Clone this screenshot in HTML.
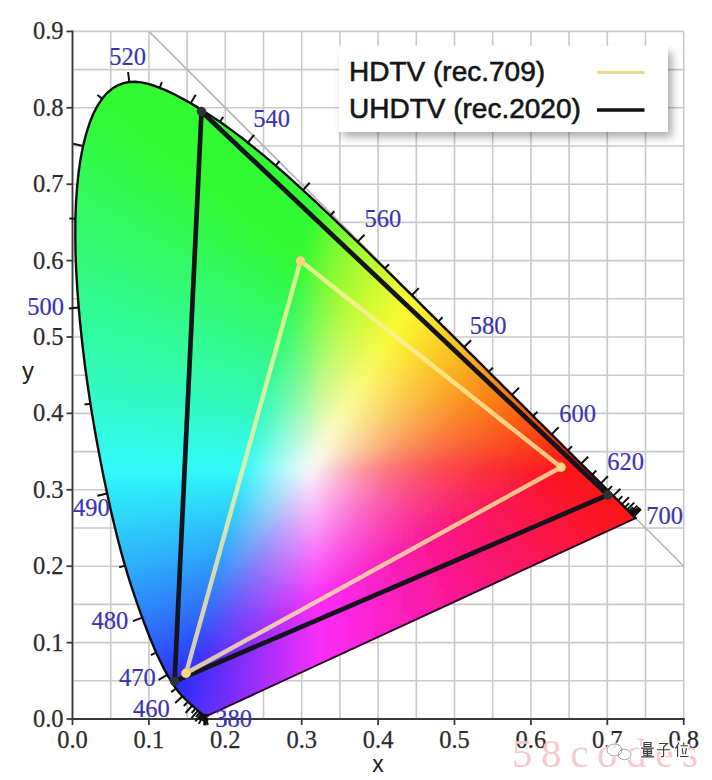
<!DOCTYPE html>
<html><head><meta charset="utf-8">
<style>
html,body{margin:0;padding:0;background:#fff;}
body{width:712px;height:780px;overflow:hidden;font-family:"Liberation Sans",sans-serif;}
svg{display:block;}
.serif{font-family:"Liberation Serif",serif;}
.sans{font-family:"Liberation Sans",sans-serif;}
</style></head><body>
<svg width="712" height="780" viewBox="0 0 712 780">
<defs>
<clipPath id="locus"><path d="M208.0 715.5 L205.5 715.2 L205.5 715.2 L205.5 715.2 L205.5 715.2 L205.4 715.2 L205.4 715.2 L205.4 715.2 L205.4 715.2 L205.3 715.2 L205.3 715.2 L205.2 715.2 L205.2 715.2 L205.2 715.2 L205.1 715.2 L205.1 715.2 L205.1 715.3 L205.0 715.3 L205.0 715.3 L205.0 715.3 L204.9 715.3 L204.9 715.3 L204.9 715.3 L204.8 715.4 L204.7 715.4 L204.7 715.4 L204.6 715.3 L204.6 715.3 L204.5 715.3 L204.4 715.3 L204.3 715.3 L204.3 715.3 L204.2 715.3 L204.1 715.3 L204.1 715.3 L204.0 715.3 L203.9 715.3 L203.8 715.3 L203.7 715.2 L203.6 715.2 L203.5 715.1 L203.3 715.0 L203.1 714.9 L203.0 714.8 L202.8 714.7 L202.6 714.6 L202.4 714.4 L202.2 714.3 L202.0 714.1 L201.8 713.9 L201.5 713.7 L201.3 713.5 L201.0 713.3 L200.7 713.0 L200.3 712.8 L200.0 712.5 L199.7 712.2 L199.3 711.8 L198.9 711.5 L198.5 711.1 L198.1 710.7 L197.7 710.3 L197.2 709.9 L196.7 709.4 L196.2 709.0 L195.6 708.5 L195.0 707.9 L194.3 707.4 L193.6 706.8 L192.9 706.1 L192.2 705.5 L191.4 704.8 L190.6 704.1 L189.7 703.3 L188.8 702.5 L187.9 701.6 L186.9 700.7 L185.8 699.7 L184.8 698.7 L183.6 697.5 L182.5 696.3 L181.3 695.0 L180.1 693.6 L178.8 692.1 L177.4 690.4 L176.0 688.5 L174.5 686.4 L172.9 684.0 L171.1 681.2 L169.3 678.2 L167.3 674.8 L165.3 671.2 L163.2 667.2 L161.0 662.8 L158.7 658.0 L156.2 652.7 L153.7 646.8 L151.0 640.4 L148.2 633.4 L145.3 625.8 L142.2 617.6 L139.0 608.7 L135.7 599.2 L132.2 588.8 L128.6 577.6 L125.0 565.6 L121.4 552.9 L117.8 539.3 L114.3 524.9 L110.7 509.7 L107.2 493.6 L103.6 476.8 L100.2 459.3 L96.8 441.2 L93.5 422.6 L90.4 403.7 L87.6 384.6 L84.9 365.3 L82.6 346.0 L80.5 326.8 L78.7 307.6 L77.3 288.8 L76.2 270.4 L75.5 252.6 L75.3 235.4 L75.4 218.7 L76.0 202.6 L77.1 187.2 L78.6 172.5 L80.6 158.7 L83.1 145.9 L86.1 134.1 L89.5 123.4 L93.3 113.8 L97.6 105.6 L102.2 98.6 L107.1 93.0 L112.4 88.6 L117.8 85.3 L123.5 83.1 L129.3 82.0 L135.2 81.8 L141.2 82.4 L147.3 83.7 L153.5 85.5 L159.7 87.8 L166.0 90.4 L172.2 93.3 L178.5 96.5 L184.6 99.9 L190.7 103.3 L196.7 106.9 L202.6 110.5 L208.4 114.2 L214.1 117.9 L219.9 121.8 L225.5 125.8 L231.2 129.9 L236.8 134.1 L242.4 138.3 L247.9 142.7 L253.5 147.1 L259.0 151.6 L264.5 156.2 L270.1 160.9 L275.6 165.6 L281.0 170.4 L286.5 175.2 L292.0 180.1 L297.5 185.1 L302.9 190.1 L308.4 195.1 L313.9 200.2 L319.3 205.3 L324.8 210.5 L330.2 215.6 L335.7 220.9 L341.2 226.1 L346.6 231.3 L352.1 236.6 L357.5 241.9 L363.0 247.2 L368.5 252.5 L373.9 257.9 L379.3 263.2 L384.8 268.5 L390.2 273.9 L395.6 279.2 L401.0 284.6 L406.4 289.9 L411.8 295.2 L417.1 300.5 L422.4 305.8 L427.7 311.1 L433.0 316.3 L438.3 321.6 L443.5 326.8 L448.7 331.9 L453.9 337.1 L459.0 342.2 L464.0 347.2 L469.1 352.3 L474.1 357.2 L479.0 362.1 L483.9 367.0 L488.7 371.8 L493.5 376.6 L498.2 381.2 L502.8 385.9 L507.4 390.4 L511.9 394.9 L516.3 399.3 L520.7 403.7 L525.0 407.9 L529.1 412.1 L533.1 416.1 L537.0 420.0 L540.8 423.7 L544.5 427.4 L548.1 430.9 L551.6 434.4 L555.0 437.8 L558.3 441.2 L561.6 444.4 L564.7 447.5 L567.8 450.5 L570.6 453.4 L573.4 456.2 L576.1 458.8 L578.7 461.4 L581.1 463.8 L583.5 466.2 L585.8 468.4 L588.0 470.6 L590.1 472.7 L592.1 474.7 L594.0 476.6 L595.8 478.4 L597.6 480.2 L599.2 481.8 L600.8 483.4 L602.3 484.9 L603.8 486.4 L605.2 487.8 L606.5 489.1 L607.8 490.3 L609.0 491.5 L610.1 492.7 L611.2 493.8 L612.3 494.9 L613.3 495.9 L614.4 496.9 L615.3 497.9 L616.3 498.8 L617.2 499.7 L618.0 500.6 L618.8 501.4 L619.6 502.2 L620.4 502.9 L621.1 503.7 L621.8 504.4 L622.5 505.0 L623.2 505.7 L623.8 506.3 L624.3 506.9 L624.9 507.4 L625.4 507.9 L625.9 508.4 L626.3 508.8 L626.8 509.3 L627.2 509.7 L627.5 510.0 L627.9 510.4 L628.3 510.8 L628.6 511.1 L628.9 511.4 L629.2 511.7 L629.5 512.0 L629.7 512.2 L630.0 512.5 L630.2 512.7 L630.4 512.9 L630.6 513.1 L630.7 513.2 L630.9 513.4 L631.1 513.6 L631.2 513.7 L631.3 513.8 L631.5 514.0 L631.6 514.1 L631.7 514.2 L631.9 514.4 L632.0 514.5 L632.1 514.6 L632.2 514.7 L632.3 514.8 L632.4 514.9 L632.5 515.0 L632.6 515.1 L632.7 515.2 L632.8 515.3 L632.9 515.4 L633.0 515.5 L633.1 515.6 L633.2 515.7 L633.3 515.8 L633.4 515.9 L633.4 515.9 L633.5 516.0 L633.5 516.0 L633.6 516.1 L633.6 516.1 L633.6 516.1 L633.7 516.2 L633.7 516.2 L633.7 516.2 L633.8 516.3 L633.8 516.3 L633.8 516.3 L633.8 516.3 L633.8 516.3 L635.6 518.1 Z"/></clipPath>
<filter id="blur" x="-5%" y="-5%" width="110%" height="110%"><feGaussianBlur stdDeviation="4"/></filter>
<filter id="shadow" x="-10%" y="-20%" width="125%" height="150%"><feGaussianBlur stdDeviation="4"/></filter>
<g id="wmg">
<g transform="translate(641,742.5)">
<path d="M3 0 H10 V4 H3 Z M3 2 H10 M0 5.6 H13 M2.5 7.2 H10.5 V11 H2.5 Z M2.5 9.1 H10.5 M6.5 7.2 V14.4 M2 12.7 H11 M0 14.4 H13"/>
</g>
<g transform="translate(657,742.5)">
<path d="M2 1 H10.5 L6.6 4.6 V13 Q6.6 14.6 4.2 14 M0 7.2 H13"/>
</g>
<g transform="translate(675,742.5)">
<path d="M4 0 L0.4 6.2 M2.6 3.6 V14.5 M8.7 0 V2.4 M5.5 3.2 H13 M7.2 5.6 L8 11.6 M11.4 5.6 L10.3 11.6 M5 14 H13.6"/>
</g>
</g>
<g id="wxi">
<ellipse cx="614.5" cy="750" rx="7.5" ry="6"/>
<ellipse cx="624.5" cy="754.5" rx="6.5" ry="5.2"/>
</g>
</defs>
<rect width="712" height="780" fill="#ffffff"/>
<g stroke="#c9c9c9" stroke-width="1.6" fill="none">
<line x1="72.5" y1="31.4" x2="72.5" y2="719.0"/>
<line x1="110.7" y1="31.4" x2="110.7" y2="719.0"/>
<line x1="148.9" y1="31.4" x2="148.9" y2="719.0"/>
<line x1="187.1" y1="31.4" x2="187.1" y2="719.0"/>
<line x1="225.3" y1="31.4" x2="225.3" y2="719.0"/>
<line x1="263.5" y1="31.4" x2="263.5" y2="719.0"/>
<line x1="301.7" y1="31.4" x2="301.7" y2="719.0"/>
<line x1="339.9" y1="31.4" x2="339.9" y2="719.0"/>
<line x1="378.1" y1="31.4" x2="378.1" y2="719.0"/>
<line x1="416.3" y1="31.4" x2="416.3" y2="719.0"/>
<line x1="454.5" y1="31.4" x2="454.5" y2="719.0"/>
<line x1="492.7" y1="31.4" x2="492.7" y2="719.0"/>
<line x1="530.9" y1="31.4" x2="530.9" y2="719.0"/>
<line x1="569.1" y1="31.4" x2="569.1" y2="719.0"/>
<line x1="607.3" y1="31.4" x2="607.3" y2="719.0"/>
<line x1="645.5" y1="31.4" x2="645.5" y2="719.0"/>
<line x1="683.7" y1="31.4" x2="683.7" y2="719.0"/>
<line x1="72.5" y1="719.0" x2="683.7" y2="719.0"/>
<line x1="72.5" y1="680.8" x2="683.7" y2="680.8"/>
<line x1="72.5" y1="642.6" x2="683.7" y2="642.6"/>
<line x1="72.5" y1="604.4" x2="683.7" y2="604.4"/>
<line x1="72.5" y1="566.2" x2="683.7" y2="566.2"/>
<line x1="72.5" y1="528.0" x2="683.7" y2="528.0"/>
<line x1="72.5" y1="489.8" x2="683.7" y2="489.8"/>
<line x1="72.5" y1="451.6" x2="683.7" y2="451.6"/>
<line x1="72.5" y1="413.4" x2="683.7" y2="413.4"/>
<line x1="72.5" y1="375.2" x2="683.7" y2="375.2"/>
<line x1="72.5" y1="337.0" x2="683.7" y2="337.0"/>
<line x1="72.5" y1="298.8" x2="683.7" y2="298.8"/>
<line x1="72.5" y1="260.6" x2="683.7" y2="260.6"/>
<line x1="72.5" y1="222.4" x2="683.7" y2="222.4"/>
<line x1="72.5" y1="184.2" x2="683.7" y2="184.2"/>
<line x1="72.5" y1="146.0" x2="683.7" y2="146.0"/>
<line x1="72.5" y1="107.8" x2="683.7" y2="107.8"/>
<line x1="72.5" y1="69.6" x2="683.7" y2="69.6"/>
<line x1="72.5" y1="31.4" x2="683.7" y2="31.4"/>
</g>
<line x1="148.9" y1="31.4" x2="683.7" y2="566.2" stroke="#b4b4b4" stroke-width="1.6"/>
<g stroke="#3a3a3a" stroke-width="1.8" fill="none">
<line x1="72.5" y1="30.4" x2="72.5" y2="720.0"/>
<line x1="71.5" y1="719.0" x2="684.7" y2="719.0"/>
<line x1="72.5" y1="719.0" x2="72.5" y2="725.0"/>
<line x1="148.9" y1="719.0" x2="148.9" y2="725.0"/>
<line x1="225.3" y1="719.0" x2="225.3" y2="725.0"/>
<line x1="301.7" y1="719.0" x2="301.7" y2="725.0"/>
<line x1="378.1" y1="719.0" x2="378.1" y2="725.0"/>
<line x1="454.5" y1="719.0" x2="454.5" y2="725.0"/>
<line x1="530.9" y1="719.0" x2="530.9" y2="725.0"/>
<line x1="607.3" y1="719.0" x2="607.3" y2="725.0"/>
<line x1="683.7" y1="719.0" x2="683.7" y2="725.0"/>
<line x1="66.5" y1="719.0" x2="72.5" y2="719.0"/>
<line x1="66.5" y1="642.6" x2="72.5" y2="642.6"/>
<line x1="66.5" y1="566.2" x2="72.5" y2="566.2"/>
<line x1="66.5" y1="489.8" x2="72.5" y2="489.8"/>
<line x1="66.5" y1="413.4" x2="72.5" y2="413.4"/>
<line x1="66.5" y1="337.0" x2="72.5" y2="337.0"/>
<line x1="66.5" y1="260.6" x2="72.5" y2="260.6"/>
<line x1="66.5" y1="184.2" x2="72.5" y2="184.2"/>
<line x1="66.5" y1="107.8" x2="72.5" y2="107.8"/>
<line x1="66.5" y1="31.4" x2="72.5" y2="31.4"/>
</g>
<g class="serif" font-size="24.5" fill="#2b2b2b" stroke="#2b2b2b" stroke-width="0.25">
<text x="72.5" y="747.5" text-anchor="middle">0.0</text>
<text x="148.9" y="747.5" text-anchor="middle">0.1</text>
<text x="225.3" y="747.5" text-anchor="middle">0.2</text>
<text x="301.7" y="747.5" text-anchor="middle">0.3</text>
<text x="378.1" y="747.5" text-anchor="middle">0.4</text>
<text x="454.5" y="747.5" text-anchor="middle">0.5</text>
<text x="530.9" y="747.5" text-anchor="middle">0.6</text>
<text x="607.3" y="747.5" text-anchor="middle">0.7</text>
<text x="683.7" y="747.5" text-anchor="middle">0.8</text>
<text x="63.5" y="727.0" text-anchor="end">0.0</text>
<text x="63.5" y="650.6" text-anchor="end">0.1</text>
<text x="63.5" y="574.2" text-anchor="end">0.2</text>
<text x="63.5" y="497.8" text-anchor="end">0.3</text>
<text x="63.5" y="421.4" text-anchor="end">0.4</text>
<text x="63.5" y="345.0" text-anchor="end">0.5</text>
<text x="63.5" y="268.6" text-anchor="end">0.6</text>
<text x="63.5" y="192.2" text-anchor="end">0.7</text>
<text x="63.5" y="115.8" text-anchor="end">0.8</text>
<text x="63.5" y="39.4" text-anchor="end">0.9</text>
</g>
<g clip-path="url(#locus)">
<g filter="url(#blur)">
<rect x="114" y="60" width="43" height="7" fill="#32fa32"/>
<rect x="102" y="66" width="73" height="7" fill="#32fa32"/>
<rect x="96" y="72" width="91" height="7" fill="#32fa32"/>
<rect x="90" y="78" width="109" height="7" fill="#32fa32"/>
<rect x="84" y="84" width="127" height="7" fill="#32fa32"/>
<rect x="78" y="90" width="7" height="7" fill="#32fa35"/>
<rect x="84" y="90" width="7" height="7" fill="#32fa33"/>
<rect x="90" y="90" width="127" height="7" fill="#32fa32"/>
<rect x="78" y="96" width="7" height="7" fill="#32fa37"/>
<rect x="84" y="96" width="7" height="7" fill="#32fa35"/>
<rect x="90" y="96" width="7" height="7" fill="#32fa34"/>
<rect x="96" y="96" width="133" height="7" fill="#32fa32"/>
<rect x="72" y="102" width="7" height="7" fill="#32fa3b"/>
<rect x="78" y="102" width="7" height="7" fill="#32fa39"/>
<rect x="84" y="102" width="7" height="7" fill="#32fa38"/>
<rect x="90" y="102" width="7" height="7" fill="#32fa36"/>
<rect x="96" y="102" width="7" height="7" fill="#32fa34"/>
<rect x="102" y="102" width="133" height="7" fill="#32fa32"/>
<rect x="72" y="108" width="7" height="7" fill="#32fa3d"/>
<rect x="78" y="108" width="7" height="7" fill="#32fa3c"/>
<rect x="84" y="108" width="7" height="7" fill="#32fa3a"/>
<rect x="90" y="108" width="7" height="7" fill="#32fa38"/>
<rect x="96" y="108" width="7" height="7" fill="#32fa36"/>
<rect x="102" y="108" width="7" height="7" fill="#32fa35"/>
<rect x="108" y="108" width="7" height="7" fill="#32fa33"/>
<rect x="114" y="108" width="133" height="7" fill="#32fa32"/>
<rect x="66" y="114" width="7" height="7" fill="#32fa41"/>
<rect x="72" y="114" width="7" height="7" fill="#32fa40"/>
<rect x="78" y="114" width="7" height="7" fill="#32fa3e"/>
<rect x="84" y="114" width="7" height="7" fill="#32fa3c"/>
<rect x="90" y="114" width="7" height="7" fill="#32fa3b"/>
<rect x="96" y="114" width="7" height="7" fill="#32fa39"/>
<rect x="102" y="114" width="7" height="7" fill="#32fa37"/>
<rect x="108" y="114" width="7" height="7" fill="#32fa35"/>
<rect x="114" y="114" width="7" height="7" fill="#32fa33"/>
<rect x="120" y="114" width="133" height="7" fill="#32fa32"/>
<rect x="66" y="120" width="7" height="7" fill="#32fa44"/>
<rect x="72" y="120" width="7" height="7" fill="#32fa42"/>
<rect x="78" y="120" width="7" height="7" fill="#32fa40"/>
<rect x="84" y="120" width="7" height="7" fill="#32fa3f"/>
<rect x="90" y="120" width="7" height="7" fill="#32fa3d"/>
<rect x="96" y="120" width="7" height="7" fill="#32fa3b"/>
<rect x="102" y="120" width="7" height="7" fill="#32fa39"/>
<rect x="108" y="120" width="7" height="7" fill="#32fa38"/>
<rect x="114" y="120" width="7" height="7" fill="#32fa36"/>
<rect x="120" y="120" width="7" height="7" fill="#32fa34"/>
<rect x="126" y="120" width="133" height="7" fill="#32fa32"/>
<rect x="66" y="126" width="7" height="7" fill="#32fa46"/>
<rect x="72" y="126" width="7" height="7" fill="#32fa44"/>
<rect x="78" y="126" width="7" height="7" fill="#32fa43"/>
<rect x="84" y="126" width="7" height="7" fill="#32fa41"/>
<rect x="90" y="126" width="7" height="7" fill="#32fa3f"/>
<rect x="96" y="126" width="7" height="7" fill="#32fa3e"/>
<rect x="102" y="126" width="7" height="7" fill="#32fa3c"/>
<rect x="108" y="126" width="7" height="7" fill="#32fa3a"/>
<rect x="114" y="126" width="7" height="7" fill="#32fa38"/>
<rect x="120" y="126" width="7" height="7" fill="#32fa36"/>
<rect x="126" y="126" width="7" height="7" fill="#32fa34"/>
<rect x="132" y="126" width="133" height="7" fill="#32fa32"/>
<rect x="60" y="132" width="7" height="7" fill="#32fa4a"/>
<rect x="66" y="132" width="7" height="7" fill="#32fa48"/>
<rect x="72" y="132" width="7" height="7" fill="#32fa47"/>
<rect x="78" y="132" width="7" height="7" fill="#32fa45"/>
<rect x="84" y="132" width="7" height="7" fill="#32fa43"/>
<rect x="90" y="132" width="7" height="7" fill="#32fa42"/>
<rect x="96" y="132" width="7" height="7" fill="#32fa40"/>
<rect x="102" y="132" width="7" height="7" fill="#32fa3e"/>
<rect x="108" y="132" width="7" height="7" fill="#32fa3c"/>
<rect x="114" y="132" width="7" height="7" fill="#32fa3b"/>
<rect x="120" y="132" width="7" height="7" fill="#32fa39"/>
<rect x="126" y="132" width="7" height="7" fill="#32fa37"/>
<rect x="132" y="132" width="7" height="7" fill="#32fa35"/>
<rect x="138" y="132" width="7" height="7" fill="#32fa33"/>
<rect x="144" y="132" width="133" height="7" fill="#32fa32"/>
<rect x="60" y="138" width="7" height="7" fill="#32fa4c"/>
<rect x="66" y="138" width="7" height="7" fill="#32fa4b"/>
<rect x="72" y="138" width="7" height="7" fill="#32fa49"/>
<rect x="78" y="138" width="7" height="7" fill="#32fa48"/>
<rect x="84" y="138" width="7" height="7" fill="#32fa46"/>
<rect x="90" y="138" width="7" height="7" fill="#32fa44"/>
<rect x="96" y="138" width="7" height="7" fill="#32fa43"/>
<rect x="102" y="138" width="7" height="7" fill="#32fa41"/>
<rect x="108" y="138" width="7" height="7" fill="#32fa3f"/>
<rect x="114" y="138" width="7" height="7" fill="#32fa3d"/>
<rect x="120" y="138" width="7" height="7" fill="#32fa3b"/>
<rect x="126" y="138" width="7" height="7" fill="#32fa39"/>
<rect x="132" y="138" width="7" height="7" fill="#32fa37"/>
<rect x="138" y="138" width="7" height="7" fill="#32fa35"/>
<rect x="144" y="138" width="7" height="7" fill="#32fa33"/>
<rect x="150" y="138" width="133" height="7" fill="#32fa32"/>
<rect x="60" y="144" width="7" height="7" fill="#32fa4f"/>
<rect x="66" y="144" width="7" height="7" fill="#32fa4d"/>
<rect x="72" y="144" width="7" height="7" fill="#32fa4c"/>
<rect x="78" y="144" width="7" height="7" fill="#32fa4a"/>
<rect x="84" y="144" width="7" height="7" fill="#32fa48"/>
<rect x="90" y="144" width="7" height="7" fill="#32fa47"/>
<rect x="96" y="144" width="7" height="7" fill="#32fa45"/>
<rect x="102" y="144" width="7" height="7" fill="#32fa43"/>
<rect x="108" y="144" width="7" height="7" fill="#32fa41"/>
<rect x="114" y="144" width="7" height="7" fill="#32fa40"/>
<rect x="120" y="144" width="7" height="7" fill="#32fa3e"/>
<rect x="126" y="144" width="7" height="7" fill="#32fa3c"/>
<rect x="132" y="144" width="7" height="7" fill="#32fa3a"/>
<rect x="138" y="144" width="7" height="7" fill="#32fa38"/>
<rect x="144" y="144" width="7" height="7" fill="#32fa36"/>
<rect x="150" y="144" width="7" height="7" fill="#32fa34"/>
<rect x="156" y="144" width="133" height="7" fill="#32fa32"/>
<rect x="60" y="150" width="7" height="7" fill="#32fa51"/>
<rect x="66" y="150" width="7" height="7" fill="#32fa50"/>
<rect x="72" y="150" width="7" height="7" fill="#32fa4e"/>
<rect x="78" y="150" width="7" height="7" fill="#32fa4d"/>
<rect x="84" y="150" width="7" height="7" fill="#32fa4b"/>
<rect x="90" y="150" width="7" height="7" fill="#32fa49"/>
<rect x="96" y="150" width="7" height="7" fill="#32fa48"/>
<rect x="102" y="150" width="7" height="7" fill="#32fa46"/>
<rect x="108" y="150" width="7" height="7" fill="#32fa44"/>
<rect x="114" y="150" width="7" height="7" fill="#32fa42"/>
<rect x="120" y="150" width="7" height="7" fill="#32fa40"/>
<rect x="126" y="150" width="7" height="7" fill="#32fa3f"/>
<rect x="132" y="150" width="7" height="7" fill="#32fa3d"/>
<rect x="138" y="150" width="7" height="7" fill="#32fa3b"/>
<rect x="144" y="150" width="7" height="7" fill="#32fa39"/>
<rect x="150" y="150" width="7" height="7" fill="#32fa37"/>
<rect x="156" y="150" width="7" height="7" fill="#32fa35"/>
<rect x="162" y="150" width="133" height="7" fill="#32fa32"/>
<rect x="60" y="156" width="7" height="7" fill="#32fa54"/>
<rect x="66" y="156" width="7" height="7" fill="#32fa52"/>
<rect x="72" y="156" width="7" height="7" fill="#32fa51"/>
<rect x="78" y="156" width="7" height="7" fill="#32fa4f"/>
<rect x="84" y="156" width="7" height="7" fill="#32fa4d"/>
<rect x="90" y="156" width="7" height="7" fill="#32fa4c"/>
<rect x="96" y="156" width="7" height="7" fill="#32fa4a"/>
<rect x="102" y="156" width="7" height="7" fill="#32fa48"/>
<rect x="108" y="156" width="7" height="7" fill="#32fa47"/>
<rect x="114" y="156" width="7" height="7" fill="#32fa45"/>
<rect x="120" y="156" width="7" height="7" fill="#32fa43"/>
<rect x="126" y="156" width="7" height="7" fill="#32fa41"/>
<rect x="132" y="156" width="7" height="7" fill="#32fa3f"/>
<rect x="138" y="156" width="7" height="7" fill="#32fa3d"/>
<rect x="144" y="156" width="7" height="7" fill="#32fa3b"/>
<rect x="150" y="156" width="7" height="7" fill="#32fa39"/>
<rect x="156" y="156" width="7" height="7" fill="#32fa37"/>
<rect x="162" y="156" width="7" height="7" fill="#32fa35"/>
<rect x="168" y="156" width="7" height="7" fill="#32fa33"/>
<rect x="174" y="156" width="127" height="7" fill="#32fa32"/>
<rect x="54" y="162" width="7" height="7" fill="#32fa58"/>
<rect x="60" y="162" width="7" height="7" fill="#32fa56"/>
<rect x="66" y="162" width="7" height="7" fill="#32fa55"/>
<rect x="72" y="162" width="7" height="7" fill="#32fa53"/>
<rect x="78" y="162" width="7" height="7" fill="#32fa52"/>
<rect x="84" y="162" width="7" height="7" fill="#32fa50"/>
<rect x="90" y="162" width="7" height="7" fill="#32fa4e"/>
<rect x="96" y="162" width="7" height="7" fill="#32fa4d"/>
<rect x="102" y="162" width="7" height="7" fill="#32fa4b"/>
<rect x="108" y="162" width="7" height="7" fill="#32fa49"/>
<rect x="114" y="162" width="7" height="7" fill="#32fa47"/>
<rect x="120" y="162" width="7" height="7" fill="#32fa46"/>
<rect x="126" y="162" width="7" height="7" fill="#32fa44"/>
<rect x="132" y="162" width="7" height="7" fill="#32fa42"/>
<rect x="138" y="162" width="7" height="7" fill="#32fa40"/>
<rect x="144" y="162" width="7" height="7" fill="#32fa3e"/>
<rect x="150" y="162" width="7" height="7" fill="#32fa3c"/>
<rect x="156" y="162" width="7" height="7" fill="#32fa3a"/>
<rect x="162" y="162" width="7" height="7" fill="#32fa38"/>
<rect x="168" y="162" width="7" height="7" fill="#32fa36"/>
<rect x="174" y="162" width="7" height="7" fill="#32fa34"/>
<rect x="180" y="162" width="127" height="7" fill="#32fa32"/>
<rect x="54" y="168" width="7" height="7" fill="#32fa5a"/>
<rect x="60" y="168" width="7" height="7" fill="#32fa59"/>
<rect x="66" y="168" width="7" height="7" fill="#32fa57"/>
<rect x="72" y="168" width="7" height="7" fill="#32fa56"/>
<rect x="78" y="168" width="7" height="7" fill="#32fa54"/>
<rect x="84" y="168" width="7" height="7" fill="#32fa52"/>
<rect x="90" y="168" width="7" height="7" fill="#32fa51"/>
<rect x="96" y="168" width="7" height="7" fill="#32fa4f"/>
<rect x="102" y="168" width="7" height="7" fill="#32fa4e"/>
<rect x="108" y="168" width="7" height="7" fill="#32fa4c"/>
<rect x="114" y="168" width="7" height="7" fill="#32fa4a"/>
<rect x="120" y="168" width="7" height="7" fill="#32fa48"/>
<rect x="126" y="168" width="7" height="7" fill="#32fa46"/>
<rect x="132" y="168" width="7" height="7" fill="#32fa45"/>
<rect x="138" y="168" width="7" height="7" fill="#32fa43"/>
<rect x="144" y="168" width="7" height="7" fill="#32fa41"/>
<rect x="150" y="168" width="7" height="7" fill="#32fa3f"/>
<rect x="156" y="168" width="7" height="7" fill="#32fa3d"/>
<rect x="162" y="168" width="7" height="7" fill="#32fa3b"/>
<rect x="168" y="168" width="7" height="7" fill="#32fa39"/>
<rect x="174" y="168" width="7" height="7" fill="#32fa36"/>
<rect x="180" y="168" width="7" height="7" fill="#32fa34"/>
<rect x="186" y="168" width="133" height="7" fill="#32fa32"/>
<rect x="54" y="174" width="7" height="7" fill="#32fa5d"/>
<rect x="60" y="174" width="7" height="7" fill="#32fa5b"/>
<rect x="66" y="174" width="7" height="7" fill="#32fa5a"/>
<rect x="72" y="174" width="7" height="7" fill="#32fa58"/>
<rect x="78" y="174" width="7" height="7" fill="#32fa57"/>
<rect x="84" y="174" width="7" height="7" fill="#32fa55"/>
<rect x="90" y="174" width="7" height="7" fill="#32fa53"/>
<rect x="96" y="174" width="7" height="7" fill="#32fa52"/>
<rect x="102" y="174" width="7" height="7" fill="#32fa50"/>
<rect x="108" y="174" width="7" height="7" fill="#32fa4e"/>
<rect x="114" y="174" width="7" height="7" fill="#32fa4d"/>
<rect x="120" y="174" width="7" height="7" fill="#32fa4b"/>
<rect x="126" y="174" width="7" height="7" fill="#32fa49"/>
<rect x="132" y="174" width="7" height="7" fill="#32fa47"/>
<rect x="138" y="174" width="7" height="7" fill="#32fa45"/>
<rect x="144" y="174" width="7" height="7" fill="#32fa44"/>
<rect x="150" y="174" width="7" height="7" fill="#32fa42"/>
<rect x="156" y="174" width="7" height="7" fill="#32fa40"/>
<rect x="162" y="174" width="7" height="7" fill="#32fa3d"/>
<rect x="168" y="174" width="7" height="7" fill="#32fa3b"/>
<rect x="174" y="174" width="7" height="7" fill="#32fa39"/>
<rect x="180" y="174" width="7" height="7" fill="#32fa37"/>
<rect x="186" y="174" width="7" height="7" fill="#32fa35"/>
<rect x="192" y="174" width="7" height="7" fill="#32fa33"/>
<rect x="198" y="174" width="127" height="7" fill="#32fa32"/>
<rect x="54" y="180" width="7" height="7" fill="#32fa5f"/>
<rect x="60" y="180" width="7" height="7" fill="#32fa5e"/>
<rect x="66" y="180" width="7" height="7" fill="#32fa5c"/>
<rect x="72" y="180" width="7" height="7" fill="#32fa5b"/>
<rect x="78" y="180" width="7" height="7" fill="#32fa59"/>
<rect x="84" y="180" width="7" height="7" fill="#32fa58"/>
<rect x="90" y="180" width="7" height="7" fill="#32fa56"/>
<rect x="96" y="180" width="7" height="7" fill="#32fa54"/>
<rect x="102" y="180" width="7" height="7" fill="#32fa53"/>
<rect x="108" y="180" width="7" height="7" fill="#32fa51"/>
<rect x="114" y="180" width="7" height="7" fill="#32fa4f"/>
<rect x="120" y="180" width="7" height="7" fill="#32fa4e"/>
<rect x="126" y="180" width="7" height="7" fill="#32fa4c"/>
<rect x="132" y="180" width="7" height="7" fill="#32fa4a"/>
<rect x="138" y="180" width="7" height="7" fill="#32fa48"/>
<rect x="144" y="180" width="7" height="7" fill="#32fa46"/>
<rect x="150" y="180" width="7" height="7" fill="#32fa44"/>
<rect x="156" y="180" width="7" height="7" fill="#32fa42"/>
<rect x="162" y="180" width="7" height="7" fill="#32fa40"/>
<rect x="168" y="180" width="7" height="7" fill="#32fa3e"/>
<rect x="174" y="180" width="7" height="7" fill="#32fa3c"/>
<rect x="180" y="180" width="7" height="7" fill="#32fa3a"/>
<rect x="186" y="180" width="7" height="7" fill="#32fa38"/>
<rect x="192" y="180" width="7" height="7" fill="#32fa35"/>
<rect x="198" y="180" width="7" height="7" fill="#32fa33"/>
<rect x="204" y="180" width="121" height="7" fill="#32fa32"/>
<rect x="324" y="180" width="7" height="7" fill="#3bfa32"/>
<rect x="54" y="186" width="7" height="7" fill="#32fa62"/>
<rect x="60" y="186" width="7" height="7" fill="#32fa60"/>
<rect x="66" y="186" width="7" height="7" fill="#32fa5f"/>
<rect x="72" y="186" width="7" height="7" fill="#32fa5d"/>
<rect x="78" y="186" width="7" height="7" fill="#32fa5c"/>
<rect x="84" y="186" width="7" height="7" fill="#32fa5a"/>
<rect x="90" y="186" width="7" height="7" fill="#32fa59"/>
<rect x="96" y="186" width="7" height="7" fill="#32fa57"/>
<rect x="102" y="186" width="7" height="7" fill="#32fa55"/>
<rect x="108" y="186" width="7" height="7" fill="#32fa54"/>
<rect x="114" y="186" width="7" height="7" fill="#32fa52"/>
<rect x="120" y="186" width="7" height="7" fill="#32fa50"/>
<rect x="126" y="186" width="7" height="7" fill="#32fa4f"/>
<rect x="132" y="186" width="7" height="7" fill="#32fa4d"/>
<rect x="138" y="186" width="7" height="7" fill="#32fa4b"/>
<rect x="144" y="186" width="7" height="7" fill="#32fa49"/>
<rect x="150" y="186" width="7" height="7" fill="#32fa47"/>
<rect x="156" y="186" width="7" height="7" fill="#32fa45"/>
<rect x="162" y="186" width="7" height="7" fill="#32fa43"/>
<rect x="168" y="186" width="7" height="7" fill="#32fa41"/>
<rect x="174" y="186" width="7" height="7" fill="#32fa3f"/>
<rect x="180" y="186" width="7" height="7" fill="#32fa3d"/>
<rect x="186" y="186" width="7" height="7" fill="#32fa3b"/>
<rect x="192" y="186" width="7" height="7" fill="#32fa38"/>
<rect x="198" y="186" width="7" height="7" fill="#32fa36"/>
<rect x="204" y="186" width="7" height="7" fill="#32fa34"/>
<rect x="210" y="186" width="115" height="7" fill="#32fa32"/>
<rect x="324" y="186" width="7" height="7" fill="#3ffa32"/>
<rect x="330" y="186" width="7" height="7" fill="#4cfa32"/>
<rect x="54" y="192" width="7" height="7" fill="#32fa64"/>
<rect x="60" y="192" width="7" height="7" fill="#32fa63"/>
<rect x="66" y="192" width="7" height="7" fill="#32fa61"/>
<rect x="72" y="192" width="7" height="7" fill="#32fa60"/>
<rect x="78" y="192" width="7" height="7" fill="#32fa5e"/>
<rect x="84" y="192" width="7" height="7" fill="#32fa5d"/>
<rect x="90" y="192" width="7" height="7" fill="#32fa5b"/>
<rect x="96" y="192" width="7" height="7" fill="#32fa5a"/>
<rect x="102" y="192" width="7" height="7" fill="#32fa58"/>
<rect x="108" y="192" width="7" height="7" fill="#32fa57"/>
<rect x="114" y="192" width="7" height="7" fill="#32fa55"/>
<rect x="120" y="192" width="7" height="7" fill="#32fa53"/>
<rect x="126" y="192" width="7" height="7" fill="#32fa51"/>
<rect x="132" y="192" width="7" height="7" fill="#32fa50"/>
<rect x="138" y="192" width="7" height="7" fill="#32fa4e"/>
<rect x="144" y="192" width="7" height="7" fill="#32fa4c"/>
<rect x="150" y="192" width="7" height="7" fill="#32fa4a"/>
<rect x="156" y="192" width="7" height="7" fill="#32fa48"/>
<rect x="162" y="192" width="7" height="7" fill="#32fa46"/>
<rect x="168" y="192" width="7" height="7" fill="#32fa44"/>
<rect x="174" y="192" width="7" height="7" fill="#32fa42"/>
<rect x="180" y="192" width="7" height="7" fill="#32fa40"/>
<rect x="186" y="192" width="7" height="7" fill="#32fa3e"/>
<rect x="192" y="192" width="7" height="7" fill="#32fa3b"/>
<rect x="198" y="192" width="7" height="7" fill="#32fa39"/>
<rect x="204" y="192" width="7" height="7" fill="#32fa37"/>
<rect x="210" y="192" width="7" height="7" fill="#32fa34"/>
<rect x="216" y="192" width="103" height="7" fill="#32fa32"/>
<rect x="318" y="192" width="7" height="7" fill="#35fa32"/>
<rect x="324" y="192" width="7" height="7" fill="#43fa32"/>
<rect x="330" y="192" width="7" height="7" fill="#50fa32"/>
<rect x="336" y="192" width="7" height="7" fill="#5cfa32"/>
<rect x="54" y="198" width="7" height="7" fill="#32fa67"/>
<rect x="60" y="198" width="7" height="7" fill="#32fa65"/>
<rect x="66" y="198" width="7" height="7" fill="#32fa64"/>
<rect x="72" y="198" width="7" height="7" fill="#32fa63"/>
<rect x="78" y="198" width="7" height="7" fill="#32fa61"/>
<rect x="84" y="198" width="7" height="7" fill="#32fa60"/>
<rect x="90" y="198" width="7" height="7" fill="#32fa5e"/>
<rect x="96" y="198" width="7" height="7" fill="#32fa5d"/>
<rect x="102" y="198" width="7" height="7" fill="#32fa5b"/>
<rect x="108" y="198" width="7" height="7" fill="#32fa59"/>
<rect x="114" y="198" width="7" height="7" fill="#32fa58"/>
<rect x="120" y="198" width="7" height="7" fill="#32fa56"/>
<rect x="126" y="198" width="7" height="7" fill="#32fa54"/>
<rect x="132" y="198" width="7" height="7" fill="#32fa52"/>
<rect x="138" y="198" width="7" height="7" fill="#32fa51"/>
<rect x="144" y="198" width="7" height="7" fill="#32fa4f"/>
<rect x="150" y="198" width="7" height="7" fill="#32fa4d"/>
<rect x="156" y="198" width="7" height="7" fill="#32fa4b"/>
<rect x="162" y="198" width="7" height="7" fill="#32fa49"/>
<rect x="168" y="198" width="7" height="7" fill="#32fa47"/>
<rect x="174" y="198" width="7" height="7" fill="#32fa45"/>
<rect x="180" y="198" width="7" height="7" fill="#32fa43"/>
<rect x="186" y="198" width="7" height="7" fill="#32fa41"/>
<rect x="192" y="198" width="7" height="7" fill="#32fa3f"/>
<rect x="198" y="198" width="7" height="7" fill="#32fa3c"/>
<rect x="204" y="198" width="7" height="7" fill="#32fa3a"/>
<rect x="210" y="198" width="7" height="7" fill="#32fa38"/>
<rect x="216" y="198" width="7" height="7" fill="#32fa35"/>
<rect x="222" y="198" width="7" height="7" fill="#32fa33"/>
<rect x="228" y="198" width="91" height="7" fill="#32fa32"/>
<rect x="318" y="198" width="7" height="7" fill="#39fa32"/>
<rect x="324" y="198" width="7" height="7" fill="#47fa32"/>
<rect x="330" y="198" width="7" height="7" fill="#54fa32"/>
<rect x="336" y="198" width="7" height="7" fill="#60fa32"/>
<rect x="342" y="198" width="7" height="7" fill="#6cfa32"/>
<rect x="54" y="204" width="7" height="7" fill="#32fa69"/>
<rect x="60" y="204" width="7" height="7" fill="#32fa68"/>
<rect x="66" y="204" width="7" height="7" fill="#32fa67"/>
<rect x="72" y="204" width="7" height="7" fill="#32fa65"/>
<rect x="78" y="204" width="7" height="7" fill="#32fa64"/>
<rect x="84" y="204" width="7" height="7" fill="#32fa62"/>
<rect x="90" y="204" width="7" height="7" fill="#32fa61"/>
<rect x="96" y="204" width="7" height="7" fill="#32fa5f"/>
<rect x="102" y="204" width="7" height="7" fill="#32fa5e"/>
<rect x="108" y="204" width="7" height="7" fill="#32fa5c"/>
<rect x="114" y="204" width="7" height="7" fill="#32fa5a"/>
<rect x="120" y="204" width="7" height="7" fill="#32fa59"/>
<rect x="126" y="204" width="7" height="7" fill="#32fa57"/>
<rect x="132" y="204" width="7" height="7" fill="#32fa55"/>
<rect x="138" y="204" width="7" height="7" fill="#32fa54"/>
<rect x="144" y="204" width="7" height="7" fill="#32fa52"/>
<rect x="150" y="204" width="7" height="7" fill="#32fa50"/>
<rect x="156" y="204" width="7" height="7" fill="#32fa4e"/>
<rect x="162" y="204" width="7" height="7" fill="#32fa4c"/>
<rect x="168" y="204" width="7" height="7" fill="#32fa4a"/>
<rect x="174" y="204" width="7" height="7" fill="#32fa48"/>
<rect x="180" y="204" width="7" height="7" fill="#32fa46"/>
<rect x="186" y="204" width="7" height="7" fill="#32fa44"/>
<rect x="192" y="204" width="7" height="7" fill="#32fa42"/>
<rect x="198" y="204" width="7" height="7" fill="#32fa3f"/>
<rect x="204" y="204" width="7" height="7" fill="#32fa3d"/>
<rect x="210" y="204" width="7" height="7" fill="#32fa3b"/>
<rect x="216" y="204" width="7" height="7" fill="#32fa38"/>
<rect x="222" y="204" width="7" height="7" fill="#32fa36"/>
<rect x="228" y="204" width="7" height="7" fill="#32fa33"/>
<rect x="234" y="204" width="85" height="7" fill="#32fa32"/>
<rect x="318" y="204" width="7" height="7" fill="#3dfa32"/>
<rect x="324" y="204" width="7" height="7" fill="#4bfa32"/>
<rect x="330" y="204" width="7" height="7" fill="#58fa32"/>
<rect x="336" y="204" width="7" height="7" fill="#64fa32"/>
<rect x="342" y="204" width="7" height="7" fill="#6ffa32"/>
<rect x="348" y="204" width="7" height="7" fill="#7afa32"/>
<rect x="54" y="210" width="7" height="7" fill="#32fa6c"/>
<rect x="60" y="210" width="7" height="7" fill="#32fa6b"/>
<rect x="66" y="210" width="7" height="7" fill="#32fa69"/>
<rect x="72" y="210" width="7" height="7" fill="#32fa68"/>
<rect x="78" y="210" width="7" height="7" fill="#32fa67"/>
<rect x="84" y="210" width="7" height="7" fill="#32fa65"/>
<rect x="90" y="210" width="7" height="7" fill="#32fa64"/>
<rect x="96" y="210" width="7" height="7" fill="#32fa62"/>
<rect x="102" y="210" width="7" height="7" fill="#32fa61"/>
<rect x="108" y="210" width="7" height="7" fill="#32fa5f"/>
<rect x="114" y="210" width="7" height="7" fill="#32fa5d"/>
<rect x="120" y="210" width="7" height="7" fill="#32fa5c"/>
<rect x="126" y="210" width="7" height="7" fill="#32fa5a"/>
<rect x="132" y="210" width="7" height="7" fill="#32fa58"/>
<rect x="138" y="210" width="7" height="7" fill="#32fa57"/>
<rect x="144" y="210" width="7" height="7" fill="#32fa55"/>
<rect x="150" y="210" width="7" height="7" fill="#32fa53"/>
<rect x="156" y="210" width="7" height="7" fill="#32fa51"/>
<rect x="162" y="210" width="7" height="7" fill="#32fa4f"/>
<rect x="168" y="210" width="7" height="7" fill="#32fa4d"/>
<rect x="174" y="210" width="7" height="7" fill="#32fa4b"/>
<rect x="180" y="210" width="7" height="7" fill="#32fa49"/>
<rect x="186" y="210" width="7" height="7" fill="#32fa47"/>
<rect x="192" y="210" width="7" height="7" fill="#32fa45"/>
<rect x="198" y="210" width="7" height="7" fill="#32fa43"/>
<rect x="204" y="210" width="7" height="7" fill="#32fa40"/>
<rect x="210" y="210" width="7" height="7" fill="#32fa3e"/>
<rect x="216" y="210" width="7" height="7" fill="#32fa3c"/>
<rect x="222" y="210" width="7" height="7" fill="#32fa39"/>
<rect x="228" y="210" width="7" height="7" fill="#32fa37"/>
<rect x="234" y="210" width="7" height="7" fill="#32fa34"/>
<rect x="240" y="210" width="79" height="7" fill="#32fa32"/>
<rect x="318" y="210" width="7" height="7" fill="#41fa32"/>
<rect x="324" y="210" width="7" height="7" fill="#4ffa32"/>
<rect x="330" y="210" width="7" height="7" fill="#5cfa32"/>
<rect x="336" y="210" width="7" height="7" fill="#68fa32"/>
<rect x="342" y="210" width="7" height="7" fill="#73fa32"/>
<rect x="348" y="210" width="7" height="7" fill="#7efa32"/>
<rect x="354" y="210" width="7" height="7" fill="#88fa32"/>
<rect x="54" y="216" width="7" height="7" fill="#32fa6f"/>
<rect x="60" y="216" width="7" height="7" fill="#32fa6d"/>
<rect x="66" y="216" width="7" height="7" fill="#32fa6c"/>
<rect x="72" y="216" width="7" height="7" fill="#32fa6b"/>
<rect x="78" y="216" width="7" height="7" fill="#32fa69"/>
<rect x="84" y="216" width="7" height="7" fill="#32fa68"/>
<rect x="90" y="216" width="7" height="7" fill="#32fa66"/>
<rect x="96" y="216" width="7" height="7" fill="#32fa65"/>
<rect x="102" y="216" width="7" height="7" fill="#32fa63"/>
<rect x="108" y="216" width="7" height="7" fill="#32fa62"/>
<rect x="114" y="216" width="7" height="7" fill="#32fa60"/>
<rect x="120" y="216" width="7" height="7" fill="#32fa5f"/>
<rect x="126" y="216" width="7" height="7" fill="#32fa5d"/>
<rect x="132" y="216" width="7" height="7" fill="#32fa5b"/>
<rect x="138" y="216" width="7" height="7" fill="#32fa59"/>
<rect x="144" y="216" width="7" height="7" fill="#32fa58"/>
<rect x="150" y="216" width="7" height="7" fill="#32fa56"/>
<rect x="156" y="216" width="7" height="7" fill="#32fa54"/>
<rect x="162" y="216" width="7" height="7" fill="#32fa52"/>
<rect x="168" y="216" width="7" height="7" fill="#32fa50"/>
<rect x="174" y="216" width="7" height="7" fill="#32fa4e"/>
<rect x="180" y="216" width="7" height="7" fill="#32fa4c"/>
<rect x="186" y="216" width="7" height="7" fill="#32fa4a"/>
<rect x="192" y="216" width="7" height="7" fill="#32fa48"/>
<rect x="198" y="216" width="7" height="7" fill="#32fa46"/>
<rect x="204" y="216" width="7" height="7" fill="#32fa44"/>
<rect x="210" y="216" width="7" height="7" fill="#32fa41"/>
<rect x="216" y="216" width="7" height="7" fill="#32fa3f"/>
<rect x="222" y="216" width="7" height="7" fill="#32fa3c"/>
<rect x="228" y="216" width="7" height="7" fill="#32fa3a"/>
<rect x="234" y="216" width="7" height="7" fill="#32fa37"/>
<rect x="240" y="216" width="7" height="7" fill="#32fa35"/>
<rect x="246" y="216" width="67" height="7" fill="#32fa32"/>
<rect x="312" y="216" width="7" height="7" fill="#36fa32"/>
<rect x="318" y="216" width="7" height="7" fill="#45fa32"/>
<rect x="324" y="216" width="7" height="7" fill="#53fa32"/>
<rect x="330" y="216" width="7" height="7" fill="#60fa32"/>
<rect x="336" y="216" width="7" height="7" fill="#6cfa32"/>
<rect x="342" y="216" width="7" height="7" fill="#77fa32"/>
<rect x="348" y="216" width="7" height="7" fill="#81fa32"/>
<rect x="354" y="216" width="7" height="7" fill="#8bfa32"/>
<rect x="360" y="216" width="7" height="7" fill="#95fa32"/>
<rect x="54" y="222" width="7" height="7" fill="#32fa71"/>
<rect x="60" y="222" width="7" height="7" fill="#32fa70"/>
<rect x="66" y="222" width="7" height="7" fill="#32fa6f"/>
<rect x="72" y="222" width="7" height="7" fill="#32fa6d"/>
<rect x="78" y="222" width="7" height="7" fill="#32fa6c"/>
<rect x="84" y="222" width="7" height="7" fill="#32fa6b"/>
<rect x="90" y="222" width="7" height="7" fill="#32fa69"/>
<rect x="96" y="222" width="7" height="7" fill="#32fa68"/>
<rect x="102" y="222" width="7" height="7" fill="#32fa66"/>
<rect x="108" y="222" width="7" height="7" fill="#32fa65"/>
<rect x="114" y="222" width="7" height="7" fill="#32fa63"/>
<rect x="120" y="222" width="7" height="7" fill="#32fa61"/>
<rect x="126" y="222" width="7" height="7" fill="#32fa60"/>
<rect x="132" y="222" width="7" height="7" fill="#32fa5e"/>
<rect x="138" y="222" width="7" height="7" fill="#32fa5c"/>
<rect x="144" y="222" width="7" height="7" fill="#32fa5b"/>
<rect x="150" y="222" width="7" height="7" fill="#32fa59"/>
<rect x="156" y="222" width="7" height="7" fill="#32fa57"/>
<rect x="162" y="222" width="7" height="7" fill="#32fa55"/>
<rect x="168" y="222" width="7" height="7" fill="#32fa53"/>
<rect x="174" y="222" width="7" height="7" fill="#32fa51"/>
<rect x="180" y="222" width="7" height="7" fill="#32fa4f"/>
<rect x="186" y="222" width="7" height="7" fill="#32fa4d"/>
<rect x="192" y="222" width="7" height="7" fill="#32fa4b"/>
<rect x="198" y="222" width="7" height="7" fill="#32fa49"/>
<rect x="204" y="222" width="7" height="7" fill="#32fa47"/>
<rect x="210" y="222" width="7" height="7" fill="#32fa45"/>
<rect x="216" y="222" width="7" height="7" fill="#32fa42"/>
<rect x="222" y="222" width="7" height="7" fill="#32fa40"/>
<rect x="228" y="222" width="7" height="7" fill="#32fa3d"/>
<rect x="234" y="222" width="7" height="7" fill="#32fa3b"/>
<rect x="240" y="222" width="7" height="7" fill="#32fa38"/>
<rect x="246" y="222" width="7" height="7" fill="#32fa36"/>
<rect x="252" y="222" width="7" height="7" fill="#32fa33"/>
<rect x="258" y="222" width="55" height="7" fill="#32fa32"/>
<rect x="312" y="222" width="7" height="7" fill="#3bfa32"/>
<rect x="318" y="222" width="7" height="7" fill="#49fa32"/>
<rect x="324" y="222" width="7" height="7" fill="#57fa32"/>
<rect x="330" y="222" width="7" height="7" fill="#64fa32"/>
<rect x="336" y="222" width="7" height="7" fill="#70fa32"/>
<rect x="342" y="222" width="7" height="7" fill="#7bfa32"/>
<rect x="348" y="222" width="7" height="7" fill="#85fa32"/>
<rect x="354" y="222" width="7" height="7" fill="#8ffa32"/>
<rect x="360" y="222" width="7" height="7" fill="#98fa32"/>
<rect x="366" y="222" width="7" height="7" fill="#a1fa32"/>
<rect x="54" y="228" width="7" height="7" fill="#32fa74"/>
<rect x="60" y="228" width="7" height="7" fill="#32fa73"/>
<rect x="66" y="228" width="7" height="7" fill="#32fa72"/>
<rect x="72" y="228" width="7" height="7" fill="#32fa70"/>
<rect x="78" y="228" width="7" height="7" fill="#32fa6f"/>
<rect x="84" y="228" width="7" height="7" fill="#32fa6d"/>
<rect x="90" y="228" width="7" height="7" fill="#32fa6c"/>
<rect x="96" y="228" width="7" height="7" fill="#32fa6b"/>
<rect x="102" y="228" width="7" height="7" fill="#32fa69"/>
<rect x="108" y="228" width="7" height="7" fill="#32fa68"/>
<rect x="114" y="228" width="7" height="7" fill="#32fa66"/>
<rect x="120" y="228" width="7" height="7" fill="#32fa64"/>
<rect x="126" y="228" width="7" height="7" fill="#32fa63"/>
<rect x="132" y="228" width="7" height="7" fill="#32fa61"/>
<rect x="138" y="228" width="7" height="7" fill="#32fa5f"/>
<rect x="144" y="228" width="7" height="7" fill="#32fa5e"/>
<rect x="150" y="228" width="7" height="7" fill="#32fa5c"/>
<rect x="156" y="228" width="7" height="7" fill="#32fa5a"/>
<rect x="162" y="228" width="7" height="7" fill="#32fa58"/>
<rect x="168" y="228" width="7" height="7" fill="#32fa56"/>
<rect x="174" y="228" width="7" height="7" fill="#32fa55"/>
<rect x="180" y="228" width="7" height="7" fill="#32fa53"/>
<rect x="186" y="228" width="7" height="7" fill="#32fa51"/>
<rect x="192" y="228" width="7" height="7" fill="#32fa4e"/>
<rect x="198" y="228" width="7" height="7" fill="#32fa4c"/>
<rect x="204" y="228" width="7" height="7" fill="#32fa4a"/>
<rect x="210" y="228" width="7" height="7" fill="#32fa48"/>
<rect x="216" y="228" width="7" height="7" fill="#32fa46"/>
<rect x="222" y="228" width="7" height="7" fill="#32fa43"/>
<rect x="228" y="228" width="7" height="7" fill="#32fa41"/>
<rect x="234" y="228" width="7" height="7" fill="#32fa3e"/>
<rect x="240" y="228" width="7" height="7" fill="#32fa3c"/>
<rect x="246" y="228" width="7" height="7" fill="#32fa39"/>
<rect x="252" y="228" width="7" height="7" fill="#32fa36"/>
<rect x="258" y="228" width="7" height="7" fill="#32fa34"/>
<rect x="264" y="228" width="49" height="7" fill="#32fa32"/>
<rect x="312" y="228" width="7" height="7" fill="#3ffa32"/>
<rect x="318" y="228" width="7" height="7" fill="#4efa32"/>
<rect x="324" y="228" width="7" height="7" fill="#5bfa32"/>
<rect x="330" y="228" width="7" height="7" fill="#68fa32"/>
<rect x="336" y="228" width="7" height="7" fill="#73fa32"/>
<rect x="342" y="228" width="7" height="7" fill="#7efa32"/>
<rect x="348" y="228" width="7" height="7" fill="#89fa32"/>
<rect x="354" y="228" width="7" height="7" fill="#93fa32"/>
<rect x="360" y="228" width="7" height="7" fill="#9cfa32"/>
<rect x="366" y="228" width="7" height="7" fill="#a4fa32"/>
<rect x="372" y="228" width="7" height="7" fill="#adfa32"/>
<rect x="54" y="234" width="7" height="7" fill="#32fa77"/>
<rect x="60" y="234" width="7" height="7" fill="#32fa76"/>
<rect x="66" y="234" width="7" height="7" fill="#32fa74"/>
<rect x="72" y="234" width="7" height="7" fill="#32fa73"/>
<rect x="78" y="234" width="7" height="7" fill="#32fa72"/>
<rect x="84" y="234" width="7" height="7" fill="#32fa70"/>
<rect x="90" y="234" width="7" height="7" fill="#32fa6f"/>
<rect x="96" y="234" width="7" height="7" fill="#32fa6d"/>
<rect x="102" y="234" width="7" height="7" fill="#32fa6c"/>
<rect x="108" y="234" width="7" height="7" fill="#32fa6b"/>
<rect x="114" y="234" width="7" height="7" fill="#32fa69"/>
<rect x="120" y="234" width="7" height="7" fill="#32fa67"/>
<rect x="126" y="234" width="7" height="7" fill="#32fa66"/>
<rect x="132" y="234" width="7" height="7" fill="#32fa64"/>
<rect x="138" y="234" width="7" height="7" fill="#32fa63"/>
<rect x="144" y="234" width="7" height="7" fill="#32fa61"/>
<rect x="150" y="234" width="7" height="7" fill="#32fa5f"/>
<rect x="156" y="234" width="7" height="7" fill="#32fa5d"/>
<rect x="162" y="234" width="7" height="7" fill="#32fa5c"/>
<rect x="168" y="234" width="7" height="7" fill="#32fa5a"/>
<rect x="174" y="234" width="7" height="7" fill="#32fa58"/>
<rect x="180" y="234" width="7" height="7" fill="#32fa56"/>
<rect x="186" y="234" width="7" height="7" fill="#32fa54"/>
<rect x="192" y="234" width="7" height="7" fill="#32fa52"/>
<rect x="198" y="234" width="7" height="7" fill="#32fa50"/>
<rect x="204" y="234" width="7" height="7" fill="#32fa4d"/>
<rect x="210" y="234" width="7" height="7" fill="#32fa4b"/>
<rect x="216" y="234" width="7" height="7" fill="#32fa49"/>
<rect x="222" y="234" width="7" height="7" fill="#32fa47"/>
<rect x="228" y="234" width="7" height="7" fill="#32fa44"/>
<rect x="234" y="234" width="7" height="7" fill="#32fa42"/>
<rect x="240" y="234" width="7" height="7" fill="#32fa3f"/>
<rect x="246" y="234" width="7" height="7" fill="#32fa3d"/>
<rect x="252" y="234" width="7" height="7" fill="#32fa3a"/>
<rect x="258" y="234" width="7" height="7" fill="#32fa37"/>
<rect x="264" y="234" width="7" height="7" fill="#32fa34"/>
<rect x="270" y="234" width="37" height="7" fill="#32fa32"/>
<rect x="306" y="234" width="7" height="7" fill="#34fa32"/>
<rect x="312" y="234" width="7" height="7" fill="#44fa32"/>
<rect x="318" y="234" width="7" height="7" fill="#52fa32"/>
<rect x="324" y="234" width="7" height="7" fill="#5ffa32"/>
<rect x="330" y="234" width="7" height="7" fill="#6cfa32"/>
<rect x="336" y="234" width="7" height="7" fill="#77fa32"/>
<rect x="342" y="234" width="7" height="7" fill="#82fa32"/>
<rect x="348" y="234" width="7" height="7" fill="#8dfa32"/>
<rect x="354" y="234" width="7" height="7" fill="#96fa32"/>
<rect x="360" y="234" width="7" height="7" fill="#9ffa32"/>
<rect x="366" y="234" width="7" height="7" fill="#a8fa32"/>
<rect x="372" y="234" width="7" height="7" fill="#b0fa32"/>
<rect x="378" y="234" width="7" height="7" fill="#b8fa32"/>
<rect x="54" y="240" width="7" height="7" fill="#32fa7a"/>
<rect x="60" y="240" width="7" height="7" fill="#32fa78"/>
<rect x="66" y="240" width="7" height="7" fill="#32fa77"/>
<rect x="72" y="240" width="7" height="7" fill="#32fa76"/>
<rect x="78" y="240" width="7" height="7" fill="#32fa75"/>
<rect x="84" y="240" width="7" height="7" fill="#32fa73"/>
<rect x="90" y="240" width="7" height="7" fill="#32fa72"/>
<rect x="96" y="240" width="7" height="7" fill="#32fa70"/>
<rect x="102" y="240" width="7" height="7" fill="#32fa6f"/>
<rect x="108" y="240" width="7" height="7" fill="#32fa6d"/>
<rect x="114" y="240" width="7" height="7" fill="#32fa6c"/>
<rect x="120" y="240" width="7" height="7" fill="#32fa6a"/>
<rect x="126" y="240" width="7" height="7" fill="#32fa69"/>
<rect x="132" y="240" width="7" height="7" fill="#32fa67"/>
<rect x="138" y="240" width="7" height="7" fill="#32fa66"/>
<rect x="144" y="240" width="7" height="7" fill="#32fa64"/>
<rect x="150" y="240" width="7" height="7" fill="#32fa62"/>
<rect x="156" y="240" width="7" height="7" fill="#32fa60"/>
<rect x="162" y="240" width="7" height="7" fill="#32fa5f"/>
<rect x="168" y="240" width="7" height="7" fill="#32fa5d"/>
<rect x="174" y="240" width="7" height="7" fill="#32fa5b"/>
<rect x="180" y="240" width="7" height="7" fill="#32fa59"/>
<rect x="186" y="240" width="7" height="7" fill="#32fa57"/>
<rect x="192" y="240" width="7" height="7" fill="#32fa55"/>
<rect x="198" y="240" width="7" height="7" fill="#32fa53"/>
<rect x="204" y="240" width="7" height="7" fill="#32fa51"/>
<rect x="210" y="240" width="7" height="7" fill="#32fa4f"/>
<rect x="216" y="240" width="7" height="7" fill="#32fa4c"/>
<rect x="222" y="240" width="7" height="7" fill="#32fa4a"/>
<rect x="228" y="240" width="7" height="7" fill="#32fa48"/>
<rect x="234" y="240" width="7" height="7" fill="#32fa45"/>
<rect x="240" y="240" width="7" height="7" fill="#32fa43"/>
<rect x="246" y="240" width="7" height="7" fill="#32fa40"/>
<rect x="252" y="240" width="7" height="7" fill="#32fa3e"/>
<rect x="258" y="240" width="7" height="7" fill="#32fa3b"/>
<rect x="264" y="240" width="7" height="7" fill="#32fa38"/>
<rect x="270" y="240" width="7" height="7" fill="#32fa35"/>
<rect x="276" y="240" width="31" height="7" fill="#32fa32"/>
<rect x="306" y="240" width="7" height="7" fill="#39fa32"/>
<rect x="312" y="240" width="7" height="7" fill="#48fa32"/>
<rect x="318" y="240" width="7" height="7" fill="#56fa32"/>
<rect x="324" y="240" width="7" height="7" fill="#63fa32"/>
<rect x="330" y="240" width="7" height="7" fill="#70fa32"/>
<rect x="336" y="240" width="7" height="7" fill="#7bfa32"/>
<rect x="342" y="240" width="7" height="7" fill="#86fa32"/>
<rect x="348" y="240" width="7" height="7" fill="#90fa32"/>
<rect x="354" y="240" width="7" height="7" fill="#9afa32"/>
<rect x="360" y="240" width="7" height="7" fill="#a3fa32"/>
<rect x="366" y="240" width="7" height="7" fill="#abfa32"/>
<rect x="372" y="240" width="7" height="7" fill="#b3fa32"/>
<rect x="378" y="240" width="7" height="7" fill="#bbfa32"/>
<rect x="384" y="240" width="7" height="7" fill="#c2fa32"/>
<rect x="54" y="246" width="7" height="7" fill="#32fa7c"/>
<rect x="60" y="246" width="7" height="7" fill="#32fa7b"/>
<rect x="66" y="246" width="7" height="7" fill="#32fa7a"/>
<rect x="72" y="246" width="7" height="7" fill="#32fa79"/>
<rect x="78" y="246" width="7" height="7" fill="#32fa77"/>
<rect x="84" y="246" width="7" height="7" fill="#32fa76"/>
<rect x="90" y="246" width="7" height="7" fill="#32fa75"/>
<rect x="96" y="246" width="7" height="7" fill="#32fa73"/>
<rect x="102" y="246" width="7" height="7" fill="#32fa72"/>
<rect x="108" y="246" width="7" height="7" fill="#32fa70"/>
<rect x="114" y="246" width="7" height="7" fill="#32fa6f"/>
<rect x="120" y="246" width="7" height="7" fill="#32fa6d"/>
<rect x="126" y="246" width="7" height="7" fill="#32fa6c"/>
<rect x="132" y="246" width="7" height="7" fill="#32fa6a"/>
<rect x="138" y="246" width="7" height="7" fill="#32fa69"/>
<rect x="144" y="246" width="7" height="7" fill="#32fa67"/>
<rect x="150" y="246" width="7" height="7" fill="#32fa65"/>
<rect x="156" y="246" width="7" height="7" fill="#32fa64"/>
<rect x="162" y="246" width="7" height="7" fill="#32fa62"/>
<rect x="168" y="246" width="7" height="7" fill="#32fa60"/>
<rect x="174" y="246" width="7" height="7" fill="#32fa5e"/>
<rect x="180" y="246" width="7" height="7" fill="#32fa5c"/>
<rect x="186" y="246" width="7" height="7" fill="#32fa5a"/>
<rect x="192" y="246" width="7" height="7" fill="#32fa58"/>
<rect x="198" y="246" width="7" height="7" fill="#32fa56"/>
<rect x="204" y="246" width="7" height="7" fill="#32fa54"/>
<rect x="210" y="246" width="7" height="7" fill="#32fa52"/>
<rect x="216" y="246" width="7" height="7" fill="#32fa50"/>
<rect x="222" y="246" width="7" height="7" fill="#32fa4e"/>
<rect x="228" y="246" width="7" height="7" fill="#32fa4b"/>
<rect x="234" y="246" width="7" height="7" fill="#32fa49"/>
<rect x="240" y="246" width="7" height="7" fill="#32fa46"/>
<rect x="246" y="246" width="7" height="7" fill="#32fa44"/>
<rect x="252" y="246" width="7" height="7" fill="#32fa41"/>
<rect x="258" y="246" width="7" height="7" fill="#32fa3f"/>
<rect x="264" y="246" width="7" height="7" fill="#32fa3c"/>
<rect x="270" y="246" width="7" height="7" fill="#32fa39"/>
<rect x="276" y="246" width="7" height="7" fill="#32fa36"/>
<rect x="282" y="246" width="7" height="7" fill="#32fa33"/>
<rect x="288" y="246" width="19" height="7" fill="#32fa32"/>
<rect x="306" y="246" width="7" height="7" fill="#3dfa32"/>
<rect x="312" y="246" width="7" height="7" fill="#4cfa32"/>
<rect x="318" y="246" width="7" height="7" fill="#5afa32"/>
<rect x="324" y="246" width="7" height="7" fill="#68fa32"/>
<rect x="330" y="246" width="7" height="7" fill="#74fa32"/>
<rect x="336" y="246" width="7" height="7" fill="#7ffa32"/>
<rect x="342" y="246" width="7" height="7" fill="#8afa32"/>
<rect x="348" y="246" width="7" height="7" fill="#94fa32"/>
<rect x="354" y="246" width="7" height="7" fill="#9efa32"/>
<rect x="360" y="246" width="7" height="7" fill="#a6fa32"/>
<rect x="366" y="246" width="7" height="7" fill="#affa32"/>
<rect x="372" y="246" width="7" height="7" fill="#b7fa32"/>
<rect x="378" y="246" width="7" height="7" fill="#befa32"/>
<rect x="384" y="246" width="7" height="7" fill="#c5fa32"/>
<rect x="390" y="246" width="7" height="7" fill="#ccfa32"/>
<rect x="54" y="252" width="7" height="7" fill="#32fa7f"/>
<rect x="60" y="252" width="7" height="7" fill="#32fa7e"/>
<rect x="66" y="252" width="7" height="7" fill="#32fa7d"/>
<rect x="72" y="252" width="7" height="7" fill="#32fa7c"/>
<rect x="78" y="252" width="7" height="7" fill="#32fa7a"/>
<rect x="84" y="252" width="7" height="7" fill="#32fa79"/>
<rect x="90" y="252" width="7" height="7" fill="#32fa78"/>
<rect x="96" y="252" width="7" height="7" fill="#32fa76"/>
<rect x="102" y="252" width="7" height="7" fill="#32fa75"/>
<rect x="108" y="252" width="7" height="7" fill="#32fa74"/>
<rect x="114" y="252" width="7" height="7" fill="#32fa72"/>
<rect x="120" y="252" width="7" height="7" fill="#32fa71"/>
<rect x="126" y="252" width="7" height="7" fill="#32fa6f"/>
<rect x="132" y="252" width="7" height="7" fill="#32fa6e"/>
<rect x="138" y="252" width="7" height="7" fill="#32fa6c"/>
<rect x="144" y="252" width="7" height="7" fill="#32fa6a"/>
<rect x="150" y="252" width="7" height="7" fill="#32fa69"/>
<rect x="156" y="252" width="7" height="7" fill="#32fa67"/>
<rect x="162" y="252" width="7" height="7" fill="#32fa65"/>
<rect x="168" y="252" width="7" height="7" fill="#32fa63"/>
<rect x="174" y="252" width="7" height="7" fill="#32fa62"/>
<rect x="180" y="252" width="7" height="7" fill="#32fa60"/>
<rect x="186" y="252" width="7" height="7" fill="#32fa5e"/>
<rect x="192" y="252" width="7" height="7" fill="#32fa5c"/>
<rect x="198" y="252" width="7" height="7" fill="#32fa5a"/>
<rect x="204" y="252" width="7" height="7" fill="#32fa58"/>
<rect x="210" y="252" width="7" height="7" fill="#32fa56"/>
<rect x="216" y="252" width="7" height="7" fill="#32fa53"/>
<rect x="222" y="252" width="7" height="7" fill="#32fa51"/>
<rect x="228" y="252" width="7" height="7" fill="#32fa4f"/>
<rect x="234" y="252" width="7" height="7" fill="#32fa4d"/>
<rect x="240" y="252" width="7" height="7" fill="#32fa4a"/>
<rect x="246" y="252" width="7" height="7" fill="#32fa48"/>
<rect x="252" y="252" width="7" height="7" fill="#32fa45"/>
<rect x="258" y="252" width="7" height="7" fill="#32fa42"/>
<rect x="264" y="252" width="7" height="7" fill="#32fa40"/>
<rect x="270" y="252" width="7" height="7" fill="#32fa3d"/>
<rect x="276" y="252" width="7" height="7" fill="#32fa3a"/>
<rect x="282" y="252" width="7" height="7" fill="#32fa37"/>
<rect x="288" y="252" width="7" height="7" fill="#32fa34"/>
<rect x="294" y="252" width="13" height="7" fill="#32fa32"/>
<rect x="306" y="252" width="7" height="7" fill="#42fa32"/>
<rect x="312" y="252" width="7" height="7" fill="#51fa32"/>
<rect x="318" y="252" width="7" height="7" fill="#5ffa32"/>
<rect x="324" y="252" width="7" height="7" fill="#6cfa32"/>
<rect x="330" y="252" width="7" height="7" fill="#78fa32"/>
<rect x="336" y="252" width="7" height="7" fill="#83fa32"/>
<rect x="342" y="252" width="7" height="7" fill="#8efa32"/>
<rect x="348" y="252" width="7" height="7" fill="#98fa32"/>
<rect x="354" y="252" width="7" height="7" fill="#a1fa32"/>
<rect x="360" y="252" width="7" height="7" fill="#aafa32"/>
<rect x="366" y="252" width="7" height="7" fill="#b2fa32"/>
<rect x="372" y="252" width="7" height="7" fill="#bafa32"/>
<rect x="378" y="252" width="7" height="7" fill="#c2fa32"/>
<rect x="384" y="252" width="7" height="7" fill="#c9fa32"/>
<rect x="390" y="252" width="7" height="7" fill="#cffa32"/>
<rect x="396" y="252" width="7" height="7" fill="#d6fa32"/>
<rect x="54" y="258" width="7" height="7" fill="#32fa82"/>
<rect x="60" y="258" width="7" height="7" fill="#32fa81"/>
<rect x="66" y="258" width="7" height="7" fill="#32fa80"/>
<rect x="72" y="258" width="7" height="7" fill="#32fa7f"/>
<rect x="78" y="258" width="7" height="7" fill="#32fa7d"/>
<rect x="84" y="258" width="7" height="7" fill="#32fa7c"/>
<rect x="90" y="258" width="7" height="7" fill="#32fa7b"/>
<rect x="96" y="258" width="7" height="7" fill="#32fa79"/>
<rect x="102" y="258" width="7" height="7" fill="#32fa78"/>
<rect x="108" y="258" width="7" height="7" fill="#32fa77"/>
<rect x="114" y="258" width="7" height="7" fill="#32fa75"/>
<rect x="120" y="258" width="7" height="7" fill="#32fa74"/>
<rect x="126" y="258" width="7" height="7" fill="#32fa72"/>
<rect x="132" y="258" width="7" height="7" fill="#32fa71"/>
<rect x="138" y="258" width="7" height="7" fill="#32fa6f"/>
<rect x="144" y="258" width="7" height="7" fill="#32fa6e"/>
<rect x="150" y="258" width="7" height="7" fill="#32fa6c"/>
<rect x="156" y="258" width="7" height="7" fill="#32fa6a"/>
<rect x="162" y="258" width="7" height="7" fill="#32fa69"/>
<rect x="168" y="258" width="7" height="7" fill="#32fa67"/>
<rect x="174" y="258" width="7" height="7" fill="#32fa65"/>
<rect x="180" y="258" width="7" height="7" fill="#32fa63"/>
<rect x="186" y="258" width="7" height="7" fill="#32fa61"/>
<rect x="192" y="258" width="7" height="7" fill="#32fa5f"/>
<rect x="198" y="258" width="7" height="7" fill="#32fa5d"/>
<rect x="204" y="258" width="7" height="7" fill="#32fa5b"/>
<rect x="210" y="258" width="7" height="7" fill="#32fa59"/>
<rect x="216" y="258" width="7" height="7" fill="#32fa57"/>
<rect x="222" y="258" width="7" height="7" fill="#32fa55"/>
<rect x="228" y="258" width="7" height="7" fill="#32fa53"/>
<rect x="234" y="258" width="7" height="7" fill="#32fa50"/>
<rect x="240" y="258" width="7" height="7" fill="#32fa4e"/>
<rect x="246" y="258" width="7" height="7" fill="#32fa4b"/>
<rect x="252" y="258" width="7" height="7" fill="#32fa49"/>
<rect x="258" y="258" width="7" height="7" fill="#32fa46"/>
<rect x="264" y="258" width="7" height="7" fill="#32fa44"/>
<rect x="270" y="258" width="7" height="7" fill="#32fa41"/>
<rect x="276" y="258" width="7" height="7" fill="#32fa3e"/>
<rect x="282" y="258" width="7" height="7" fill="#32fa3b"/>
<rect x="288" y="258" width="7" height="7" fill="#32fa38"/>
<rect x="294" y="258" width="7" height="7" fill="#32fa35"/>
<rect x="300" y="258" width="7" height="7" fill="#36fa32"/>
<rect x="306" y="258" width="7" height="7" fill="#46fa32"/>
<rect x="312" y="258" width="7" height="7" fill="#55fa32"/>
<rect x="318" y="258" width="7" height="7" fill="#63fa32"/>
<rect x="324" y="258" width="7" height="7" fill="#70fa32"/>
<rect x="330" y="258" width="7" height="7" fill="#7cfa32"/>
<rect x="336" y="258" width="7" height="7" fill="#87fa32"/>
<rect x="342" y="258" width="7" height="7" fill="#92fa32"/>
<rect x="348" y="258" width="7" height="7" fill="#9cfa32"/>
<rect x="354" y="258" width="7" height="7" fill="#a5fa32"/>
<rect x="360" y="258" width="7" height="7" fill="#aefa32"/>
<rect x="366" y="258" width="7" height="7" fill="#b6fa32"/>
<rect x="372" y="258" width="7" height="7" fill="#befa32"/>
<rect x="378" y="258" width="7" height="7" fill="#c5fa32"/>
<rect x="384" y="258" width="7" height="7" fill="#ccfa32"/>
<rect x="390" y="258" width="7" height="7" fill="#d3fa32"/>
<rect x="396" y="258" width="7" height="7" fill="#d9fa32"/>
<rect x="402" y="258" width="7" height="7" fill="#dffa32"/>
<rect x="54" y="264" width="7" height="7" fill="#32fa85"/>
<rect x="60" y="264" width="7" height="7" fill="#32fa84"/>
<rect x="66" y="264" width="7" height="7" fill="#32fa83"/>
<rect x="72" y="264" width="7" height="7" fill="#32fa81"/>
<rect x="78" y="264" width="7" height="7" fill="#32fa80"/>
<rect x="84" y="264" width="7" height="7" fill="#32fa7f"/>
<rect x="90" y="264" width="7" height="7" fill="#32fa7e"/>
<rect x="96" y="264" width="7" height="7" fill="#32fa7c"/>
<rect x="102" y="264" width="7" height="7" fill="#32fa7b"/>
<rect x="108" y="264" width="7" height="7" fill="#32fa7a"/>
<rect x="114" y="264" width="7" height="7" fill="#32fa78"/>
<rect x="120" y="264" width="7" height="7" fill="#32fa77"/>
<rect x="126" y="264" width="7" height="7" fill="#32fa75"/>
<rect x="132" y="264" width="7" height="7" fill="#32fa74"/>
<rect x="138" y="264" width="7" height="7" fill="#32fa72"/>
<rect x="144" y="264" width="7" height="7" fill="#32fa71"/>
<rect x="150" y="264" width="7" height="7" fill="#32fa6f"/>
<rect x="156" y="264" width="7" height="7" fill="#32fa6e"/>
<rect x="162" y="264" width="7" height="7" fill="#32fa6c"/>
<rect x="168" y="264" width="7" height="7" fill="#32fa6a"/>
<rect x="174" y="264" width="7" height="7" fill="#32fa68"/>
<rect x="180" y="264" width="7" height="7" fill="#32fa67"/>
<rect x="186" y="264" width="7" height="7" fill="#32fa65"/>
<rect x="192" y="264" width="7" height="7" fill="#32fa63"/>
<rect x="198" y="264" width="7" height="7" fill="#32fa61"/>
<rect x="204" y="264" width="7" height="7" fill="#32fa5f"/>
<rect x="210" y="264" width="7" height="7" fill="#32fa5d"/>
<rect x="216" y="264" width="7" height="7" fill="#32fa5b"/>
<rect x="222" y="264" width="7" height="7" fill="#32fa59"/>
<rect x="228" y="264" width="7" height="7" fill="#32fa56"/>
<rect x="234" y="264" width="7" height="7" fill="#32fa54"/>
<rect x="240" y="264" width="7" height="7" fill="#32fa52"/>
<rect x="246" y="264" width="7" height="7" fill="#32fa4f"/>
<rect x="252" y="264" width="7" height="7" fill="#32fa4d"/>
<rect x="258" y="264" width="7" height="7" fill="#32fa4a"/>
<rect x="264" y="264" width="7" height="7" fill="#32fa47"/>
<rect x="270" y="264" width="7" height="7" fill="#32fa45"/>
<rect x="276" y="264" width="7" height="7" fill="#32fa42"/>
<rect x="282" y="264" width="7" height="7" fill="#32fa3f"/>
<rect x="288" y="264" width="7" height="7" fill="#32fa3c"/>
<rect x="294" y="264" width="7" height="7" fill="#32fa39"/>
<rect x="300" y="264" width="7" height="7" fill="#39fa35"/>
<rect x="306" y="264" width="7" height="7" fill="#4bfa32"/>
<rect x="312" y="264" width="7" height="7" fill="#5afa32"/>
<rect x="318" y="264" width="7" height="7" fill="#67fa32"/>
<rect x="324" y="264" width="7" height="7" fill="#74fa32"/>
<rect x="330" y="264" width="7" height="7" fill="#80fa32"/>
<rect x="336" y="264" width="7" height="7" fill="#8bfa32"/>
<rect x="342" y="264" width="7" height="7" fill="#96fa32"/>
<rect x="348" y="264" width="7" height="7" fill="#9ffa32"/>
<rect x="354" y="264" width="7" height="7" fill="#a9fa32"/>
<rect x="360" y="264" width="7" height="7" fill="#b1fa32"/>
<rect x="366" y="264" width="7" height="7" fill="#b9fa32"/>
<rect x="372" y="264" width="7" height="7" fill="#c1fa32"/>
<rect x="378" y="264" width="7" height="7" fill="#c8fa32"/>
<rect x="384" y="264" width="7" height="7" fill="#cffa32"/>
<rect x="390" y="264" width="7" height="7" fill="#d6fa32"/>
<rect x="396" y="264" width="7" height="7" fill="#dcfa32"/>
<rect x="402" y="264" width="7" height="7" fill="#e2fa32"/>
<rect x="408" y="264" width="7" height="7" fill="#e8fa32"/>
<rect x="54" y="270" width="7" height="7" fill="#32fa88"/>
<rect x="60" y="270" width="7" height="7" fill="#32fa87"/>
<rect x="66" y="270" width="7" height="7" fill="#32fa86"/>
<rect x="72" y="270" width="7" height="7" fill="#32fa84"/>
<rect x="78" y="270" width="7" height="7" fill="#32fa83"/>
<rect x="84" y="270" width="7" height="7" fill="#32fa82"/>
<rect x="90" y="270" width="7" height="7" fill="#32fa81"/>
<rect x="96" y="270" width="7" height="7" fill="#32fa7f"/>
<rect x="102" y="270" width="7" height="7" fill="#32fa7e"/>
<rect x="108" y="270" width="7" height="7" fill="#32fa7d"/>
<rect x="114" y="270" width="7" height="7" fill="#32fa7b"/>
<rect x="120" y="270" width="7" height="7" fill="#32fa7a"/>
<rect x="126" y="270" width="7" height="7" fill="#32fa79"/>
<rect x="132" y="270" width="7" height="7" fill="#32fa77"/>
<rect x="138" y="270" width="7" height="7" fill="#32fa76"/>
<rect x="144" y="270" width="7" height="7" fill="#32fa74"/>
<rect x="150" y="270" width="7" height="7" fill="#32fa73"/>
<rect x="156" y="270" width="7" height="7" fill="#32fa71"/>
<rect x="162" y="270" width="7" height="7" fill="#32fa6f"/>
<rect x="168" y="270" width="7" height="7" fill="#32fa6e"/>
<rect x="174" y="270" width="7" height="7" fill="#32fa6c"/>
<rect x="180" y="270" width="7" height="7" fill="#32fa6a"/>
<rect x="186" y="270" width="7" height="7" fill="#32fa68"/>
<rect x="192" y="270" width="7" height="7" fill="#32fa66"/>
<rect x="198" y="270" width="7" height="7" fill="#32fa64"/>
<rect x="204" y="270" width="7" height="7" fill="#32fa62"/>
<rect x="210" y="270" width="7" height="7" fill="#32fa60"/>
<rect x="216" y="270" width="7" height="7" fill="#32fa5e"/>
<rect x="222" y="270" width="7" height="7" fill="#32fa5c"/>
<rect x="228" y="270" width="7" height="7" fill="#32fa5a"/>
<rect x="234" y="270" width="7" height="7" fill="#32fa58"/>
<rect x="240" y="270" width="7" height="7" fill="#32fa55"/>
<rect x="246" y="270" width="7" height="7" fill="#32fa53"/>
<rect x="252" y="270" width="7" height="7" fill="#32fa51"/>
<rect x="258" y="270" width="7" height="7" fill="#32fa4e"/>
<rect x="264" y="270" width="7" height="7" fill="#32fa4b"/>
<rect x="270" y="270" width="7" height="7" fill="#32fa49"/>
<rect x="276" y="270" width="7" height="7" fill="#32fa46"/>
<rect x="282" y="270" width="7" height="7" fill="#32fa43"/>
<rect x="288" y="270" width="7" height="7" fill="#32fa40"/>
<rect x="294" y="270" width="7" height="7" fill="#32fa3d"/>
<rect x="300" y="270" width="7" height="7" fill="#3bfa39"/>
<rect x="306" y="270" width="7" height="7" fill="#4efa36"/>
<rect x="312" y="270" width="7" height="7" fill="#5efa33"/>
<rect x="318" y="270" width="7" height="7" fill="#6cfa32"/>
<rect x="324" y="270" width="7" height="7" fill="#78fa32"/>
<rect x="330" y="270" width="7" height="7" fill="#84fa32"/>
<rect x="336" y="270" width="7" height="7" fill="#8ffa32"/>
<rect x="342" y="270" width="7" height="7" fill="#9afa32"/>
<rect x="348" y="270" width="7" height="7" fill="#a3fa32"/>
<rect x="354" y="270" width="7" height="7" fill="#acfa32"/>
<rect x="360" y="270" width="7" height="7" fill="#b5fa32"/>
<rect x="366" y="270" width="7" height="7" fill="#bdfa32"/>
<rect x="372" y="270" width="7" height="7" fill="#c5fa32"/>
<rect x="378" y="270" width="7" height="7" fill="#ccfa32"/>
<rect x="384" y="270" width="7" height="7" fill="#d3fa32"/>
<rect x="390" y="270" width="7" height="7" fill="#d9fa32"/>
<rect x="396" y="270" width="7" height="7" fill="#dffa32"/>
<rect x="402" y="270" width="7" height="7" fill="#e5fa32"/>
<rect x="408" y="270" width="7" height="7" fill="#ebfa32"/>
<rect x="414" y="270" width="7" height="7" fill="#f0fa32"/>
<rect x="54" y="276" width="7" height="7" fill="#32fa8b"/>
<rect x="60" y="276" width="7" height="7" fill="#32fa8a"/>
<rect x="66" y="276" width="7" height="7" fill="#32fa89"/>
<rect x="72" y="276" width="7" height="7" fill="#32fa87"/>
<rect x="78" y="276" width="7" height="7" fill="#32fa86"/>
<rect x="84" y="276" width="7" height="7" fill="#32fa85"/>
<rect x="90" y="276" width="7" height="7" fill="#32fa84"/>
<rect x="96" y="276" width="7" height="7" fill="#32fa83"/>
<rect x="102" y="276" width="7" height="7" fill="#32fa81"/>
<rect x="108" y="276" width="7" height="7" fill="#32fa80"/>
<rect x="114" y="276" width="7" height="7" fill="#32fa7f"/>
<rect x="120" y="276" width="7" height="7" fill="#32fa7d"/>
<rect x="126" y="276" width="7" height="7" fill="#32fa7c"/>
<rect x="132" y="276" width="7" height="7" fill="#32fa7a"/>
<rect x="138" y="276" width="7" height="7" fill="#32fa79"/>
<rect x="144" y="276" width="7" height="7" fill="#32fa77"/>
<rect x="150" y="276" width="7" height="7" fill="#32fa76"/>
<rect x="156" y="276" width="7" height="7" fill="#32fa74"/>
<rect x="162" y="276" width="7" height="7" fill="#32fa73"/>
<rect x="168" y="276" width="7" height="7" fill="#32fa71"/>
<rect x="174" y="276" width="7" height="7" fill="#32fa6f"/>
<rect x="180" y="276" width="7" height="7" fill="#32fa6e"/>
<rect x="186" y="276" width="7" height="7" fill="#32fa6c"/>
<rect x="192" y="276" width="7" height="7" fill="#32fa6a"/>
<rect x="198" y="276" width="7" height="7" fill="#32fa68"/>
<rect x="204" y="276" width="7" height="7" fill="#32fa66"/>
<rect x="210" y="276" width="7" height="7" fill="#32fa64"/>
<rect x="216" y="276" width="7" height="7" fill="#32fa62"/>
<rect x="222" y="276" width="7" height="7" fill="#32fa60"/>
<rect x="228" y="276" width="7" height="7" fill="#32fa5e"/>
<rect x="234" y="276" width="7" height="7" fill="#32fa5c"/>
<rect x="240" y="276" width="7" height="7" fill="#32fa59"/>
<rect x="246" y="276" width="7" height="7" fill="#32fa57"/>
<rect x="252" y="276" width="7" height="7" fill="#32fa55"/>
<rect x="258" y="276" width="7" height="7" fill="#32fa52"/>
<rect x="264" y="276" width="7" height="7" fill="#32fa50"/>
<rect x="270" y="276" width="7" height="7" fill="#32fa4d"/>
<rect x="276" y="276" width="7" height="7" fill="#32fa4a"/>
<rect x="282" y="276" width="7" height="7" fill="#32fa47"/>
<rect x="288" y="276" width="7" height="7" fill="#32fa44"/>
<rect x="294" y="276" width="7" height="7" fill="#33fa41"/>
<rect x="300" y="276" width="7" height="7" fill="#3efa3c"/>
<rect x="306" y="276" width="7" height="7" fill="#51fa3a"/>
<rect x="312" y="276" width="7" height="7" fill="#61fa37"/>
<rect x="318" y="276" width="7" height="7" fill="#70fa34"/>
<rect x="324" y="276" width="7" height="7" fill="#7dfa32"/>
<rect x="330" y="276" width="7" height="7" fill="#88fa32"/>
<rect x="336" y="276" width="7" height="7" fill="#93fa32"/>
<rect x="342" y="276" width="7" height="7" fill="#9efa32"/>
<rect x="348" y="276" width="7" height="7" fill="#a7fa32"/>
<rect x="354" y="276" width="7" height="7" fill="#b0fa32"/>
<rect x="360" y="276" width="7" height="7" fill="#b9fa32"/>
<rect x="366" y="276" width="7" height="7" fill="#c0fa32"/>
<rect x="372" y="276" width="7" height="7" fill="#c8fa32"/>
<rect x="378" y="276" width="7" height="7" fill="#cffa32"/>
<rect x="384" y="276" width="7" height="7" fill="#d6fa32"/>
<rect x="390" y="276" width="7" height="7" fill="#dcfa32"/>
<rect x="396" y="276" width="7" height="7" fill="#e2fa32"/>
<rect x="402" y="276" width="7" height="7" fill="#e8fa32"/>
<rect x="408" y="276" width="7" height="7" fill="#eefa32"/>
<rect x="414" y="276" width="7" height="7" fill="#f3fa32"/>
<rect x="420" y="276" width="7" height="7" fill="#f8fa32"/>
<rect x="54" y="282" width="7" height="7" fill="#32fa8e"/>
<rect x="60" y="282" width="7" height="7" fill="#32fa8d"/>
<rect x="66" y="282" width="7" height="7" fill="#32fa8c"/>
<rect x="72" y="282" width="7" height="7" fill="#32fa8b"/>
<rect x="78" y="282" width="7" height="7" fill="#32fa89"/>
<rect x="84" y="282" width="7" height="7" fill="#32fa88"/>
<rect x="90" y="282" width="7" height="7" fill="#32fa87"/>
<rect x="96" y="282" width="7" height="7" fill="#32fa86"/>
<rect x="102" y="282" width="7" height="7" fill="#32fa84"/>
<rect x="108" y="282" width="7" height="7" fill="#32fa83"/>
<rect x="114" y="282" width="7" height="7" fill="#32fa82"/>
<rect x="120" y="282" width="7" height="7" fill="#32fa81"/>
<rect x="126" y="282" width="7" height="7" fill="#32fa7f"/>
<rect x="132" y="282" width="7" height="7" fill="#32fa7e"/>
<rect x="138" y="282" width="7" height="7" fill="#32fa7c"/>
<rect x="144" y="282" width="7" height="7" fill="#32fa7b"/>
<rect x="150" y="282" width="7" height="7" fill="#32fa79"/>
<rect x="156" y="282" width="7" height="7" fill="#32fa78"/>
<rect x="162" y="282" width="7" height="7" fill="#32fa76"/>
<rect x="168" y="282" width="7" height="7" fill="#32fa75"/>
<rect x="174" y="282" width="7" height="7" fill="#32fa73"/>
<rect x="180" y="282" width="7" height="7" fill="#32fa71"/>
<rect x="186" y="282" width="7" height="7" fill="#32fa6f"/>
<rect x="192" y="282" width="7" height="7" fill="#32fa6e"/>
<rect x="198" y="282" width="7" height="7" fill="#32fa6c"/>
<rect x="204" y="282" width="7" height="7" fill="#32fa6a"/>
<rect x="210" y="282" width="7" height="7" fill="#32fa68"/>
<rect x="216" y="282" width="7" height="7" fill="#32fa66"/>
<rect x="222" y="282" width="7" height="7" fill="#32fa64"/>
<rect x="228" y="282" width="7" height="7" fill="#32fa62"/>
<rect x="234" y="282" width="7" height="7" fill="#32fa60"/>
<rect x="240" y="282" width="7" height="7" fill="#32fa5d"/>
<rect x="246" y="282" width="7" height="7" fill="#32fa5b"/>
<rect x="252" y="282" width="7" height="7" fill="#32fa59"/>
<rect x="258" y="282" width="7" height="7" fill="#32fa56"/>
<rect x="264" y="282" width="7" height="7" fill="#32fa54"/>
<rect x="270" y="282" width="7" height="7" fill="#32fa51"/>
<rect x="276" y="282" width="7" height="7" fill="#32fa4e"/>
<rect x="282" y="282" width="7" height="7" fill="#32fa4c"/>
<rect x="288" y="282" width="7" height="7" fill="#32fa49"/>
<rect x="294" y="282" width="7" height="7" fill="#36fa45"/>
<rect x="300" y="282" width="7" height="7" fill="#41fa40"/>
<rect x="306" y="282" width="7" height="7" fill="#54fa3e"/>
<rect x="312" y="282" width="7" height="7" fill="#64fa3b"/>
<rect x="318" y="282" width="7" height="7" fill="#73fa38"/>
<rect x="324" y="282" width="7" height="7" fill="#81fa35"/>
<rect x="330" y="282" width="7" height="7" fill="#8dfa32"/>
<rect x="336" y="282" width="7" height="7" fill="#97fa32"/>
<rect x="342" y="282" width="7" height="7" fill="#a1fa32"/>
<rect x="348" y="282" width="7" height="7" fill="#abfa32"/>
<rect x="354" y="282" width="7" height="7" fill="#b4fa32"/>
<rect x="360" y="282" width="7" height="7" fill="#bcfa32"/>
<rect x="366" y="282" width="7" height="7" fill="#c4fa32"/>
<rect x="372" y="282" width="7" height="7" fill="#cbfa32"/>
<rect x="378" y="282" width="7" height="7" fill="#d3fa32"/>
<rect x="384" y="282" width="7" height="7" fill="#d9fa32"/>
<rect x="390" y="282" width="7" height="7" fill="#e0fa32"/>
<rect x="396" y="282" width="7" height="7" fill="#e6fa32"/>
<rect x="402" y="282" width="7" height="7" fill="#ebfa32"/>
<rect x="408" y="282" width="7" height="7" fill="#f1fa32"/>
<rect x="414" y="282" width="7" height="7" fill="#f6fa32"/>
<rect x="420" y="282" width="7" height="7" fill="#faf932"/>
<rect x="426" y="282" width="7" height="7" fill="#faf531"/>
<rect x="54" y="288" width="7" height="7" fill="#32fa91"/>
<rect x="60" y="288" width="7" height="7" fill="#32fa90"/>
<rect x="66" y="288" width="7" height="7" fill="#32fa8f"/>
<rect x="72" y="288" width="7" height="7" fill="#32fa8e"/>
<rect x="78" y="288" width="7" height="7" fill="#32fa8c"/>
<rect x="84" y="288" width="7" height="7" fill="#32fa8b"/>
<rect x="90" y="288" width="7" height="7" fill="#32fa8a"/>
<rect x="96" y="288" width="7" height="7" fill="#32fa89"/>
<rect x="102" y="288" width="7" height="7" fill="#32fa88"/>
<rect x="108" y="288" width="7" height="7" fill="#32fa86"/>
<rect x="114" y="288" width="7" height="7" fill="#32fa85"/>
<rect x="120" y="288" width="7" height="7" fill="#32fa84"/>
<rect x="126" y="288" width="7" height="7" fill="#32fa82"/>
<rect x="132" y="288" width="7" height="7" fill="#32fa81"/>
<rect x="138" y="288" width="7" height="7" fill="#32fa80"/>
<rect x="144" y="288" width="7" height="7" fill="#32fa7e"/>
<rect x="150" y="288" width="7" height="7" fill="#32fa7d"/>
<rect x="156" y="288" width="7" height="7" fill="#32fa7b"/>
<rect x="162" y="288" width="7" height="7" fill="#32fa7a"/>
<rect x="168" y="288" width="7" height="7" fill="#32fa78"/>
<rect x="174" y="288" width="7" height="7" fill="#32fa76"/>
<rect x="180" y="288" width="7" height="7" fill="#32fa75"/>
<rect x="186" y="288" width="7" height="7" fill="#32fa73"/>
<rect x="192" y="288" width="7" height="7" fill="#32fa71"/>
<rect x="198" y="288" width="7" height="7" fill="#32fa70"/>
<rect x="204" y="288" width="7" height="7" fill="#32fa6e"/>
<rect x="210" y="288" width="7" height="7" fill="#32fa6c"/>
<rect x="216" y="288" width="7" height="7" fill="#32fa6a"/>
<rect x="222" y="288" width="7" height="7" fill="#32fa68"/>
<rect x="228" y="288" width="7" height="7" fill="#32fa66"/>
<rect x="234" y="288" width="7" height="7" fill="#32fa64"/>
<rect x="240" y="288" width="7" height="7" fill="#32fa61"/>
<rect x="246" y="288" width="7" height="7" fill="#32fa5f"/>
<rect x="252" y="288" width="7" height="7" fill="#32fa5d"/>
<rect x="258" y="288" width="7" height="7" fill="#32fa5a"/>
<rect x="264" y="288" width="7" height="7" fill="#32fa58"/>
<rect x="270" y="288" width="7" height="7" fill="#32fa55"/>
<rect x="276" y="288" width="7" height="7" fill="#32fa53"/>
<rect x="282" y="288" width="7" height="7" fill="#32fa50"/>
<rect x="288" y="288" width="7" height="7" fill="#32fa4d"/>
<rect x="294" y="288" width="7" height="7" fill="#39fa49"/>
<rect x="300" y="288" width="7" height="7" fill="#44fa44"/>
<rect x="306" y="288" width="7" height="7" fill="#57fa41"/>
<rect x="312" y="288" width="7" height="7" fill="#68fa3f"/>
<rect x="318" y="288" width="7" height="7" fill="#77fa3c"/>
<rect x="324" y="288" width="7" height="7" fill="#84fa39"/>
<rect x="330" y="288" width="7" height="7" fill="#90fa36"/>
<rect x="336" y="288" width="7" height="7" fill="#9bfa33"/>
<rect x="342" y="288" width="7" height="7" fill="#a5fa32"/>
<rect x="348" y="288" width="7" height="7" fill="#affa32"/>
<rect x="354" y="288" width="7" height="7" fill="#b8fa32"/>
<rect x="360" y="288" width="7" height="7" fill="#c0fa32"/>
<rect x="366" y="288" width="7" height="7" fill="#c8fa32"/>
<rect x="372" y="288" width="7" height="7" fill="#cffa32"/>
<rect x="378" y="288" width="7" height="7" fill="#d6fa32"/>
<rect x="384" y="288" width="7" height="7" fill="#ddfa32"/>
<rect x="390" y="288" width="7" height="7" fill="#e3fa32"/>
<rect x="396" y="288" width="7" height="7" fill="#e9fa32"/>
<rect x="402" y="288" width="7" height="7" fill="#eefa32"/>
<rect x="408" y="288" width="7" height="7" fill="#f4fa32"/>
<rect x="414" y="288" width="7" height="7" fill="#f9fa32"/>
<rect x="420" y="288" width="7" height="7" fill="#faf631"/>
<rect x="426" y="288" width="7" height="7" fill="#faf230"/>
<rect x="432" y="288" width="7" height="7" fill="#faee2f"/>
<rect x="54" y="294" width="7" height="7" fill="#32fa94"/>
<rect x="60" y="294" width="7" height="7" fill="#32fa93"/>
<rect x="66" y="294" width="7" height="7" fill="#32fa92"/>
<rect x="72" y="294" width="7" height="7" fill="#32fa91"/>
<rect x="78" y="294" width="7" height="7" fill="#32fa90"/>
<rect x="84" y="294" width="7" height="7" fill="#32fa8e"/>
<rect x="90" y="294" width="7" height="7" fill="#32fa8d"/>
<rect x="96" y="294" width="7" height="7" fill="#32fa8c"/>
<rect x="102" y="294" width="7" height="7" fill="#32fa8b"/>
<rect x="108" y="294" width="7" height="7" fill="#32fa8a"/>
<rect x="114" y="294" width="7" height="7" fill="#32fa88"/>
<rect x="120" y="294" width="7" height="7" fill="#32fa87"/>
<rect x="126" y="294" width="7" height="7" fill="#32fa86"/>
<rect x="132" y="294" width="7" height="7" fill="#32fa85"/>
<rect x="138" y="294" width="7" height="7" fill="#32fa83"/>
<rect x="144" y="294" width="7" height="7" fill="#32fa82"/>
<rect x="150" y="294" width="7" height="7" fill="#32fa80"/>
<rect x="156" y="294" width="7" height="7" fill="#32fa7f"/>
<rect x="162" y="294" width="7" height="7" fill="#32fa7d"/>
<rect x="168" y="294" width="7" height="7" fill="#32fa7c"/>
<rect x="174" y="294" width="7" height="7" fill="#32fa7a"/>
<rect x="180" y="294" width="7" height="7" fill="#32fa78"/>
<rect x="186" y="294" width="7" height="7" fill="#32fa77"/>
<rect x="192" y="294" width="7" height="7" fill="#32fa75"/>
<rect x="198" y="294" width="7" height="7" fill="#32fa73"/>
<rect x="204" y="294" width="7" height="7" fill="#32fa71"/>
<rect x="210" y="294" width="7" height="7" fill="#32fa70"/>
<rect x="216" y="294" width="7" height="7" fill="#32fa6e"/>
<rect x="222" y="294" width="7" height="7" fill="#32fa6c"/>
<rect x="228" y="294" width="7" height="7" fill="#32fa6a"/>
<rect x="234" y="294" width="7" height="7" fill="#32fa68"/>
<rect x="240" y="294" width="7" height="7" fill="#32fa65"/>
<rect x="246" y="294" width="7" height="7" fill="#32fa63"/>
<rect x="252" y="294" width="7" height="7" fill="#32fa61"/>
<rect x="258" y="294" width="7" height="7" fill="#32fa5f"/>
<rect x="264" y="294" width="7" height="7" fill="#32fa5c"/>
<rect x="270" y="294" width="7" height="7" fill="#32fa5a"/>
<rect x="276" y="294" width="7" height="7" fill="#32fa57"/>
<rect x="282" y="294" width="7" height="7" fill="#32fa54"/>
<rect x="288" y="294" width="7" height="7" fill="#32fa52"/>
<rect x="294" y="294" width="7" height="7" fill="#3cfa4d"/>
<rect x="300" y="294" width="7" height="7" fill="#47fa48"/>
<rect x="306" y="294" width="7" height="7" fill="#5afa46"/>
<rect x="312" y="294" width="7" height="7" fill="#6bfa43"/>
<rect x="318" y="294" width="7" height="7" fill="#7bfa40"/>
<rect x="324" y="294" width="7" height="7" fill="#88fa3d"/>
<rect x="330" y="294" width="7" height="7" fill="#94fa3a"/>
<rect x="336" y="294" width="7" height="7" fill="#9ffa37"/>
<rect x="342" y="294" width="7" height="7" fill="#a9fa33"/>
<rect x="348" y="294" width="7" height="7" fill="#b3fa32"/>
<rect x="354" y="294" width="7" height="7" fill="#bbfa32"/>
<rect x="360" y="294" width="7" height="7" fill="#c4fa32"/>
<rect x="366" y="294" width="7" height="7" fill="#cbfa32"/>
<rect x="372" y="294" width="7" height="7" fill="#d3fa32"/>
<rect x="378" y="294" width="7" height="7" fill="#d9fa32"/>
<rect x="384" y="294" width="7" height="7" fill="#e0fa32"/>
<rect x="390" y="294" width="7" height="7" fill="#e6fa32"/>
<rect x="396" y="294" width="7" height="7" fill="#ecfa32"/>
<rect x="402" y="294" width="7" height="7" fill="#f2fa32"/>
<rect x="408" y="294" width="7" height="7" fill="#f7fa32"/>
<rect x="414" y="294" width="7" height="7" fill="#faf832"/>
<rect x="420" y="294" width="7" height="7" fill="#faf430"/>
<rect x="426" y="294" width="7" height="7" fill="#faef2f"/>
<rect x="432" y="294" width="7" height="7" fill="#faeb2e"/>
<rect x="438" y="294" width="7" height="7" fill="#fae72d"/>
<rect x="54" y="300" width="7" height="7" fill="#32fa97"/>
<rect x="60" y="300" width="7" height="7" fill="#32fa96"/>
<rect x="66" y="300" width="7" height="7" fill="#32fa95"/>
<rect x="72" y="300" width="7" height="7" fill="#32fa94"/>
<rect x="78" y="300" width="7" height="7" fill="#32fa93"/>
<rect x="84" y="300" width="7" height="7" fill="#32fa92"/>
<rect x="90" y="300" width="7" height="7" fill="#32fa91"/>
<rect x="96" y="300" width="7" height="7" fill="#32fa8f"/>
<rect x="102" y="300" width="7" height="7" fill="#32fa8e"/>
<rect x="108" y="300" width="7" height="7" fill="#32fa8d"/>
<rect x="114" y="300" width="7" height="7" fill="#32fa8c"/>
<rect x="120" y="300" width="7" height="7" fill="#32fa8b"/>
<rect x="126" y="300" width="7" height="7" fill="#32fa89"/>
<rect x="132" y="300" width="7" height="7" fill="#32fa88"/>
<rect x="138" y="300" width="7" height="7" fill="#32fa87"/>
<rect x="144" y="300" width="7" height="7" fill="#32fa85"/>
<rect x="150" y="300" width="7" height="7" fill="#32fa84"/>
<rect x="156" y="300" width="7" height="7" fill="#32fa82"/>
<rect x="162" y="300" width="7" height="7" fill="#32fa81"/>
<rect x="168" y="300" width="7" height="7" fill="#32fa7f"/>
<rect x="174" y="300" width="7" height="7" fill="#32fa7e"/>
<rect x="180" y="300" width="7" height="7" fill="#32fa7c"/>
<rect x="186" y="300" width="7" height="7" fill="#32fa7b"/>
<rect x="192" y="300" width="7" height="7" fill="#32fa79"/>
<rect x="198" y="300" width="7" height="7" fill="#32fa77"/>
<rect x="204" y="300" width="7" height="7" fill="#32fa75"/>
<rect x="210" y="300" width="7" height="7" fill="#32fa74"/>
<rect x="216" y="300" width="7" height="7" fill="#32fa72"/>
<rect x="222" y="300" width="7" height="7" fill="#32fa70"/>
<rect x="228" y="300" width="7" height="7" fill="#32fa6e"/>
<rect x="234" y="300" width="7" height="7" fill="#32fa6c"/>
<rect x="240" y="300" width="7" height="7" fill="#32fa6a"/>
<rect x="246" y="300" width="7" height="7" fill="#32fa67"/>
<rect x="252" y="300" width="7" height="7" fill="#32fa65"/>
<rect x="258" y="300" width="7" height="7" fill="#32fa63"/>
<rect x="264" y="300" width="7" height="7" fill="#32fa60"/>
<rect x="270" y="300" width="7" height="7" fill="#32fa5e"/>
<rect x="276" y="300" width="7" height="7" fill="#32fa5b"/>
<rect x="282" y="300" width="7" height="7" fill="#32fa59"/>
<rect x="288" y="300" width="7" height="7" fill="#34fa56"/>
<rect x="294" y="300" width="7" height="7" fill="#3ffa52"/>
<rect x="300" y="300" width="7" height="7" fill="#4bfa4d"/>
<rect x="306" y="300" width="7" height="7" fill="#5efa4a"/>
<rect x="312" y="300" width="7" height="7" fill="#6ffa47"/>
<rect x="318" y="300" width="7" height="7" fill="#7efa44"/>
<rect x="324" y="300" width="7" height="7" fill="#8cfa41"/>
<rect x="330" y="300" width="7" height="7" fill="#98fa3e"/>
<rect x="336" y="300" width="7" height="7" fill="#a3fa3b"/>
<rect x="342" y="300" width="7" height="7" fill="#adfa38"/>
<rect x="348" y="300" width="7" height="7" fill="#b7fa34"/>
<rect x="354" y="300" width="7" height="7" fill="#bffa32"/>
<rect x="360" y="300" width="7" height="7" fill="#c7fa32"/>
<rect x="366" y="300" width="7" height="7" fill="#cffa32"/>
<rect x="372" y="300" width="7" height="7" fill="#d6fa32"/>
<rect x="378" y="300" width="7" height="7" fill="#ddfa32"/>
<rect x="384" y="300" width="7" height="7" fill="#e3fa32"/>
<rect x="390" y="300" width="7" height="7" fill="#e9fa32"/>
<rect x="396" y="300" width="7" height="7" fill="#effa32"/>
<rect x="402" y="300" width="7" height="7" fill="#f5fa32"/>
<rect x="408" y="300" width="7" height="7" fill="#fafa32"/>
<rect x="414" y="300" width="7" height="7" fill="#faf531"/>
<rect x="420" y="300" width="7" height="7" fill="#faf130"/>
<rect x="426" y="300" width="7" height="7" fill="#faed2f"/>
<rect x="432" y="300" width="7" height="7" fill="#fae82e"/>
<rect x="438" y="300" width="7" height="7" fill="#fae42d"/>
<rect x="444" y="300" width="7" height="7" fill="#fae02c"/>
<rect x="54" y="306" width="7" height="7" fill="#32fa9a"/>
<rect x="60" y="306" width="7" height="7" fill="#32fa99"/>
<rect x="66" y="306" width="7" height="7" fill="#32fa98"/>
<rect x="72" y="306" width="7" height="7" fill="#32fa97"/>
<rect x="78" y="306" width="7" height="7" fill="#32fa96"/>
<rect x="84" y="306" width="7" height="7" fill="#32fa95"/>
<rect x="90" y="306" width="7" height="7" fill="#32fa94"/>
<rect x="96" y="306" width="7" height="7" fill="#32fa93"/>
<rect x="102" y="306" width="7" height="7" fill="#32fa92"/>
<rect x="108" y="306" width="7" height="7" fill="#32fa90"/>
<rect x="114" y="306" width="7" height="7" fill="#32fa8f"/>
<rect x="120" y="306" width="7" height="7" fill="#32fa8e"/>
<rect x="126" y="306" width="7" height="7" fill="#32fa8d"/>
<rect x="132" y="306" width="7" height="7" fill="#32fa8b"/>
<rect x="138" y="306" width="7" height="7" fill="#32fa8a"/>
<rect x="144" y="306" width="7" height="7" fill="#32fa89"/>
<rect x="150" y="306" width="7" height="7" fill="#32fa87"/>
<rect x="156" y="306" width="7" height="7" fill="#32fa86"/>
<rect x="162" y="306" width="7" height="7" fill="#32fa85"/>
<rect x="168" y="306" width="7" height="7" fill="#32fa83"/>
<rect x="174" y="306" width="7" height="7" fill="#32fa82"/>
<rect x="180" y="306" width="7" height="7" fill="#32fa80"/>
<rect x="186" y="306" width="7" height="7" fill="#32fa7e"/>
<rect x="192" y="306" width="7" height="7" fill="#32fa7d"/>
<rect x="198" y="306" width="7" height="7" fill="#32fa7b"/>
<rect x="204" y="306" width="7" height="7" fill="#32fa79"/>
<rect x="210" y="306" width="7" height="7" fill="#32fa78"/>
<rect x="216" y="306" width="7" height="7" fill="#32fa76"/>
<rect x="222" y="306" width="7" height="7" fill="#32fa74"/>
<rect x="228" y="306" width="7" height="7" fill="#32fa72"/>
<rect x="234" y="306" width="7" height="7" fill="#32fa70"/>
<rect x="240" y="306" width="7" height="7" fill="#32fa6e"/>
<rect x="246" y="306" width="7" height="7" fill="#32fa6c"/>
<rect x="252" y="306" width="7" height="7" fill="#32fa69"/>
<rect x="258" y="306" width="7" height="7" fill="#32fa67"/>
<rect x="264" y="306" width="7" height="7" fill="#32fa65"/>
<rect x="270" y="306" width="7" height="7" fill="#32fa62"/>
<rect x="276" y="306" width="7" height="7" fill="#32fa60"/>
<rect x="282" y="306" width="7" height="7" fill="#32fa5d"/>
<rect x="288" y="306" width="7" height="7" fill="#37fa5a"/>
<rect x="294" y="306" width="7" height="7" fill="#43fa56"/>
<rect x="300" y="306" width="7" height="7" fill="#4efa51"/>
<rect x="306" y="306" width="7" height="7" fill="#61fa4e"/>
<rect x="312" y="306" width="7" height="7" fill="#73fa4b"/>
<rect x="318" y="306" width="7" height="7" fill="#82fa48"/>
<rect x="324" y="306" width="7" height="7" fill="#90fa45"/>
<rect x="330" y="306" width="7" height="7" fill="#9cfa42"/>
<rect x="336" y="306" width="7" height="7" fill="#a7fa3f"/>
<rect x="342" y="306" width="7" height="7" fill="#b1fa3c"/>
<rect x="348" y="306" width="7" height="7" fill="#bbfa39"/>
<rect x="354" y="306" width="7" height="7" fill="#c3fa35"/>
<rect x="360" y="306" width="7" height="7" fill="#cbfa32"/>
<rect x="366" y="306" width="7" height="7" fill="#d3fa32"/>
<rect x="372" y="306" width="7" height="7" fill="#dafa32"/>
<rect x="378" y="306" width="7" height="7" fill="#e0fa32"/>
<rect x="384" y="306" width="7" height="7" fill="#e7fa32"/>
<rect x="390" y="306" width="7" height="7" fill="#edfa32"/>
<rect x="396" y="306" width="7" height="7" fill="#f2fa32"/>
<rect x="402" y="306" width="7" height="7" fill="#f8fa32"/>
<rect x="408" y="306" width="7" height="7" fill="#faf731"/>
<rect x="414" y="306" width="7" height="7" fill="#faf330"/>
<rect x="420" y="306" width="7" height="7" fill="#faee2f"/>
<rect x="426" y="306" width="7" height="7" fill="#faea2e"/>
<rect x="432" y="306" width="7" height="7" fill="#fae52d"/>
<rect x="438" y="306" width="7" height="7" fill="#fae12c"/>
<rect x="444" y="306" width="7" height="7" fill="#fadc2b"/>
<rect x="450" y="306" width="7" height="7" fill="#fad82a"/>
<rect x="54" y="312" width="7" height="7" fill="#32fa9d"/>
<rect x="60" y="312" width="7" height="7" fill="#32fa9c"/>
<rect x="66" y="312" width="7" height="7" fill="#32fa9b"/>
<rect x="72" y="312" width="7" height="7" fill="#32fa9a"/>
<rect x="78" y="312" width="7" height="7" fill="#32fa99"/>
<rect x="84" y="312" width="7" height="7" fill="#32fa98"/>
<rect x="90" y="312" width="7" height="7" fill="#32fa97"/>
<rect x="96" y="312" width="7" height="7" fill="#32fa96"/>
<rect x="102" y="312" width="7" height="7" fill="#32fa95"/>
<rect x="108" y="312" width="7" height="7" fill="#32fa94"/>
<rect x="114" y="312" width="7" height="7" fill="#32fa93"/>
<rect x="120" y="312" width="7" height="7" fill="#32fa91"/>
<rect x="126" y="312" width="7" height="7" fill="#32fa90"/>
<rect x="132" y="312" width="7" height="7" fill="#32fa8f"/>
<rect x="138" y="312" width="7" height="7" fill="#32fa8e"/>
<rect x="144" y="312" width="7" height="7" fill="#32fa8c"/>
<rect x="150" y="312" width="7" height="7" fill="#32fa8b"/>
<rect x="156" y="312" width="7" height="7" fill="#32fa8a"/>
<rect x="162" y="312" width="7" height="7" fill="#32fa88"/>
<rect x="168" y="312" width="7" height="7" fill="#32fa87"/>
<rect x="174" y="312" width="7" height="7" fill="#32fa85"/>
<rect x="180" y="312" width="7" height="7" fill="#32fa84"/>
<rect x="186" y="312" width="7" height="7" fill="#32fa82"/>
<rect x="192" y="312" width="7" height="7" fill="#32fa81"/>
<rect x="198" y="312" width="7" height="7" fill="#32fa7f"/>
<rect x="204" y="312" width="7" height="7" fill="#32fa7d"/>
<rect x="210" y="312" width="7" height="7" fill="#32fa7c"/>
<rect x="216" y="312" width="7" height="7" fill="#32fa7a"/>
<rect x="222" y="312" width="7" height="7" fill="#32fa78"/>
<rect x="228" y="312" width="7" height="7" fill="#32fa76"/>
<rect x="234" y="312" width="7" height="7" fill="#32fa74"/>
<rect x="240" y="312" width="7" height="7" fill="#32fa72"/>
<rect x="246" y="312" width="7" height="7" fill="#32fa70"/>
<rect x="252" y="312" width="7" height="7" fill="#32fa6e"/>
<rect x="258" y="312" width="7" height="7" fill="#32fa6c"/>
<rect x="264" y="312" width="7" height="7" fill="#32fa69"/>
<rect x="270" y="312" width="7" height="7" fill="#32fa67"/>
<rect x="276" y="312" width="7" height="7" fill="#32fa64"/>
<rect x="282" y="312" width="7" height="7" fill="#32fa62"/>
<rect x="288" y="312" width="7" height="7" fill="#3bfa5f"/>
<rect x="294" y="312" width="7" height="7" fill="#46fa5b"/>
<rect x="300" y="312" width="7" height="7" fill="#52fa56"/>
<rect x="306" y="312" width="7" height="7" fill="#65fa52"/>
<rect x="312" y="312" width="7" height="7" fill="#77fa50"/>
<rect x="318" y="312" width="7" height="7" fill="#86fa4d"/>
<rect x="324" y="312" width="7" height="7" fill="#94fa4a"/>
<rect x="330" y="312" width="7" height="7" fill="#a0fa47"/>
<rect x="336" y="312" width="7" height="7" fill="#abfa44"/>
<rect x="342" y="312" width="7" height="7" fill="#b5fa41"/>
<rect x="348" y="312" width="7" height="7" fill="#bffa3d"/>
<rect x="354" y="312" width="7" height="7" fill="#c7fa3a"/>
<rect x="360" y="312" width="7" height="7" fill="#cffa36"/>
<rect x="366" y="312" width="7" height="7" fill="#d6fa33"/>
<rect x="372" y="312" width="7" height="7" fill="#ddfa32"/>
<rect x="378" y="312" width="7" height="7" fill="#e4fa32"/>
<rect x="384" y="312" width="7" height="7" fill="#eafa32"/>
<rect x="390" y="312" width="7" height="7" fill="#f0fa32"/>
<rect x="396" y="312" width="7" height="7" fill="#f6fa32"/>
<rect x="402" y="312" width="7" height="7" fill="#faf932"/>
<rect x="408" y="312" width="7" height="7" fill="#faf431"/>
<rect x="414" y="312" width="7" height="7" fill="#faf02f"/>
<rect x="420" y="312" width="7" height="7" fill="#faeb2e"/>
<rect x="426" y="312" width="7" height="7" fill="#fae72d"/>
<rect x="432" y="312" width="7" height="7" fill="#fae22c"/>
<rect x="438" y="312" width="7" height="7" fill="#fade2b"/>
<rect x="444" y="312" width="7" height="7" fill="#fad92a"/>
<rect x="450" y="312" width="7" height="7" fill="#fad529"/>
<rect x="456" y="312" width="7" height="7" fill="#fad128"/>
<rect x="60" y="318" width="7" height="7" fill="#32fa9f"/>
<rect x="66" y="318" width="7" height="7" fill="#32fa9e"/>
<rect x="72" y="318" width="13" height="7" fill="#32fa9d"/>
<rect x="84" y="318" width="7" height="7" fill="#32fa9b"/>
<rect x="90" y="318" width="7" height="7" fill="#32fa9a"/>
<rect x="96" y="318" width="7" height="7" fill="#32fa99"/>
<rect x="102" y="318" width="7" height="7" fill="#32fa98"/>
<rect x="108" y="318" width="7" height="7" fill="#32fa97"/>
<rect x="114" y="318" width="7" height="7" fill="#32fa96"/>
<rect x="120" y="318" width="7" height="7" fill="#32fa95"/>
<rect x="126" y="318" width="7" height="7" fill="#32fa94"/>
<rect x="132" y="318" width="7" height="7" fill="#32fa93"/>
<rect x="138" y="318" width="7" height="7" fill="#32fa91"/>
<rect x="144" y="318" width="7" height="7" fill="#32fa90"/>
<rect x="150" y="318" width="7" height="7" fill="#32fa8f"/>
<rect x="156" y="318" width="7" height="7" fill="#32fa8d"/>
<rect x="162" y="318" width="7" height="7" fill="#32fa8c"/>
<rect x="168" y="318" width="7" height="7" fill="#32fa8b"/>
<rect x="174" y="318" width="7" height="7" fill="#32fa89"/>
<rect x="180" y="318" width="7" height="7" fill="#32fa88"/>
<rect x="186" y="318" width="7" height="7" fill="#32fa86"/>
<rect x="192" y="318" width="7" height="7" fill="#32fa85"/>
<rect x="198" y="318" width="7" height="7" fill="#32fa83"/>
<rect x="204" y="318" width="7" height="7" fill="#32fa81"/>
<rect x="210" y="318" width="7" height="7" fill="#32fa80"/>
<rect x="216" y="318" width="7" height="7" fill="#32fa7e"/>
<rect x="222" y="318" width="7" height="7" fill="#32fa7c"/>
<rect x="228" y="318" width="7" height="7" fill="#32fa7a"/>
<rect x="234" y="318" width="7" height="7" fill="#32fa78"/>
<rect x="240" y="318" width="7" height="7" fill="#32fa76"/>
<rect x="246" y="318" width="7" height="7" fill="#32fa74"/>
<rect x="252" y="318" width="7" height="7" fill="#32fa72"/>
<rect x="258" y="318" width="7" height="7" fill="#32fa70"/>
<rect x="264" y="318" width="7" height="7" fill="#32fa6e"/>
<rect x="270" y="318" width="7" height="7" fill="#32fa6c"/>
<rect x="276" y="318" width="7" height="7" fill="#32fa69"/>
<rect x="282" y="318" width="7" height="7" fill="#32fa67"/>
<rect x="288" y="318" width="7" height="7" fill="#3efa63"/>
<rect x="294" y="318" width="7" height="7" fill="#4afa5f"/>
<rect x="300" y="318" width="7" height="7" fill="#56fa5a"/>
<rect x="306" y="318" width="7" height="7" fill="#69fa57"/>
<rect x="312" y="318" width="7" height="7" fill="#7bfa54"/>
<rect x="318" y="318" width="7" height="7" fill="#8afa52"/>
<rect x="324" y="318" width="7" height="7" fill="#98fa4f"/>
<rect x="330" y="318" width="7" height="7" fill="#a5fa4c"/>
<rect x="336" y="318" width="7" height="7" fill="#b0fa49"/>
<rect x="342" y="318" width="7" height="7" fill="#b9fa45"/>
<rect x="348" y="318" width="7" height="7" fill="#c3fa42"/>
<rect x="354" y="318" width="7" height="7" fill="#cbfa3f"/>
<rect x="360" y="318" width="7" height="7" fill="#d3fa3b"/>
<rect x="366" y="318" width="7" height="7" fill="#dafa38"/>
<rect x="372" y="318" width="7" height="7" fill="#e1fa34"/>
<rect x="378" y="318" width="7" height="7" fill="#e7fa32"/>
<rect x="384" y="318" width="7" height="7" fill="#edfa32"/>
<rect x="390" y="318" width="7" height="7" fill="#f3fa32"/>
<rect x="396" y="318" width="7" height="7" fill="#f9fa32"/>
<rect x="402" y="318" width="7" height="7" fill="#faf631"/>
<rect x="408" y="318" width="7" height="7" fill="#faf130"/>
<rect x="414" y="318" width="7" height="7" fill="#faed2f"/>
<rect x="420" y="318" width="7" height="7" fill="#fae82e"/>
<rect x="426" y="318" width="7" height="7" fill="#fae42d"/>
<rect x="432" y="318" width="7" height="7" fill="#fadf2b"/>
<rect x="438" y="318" width="7" height="7" fill="#fadb2a"/>
<rect x="444" y="318" width="7" height="7" fill="#fad629"/>
<rect x="450" y="318" width="7" height="7" fill="#fad228"/>
<rect x="456" y="318" width="7" height="7" fill="#facd27"/>
<rect x="462" y="318" width="7" height="7" fill="#fac926"/>
<rect x="60" y="324" width="7" height="7" fill="#32faa3"/>
<rect x="66" y="324" width="7" height="7" fill="#32faa2"/>
<rect x="72" y="324" width="7" height="7" fill="#32faa1"/>
<rect x="78" y="324" width="7" height="7" fill="#32faa0"/>
<rect x="84" y="324" width="7" height="7" fill="#32fa9f"/>
<rect x="90" y="324" width="7" height="7" fill="#32fa9e"/>
<rect x="96" y="324" width="7" height="7" fill="#32fa9d"/>
<rect x="102" y="324" width="7" height="7" fill="#32fa9c"/>
<rect x="108" y="324" width="7" height="7" fill="#32fa9b"/>
<rect x="114" y="324" width="7" height="7" fill="#32fa9a"/>
<rect x="120" y="324" width="7" height="7" fill="#32fa98"/>
<rect x="126" y="324" width="7" height="7" fill="#32fa97"/>
<rect x="132" y="324" width="7" height="7" fill="#32fa96"/>
<rect x="138" y="324" width="7" height="7" fill="#32fa95"/>
<rect x="144" y="324" width="7" height="7" fill="#32fa94"/>
<rect x="150" y="324" width="7" height="7" fill="#32fa92"/>
<rect x="156" y="324" width="7" height="7" fill="#32fa91"/>
<rect x="162" y="324" width="7" height="7" fill="#32fa90"/>
<rect x="168" y="324" width="7" height="7" fill="#32fa8e"/>
<rect x="174" y="324" width="7" height="7" fill="#32fa8d"/>
<rect x="180" y="324" width="7" height="7" fill="#32fa8c"/>
<rect x="186" y="324" width="7" height="7" fill="#32fa8a"/>
<rect x="192" y="324" width="7" height="7" fill="#32fa89"/>
<rect x="198" y="324" width="7" height="7" fill="#32fa87"/>
<rect x="204" y="324" width="7" height="7" fill="#32fa85"/>
<rect x="210" y="324" width="7" height="7" fill="#32fa84"/>
<rect x="216" y="324" width="7" height="7" fill="#32fa82"/>
<rect x="222" y="324" width="7" height="7" fill="#32fa80"/>
<rect x="228" y="324" width="7" height="7" fill="#32fa7f"/>
<rect x="234" y="324" width="7" height="7" fill="#32fa7d"/>
<rect x="240" y="324" width="7" height="7" fill="#32fa7b"/>
<rect x="246" y="324" width="7" height="7" fill="#32fa79"/>
<rect x="252" y="324" width="7" height="7" fill="#32fa77"/>
<rect x="258" y="324" width="7" height="7" fill="#32fa75"/>
<rect x="264" y="324" width="7" height="7" fill="#32fa72"/>
<rect x="270" y="324" width="7" height="7" fill="#32fa70"/>
<rect x="276" y="324" width="7" height="7" fill="#32fa6e"/>
<rect x="282" y="324" width="7" height="7" fill="#36fa6b"/>
<rect x="288" y="324" width="7" height="7" fill="#42fa68"/>
<rect x="294" y="324" width="7" height="7" fill="#4efa64"/>
<rect x="300" y="324" width="7" height="7" fill="#5afa5f"/>
<rect x="306" y="324" width="7" height="7" fill="#6cfa5c"/>
<rect x="312" y="324" width="7" height="7" fill="#7ffa59"/>
<rect x="318" y="324" width="7" height="7" fill="#8ffa56"/>
<rect x="324" y="324" width="7" height="7" fill="#9dfa53"/>
<rect x="330" y="324" width="7" height="7" fill="#a9fa50"/>
<rect x="336" y="324" width="7" height="7" fill="#b4fa4d"/>
<rect x="342" y="324" width="7" height="7" fill="#befa4a"/>
<rect x="348" y="324" width="7" height="7" fill="#c7fa47"/>
<rect x="354" y="324" width="7" height="7" fill="#cffa44"/>
<rect x="360" y="324" width="7" height="7" fill="#d7fa40"/>
<rect x="366" y="324" width="7" height="7" fill="#defa3d"/>
<rect x="372" y="324" width="7" height="7" fill="#e4fa39"/>
<rect x="378" y="324" width="7" height="7" fill="#ebfa35"/>
<rect x="384" y="324" width="7" height="7" fill="#f1fa32"/>
<rect x="390" y="324" width="7" height="7" fill="#f7fa32"/>
<rect x="396" y="324" width="7" height="7" fill="#faf831"/>
<rect x="402" y="324" width="7" height="7" fill="#faf330"/>
<rect x="408" y="324" width="7" height="7" fill="#faee2f"/>
<rect x="414" y="324" width="7" height="7" fill="#faea2e"/>
<rect x="420" y="324" width="7" height="7" fill="#fae52d"/>
<rect x="426" y="324" width="7" height="7" fill="#fae02c"/>
<rect x="432" y="324" width="7" height="7" fill="#fadc2b"/>
<rect x="438" y="324" width="7" height="7" fill="#fad72a"/>
<rect x="444" y="324" width="7" height="7" fill="#fad329"/>
<rect x="450" y="324" width="7" height="7" fill="#face28"/>
<rect x="456" y="324" width="7" height="7" fill="#faca27"/>
<rect x="462" y="324" width="7" height="7" fill="#fac526"/>
<rect x="468" y="324" width="7" height="7" fill="#fac125"/>
<rect x="60" y="330" width="7" height="7" fill="#32faa6"/>
<rect x="66" y="330" width="7" height="7" fill="#32faa5"/>
<rect x="72" y="330" width="7" height="7" fill="#32faa4"/>
<rect x="78" y="330" width="7" height="7" fill="#32faa3"/>
<rect x="84" y="330" width="7" height="7" fill="#32faa2"/>
<rect x="90" y="330" width="7" height="7" fill="#32faa1"/>
<rect x="96" y="330" width="7" height="7" fill="#32faa0"/>
<rect x="102" y="330" width="7" height="7" fill="#32fa9f"/>
<rect x="108" y="330" width="7" height="7" fill="#32fa9e"/>
<rect x="114" y="330" width="7" height="7" fill="#32fa9d"/>
<rect x="120" y="330" width="7" height="7" fill="#32fa9c"/>
<rect x="126" y="330" width="7" height="7" fill="#32fa9b"/>
<rect x="132" y="330" width="7" height="7" fill="#32fa9a"/>
<rect x="138" y="330" width="7" height="7" fill="#32fa99"/>
<rect x="144" y="330" width="7" height="7" fill="#32fa97"/>
<rect x="150" y="330" width="7" height="7" fill="#32fa96"/>
<rect x="156" y="330" width="7" height="7" fill="#32fa95"/>
<rect x="162" y="330" width="7" height="7" fill="#32fa94"/>
<rect x="168" y="330" width="7" height="7" fill="#32fa92"/>
<rect x="174" y="330" width="7" height="7" fill="#32fa91"/>
<rect x="180" y="330" width="7" height="7" fill="#32fa90"/>
<rect x="186" y="330" width="7" height="7" fill="#32fa8e"/>
<rect x="192" y="330" width="7" height="7" fill="#32fa8d"/>
<rect x="198" y="330" width="7" height="7" fill="#32fa8b"/>
<rect x="204" y="330" width="7" height="7" fill="#32fa8a"/>
<rect x="210" y="330" width="7" height="7" fill="#32fa88"/>
<rect x="216" y="330" width="7" height="7" fill="#32fa86"/>
<rect x="222" y="330" width="7" height="7" fill="#32fa85"/>
<rect x="228" y="330" width="7" height="7" fill="#32fa83"/>
<rect x="234" y="330" width="7" height="7" fill="#32fa81"/>
<rect x="240" y="330" width="7" height="7" fill="#32fa7f"/>
<rect x="246" y="330" width="7" height="7" fill="#32fa7d"/>
<rect x="252" y="330" width="7" height="7" fill="#32fa7b"/>
<rect x="258" y="330" width="7" height="7" fill="#32fa79"/>
<rect x="264" y="330" width="7" height="7" fill="#32fa77"/>
<rect x="270" y="330" width="7" height="7" fill="#32fa75"/>
<rect x="276" y="330" width="7" height="7" fill="#32fa73"/>
<rect x="282" y="330" width="7" height="7" fill="#39fa70"/>
<rect x="288" y="330" width="7" height="7" fill="#45fa6d"/>
<rect x="294" y="330" width="7" height="7" fill="#52fa69"/>
<rect x="300" y="330" width="7" height="7" fill="#5efa64"/>
<rect x="306" y="330" width="7" height="7" fill="#70fa61"/>
<rect x="312" y="330" width="7" height="7" fill="#83fa5e"/>
<rect x="318" y="330" width="7" height="7" fill="#93fa5b"/>
<rect x="324" y="330" width="7" height="7" fill="#a1fa58"/>
<rect x="330" y="330" width="7" height="7" fill="#adfa55"/>
<rect x="336" y="330" width="7" height="7" fill="#b8fa52"/>
<rect x="342" y="330" width="7" height="7" fill="#c2fa4f"/>
<rect x="348" y="330" width="7" height="7" fill="#cbfa4c"/>
<rect x="354" y="330" width="7" height="7" fill="#d3fa49"/>
<rect x="360" y="330" width="7" height="7" fill="#dbfa45"/>
<rect x="366" y="330" width="7" height="7" fill="#e2fa42"/>
<rect x="372" y="330" width="7" height="7" fill="#e8fa3e"/>
<rect x="378" y="330" width="7" height="7" fill="#eefa3a"/>
<rect x="384" y="330" width="7" height="7" fill="#f4fa36"/>
<rect x="390" y="330" width="7" height="7" fill="#fafa32"/>
<rect x="396" y="330" width="7" height="7" fill="#faf531"/>
<rect x="402" y="330" width="7" height="7" fill="#faf030"/>
<rect x="408" y="330" width="7" height="7" fill="#faeb2e"/>
<rect x="414" y="330" width="7" height="7" fill="#fae72d"/>
<rect x="420" y="330" width="7" height="7" fill="#fae22c"/>
<rect x="426" y="330" width="7" height="7" fill="#fadd2b"/>
<rect x="432" y="330" width="7" height="7" fill="#fad82a"/>
<rect x="438" y="330" width="7" height="7" fill="#fad429"/>
<rect x="444" y="330" width="7" height="7" fill="#facf28"/>
<rect x="450" y="330" width="7" height="7" fill="#facb27"/>
<rect x="456" y="330" width="7" height="7" fill="#fac626"/>
<rect x="462" y="330" width="7" height="7" fill="#fac225"/>
<rect x="468" y="330" width="7" height="7" fill="#fabd24"/>
<rect x="474" y="330" width="7" height="7" fill="#fab923"/>
<rect x="60" y="336" width="7" height="7" fill="#32faa9"/>
<rect x="66" y="336" width="7" height="7" fill="#32faa8"/>
<rect x="72" y="336" width="13" height="7" fill="#32faa7"/>
<rect x="84" y="336" width="7" height="7" fill="#32faa6"/>
<rect x="90" y="336" width="7" height="7" fill="#32faa5"/>
<rect x="96" y="336" width="7" height="7" fill="#32faa4"/>
<rect x="102" y="336" width="7" height="7" fill="#32faa3"/>
<rect x="108" y="336" width="7" height="7" fill="#32faa2"/>
<rect x="114" y="336" width="7" height="7" fill="#32faa1"/>
<rect x="120" y="336" width="7" height="7" fill="#32faa0"/>
<rect x="126" y="336" width="7" height="7" fill="#32fa9f"/>
<rect x="132" y="336" width="7" height="7" fill="#32fa9d"/>
<rect x="138" y="336" width="7" height="7" fill="#32fa9c"/>
<rect x="144" y="336" width="7" height="7" fill="#32fa9b"/>
<rect x="150" y="336" width="7" height="7" fill="#32fa9a"/>
<rect x="156" y="336" width="7" height="7" fill="#32fa99"/>
<rect x="162" y="336" width="7" height="7" fill="#32fa98"/>
<rect x="168" y="336" width="7" height="7" fill="#32fa96"/>
<rect x="174" y="336" width="7" height="7" fill="#32fa95"/>
<rect x="180" y="336" width="7" height="7" fill="#32fa94"/>
<rect x="186" y="336" width="7" height="7" fill="#32fa92"/>
<rect x="192" y="336" width="7" height="7" fill="#32fa91"/>
<rect x="198" y="336" width="7" height="7" fill="#32fa8f"/>
<rect x="204" y="336" width="7" height="7" fill="#32fa8e"/>
<rect x="210" y="336" width="7" height="7" fill="#32fa8c"/>
<rect x="216" y="336" width="7" height="7" fill="#32fa8b"/>
<rect x="222" y="336" width="7" height="7" fill="#32fa89"/>
<rect x="228" y="336" width="7" height="7" fill="#32fa87"/>
<rect x="234" y="336" width="7" height="7" fill="#32fa86"/>
<rect x="240" y="336" width="7" height="7" fill="#32fa84"/>
<rect x="246" y="336" width="7" height="7" fill="#32fa82"/>
<rect x="252" y="336" width="7" height="7" fill="#32fa80"/>
<rect x="258" y="336" width="7" height="7" fill="#32fa7e"/>
<rect x="264" y="336" width="7" height="7" fill="#32fa7c"/>
<rect x="270" y="336" width="7" height="7" fill="#32fa7a"/>
<rect x="276" y="336" width="7" height="7" fill="#32fa78"/>
<rect x="282" y="336" width="7" height="7" fill="#3dfa75"/>
<rect x="288" y="336" width="7" height="7" fill="#49fa72"/>
<rect x="294" y="336" width="7" height="7" fill="#56fa6e"/>
<rect x="300" y="336" width="7" height="7" fill="#62fa69"/>
<rect x="306" y="336" width="7" height="7" fill="#74fa66"/>
<rect x="312" y="336" width="7" height="7" fill="#87fa63"/>
<rect x="318" y="336" width="7" height="7" fill="#98fa60"/>
<rect x="324" y="336" width="7" height="7" fill="#a6fa5e"/>
<rect x="330" y="336" width="7" height="7" fill="#b2fa5b"/>
<rect x="336" y="336" width="7" height="7" fill="#bdfa58"/>
<rect x="342" y="336" width="7" height="7" fill="#c6fa55"/>
<rect x="348" y="336" width="7" height="7" fill="#cffa51"/>
<rect x="354" y="336" width="7" height="7" fill="#d7fa4e"/>
<rect x="360" y="336" width="7" height="7" fill="#defa4b"/>
<rect x="366" y="336" width="7" height="7" fill="#e5fa47"/>
<rect x="372" y="336" width="7" height="7" fill="#ecfa43"/>
<rect x="378" y="336" width="7" height="7" fill="#f2fa3f"/>
<rect x="384" y="336" width="7" height="7" fill="#f8fa3b"/>
<rect x="390" y="336" width="7" height="7" fill="#faf736"/>
<rect x="396" y="336" width="7" height="7" fill="#faf231"/>
<rect x="402" y="336" width="7" height="7" fill="#faed2f"/>
<rect x="408" y="336" width="7" height="7" fill="#fae82e"/>
<rect x="414" y="336" width="7" height="7" fill="#fae32c"/>
<rect x="420" y="336" width="7" height="7" fill="#fade2b"/>
<rect x="426" y="336" width="7" height="7" fill="#fada2a"/>
<rect x="432" y="336" width="7" height="7" fill="#fad529"/>
<rect x="438" y="336" width="7" height="7" fill="#fad028"/>
<rect x="444" y="336" width="7" height="7" fill="#facc27"/>
<rect x="450" y="336" width="7" height="7" fill="#fac726"/>
<rect x="456" y="336" width="7" height="7" fill="#fac325"/>
<rect x="462" y="336" width="7" height="7" fill="#fabe24"/>
<rect x="468" y="336" width="7" height="7" fill="#faba23"/>
<rect x="474" y="336" width="7" height="7" fill="#fab522"/>
<rect x="480" y="336" width="7" height="7" fill="#fab121"/>
<rect x="60" y="342" width="7" height="7" fill="#32faad"/>
<rect x="66" y="342" width="7" height="7" fill="#32faac"/>
<rect x="72" y="342" width="7" height="7" fill="#32faab"/>
<rect x="78" y="342" width="7" height="7" fill="#32faaa"/>
<rect x="84" y="342" width="7" height="7" fill="#32faa9"/>
<rect x="90" y="342" width="7" height="7" fill="#32faa8"/>
<rect x="96" y="342" width="7" height="7" fill="#32faa7"/>
<rect x="102" y="342" width="7" height="7" fill="#32faa6"/>
<rect x="108" y="342" width="7" height="7" fill="#32faa5"/>
<rect x="114" y="342" width="7" height="7" fill="#32faa4"/>
<rect x="120" y="342" width="7" height="7" fill="#32faa3"/>
<rect x="126" y="342" width="7" height="7" fill="#32faa2"/>
<rect x="132" y="342" width="7" height="7" fill="#32faa1"/>
<rect x="138" y="342" width="7" height="7" fill="#32faa0"/>
<rect x="144" y="342" width="7" height="7" fill="#32fa9f"/>
<rect x="150" y="342" width="7" height="7" fill="#32fa9e"/>
<rect x="156" y="342" width="7" height="7" fill="#32fa9d"/>
<rect x="162" y="342" width="7" height="7" fill="#32fa9c"/>
<rect x="168" y="342" width="7" height="7" fill="#32fa9a"/>
<rect x="174" y="342" width="7" height="7" fill="#32fa99"/>
<rect x="180" y="342" width="7" height="7" fill="#32fa98"/>
<rect x="186" y="342" width="7" height="7" fill="#32fa96"/>
<rect x="192" y="342" width="7" height="7" fill="#32fa95"/>
<rect x="198" y="342" width="7" height="7" fill="#32fa94"/>
<rect x="204" y="342" width="7" height="7" fill="#32fa92"/>
<rect x="210" y="342" width="7" height="7" fill="#32fa91"/>
<rect x="216" y="342" width="7" height="7" fill="#32fa8f"/>
<rect x="222" y="342" width="7" height="7" fill="#32fa8d"/>
<rect x="228" y="342" width="7" height="7" fill="#32fa8c"/>
<rect x="234" y="342" width="7" height="7" fill="#32fa8a"/>
<rect x="240" y="342" width="7" height="7" fill="#32fa88"/>
<rect x="246" y="342" width="7" height="7" fill="#32fa87"/>
<rect x="252" y="342" width="7" height="7" fill="#32fa85"/>
<rect x="258" y="342" width="7" height="7" fill="#32fa83"/>
<rect x="264" y="342" width="7" height="7" fill="#32fa81"/>
<rect x="270" y="342" width="7" height="7" fill="#32fa7f"/>
<rect x="276" y="342" width="7" height="7" fill="#34fa7d"/>
<rect x="282" y="342" width="7" height="7" fill="#40fa7a"/>
<rect x="288" y="342" width="7" height="7" fill="#4dfa77"/>
<rect x="294" y="342" width="7" height="7" fill="#5afa73"/>
<rect x="300" y="342" width="7" height="7" fill="#67fa6f"/>
<rect x="306" y="342" width="7" height="7" fill="#79fa6b"/>
<rect x="312" y="342" width="7" height="7" fill="#8cfa68"/>
<rect x="318" y="342" width="7" height="7" fill="#9cfa66"/>
<rect x="324" y="342" width="7" height="7" fill="#aafa63"/>
<rect x="330" y="342" width="7" height="7" fill="#b6fa60"/>
<rect x="336" y="342" width="7" height="7" fill="#c1fa5d"/>
<rect x="342" y="342" width="7" height="7" fill="#cbfa5a"/>
<rect x="348" y="342" width="7" height="7" fill="#d3fa57"/>
<rect x="354" y="342" width="7" height="7" fill="#dbfa54"/>
<rect x="360" y="342" width="7" height="7" fill="#e2fa50"/>
<rect x="366" y="342" width="7" height="7" fill="#e9fa4d"/>
<rect x="372" y="342" width="7" height="7" fill="#f0fa49"/>
<rect x="378" y="342" width="7" height="7" fill="#f6fa45"/>
<rect x="384" y="342" width="7" height="7" fill="#faf941"/>
<rect x="390" y="342" width="7" height="7" fill="#faf43b"/>
<rect x="396" y="342" width="7" height="7" fill="#faef35"/>
<rect x="402" y="342" width="7" height="7" fill="#faea30"/>
<rect x="408" y="342" width="7" height="7" fill="#fae52d"/>
<rect x="414" y="342" width="7" height="7" fill="#fae02c"/>
<rect x="420" y="342" width="7" height="7" fill="#fadb2b"/>
<rect x="426" y="342" width="7" height="7" fill="#fad629"/>
<rect x="432" y="342" width="7" height="7" fill="#fad228"/>
<rect x="438" y="342" width="7" height="7" fill="#facd27"/>
<rect x="444" y="342" width="7" height="7" fill="#fac826"/>
<rect x="450" y="342" width="7" height="7" fill="#fac425"/>
<rect x="456" y="342" width="7" height="7" fill="#fabf24"/>
<rect x="462" y="342" width="7" height="7" fill="#faba23"/>
<rect x="468" y="342" width="7" height="7" fill="#fab622"/>
<rect x="474" y="342" width="7" height="7" fill="#fab221"/>
<rect x="480" y="342" width="7" height="7" fill="#faad20"/>
<rect x="486" y="342" width="7" height="7" fill="#faa91f"/>
<rect x="60" y="348" width="7" height="7" fill="#32fab0"/>
<rect x="66" y="348" width="7" height="7" fill="#32faaf"/>
<rect x="72" y="348" width="7" height="7" fill="#32faae"/>
<rect x="78" y="348" width="13" height="7" fill="#32faad"/>
<rect x="90" y="348" width="7" height="7" fill="#32faac"/>
<rect x="96" y="348" width="7" height="7" fill="#32faab"/>
<rect x="102" y="348" width="7" height="7" fill="#32faaa"/>
<rect x="108" y="348" width="7" height="7" fill="#32faa9"/>
<rect x="114" y="348" width="7" height="7" fill="#32faa8"/>
<rect x="120" y="348" width="7" height="7" fill="#32faa7"/>
<rect x="126" y="348" width="7" height="7" fill="#32faa6"/>
<rect x="132" y="348" width="7" height="7" fill="#32faa5"/>
<rect x="138" y="348" width="7" height="7" fill="#32faa4"/>
<rect x="144" y="348" width="7" height="7" fill="#32faa3"/>
<rect x="150" y="348" width="7" height="7" fill="#32faa2"/>
<rect x="156" y="348" width="7" height="7" fill="#32faa1"/>
<rect x="162" y="348" width="7" height="7" fill="#32faa0"/>
<rect x="168" y="348" width="7" height="7" fill="#32fa9e"/>
<rect x="174" y="348" width="7" height="7" fill="#32fa9d"/>
<rect x="180" y="348" width="7" height="7" fill="#32fa9c"/>
<rect x="186" y="348" width="7" height="7" fill="#32fa9b"/>
<rect x="192" y="348" width="7" height="7" fill="#32fa99"/>
<rect x="198" y="348" width="7" height="7" fill="#32fa98"/>
<rect x="204" y="348" width="7" height="7" fill="#32fa96"/>
<rect x="210" y="348" width="7" height="7" fill="#32fa95"/>
<rect x="216" y="348" width="7" height="7" fill="#32fa93"/>
<rect x="222" y="348" width="7" height="7" fill="#32fa92"/>
<rect x="228" y="348" width="7" height="7" fill="#32fa90"/>
<rect x="234" y="348" width="7" height="7" fill="#32fa8f"/>
<rect x="240" y="348" width="7" height="7" fill="#32fa8d"/>
<rect x="246" y="348" width="7" height="7" fill="#32fa8b"/>
<rect x="252" y="348" width="7" height="7" fill="#32fa89"/>
<rect x="258" y="348" width="7" height="7" fill="#32fa88"/>
<rect x="264" y="348" width="7" height="7" fill="#32fa86"/>
<rect x="270" y="348" width="7" height="7" fill="#32fa84"/>
<rect x="276" y="348" width="7" height="7" fill="#37fa82"/>
<rect x="282" y="348" width="7" height="7" fill="#44fa7f"/>
<rect x="288" y="348" width="7" height="7" fill="#51fa7c"/>
<rect x="294" y="348" width="7" height="7" fill="#5efa79"/>
<rect x="300" y="348" width="7" height="7" fill="#6bfa74"/>
<rect x="306" y="348" width="7" height="7" fill="#7dfa70"/>
<rect x="312" y="348" width="7" height="7" fill="#91fa6e"/>
<rect x="318" y="348" width="7" height="7" fill="#a1fa6b"/>
<rect x="324" y="348" width="7" height="7" fill="#affa68"/>
<rect x="330" y="348" width="7" height="7" fill="#bbfa65"/>
<rect x="336" y="348" width="7" height="7" fill="#c6fa63"/>
<rect x="342" y="348" width="7" height="7" fill="#cffa60"/>
<rect x="348" y="348" width="7" height="7" fill="#d7fa5c"/>
<rect x="354" y="348" width="7" height="7" fill="#dffa59"/>
<rect x="360" y="348" width="7" height="7" fill="#e6fa56"/>
<rect x="366" y="348" width="7" height="7" fill="#edfa52"/>
<rect x="372" y="348" width="7" height="7" fill="#f3fa4f"/>
<rect x="378" y="348" width="7" height="7" fill="#f9fa4b"/>
<rect x="384" y="348" width="7" height="7" fill="#faf645"/>
<rect x="390" y="348" width="7" height="7" fill="#faf13f"/>
<rect x="396" y="348" width="7" height="7" fill="#faec39"/>
<rect x="402" y="348" width="7" height="7" fill="#fae734"/>
<rect x="408" y="348" width="7" height="7" fill="#fae12f"/>
<rect x="414" y="348" width="7" height="7" fill="#fadc2b"/>
<rect x="420" y="348" width="7" height="7" fill="#fad82a"/>
<rect x="426" y="348" width="7" height="7" fill="#fad329"/>
<rect x="432" y="348" width="7" height="7" fill="#face28"/>
<rect x="438" y="348" width="7" height="7" fill="#fac926"/>
<rect x="444" y="348" width="7" height="7" fill="#fac425"/>
<rect x="450" y="348" width="7" height="7" fill="#fac024"/>
<rect x="456" y="348" width="7" height="7" fill="#fabb23"/>
<rect x="462" y="348" width="7" height="7" fill="#fab722"/>
<rect x="468" y="348" width="7" height="7" fill="#fab221"/>
<rect x="474" y="348" width="7" height="7" fill="#faae20"/>
<rect x="480" y="348" width="7" height="7" fill="#faa91f"/>
<rect x="486" y="348" width="7" height="7" fill="#faa51f"/>
<rect x="492" y="348" width="7" height="7" fill="#faa01e"/>
<rect x="60" y="354" width="13" height="7" fill="#32fab3"/>
<rect x="72" y="354" width="7" height="7" fill="#32fab2"/>
<rect x="78" y="354" width="7" height="7" fill="#32fab1"/>
<rect x="84" y="354" width="7" height="7" fill="#32fab0"/>
<rect x="90" y="354" width="7" height="7" fill="#32faaf"/>
<rect x="96" y="354" width="13" height="7" fill="#32faae"/>
<rect x="108" y="354" width="7" height="7" fill="#32faad"/>
<rect x="114" y="354" width="7" height="7" fill="#32faac"/>
<rect x="120" y="354" width="7" height="7" fill="#32faab"/>
<rect x="126" y="354" width="7" height="7" fill="#32faaa"/>
<rect x="132" y="354" width="7" height="7" fill="#32faa9"/>
<rect x="138" y="354" width="7" height="7" fill="#32faa8"/>
<rect x="144" y="354" width="7" height="7" fill="#32faa7"/>
<rect x="150" y="354" width="7" height="7" fill="#32faa6"/>
<rect x="156" y="354" width="7" height="7" fill="#32faa5"/>
<rect x="162" y="354" width="7" height="7" fill="#32faa4"/>
<rect x="168" y="354" width="7" height="7" fill="#32faa2"/>
<rect x="174" y="354" width="7" height="7" fill="#32faa1"/>
<rect x="180" y="354" width="7" height="7" fill="#32faa0"/>
<rect x="186" y="354" width="7" height="7" fill="#32fa9f"/>
<rect x="192" y="354" width="7" height="7" fill="#32fa9e"/>
<rect x="198" y="354" width="7" height="7" fill="#32fa9c"/>
<rect x="204" y="354" width="7" height="7" fill="#32fa9b"/>
<rect x="210" y="354" width="7" height="7" fill="#32fa99"/>
<rect x="216" y="354" width="7" height="7" fill="#32fa98"/>
<rect x="222" y="354" width="7" height="7" fill="#32fa97"/>
<rect x="228" y="354" width="7" height="7" fill="#32fa95"/>
<rect x="234" y="354" width="7" height="7" fill="#32fa93"/>
<rect x="240" y="354" width="7" height="7" fill="#32fa92"/>
<rect x="246" y="354" width="7" height="7" fill="#32fa90"/>
<rect x="252" y="354" width="7" height="7" fill="#32fa8e"/>
<rect x="258" y="354" width="7" height="7" fill="#32fa8d"/>
<rect x="264" y="354" width="7" height="7" fill="#32fa8b"/>
<rect x="270" y="354" width="7" height="7" fill="#32fa89"/>
<rect x="276" y="354" width="7" height="7" fill="#3bfa87"/>
<rect x="282" y="354" width="7" height="7" fill="#48fa85"/>
<rect x="288" y="354" width="7" height="7" fill="#56fa82"/>
<rect x="294" y="354" width="7" height="7" fill="#63fa7e"/>
<rect x="300" y="354" width="7" height="7" fill="#70fa7a"/>
<rect x="306" y="354" width="7" height="7" fill="#81fa76"/>
<rect x="312" y="354" width="7" height="7" fill="#95fa73"/>
<rect x="318" y="354" width="7" height="7" fill="#a6fa71"/>
<rect x="324" y="354" width="7" height="7" fill="#b4fa6e"/>
<rect x="330" y="354" width="7" height="7" fill="#c0fa6b"/>
<rect x="336" y="354" width="7" height="7" fill="#cafa68"/>
<rect x="342" y="354" width="7" height="7" fill="#d3fa65"/>
<rect x="348" y="354" width="7" height="7" fill="#dcfa62"/>
<rect x="354" y="354" width="7" height="7" fill="#e3fa5f"/>
<rect x="360" y="354" width="7" height="7" fill="#eafa5c"/>
<rect x="366" y="354" width="7" height="7" fill="#f1fa58"/>
<rect x="372" y="354" width="7" height="7" fill="#f7fa55"/>
<rect x="378" y="354" width="7" height="7" fill="#faf850"/>
<rect x="384" y="354" width="7" height="7" fill="#faf349"/>
<rect x="390" y="354" width="7" height="7" fill="#faed43"/>
<rect x="396" y="354" width="7" height="7" fill="#fae83d"/>
<rect x="402" y="354" width="7" height="7" fill="#fae338"/>
<rect x="408" y="354" width="7" height="7" fill="#fade32"/>
<rect x="414" y="354" width="7" height="7" fill="#fad92e"/>
<rect x="420" y="354" width="7" height="7" fill="#fad429"/>
<rect x="426" y="354" width="7" height="7" fill="#facf28"/>
<rect x="432" y="354" width="7" height="7" fill="#faca27"/>
<rect x="438" y="354" width="7" height="7" fill="#fac526"/>
<rect x="444" y="354" width="7" height="7" fill="#fac125"/>
<rect x="450" y="354" width="7" height="7" fill="#fabc24"/>
<rect x="456" y="354" width="7" height="7" fill="#fab723"/>
<rect x="462" y="354" width="7" height="7" fill="#fab322"/>
<rect x="468" y="354" width="7" height="7" fill="#faae21"/>
<rect x="474" y="354" width="7" height="7" fill="#faa920"/>
<rect x="480" y="354" width="7" height="7" fill="#faa51f"/>
<rect x="486" y="354" width="7" height="7" fill="#faa11e"/>
<rect x="492" y="354" width="7" height="7" fill="#fa9c1d"/>
<rect x="498" y="354" width="7" height="7" fill="#fa981c"/>
<rect x="60" y="360" width="7" height="7" fill="#32fab7"/>
<rect x="66" y="360" width="7" height="7" fill="#32fab6"/>
<rect x="72" y="360" width="7" height="7" fill="#32fab5"/>
<rect x="78" y="360" width="13" height="7" fill="#32fab4"/>
<rect x="90" y="360" width="7" height="7" fill="#32fab3"/>
<rect x="96" y="360" width="7" height="7" fill="#32fab2"/>
<rect x="102" y="360" width="7" height="7" fill="#32fab1"/>
<rect x="108" y="360" width="13" height="7" fill="#32fab0"/>
<rect x="120" y="360" width="7" height="7" fill="#32faaf"/>
<rect x="126" y="360" width="7" height="7" fill="#32faae"/>
<rect x="132" y="360" width="7" height="7" fill="#32faad"/>
<rect x="138" y="360" width="7" height="7" fill="#32faac"/>
<rect x="144" y="360" width="7" height="7" fill="#32faab"/>
<rect x="150" y="360" width="7" height="7" fill="#32faaa"/>
<rect x="156" y="360" width="7" height="7" fill="#32faa9"/>
<rect x="162" y="360" width="7" height="7" fill="#32faa8"/>
<rect x="168" y="360" width="7" height="7" fill="#32faa7"/>
<rect x="174" y="360" width="7" height="7" fill="#32faa5"/>
<rect x="180" y="360" width="7" height="7" fill="#32faa4"/>
<rect x="186" y="360" width="7" height="7" fill="#32faa3"/>
<rect x="192" y="360" width="7" height="7" fill="#32faa2"/>
<rect x="198" y="360" width="7" height="7" fill="#32faa1"/>
<rect x="204" y="360" width="7" height="7" fill="#32fa9f"/>
<rect x="210" y="360" width="7" height="7" fill="#32fa9e"/>
<rect x="216" y="360" width="7" height="7" fill="#32fa9d"/>
<rect x="222" y="360" width="7" height="7" fill="#32fa9b"/>
<rect x="228" y="360" width="7" height="7" fill="#32fa9a"/>
<rect x="234" y="360" width="7" height="7" fill="#32fa98"/>
<rect x="240" y="360" width="7" height="7" fill="#32fa97"/>
<rect x="246" y="360" width="7" height="7" fill="#32fa95"/>
<rect x="252" y="360" width="7" height="7" fill="#32fa93"/>
<rect x="258" y="360" width="7" height="7" fill="#32fa92"/>
<rect x="264" y="360" width="7" height="7" fill="#32fa90"/>
<rect x="270" y="360" width="7" height="7" fill="#32fa8e"/>
<rect x="276" y="360" width="7" height="7" fill="#3ffa8c"/>
<rect x="282" y="360" width="7" height="7" fill="#4dfa8a"/>
<rect x="288" y="360" width="7" height="7" fill="#5afa88"/>
<rect x="294" y="360" width="7" height="7" fill="#67fa84"/>
<rect x="300" y="360" width="7" height="7" fill="#75fa80"/>
<rect x="306" y="360" width="7" height="7" fill="#86fa7b"/>
<rect x="312" y="360" width="7" height="7" fill="#9afa79"/>
<rect x="318" y="360" width="7" height="7" fill="#abfa76"/>
<rect x="324" y="360" width="7" height="7" fill="#b9fa74"/>
<rect x="330" y="360" width="7" height="7" fill="#c4fa71"/>
<rect x="336" y="360" width="7" height="7" fill="#cffa6e"/>
<rect x="342" y="360" width="7" height="7" fill="#d8fa6b"/>
<rect x="348" y="360" width="7" height="7" fill="#e0fa68"/>
<rect x="354" y="360" width="7" height="7" fill="#e7fa65"/>
<rect x="360" y="360" width="7" height="7" fill="#eefa62"/>
<rect x="366" y="360" width="7" height="7" fill="#f4fa5f"/>
<rect x="372" y="360" width="7" height="7" fill="#fafa5b"/>
<rect x="378" y="360" width="7" height="7" fill="#faf554"/>
<rect x="384" y="360" width="7" height="7" fill="#faef4d"/>
<rect x="390" y="360" width="7" height="7" fill="#faea47"/>
<rect x="396" y="360" width="7" height="7" fill="#fae541"/>
<rect x="402" y="360" width="7" height="7" fill="#fae03b"/>
<rect x="408" y="360" width="7" height="7" fill="#fadb36"/>
<rect x="414" y="360" width="7" height="7" fill="#fad531"/>
<rect x="420" y="360" width="7" height="7" fill="#fad02c"/>
<rect x="426" y="360" width="7" height="7" fill="#facb28"/>
<rect x="432" y="360" width="7" height="7" fill="#fac626"/>
<rect x="438" y="360" width="7" height="7" fill="#fac125"/>
<rect x="444" y="360" width="7" height="7" fill="#fabd24"/>
<rect x="450" y="360" width="7" height="7" fill="#fab823"/>
<rect x="456" y="360" width="7" height="7" fill="#fab322"/>
<rect x="462" y="360" width="7" height="7" fill="#faae21"/>
<rect x="468" y="360" width="7" height="7" fill="#faaa20"/>
<rect x="474" y="360" width="7" height="7" fill="#faa51f"/>
<rect x="480" y="360" width="7" height="7" fill="#faa11e"/>
<rect x="486" y="360" width="7" height="7" fill="#fa9c1d"/>
<rect x="492" y="360" width="7" height="7" fill="#fa981c"/>
<rect x="498" y="360" width="7" height="7" fill="#fa931b"/>
<rect x="504" y="360" width="7" height="7" fill="#fa8f1a"/>
<rect x="60" y="366" width="7" height="7" fill="#32faba"/>
<rect x="66" y="366" width="13" height="7" fill="#32fab9"/>
<rect x="78" y="366" width="7" height="7" fill="#32fab8"/>
<rect x="84" y="366" width="13" height="7" fill="#32fab7"/>
<rect x="96" y="366" width="7" height="7" fill="#32fab6"/>
<rect x="102" y="366" width="7" height="7" fill="#32fab5"/>
<rect x="108" y="366" width="7" height="7" fill="#32fab4"/>
<rect x="114" y="366" width="7" height="7" fill="#32fab3"/>
<rect x="120" y="366" width="13" height="7" fill="#32fab2"/>
<rect x="132" y="366" width="7" height="7" fill="#32fab1"/>
<rect x="138" y="366" width="7" height="7" fill="#32fab0"/>
<rect x="144" y="366" width="7" height="7" fill="#32faaf"/>
<rect x="150" y="366" width="7" height="7" fill="#32faae"/>
<rect x="156" y="366" width="7" height="7" fill="#32faad"/>
<rect x="162" y="366" width="7" height="7" fill="#32faac"/>
<rect x="168" y="366" width="7" height="7" fill="#32faab"/>
<rect x="174" y="366" width="7" height="7" fill="#32faaa"/>
<rect x="180" y="366" width="7" height="7" fill="#32faa9"/>
<rect x="186" y="366" width="7" height="7" fill="#32faa7"/>
<rect x="192" y="366" width="7" height="7" fill="#32faa6"/>
<rect x="198" y="366" width="7" height="7" fill="#32faa5"/>
<rect x="204" y="366" width="7" height="7" fill="#32faa4"/>
<rect x="210" y="366" width="7" height="7" fill="#32faa3"/>
<rect x="216" y="366" width="7" height="7" fill="#32faa1"/>
<rect x="222" y="366" width="7" height="7" fill="#32faa0"/>
<rect x="228" y="366" width="7" height="7" fill="#32fa9e"/>
<rect x="234" y="366" width="7" height="7" fill="#32fa9d"/>
<rect x="240" y="366" width="7" height="7" fill="#32fa9c"/>
<rect x="246" y="366" width="7" height="7" fill="#32fa9a"/>
<rect x="252" y="366" width="7" height="7" fill="#32fa98"/>
<rect x="258" y="366" width="7" height="7" fill="#32fa97"/>
<rect x="264" y="366" width="7" height="7" fill="#32fa95"/>
<rect x="270" y="366" width="7" height="7" fill="#35fa93"/>
<rect x="276" y="366" width="7" height="7" fill="#43fa92"/>
<rect x="282" y="366" width="7" height="7" fill="#51fa90"/>
<rect x="288" y="366" width="7" height="7" fill="#5ffa8d"/>
<rect x="294" y="366" width="7" height="7" fill="#6cfa8a"/>
<rect x="300" y="366" width="7" height="7" fill="#7afa86"/>
<rect x="306" y="366" width="7" height="7" fill="#8bfa81"/>
<rect x="312" y="366" width="7" height="7" fill="#9ffa7f"/>
<rect x="318" y="366" width="7" height="7" fill="#b0fa7c"/>
<rect x="324" y="366" width="7" height="7" fill="#befa7a"/>
<rect x="330" y="366" width="7" height="7" fill="#c9fa77"/>
<rect x="336" y="366" width="7" height="7" fill="#d3fa75"/>
<rect x="342" y="366" width="7" height="7" fill="#dcfa72"/>
<rect x="348" y="366" width="7" height="7" fill="#e4fa6f"/>
<rect x="354" y="366" width="7" height="7" fill="#ebfa6c"/>
<rect x="360" y="366" width="7" height="7" fill="#f2fa69"/>
<rect x="366" y="366" width="7" height="7" fill="#f8fa65"/>
<rect x="372" y="366" width="7" height="7" fill="#faf75f"/>
<rect x="378" y="366" width="7" height="7" fill="#faf158"/>
<rect x="384" y="366" width="7" height="7" fill="#faec51"/>
<rect x="390" y="366" width="7" height="7" fill="#fae74a"/>
<rect x="396" y="366" width="7" height="7" fill="#fae144"/>
<rect x="402" y="366" width="7" height="7" fill="#fadc3f"/>
<rect x="408" y="366" width="7" height="7" fill="#fad739"/>
<rect x="414" y="366" width="7" height="7" fill="#fad234"/>
<rect x="420" y="366" width="7" height="7" fill="#facc2f"/>
<rect x="426" y="366" width="7" height="7" fill="#fac72b"/>
<rect x="432" y="366" width="7" height="7" fill="#fac227"/>
<rect x="438" y="366" width="7" height="7" fill="#fabd24"/>
<rect x="444" y="366" width="7" height="7" fill="#fab923"/>
<rect x="450" y="366" width="7" height="7" fill="#fab422"/>
<rect x="456" y="366" width="7" height="7" fill="#faaf21"/>
<rect x="462" y="366" width="7" height="7" fill="#faaa20"/>
<rect x="468" y="366" width="7" height="7" fill="#faa61f"/>
<rect x="474" y="366" width="7" height="7" fill="#faa11e"/>
<rect x="480" y="366" width="7" height="7" fill="#fa9c1d"/>
<rect x="486" y="366" width="7" height="7" fill="#fa981c"/>
<rect x="492" y="366" width="7" height="7" fill="#fa931b"/>
<rect x="498" y="366" width="7" height="7" fill="#fa8f1a"/>
<rect x="504" y="366" width="7" height="7" fill="#fa8b19"/>
<rect x="510" y="366" width="7" height="7" fill="#fa8719"/>
<rect x="66" y="372" width="7" height="7" fill="#32fabd"/>
<rect x="72" y="372" width="13" height="7" fill="#32fabc"/>
<rect x="84" y="372" width="7" height="7" fill="#32fabb"/>
<rect x="90" y="372" width="13" height="7" fill="#32faba"/>
<rect x="102" y="372" width="7" height="7" fill="#32fab9"/>
<rect x="108" y="372" width="7" height="7" fill="#32fab8"/>
<rect x="114" y="372" width="7" height="7" fill="#32fab7"/>
<rect x="120" y="372" width="13" height="7" fill="#32fab6"/>
<rect x="132" y="372" width="7" height="7" fill="#32fab5"/>
<rect x="138" y="372" width="7" height="7" fill="#32fab4"/>
<rect x="144" y="372" width="7" height="7" fill="#32fab3"/>
<rect x="150" y="372" width="7" height="7" fill="#32fab2"/>
<rect x="156" y="372" width="7" height="7" fill="#32fab1"/>
<rect x="162" y="372" width="7" height="7" fill="#32fab0"/>
<rect x="168" y="372" width="7" height="7" fill="#32faaf"/>
<rect x="174" y="372" width="7" height="7" fill="#32faae"/>
<rect x="180" y="372" width="7" height="7" fill="#32faad"/>
<rect x="186" y="372" width="7" height="7" fill="#32faac"/>
<rect x="192" y="372" width="7" height="7" fill="#32faab"/>
<rect x="198" y="372" width="7" height="7" fill="#32faaa"/>
<rect x="204" y="372" width="7" height="7" fill="#32faa8"/>
<rect x="210" y="372" width="7" height="7" fill="#32faa7"/>
<rect x="216" y="372" width="7" height="7" fill="#32faa6"/>
<rect x="222" y="372" width="7" height="7" fill="#32faa5"/>
<rect x="228" y="372" width="7" height="7" fill="#32faa3"/>
<rect x="234" y="372" width="7" height="7" fill="#32faa2"/>
<rect x="240" y="372" width="7" height="7" fill="#32faa1"/>
<rect x="246" y="372" width="7" height="7" fill="#32fa9f"/>
<rect x="252" y="372" width="7" height="7" fill="#32fa9e"/>
<rect x="258" y="372" width="7" height="7" fill="#32fa9c"/>
<rect x="264" y="372" width="7" height="7" fill="#32fa9a"/>
<rect x="270" y="372" width="7" height="7" fill="#39fa99"/>
<rect x="276" y="372" width="7" height="7" fill="#47fa97"/>
<rect x="282" y="372" width="7" height="7" fill="#55fa96"/>
<rect x="288" y="372" width="7" height="7" fill="#63fa93"/>
<rect x="294" y="372" width="7" height="7" fill="#71fa90"/>
<rect x="300" y="372" width="7" height="7" fill="#7ffa8c"/>
<rect x="306" y="372" width="7" height="7" fill="#90fa87"/>
<rect x="312" y="372" width="7" height="7" fill="#a5fa85"/>
<rect x="318" y="372" width="7" height="7" fill="#b5fa83"/>
<rect x="324" y="372" width="7" height="7" fill="#c3fa80"/>
<rect x="330" y="372" width="7" height="7" fill="#cefa7e"/>
<rect x="336" y="372" width="7" height="7" fill="#d8fa7b"/>
<rect x="342" y="372" width="7" height="7" fill="#e1fa78"/>
<rect x="348" y="372" width="7" height="7" fill="#e8fa75"/>
<rect x="354" y="372" width="7" height="7" fill="#effa72"/>
<rect x="360" y="372" width="7" height="7" fill="#f6fa6f"/>
<rect x="366" y="372" width="7" height="7" fill="#faf96b"/>
<rect x="372" y="372" width="7" height="7" fill="#faf363"/>
<rect x="378" y="372" width="7" height="7" fill="#faee5b"/>
<rect x="384" y="372" width="7" height="7" fill="#fae954"/>
<rect x="390" y="372" width="7" height="7" fill="#fae34e"/>
<rect x="396" y="372" width="7" height="7" fill="#fade48"/>
<rect x="402" y="372" width="7" height="7" fill="#fad842"/>
<rect x="408" y="372" width="7" height="7" fill="#fad33d"/>
<rect x="414" y="372" width="7" height="7" fill="#face37"/>
<rect x="420" y="372" width="7" height="7" fill="#fac833"/>
<rect x="426" y="372" width="7" height="7" fill="#fac32e"/>
<rect x="432" y="372" width="7" height="7" fill="#fabe29"/>
<rect x="438" y="372" width="7" height="7" fill="#fab925"/>
<rect x="444" y="372" width="7" height="7" fill="#fab422"/>
<rect x="450" y="372" width="7" height="7" fill="#faaf21"/>
<rect x="456" y="372" width="7" height="7" fill="#faab20"/>
<rect x="462" y="372" width="7" height="7" fill="#faa61f"/>
<rect x="468" y="372" width="7" height="7" fill="#faa11e"/>
<rect x="474" y="372" width="7" height="7" fill="#fa9c1d"/>
<rect x="480" y="372" width="7" height="7" fill="#fa981c"/>
<rect x="486" y="372" width="7" height="7" fill="#fa931b"/>
<rect x="492" y="372" width="7" height="7" fill="#fa8f1a"/>
<rect x="498" y="372" width="7" height="7" fill="#fa8a19"/>
<rect x="504" y="372" width="7" height="7" fill="#fa8619"/>
<rect x="510" y="372" width="7" height="7" fill="#fa8219"/>
<rect x="516" y="372" width="7" height="7" fill="#fa7e19"/>
<rect x="66" y="378" width="7" height="7" fill="#32fac1"/>
<rect x="72" y="378" width="7" height="7" fill="#32fac0"/>
<rect x="78" y="378" width="13" height="7" fill="#32fabf"/>
<rect x="90" y="378" width="7" height="7" fill="#32fabe"/>
<rect x="96" y="378" width="13" height="7" fill="#32fabd"/>
<rect x="108" y="378" width="7" height="7" fill="#32fabc"/>
<rect x="114" y="378" width="7" height="7" fill="#32fabb"/>
<rect x="120" y="378" width="13" height="7" fill="#32faba"/>
<rect x="132" y="378" width="7" height="7" fill="#32fab9"/>
<rect x="138" y="378" width="7" height="7" fill="#32fab8"/>
<rect x="144" y="378" width="7" height="7" fill="#32fab7"/>
<rect x="150" y="378" width="7" height="7" fill="#32fab6"/>
<rect x="156" y="378" width="7" height="7" fill="#32fab5"/>
<rect x="162" y="378" width="7" height="7" fill="#32fab4"/>
<rect x="168" y="378" width="7" height="7" fill="#32fab3"/>
<rect x="174" y="378" width="7" height="7" fill="#32fab2"/>
<rect x="180" y="378" width="7" height="7" fill="#32fab1"/>
<rect x="186" y="378" width="7" height="7" fill="#32fab0"/>
<rect x="192" y="378" width="7" height="7" fill="#32faaf"/>
<rect x="198" y="378" width="7" height="7" fill="#32faae"/>
<rect x="204" y="378" width="7" height="7" fill="#32faad"/>
<rect x="210" y="378" width="7" height="7" fill="#32faac"/>
<rect x="216" y="378" width="7" height="7" fill="#32faab"/>
<rect x="222" y="378" width="7" height="7" fill="#32faaa"/>
<rect x="228" y="378" width="7" height="7" fill="#32faa8"/>
<rect x="234" y="378" width="7" height="7" fill="#32faa7"/>
<rect x="240" y="378" width="7" height="7" fill="#32faa6"/>
<rect x="246" y="378" width="7" height="7" fill="#32faa4"/>
<rect x="252" y="378" width="7" height="7" fill="#32faa3"/>
<rect x="258" y="378" width="7" height="7" fill="#32faa1"/>
<rect x="264" y="378" width="7" height="7" fill="#32faa0"/>
<rect x="270" y="378" width="7" height="7" fill="#3dfa9e"/>
<rect x="276" y="378" width="7" height="7" fill="#4cfa9d"/>
<rect x="282" y="378" width="7" height="7" fill="#5afa9b"/>
<rect x="288" y="378" width="7" height="7" fill="#68fa99"/>
<rect x="294" y="378" width="7" height="7" fill="#76fa96"/>
<rect x="300" y="378" width="7" height="7" fill="#84fa92"/>
<rect x="306" y="378" width="7" height="7" fill="#95fa8d"/>
<rect x="312" y="378" width="7" height="7" fill="#aafa8b"/>
<rect x="318" y="378" width="7" height="7" fill="#bbfa89"/>
<rect x="324" y="378" width="7" height="7" fill="#c8fa87"/>
<rect x="330" y="378" width="7" height="7" fill="#d3fa84"/>
<rect x="336" y="378" width="7" height="7" fill="#ddfa82"/>
<rect x="342" y="378" width="7" height="7" fill="#e5fa7f"/>
<rect x="348" y="378" width="7" height="7" fill="#ecfa7c"/>
<rect x="354" y="378" width="7" height="7" fill="#f3fa79"/>
<rect x="360" y="378" width="7" height="7" fill="#f9fa76"/>
<rect x="366" y="378" width="7" height="7" fill="#faf56e"/>
<rect x="372" y="378" width="7" height="7" fill="#faf066"/>
<rect x="378" y="378" width="7" height="7" fill="#faeb5f"/>
<rect x="384" y="378" width="7" height="7" fill="#fae558"/>
<rect x="390" y="378" width="7" height="7" fill="#fae051"/>
<rect x="396" y="378" width="7" height="7" fill="#fada4b"/>
<rect x="402" y="378" width="7" height="7" fill="#fad445"/>
<rect x="408" y="378" width="7" height="7" fill="#facf40"/>
<rect x="414" y="378" width="7" height="7" fill="#faca3a"/>
<rect x="420" y="378" width="7" height="7" fill="#fac435"/>
<rect x="426" y="378" width="7" height="7" fill="#fabf31"/>
<rect x="432" y="378" width="7" height="7" fill="#faba2c"/>
<rect x="438" y="378" width="7" height="7" fill="#fab528"/>
<rect x="444" y="378" width="7" height="7" fill="#fab024"/>
<rect x="450" y="378" width="7" height="7" fill="#faab20"/>
<rect x="456" y="378" width="7" height="7" fill="#faa61f"/>
<rect x="462" y="378" width="7" height="7" fill="#faa11e"/>
<rect x="468" y="378" width="7" height="7" fill="#fa9d1d"/>
<rect x="474" y="378" width="7" height="7" fill="#fa981c"/>
<rect x="480" y="378" width="7" height="7" fill="#fa931b"/>
<rect x="486" y="378" width="7" height="7" fill="#fa8f1a"/>
<rect x="492" y="378" width="7" height="7" fill="#fa8a19"/>
<rect x="498" y="378" width="7" height="7" fill="#fa8619"/>
<rect x="504" y="378" width="7" height="7" fill="#fa8219"/>
<rect x="510" y="378" width="7" height="7" fill="#fa7e19"/>
<rect x="516" y="378" width="7" height="7" fill="#fa7a19"/>
<rect x="522" y="378" width="7" height="7" fill="#fa7619"/>
<rect x="66" y="384" width="13" height="7" fill="#32fac4"/>
<rect x="78" y="384" width="7" height="7" fill="#32fac3"/>
<rect x="84" y="384" width="13" height="7" fill="#32fac2"/>
<rect x="96" y="384" width="7" height="7" fill="#32fac1"/>
<rect x="102" y="384" width="13" height="7" fill="#32fac0"/>
<rect x="114" y="384" width="7" height="7" fill="#32fabf"/>
<rect x="120" y="384" width="13" height="7" fill="#32fabe"/>
<rect x="132" y="384" width="7" height="7" fill="#32fabd"/>
<rect x="138" y="384" width="7" height="7" fill="#32fabc"/>
<rect x="144" y="384" width="7" height="7" fill="#32fabb"/>
<rect x="150" y="384" width="13" height="7" fill="#32faba"/>
<rect x="162" y="384" width="7" height="7" fill="#32fab9"/>
<rect x="168" y="384" width="7" height="7" fill="#32fab8"/>
<rect x="174" y="384" width="7" height="7" fill="#32fab7"/>
<rect x="180" y="384" width="7" height="7" fill="#32fab6"/>
<rect x="186" y="384" width="7" height="7" fill="#32fab5"/>
<rect x="192" y="384" width="7" height="7" fill="#32fab4"/>
<rect x="198" y="384" width="7" height="7" fill="#32fab3"/>
<rect x="204" y="384" width="7" height="7" fill="#32fab2"/>
<rect x="210" y="384" width="7" height="7" fill="#32fab1"/>
<rect x="216" y="384" width="7" height="7" fill="#32fab0"/>
<rect x="222" y="384" width="7" height="7" fill="#32faae"/>
<rect x="228" y="384" width="7" height="7" fill="#32faad"/>
<rect x="234" y="384" width="7" height="7" fill="#32faac"/>
<rect x="240" y="384" width="7" height="7" fill="#32faab"/>
<rect x="246" y="384" width="7" height="7" fill="#32faa9"/>
<rect x="252" y="384" width="7" height="7" fill="#32faa8"/>
<rect x="258" y="384" width="7" height="7" fill="#32faa7"/>
<rect x="264" y="384" width="7" height="7" fill="#33faa5"/>
<rect x="270" y="384" width="7" height="7" fill="#42faa4"/>
<rect x="276" y="384" width="7" height="7" fill="#50faa3"/>
<rect x="282" y="384" width="7" height="7" fill="#5ffaa1"/>
<rect x="288" y="384" width="7" height="7" fill="#6dfa9f"/>
<rect x="294" y="384" width="7" height="7" fill="#7cfa9d"/>
<rect x="300" y="384" width="7" height="7" fill="#8afa99"/>
<rect x="306" y="384" width="7" height="7" fill="#9afa94"/>
<rect x="312" y="384" width="7" height="7" fill="#affa92"/>
<rect x="318" y="384" width="7" height="7" fill="#c0fa90"/>
<rect x="324" y="384" width="7" height="7" fill="#cdfa8d"/>
<rect x="330" y="384" width="7" height="7" fill="#d8fa8b"/>
<rect x="336" y="384" width="7" height="7" fill="#e1fa88"/>
<rect x="342" y="384" width="7" height="7" fill="#e9fa86"/>
<rect x="348" y="384" width="7" height="7" fill="#f0fa83"/>
<rect x="354" y="384" width="7" height="7" fill="#f7fa80"/>
<rect x="360" y="384" width="7" height="7" fill="#faf87b"/>
<rect x="366" y="384" width="7" height="7" fill="#faf272"/>
<rect x="372" y="384" width="7" height="7" fill="#faed6a"/>
<rect x="378" y="384" width="7" height="7" fill="#fae762"/>
<rect x="384" y="384" width="7" height="7" fill="#fae15b"/>
<rect x="390" y="384" width="7" height="7" fill="#fadc54"/>
<rect x="396" y="384" width="7" height="7" fill="#fad64e"/>
<rect x="402" y="384" width="7" height="7" fill="#fad048"/>
<rect x="408" y="384" width="7" height="7" fill="#facb43"/>
<rect x="414" y="384" width="7" height="7" fill="#fac53d"/>
<rect x="420" y="384" width="7" height="7" fill="#fac038"/>
<rect x="426" y="384" width="7" height="7" fill="#fabb34"/>
<rect x="432" y="384" width="7" height="7" fill="#fab52f"/>
<rect x="438" y="384" width="7" height="7" fill="#fab02b"/>
<rect x="444" y="384" width="7" height="7" fill="#faab26"/>
<rect x="450" y="384" width="7" height="7" fill="#faa623"/>
<rect x="456" y="384" width="7" height="7" fill="#faa21f"/>
<rect x="462" y="384" width="7" height="7" fill="#fa9d1d"/>
<rect x="468" y="384" width="7" height="7" fill="#fa981c"/>
<rect x="474" y="384" width="7" height="7" fill="#fa931b"/>
<rect x="480" y="384" width="7" height="7" fill="#fa8e1a"/>
<rect x="486" y="384" width="7" height="7" fill="#fa8a19"/>
<rect x="492" y="384" width="7" height="7" fill="#fa8619"/>
<rect x="498" y="384" width="7" height="7" fill="#fa8219"/>
<rect x="504" y="384" width="7" height="7" fill="#fa7e19"/>
<rect x="510" y="384" width="7" height="7" fill="#fa7a19"/>
<rect x="516" y="384" width="7" height="7" fill="#fa7619"/>
<rect x="522" y="384" width="7" height="7" fill="#fa7219"/>
<rect x="528" y="384" width="7" height="7" fill="#fa6e19"/>
<rect x="66" y="390" width="7" height="7" fill="#32fac8"/>
<rect x="72" y="390" width="13" height="7" fill="#32fac7"/>
<rect x="84" y="390" width="13" height="7" fill="#32fac6"/>
<rect x="96" y="390" width="7" height="7" fill="#32fac5"/>
<rect x="102" y="390" width="13" height="7" fill="#32fac4"/>
<rect x="114" y="390" width="7" height="7" fill="#32fac3"/>
<rect x="120" y="390" width="13" height="7" fill="#32fac2"/>
<rect x="132" y="390" width="7" height="7" fill="#32fac1"/>
<rect x="138" y="390" width="7" height="7" fill="#32fac0"/>
<rect x="144" y="390" width="13" height="7" fill="#32fabf"/>
<rect x="156" y="390" width="7" height="7" fill="#32fabe"/>
<rect x="162" y="390" width="7" height="7" fill="#32fabd"/>
<rect x="168" y="390" width="7" height="7" fill="#32fabc"/>
<rect x="174" y="390" width="13" height="7" fill="#32fabb"/>
<rect x="186" y="390" width="7" height="7" fill="#32faba"/>
<rect x="192" y="390" width="7" height="7" fill="#32fab9"/>
<rect x="198" y="390" width="7" height="7" fill="#32fab8"/>
<rect x="204" y="390" width="7" height="7" fill="#32fab7"/>
<rect x="210" y="390" width="7" height="7" fill="#32fab6"/>
<rect x="216" y="390" width="7" height="7" fill="#32fab5"/>
<rect x="222" y="390" width="7" height="7" fill="#32fab4"/>
<rect x="228" y="390" width="7" height="7" fill="#32fab2"/>
<rect x="234" y="390" width="7" height="7" fill="#32fab1"/>
<rect x="240" y="390" width="7" height="7" fill="#32fab0"/>
<rect x="246" y="390" width="7" height="7" fill="#32faaf"/>
<rect x="252" y="390" width="7" height="7" fill="#32faad"/>
<rect x="258" y="390" width="7" height="7" fill="#32faac"/>
<rect x="264" y="390" width="7" height="7" fill="#37faab"/>
<rect x="270" y="390" width="7" height="7" fill="#46faaa"/>
<rect x="276" y="390" width="7" height="7" fill="#55faa9"/>
<rect x="282" y="390" width="7" height="7" fill="#64faa8"/>
<rect x="288" y="390" width="7" height="7" fill="#73faa6"/>
<rect x="294" y="390" width="7" height="7" fill="#81faa3"/>
<rect x="300" y="390" width="7" height="7" fill="#8ffa9f"/>
<rect x="306" y="390" width="7" height="7" fill="#9ffa9a"/>
<rect x="312" y="390" width="7" height="7" fill="#b5fa98"/>
<rect x="318" y="390" width="7" height="7" fill="#c6fa96"/>
<rect x="324" y="390" width="7" height="7" fill="#d3fa94"/>
<rect x="330" y="390" width="7" height="7" fill="#ddfa92"/>
<rect x="336" y="390" width="7" height="7" fill="#e6fa90"/>
<rect x="342" y="390" width="7" height="7" fill="#eefa8d"/>
<rect x="348" y="390" width="7" height="7" fill="#f4fa8b"/>
<rect x="354" y="390" width="7" height="7" fill="#fafa87"/>
<rect x="360" y="390" width="7" height="7" fill="#faf47e"/>
<rect x="366" y="390" width="7" height="7" fill="#faef75"/>
<rect x="372" y="390" width="7" height="7" fill="#fae96d"/>
<rect x="378" y="390" width="7" height="7" fill="#fae365"/>
<rect x="384" y="390" width="7" height="7" fill="#fadd5e"/>
<rect x="390" y="390" width="7" height="7" fill="#fad858"/>
<rect x="396" y="390" width="7" height="7" fill="#fad251"/>
<rect x="402" y="390" width="7" height="7" fill="#facc4b"/>
<rect x="408" y="390" width="7" height="7" fill="#fac646"/>
<rect x="414" y="390" width="7" height="7" fill="#fac140"/>
<rect x="420" y="390" width="7" height="7" fill="#fabb3b"/>
<rect x="426" y="390" width="7" height="7" fill="#fab636"/>
<rect x="432" y="390" width="7" height="7" fill="#fab032"/>
<rect x="438" y="390" width="7" height="7" fill="#faab2d"/>
<rect x="444" y="390" width="7" height="7" fill="#faa629"/>
<rect x="450" y="390" width="7" height="7" fill="#faa125"/>
<rect x="456" y="390" width="7" height="7" fill="#fa9d21"/>
<rect x="462" y="390" width="7" height="7" fill="#fa981d"/>
<rect x="468" y="390" width="7" height="7" fill="#fa931b"/>
<rect x="474" y="390" width="7" height="7" fill="#fa8e1a"/>
<rect x="480" y="390" width="7" height="7" fill="#fa8a19"/>
<rect x="486" y="390" width="7" height="7" fill="#fa8519"/>
<rect x="492" y="390" width="7" height="7" fill="#fa8119"/>
<rect x="498" y="390" width="7" height="7" fill="#fa7d19"/>
<rect x="504" y="390" width="7" height="7" fill="#fa7919"/>
<rect x="510" y="390" width="7" height="7" fill="#fa7519"/>
<rect x="516" y="390" width="7" height="7" fill="#fa7119"/>
<rect x="522" y="390" width="7" height="7" fill="#fa6e19"/>
<rect x="528" y="390" width="7" height="7" fill="#fa6a19"/>
<rect x="534" y="390" width="7" height="7" fill="#fa6619"/>
<rect x="66" y="396" width="7" height="7" fill="#32facc"/>
<rect x="72" y="396" width="13" height="7" fill="#32facb"/>
<rect x="84" y="396" width="7" height="7" fill="#32faca"/>
<rect x="90" y="396" width="13" height="7" fill="#32fac9"/>
<rect x="102" y="396" width="13" height="7" fill="#32fac8"/>
<rect x="114" y="396" width="7" height="7" fill="#32fac7"/>
<rect x="120" y="396" width="13" height="7" fill="#32fac6"/>
<rect x="132" y="396" width="7" height="7" fill="#32fac5"/>
<rect x="138" y="396" width="13" height="7" fill="#32fac4"/>
<rect x="150" y="396" width="7" height="7" fill="#32fac3"/>
<rect x="156" y="396" width="13" height="7" fill="#32fac2"/>
<rect x="168" y="396" width="7" height="7" fill="#32fac1"/>
<rect x="174" y="396" width="7" height="7" fill="#32fac0"/>
<rect x="180" y="396" width="7" height="7" fill="#32fabf"/>
<rect x="186" y="396" width="7" height="7" fill="#32fabe"/>
<rect x="192" y="396" width="13" height="7" fill="#32fabd"/>
<rect x="204" y="396" width="7" height="7" fill="#32fabc"/>
<rect x="210" y="396" width="7" height="7" fill="#32fabb"/>
<rect x="216" y="396" width="7" height="7" fill="#32faba"/>
<rect x="222" y="396" width="7" height="7" fill="#32fab9"/>
<rect x="228" y="396" width="7" height="7" fill="#32fab8"/>
<rect x="234" y="396" width="7" height="7" fill="#32fab6"/>
<rect x="240" y="396" width="7" height="7" fill="#32fab5"/>
<rect x="246" y="396" width="7" height="7" fill="#32fab4"/>
<rect x="252" y="396" width="7" height="7" fill="#32fab3"/>
<rect x="258" y="396" width="7" height="7" fill="#32fab2"/>
<rect x="264" y="396" width="7" height="7" fill="#3cfab1"/>
<rect x="270" y="396" width="7" height="7" fill="#4bfab0"/>
<rect x="276" y="396" width="7" height="7" fill="#5afaaf"/>
<rect x="282" y="396" width="7" height="7" fill="#69faae"/>
<rect x="288" y="396" width="7" height="7" fill="#78faac"/>
<rect x="294" y="396" width="7" height="7" fill="#87faaa"/>
<rect x="300" y="396" width="7" height="7" fill="#95faa6"/>
<rect x="306" y="396" width="7" height="7" fill="#a5faa1"/>
<rect x="312" y="396" width="7" height="7" fill="#bbfa9f"/>
<rect x="318" y="396" width="7" height="7" fill="#cbfa9d"/>
<rect x="324" y="396" width="7" height="7" fill="#d8fa9b"/>
<rect x="330" y="396" width="7" height="7" fill="#e2fa99"/>
<rect x="336" y="396" width="7" height="7" fill="#eafa97"/>
<rect x="342" y="396" width="7" height="7" fill="#f2fa95"/>
<rect x="348" y="396" width="7" height="7" fill="#f8fa92"/>
<rect x="354" y="396" width="7" height="7" fill="#faf68b"/>
<rect x="360" y="396" width="7" height="7" fill="#faf181"/>
<rect x="366" y="396" width="7" height="7" fill="#faeb78"/>
<rect x="372" y="396" width="7" height="7" fill="#fae570"/>
<rect x="378" y="396" width="7" height="7" fill="#fadf69"/>
<rect x="384" y="396" width="7" height="7" fill="#fad961"/>
<rect x="390" y="396" width="7" height="7" fill="#fad35b"/>
<rect x="396" y="396" width="7" height="7" fill="#facd54"/>
<rect x="402" y="396" width="7" height="7" fill="#fac74e"/>
<rect x="408" y="396" width="7" height="7" fill="#fac148"/>
<rect x="414" y="396" width="7" height="7" fill="#fabc43"/>
<rect x="420" y="396" width="7" height="7" fill="#fab63e"/>
<rect x="426" y="396" width="7" height="7" fill="#fab139"/>
<rect x="432" y="396" width="7" height="7" fill="#faab34"/>
<rect x="438" y="396" width="7" height="7" fill="#faa630"/>
<rect x="444" y="396" width="7" height="7" fill="#faa12b"/>
<rect x="450" y="396" width="7" height="7" fill="#fa9c27"/>
<rect x="456" y="396" width="7" height="7" fill="#fa9723"/>
<rect x="462" y="396" width="7" height="7" fill="#fa9220"/>
<rect x="468" y="396" width="7" height="7" fill="#fa8e1c"/>
<rect x="474" y="396" width="7" height="7" fill="#fa8919"/>
<rect x="480" y="396" width="7" height="7" fill="#fa8519"/>
<rect x="486" y="396" width="7" height="7" fill="#fa8119"/>
<rect x="492" y="396" width="7" height="7" fill="#fa7d19"/>
<rect x="498" y="396" width="7" height="7" fill="#fa7919"/>
<rect x="504" y="396" width="7" height="7" fill="#fa7519"/>
<rect x="510" y="396" width="7" height="7" fill="#fa7119"/>
<rect x="516" y="396" width="7" height="7" fill="#fa6d19"/>
<rect x="522" y="396" width="7" height="7" fill="#fa6919"/>
<rect x="528" y="396" width="7" height="7" fill="#fa6519"/>
<rect x="534" y="396" width="7" height="7" fill="#fa6219"/>
<rect x="540" y="396" width="7" height="7" fill="#fa5e19"/>
<rect x="66" y="402" width="13" height="7" fill="#32facf"/>
<rect x="78" y="402" width="13" height="7" fill="#32face"/>
<rect x="90" y="402" width="13" height="7" fill="#32facd"/>
<rect x="102" y="402" width="13" height="7" fill="#32facc"/>
<rect x="114" y="402" width="13" height="7" fill="#32facb"/>
<rect x="126" y="402" width="7" height="7" fill="#32faca"/>
<rect x="132" y="402" width="13" height="7" fill="#32fac9"/>
<rect x="144" y="402" width="7" height="7" fill="#32fac8"/>
<rect x="150" y="402" width="13" height="7" fill="#32fac7"/>
<rect x="162" y="402" width="7" height="7" fill="#32fac6"/>
<rect x="168" y="402" width="13" height="7" fill="#32fac5"/>
<rect x="180" y="402" width="7" height="7" fill="#32fac4"/>
<rect x="186" y="402" width="7" height="7" fill="#32fac3"/>
<rect x="192" y="402" width="7" height="7" fill="#32fac2"/>
<rect x="198" y="402" width="13" height="7" fill="#32fac1"/>
<rect x="210" y="402" width="7" height="7" fill="#32fac0"/>
<rect x="216" y="402" width="7" height="7" fill="#32fabf"/>
<rect x="222" y="402" width="7" height="7" fill="#32fabe"/>
<rect x="228" y="402" width="7" height="7" fill="#32fabd"/>
<rect x="234" y="402" width="7" height="7" fill="#32fabc"/>
<rect x="240" y="402" width="7" height="7" fill="#32fabb"/>
<rect x="246" y="402" width="7" height="7" fill="#32faba"/>
<rect x="252" y="402" width="7" height="7" fill="#32fab9"/>
<rect x="258" y="402" width="7" height="7" fill="#32fab7"/>
<rect x="264" y="402" width="7" height="7" fill="#40fab7"/>
<rect x="270" y="402" width="7" height="7" fill="#50fab6"/>
<rect x="276" y="402" width="7" height="7" fill="#5ffab6"/>
<rect x="282" y="402" width="7" height="7" fill="#6ffab4"/>
<rect x="288" y="402" width="7" height="7" fill="#7efab3"/>
<rect x="294" y="402" width="7" height="7" fill="#8dfab1"/>
<rect x="300" y="402" width="7" height="7" fill="#9bfaad"/>
<rect x="306" y="402" width="7" height="7" fill="#abfaa8"/>
<rect x="312" y="402" width="7" height="7" fill="#c1faa6"/>
<rect x="318" y="402" width="7" height="7" fill="#d1faa5"/>
<rect x="324" y="402" width="7" height="7" fill="#ddfaa3"/>
<rect x="330" y="402" width="7" height="7" fill="#e7faa1"/>
<rect x="336" y="402" width="7" height="7" fill="#effa9f"/>
<rect x="342" y="402" width="7" height="7" fill="#f6fa9c"/>
<rect x="348" y="402" width="7" height="7" fill="#faf898"/>
<rect x="354" y="402" width="7" height="7" fill="#faf38e"/>
<rect x="360" y="402" width="7" height="7" fill="#faed84"/>
<rect x="366" y="402" width="7" height="7" fill="#fae77b"/>
<rect x="372" y="402" width="7" height="7" fill="#fae173"/>
<rect x="378" y="402" width="7" height="7" fill="#fadb6b"/>
<rect x="384" y="402" width="7" height="7" fill="#fad564"/>
<rect x="390" y="402" width="7" height="7" fill="#face5d"/>
<rect x="396" y="402" width="7" height="7" fill="#fac857"/>
<rect x="402" y="402" width="7" height="7" fill="#fac251"/>
<rect x="408" y="402" width="7" height="7" fill="#fabc4b"/>
<rect x="414" y="402" width="7" height="7" fill="#fab745"/>
<rect x="420" y="402" width="7" height="7" fill="#fab140"/>
<rect x="426" y="402" width="7" height="7" fill="#faab3b"/>
<rect x="432" y="402" width="7" height="7" fill="#faa636"/>
<rect x="438" y="402" width="7" height="7" fill="#faa132"/>
<rect x="444" y="402" width="7" height="7" fill="#fa9b2e"/>
<rect x="450" y="402" width="7" height="7" fill="#fa9629"/>
<rect x="456" y="402" width="7" height="7" fill="#fa9125"/>
<rect x="462" y="402" width="7" height="7" fill="#fa8d22"/>
<rect x="468" y="402" width="7" height="7" fill="#fa881e"/>
<rect x="474" y="402" width="7" height="7" fill="#fa841c"/>
<rect x="480" y="402" width="7" height="7" fill="#fa8019"/>
<rect x="486" y="402" width="7" height="7" fill="#fa7c19"/>
<rect x="492" y="402" width="7" height="7" fill="#fa7819"/>
<rect x="498" y="402" width="7" height="7" fill="#fa7419"/>
<rect x="504" y="402" width="7" height="7" fill="#fa7019"/>
<rect x="510" y="402" width="7" height="7" fill="#fa6c19"/>
<rect x="516" y="402" width="7" height="7" fill="#fa6819"/>
<rect x="522" y="402" width="7" height="7" fill="#fa6419"/>
<rect x="528" y="402" width="7" height="7" fill="#fa6119"/>
<rect x="534" y="402" width="7" height="7" fill="#fa5d19"/>
<rect x="540" y="402" width="7" height="7" fill="#fa5a19"/>
<rect x="546" y="402" width="7" height="7" fill="#fa5619"/>
<rect x="66" y="408" width="13" height="7" fill="#32fad3"/>
<rect x="78" y="408" width="13" height="7" fill="#32fad2"/>
<rect x="90" y="408" width="13" height="7" fill="#32fad1"/>
<rect x="102" y="408" width="13" height="7" fill="#32fad0"/>
<rect x="114" y="408" width="13" height="7" fill="#32facf"/>
<rect x="126" y="408" width="13" height="7" fill="#32face"/>
<rect x="138" y="408" width="13" height="7" fill="#32facd"/>
<rect x="150" y="408" width="7" height="7" fill="#32facc"/>
<rect x="156" y="408" width="13" height="7" fill="#32facb"/>
<rect x="168" y="408" width="7" height="7" fill="#32faca"/>
<rect x="174" y="408" width="13" height="7" fill="#32fac9"/>
<rect x="186" y="408" width="7" height="7" fill="#32fac8"/>
<rect x="192" y="408" width="7" height="7" fill="#32fac7"/>
<rect x="198" y="408" width="13" height="7" fill="#32fac6"/>
<rect x="210" y="408" width="7" height="7" fill="#32fac5"/>
<rect x="216" y="408" width="7" height="7" fill="#32fac4"/>
<rect x="222" y="408" width="7" height="7" fill="#32fac3"/>
<rect x="228" y="408" width="7" height="7" fill="#32fac2"/>
<rect x="234" y="408" width="7" height="7" fill="#32fac1"/>
<rect x="240" y="408" width="7" height="7" fill="#32fac0"/>
<rect x="246" y="408" width="7" height="7" fill="#32fabf"/>
<rect x="252" y="408" width="7" height="7" fill="#32fabe"/>
<rect x="258" y="408" width="7" height="7" fill="#35fabd"/>
<rect x="264" y="408" width="7" height="7" fill="#45fabd"/>
<rect x="270" y="408" width="7" height="7" fill="#55fabd"/>
<rect x="276" y="408" width="7" height="7" fill="#65fabc"/>
<rect x="282" y="408" width="7" height="7" fill="#74fabb"/>
<rect x="288" y="408" width="7" height="7" fill="#84faba"/>
<rect x="294" y="408" width="7" height="7" fill="#93fab8"/>
<rect x="300" y="408" width="7" height="7" fill="#a2fab5"/>
<rect x="306" y="408" width="7" height="7" fill="#b1faaf"/>
<rect x="312" y="408" width="7" height="7" fill="#c7faae"/>
<rect x="318" y="408" width="7" height="7" fill="#d7faac"/>
<rect x="324" y="408" width="7" height="7" fill="#e2faaa"/>
<rect x="330" y="408" width="7" height="7" fill="#ecfaa8"/>
<rect x="336" y="408" width="7" height="7" fill="#f3faa6"/>
<rect x="342" y="408" width="7" height="7" fill="#f9faa4"/>
<rect x="348" y="408" width="7" height="7" fill="#faf59b"/>
<rect x="354" y="408" width="7" height="7" fill="#faef91"/>
<rect x="360" y="408" width="7" height="7" fill="#fae987"/>
<rect x="366" y="408" width="7" height="7" fill="#fae37e"/>
<rect x="372" y="408" width="7" height="7" fill="#fadd76"/>
<rect x="378" y="408" width="7" height="7" fill="#fad66e"/>
<rect x="384" y="408" width="7" height="7" fill="#fad067"/>
<rect x="390" y="408" width="7" height="7" fill="#fac960"/>
<rect x="396" y="408" width="7" height="7" fill="#fac359"/>
<rect x="402" y="408" width="7" height="7" fill="#fabd53"/>
<rect x="408" y="408" width="7" height="7" fill="#fab74d"/>
<rect x="414" y="408" width="7" height="7" fill="#fab148"/>
<rect x="420" y="408" width="7" height="7" fill="#faab42"/>
<rect x="426" y="408" width="7" height="7" fill="#faa53d"/>
<rect x="432" y="408" width="7" height="7" fill="#faa039"/>
<rect x="438" y="408" width="7" height="7" fill="#fa9b34"/>
<rect x="444" y="408" width="7" height="7" fill="#fa9530"/>
<rect x="450" y="408" width="7" height="7" fill="#fa902b"/>
<rect x="456" y="408" width="7" height="7" fill="#fa8b27"/>
<rect x="462" y="408" width="7" height="7" fill="#fa8724"/>
<rect x="468" y="408" width="7" height="7" fill="#fa8321"/>
<rect x="474" y="408" width="7" height="7" fill="#fa7f1f"/>
<rect x="480" y="408" width="7" height="7" fill="#fa7b1c"/>
<rect x="486" y="408" width="7" height="7" fill="#fa771a"/>
<rect x="492" y="408" width="7" height="7" fill="#fa7319"/>
<rect x="498" y="408" width="7" height="7" fill="#fa6f19"/>
<rect x="504" y="408" width="7" height="7" fill="#fa6b19"/>
<rect x="510" y="408" width="7" height="7" fill="#fa6719"/>
<rect x="516" y="408" width="7" height="7" fill="#fa6319"/>
<rect x="522" y="408" width="7" height="7" fill="#fa6019"/>
<rect x="528" y="408" width="7" height="7" fill="#fa5c19"/>
<rect x="534" y="408" width="7" height="7" fill="#fa5819"/>
<rect x="540" y="408" width="7" height="7" fill="#fa5519"/>
<rect x="546" y="408" width="7" height="7" fill="#fa5119"/>
<rect x="552" y="408" width="7" height="7" fill="#fa4e19"/>
<rect x="72" y="414" width="7" height="7" fill="#32fad7"/>
<rect x="78" y="414" width="13" height="7" fill="#32fad6"/>
<rect x="90" y="414" width="19" height="7" fill="#32fad5"/>
<rect x="108" y="414" width="13" height="7" fill="#32fad4"/>
<rect x="120" y="414" width="13" height="7" fill="#32fad3"/>
<rect x="132" y="414" width="13" height="7" fill="#32fad2"/>
<rect x="144" y="414" width="13" height="7" fill="#32fad1"/>
<rect x="156" y="414" width="7" height="7" fill="#32fad0"/>
<rect x="162" y="414" width="13" height="7" fill="#32facf"/>
<rect x="174" y="414" width="13" height="7" fill="#32face"/>
<rect x="186" y="414" width="7" height="7" fill="#32facd"/>
<rect x="192" y="414" width="7" height="7" fill="#32facc"/>
<rect x="198" y="414" width="13" height="7" fill="#32facb"/>
<rect x="210" y="414" width="7" height="7" fill="#32faca"/>
<rect x="216" y="414" width="7" height="7" fill="#32fac9"/>
<rect x="222" y="414" width="13" height="7" fill="#32fac8"/>
<rect x="234" y="414" width="7" height="7" fill="#32fac7"/>
<rect x="240" y="414" width="7" height="7" fill="#32fac6"/>
<rect x="246" y="414" width="7" height="7" fill="#32fac5"/>
<rect x="252" y="414" width="7" height="7" fill="#32fac4"/>
<rect x="258" y="414" width="7" height="7" fill="#3afac3"/>
<rect x="264" y="414" width="7" height="7" fill="#4afac3"/>
<rect x="270" y="414" width="7" height="7" fill="#5afac3"/>
<rect x="276" y="414" width="7" height="7" fill="#6afac2"/>
<rect x="282" y="414" width="7" height="7" fill="#7afac2"/>
<rect x="288" y="414" width="7" height="7" fill="#8afac1"/>
<rect x="294" y="414" width="7" height="7" fill="#99fabf"/>
<rect x="300" y="414" width="7" height="7" fill="#a8fabc"/>
<rect x="306" y="414" width="7" height="7" fill="#b7fab7"/>
<rect x="312" y="414" width="7" height="7" fill="#cdfab5"/>
<rect x="318" y="414" width="7" height="7" fill="#ddfab4"/>
<rect x="324" y="414" width="7" height="7" fill="#e8fab2"/>
<rect x="330" y="414" width="7" height="7" fill="#f0fab0"/>
<rect x="336" y="414" width="7" height="7" fill="#f7faaf"/>
<rect x="342" y="414" width="7" height="7" fill="#faf7a8"/>
<rect x="348" y="414" width="7" height="7" fill="#faf29d"/>
<rect x="354" y="414" width="7" height="7" fill="#faec93"/>
<rect x="360" y="414" width="7" height="7" fill="#fae58a"/>
<rect x="366" y="414" width="7" height="7" fill="#fadf81"/>
<rect x="372" y="414" width="7" height="7" fill="#fad879"/>
<rect x="378" y="414" width="7" height="7" fill="#fad171"/>
<rect x="384" y="414" width="7" height="7" fill="#faca6a"/>
<rect x="390" y="414" width="7" height="7" fill="#fac463"/>
<rect x="396" y="414" width="7" height="7" fill="#fabd5c"/>
<rect x="402" y="414" width="7" height="7" fill="#fab756"/>
<rect x="408" y="414" width="7" height="7" fill="#fab150"/>
<rect x="414" y="414" width="7" height="7" fill="#faab4a"/>
<rect x="420" y="414" width="7" height="7" fill="#faa545"/>
<rect x="426" y="414" width="7" height="7" fill="#fa9f40"/>
<rect x="432" y="414" width="7" height="7" fill="#fa9a3b"/>
<rect x="438" y="414" width="7" height="7" fill="#fa9436"/>
<rect x="444" y="414" width="7" height="7" fill="#fa8f32"/>
<rect x="450" y="414" width="7" height="7" fill="#fa8a2d"/>
<rect x="456" y="414" width="7" height="7" fill="#fa852a"/>
<rect x="462" y="414" width="7" height="7" fill="#fa8127"/>
<rect x="468" y="414" width="7" height="7" fill="#fa7d24"/>
<rect x="474" y="414" width="7" height="7" fill="#fa7922"/>
<rect x="480" y="414" width="7" height="7" fill="#fa751f"/>
<rect x="486" y="414" width="7" height="7" fill="#fa721d"/>
<rect x="492" y="414" width="7" height="7" fill="#fa6e1a"/>
<rect x="498" y="414" width="7" height="7" fill="#fa6a19"/>
<rect x="504" y="414" width="7" height="7" fill="#fa6619"/>
<rect x="510" y="414" width="7" height="7" fill="#fa6219"/>
<rect x="516" y="414" width="7" height="7" fill="#fa5f19"/>
<rect x="522" y="414" width="7" height="7" fill="#fa5b19"/>
<rect x="528" y="414" width="7" height="7" fill="#fa5719"/>
<rect x="534" y="414" width="7" height="7" fill="#fa5319"/>
<rect x="540" y="414" width="7" height="7" fill="#fa5019"/>
<rect x="546" y="414" width="7" height="7" fill="#fa4c19"/>
<rect x="552" y="414" width="7" height="7" fill="#fa4919"/>
<rect x="558" y="414" width="7" height="7" fill="#fa4619"/>
<rect x="72" y="420" width="7" height="7" fill="#32fadb"/>
<rect x="78" y="420" width="13" height="7" fill="#32fada"/>
<rect x="90" y="420" width="19" height="7" fill="#32fad9"/>
<rect x="108" y="420" width="13" height="7" fill="#32fad8"/>
<rect x="120" y="420" width="19" height="7" fill="#32fad7"/>
<rect x="138" y="420" width="13" height="7" fill="#32fad6"/>
<rect x="150" y="420" width="13" height="7" fill="#32fad5"/>
<rect x="162" y="420" width="13" height="7" fill="#32fad4"/>
<rect x="174" y="420" width="7" height="7" fill="#32fad3"/>
<rect x="180" y="420" width="13" height="7" fill="#32fad2"/>
<rect x="192" y="420" width="13" height="7" fill="#32fad1"/>
<rect x="204" y="420" width="7" height="7" fill="#32fad0"/>
<rect x="210" y="420" width="13" height="7" fill="#32facf"/>
<rect x="222" y="420" width="7" height="7" fill="#32face"/>
<rect x="228" y="420" width="7" height="7" fill="#32facd"/>
<rect x="234" y="420" width="13" height="7" fill="#32facc"/>
<rect x="246" y="420" width="7" height="7" fill="#32facb"/>
<rect x="252" y="420" width="7" height="7" fill="#32faca"/>
<rect x="258" y="420" width="7" height="7" fill="#3efaca"/>
<rect x="264" y="420" width="7" height="7" fill="#4ffaca"/>
<rect x="270" y="420" width="7" height="7" fill="#60fac9"/>
<rect x="276" y="420" width="7" height="7" fill="#70fac9"/>
<rect x="282" y="420" width="7" height="7" fill="#81fac9"/>
<rect x="288" y="420" width="7" height="7" fill="#90fac8"/>
<rect x="294" y="420" width="7" height="7" fill="#a0fac6"/>
<rect x="300" y="420" width="7" height="7" fill="#affac4"/>
<rect x="306" y="420" width="7" height="7" fill="#befabf"/>
<rect x="312" y="420" width="7" height="7" fill="#d4fabd"/>
<rect x="318" y="420" width="7" height="7" fill="#e2fabc"/>
<rect x="324" y="420" width="7" height="7" fill="#edfaba"/>
<rect x="330" y="420" width="7" height="7" fill="#f4fab9"/>
<rect x="336" y="420" width="7" height="7" fill="#faf9b6"/>
<rect x="342" y="420" width="7" height="7" fill="#faf4ab"/>
<rect x="348" y="420" width="7" height="7" fill="#faeea0"/>
<rect x="354" y="420" width="7" height="7" fill="#fae796"/>
<rect x="360" y="420" width="7" height="7" fill="#fae08c"/>
<rect x="366" y="420" width="7" height="7" fill="#fada84"/>
<rect x="372" y="420" width="7" height="7" fill="#fad37b"/>
<rect x="378" y="420" width="7" height="7" fill="#facc73"/>
<rect x="384" y="420" width="7" height="7" fill="#fac56c"/>
<rect x="390" y="420" width="7" height="7" fill="#fabe65"/>
<rect x="396" y="420" width="7" height="7" fill="#fab75e"/>
<rect x="402" y="420" width="7" height="7" fill="#fab158"/>
<rect x="408" y="420" width="7" height="7" fill="#faaa52"/>
<rect x="414" y="420" width="7" height="7" fill="#faa44c"/>
<rect x="420" y="420" width="7" height="7" fill="#fa9e47"/>
<rect x="426" y="420" width="7" height="7" fill="#fa9942"/>
<rect x="432" y="420" width="7" height="7" fill="#fa933d"/>
<rect x="438" y="420" width="7" height="7" fill="#fa8d38"/>
<rect x="444" y="420" width="7" height="7" fill="#fa8834"/>
<rect x="450" y="420" width="7" height="7" fill="#fa8430"/>
<rect x="456" y="420" width="7" height="7" fill="#fa7f2d"/>
<rect x="462" y="420" width="7" height="7" fill="#fa7b2a"/>
<rect x="468" y="420" width="7" height="7" fill="#fa7727"/>
<rect x="474" y="420" width="7" height="7" fill="#fa7325"/>
<rect x="480" y="420" width="7" height="7" fill="#fa6f22"/>
<rect x="486" y="420" width="7" height="7" fill="#fa6c20"/>
<rect x="492" y="420" width="7" height="7" fill="#fa681d"/>
<rect x="498" y="420" width="7" height="7" fill="#fa651b"/>
<rect x="504" y="420" width="7" height="7" fill="#fa6119"/>
<rect x="510" y="420" width="7" height="7" fill="#fa5d19"/>
<rect x="516" y="420" width="7" height="7" fill="#fa5a19"/>
<rect x="522" y="420" width="7" height="7" fill="#fa5619"/>
<rect x="528" y="420" width="7" height="7" fill="#fa5219"/>
<rect x="534" y="420" width="7" height="7" fill="#fa4f19"/>
<rect x="540" y="420" width="7" height="7" fill="#fa4b19"/>
<rect x="546" y="420" width="7" height="7" fill="#fa4719"/>
<rect x="552" y="420" width="7" height="7" fill="#fa4419"/>
<rect x="558" y="420" width="7" height="7" fill="#fa4119"/>
<rect x="564" y="420" width="7" height="7" fill="#fa3d19"/>
<rect x="72" y="426" width="7" height="7" fill="#32fadf"/>
<rect x="78" y="426" width="19" height="7" fill="#32fade"/>
<rect x="96" y="426" width="19" height="7" fill="#32fadd"/>
<rect x="114" y="426" width="13" height="7" fill="#32fadc"/>
<rect x="126" y="426" width="19" height="7" fill="#32fadb"/>
<rect x="144" y="426" width="13" height="7" fill="#32fada"/>
<rect x="156" y="426" width="13" height="7" fill="#32fad9"/>
<rect x="168" y="426" width="13" height="7" fill="#32fad8"/>
<rect x="180" y="426" width="13" height="7" fill="#32fad7"/>
<rect x="192" y="426" width="13" height="7" fill="#32fad6"/>
<rect x="204" y="426" width="13" height="7" fill="#32fad5"/>
<rect x="216" y="426" width="7" height="7" fill="#32fad4"/>
<rect x="222" y="426" width="13" height="7" fill="#32fad3"/>
<rect x="234" y="426" width="7" height="7" fill="#32fad2"/>
<rect x="240" y="426" width="13" height="7" fill="#32fad1"/>
<rect x="252" y="426" width="7" height="7" fill="#32fad0"/>
<rect x="258" y="426" width="7" height="7" fill="#44fad0"/>
<rect x="264" y="426" width="7" height="7" fill="#55fad0"/>
<rect x="270" y="426" width="7" height="7" fill="#66fad0"/>
<rect x="276" y="426" width="7" height="7" fill="#76fad0"/>
<rect x="282" y="426" width="7" height="7" fill="#87facf"/>
<rect x="288" y="426" width="7" height="7" fill="#97facf"/>
<rect x="294" y="426" width="7" height="7" fill="#a7face"/>
<rect x="300" y="426" width="7" height="7" fill="#b6facb"/>
<rect x="306" y="426" width="7" height="7" fill="#c5fac7"/>
<rect x="312" y="426" width="7" height="7" fill="#dafac5"/>
<rect x="318" y="426" width="7" height="7" fill="#e8fac4"/>
<rect x="324" y="426" width="7" height="7" fill="#f1fac2"/>
<rect x="330" y="426" width="7" height="7" fill="#f8fac1"/>
<rect x="336" y="426" width="7" height="7" fill="#faf6b8"/>
<rect x="342" y="426" width="7" height="7" fill="#faf0ad"/>
<rect x="348" y="426" width="7" height="7" fill="#fae9a2"/>
<rect x="354" y="426" width="7" height="7" fill="#fae298"/>
<rect x="360" y="426" width="7" height="7" fill="#fadb8f"/>
<rect x="366" y="426" width="7" height="7" fill="#fad486"/>
<rect x="372" y="426" width="7" height="7" fill="#facd7e"/>
<rect x="378" y="426" width="7" height="7" fill="#fac576"/>
<rect x="384" y="426" width="7" height="7" fill="#fabe6e"/>
<rect x="390" y="426" width="7" height="7" fill="#fab767"/>
<rect x="396" y="426" width="7" height="7" fill="#fab060"/>
<rect x="402" y="426" width="7" height="7" fill="#faaa5a"/>
<rect x="408" y="426" width="7" height="7" fill="#faa354"/>
<rect x="414" y="426" width="7" height="7" fill="#fa9d4e"/>
<rect x="420" y="426" width="7" height="7" fill="#fa9749"/>
<rect x="426" y="426" width="7" height="7" fill="#fa9144"/>
<rect x="432" y="426" width="7" height="7" fill="#fa8c3f"/>
<rect x="438" y="426" width="7" height="7" fill="#fa863a"/>
<rect x="444" y="426" width="7" height="7" fill="#fa8237"/>
<rect x="450" y="426" width="7" height="7" fill="#fa7d33"/>
<rect x="456" y="426" width="7" height="7" fill="#fa7930"/>
<rect x="462" y="426" width="7" height="7" fill="#fa742d"/>
<rect x="468" y="426" width="7" height="7" fill="#fa702a"/>
<rect x="474" y="426" width="7" height="7" fill="#fa6d27"/>
<rect x="480" y="426" width="7" height="7" fill="#fa6925"/>
<rect x="486" y="426" width="7" height="7" fill="#fa6522"/>
<rect x="492" y="426" width="7" height="7" fill="#fa6220"/>
<rect x="498" y="426" width="7" height="7" fill="#fa5f1e"/>
<rect x="504" y="426" width="7" height="7" fill="#fa5b1b"/>
<rect x="510" y="426" width="7" height="7" fill="#fa5819"/>
<rect x="516" y="426" width="7" height="7" fill="#fa5419"/>
<rect x="522" y="426" width="7" height="7" fill="#fa5119"/>
<rect x="528" y="426" width="7" height="7" fill="#fa4d19"/>
<rect x="534" y="426" width="7" height="7" fill="#fa4919"/>
<rect x="540" y="426" width="7" height="7" fill="#fa4619"/>
<rect x="546" y="426" width="7" height="7" fill="#fa4219"/>
<rect x="552" y="426" width="7" height="7" fill="#fa3f19"/>
<rect x="558" y="426" width="7" height="7" fill="#fa3c19"/>
<rect x="564" y="426" width="7" height="7" fill="#fa3819"/>
<rect x="570" y="426" width="7" height="7" fill="#fa3519"/>
<rect x="72" y="432" width="7" height="7" fill="#32fae3"/>
<rect x="78" y="432" width="19" height="7" fill="#32fae2"/>
<rect x="96" y="432" width="25" height="7" fill="#32fae1"/>
<rect x="120" y="432" width="19" height="7" fill="#32fae0"/>
<rect x="138" y="432" width="19" height="7" fill="#32fadf"/>
<rect x="156" y="432" width="13" height="7" fill="#32fade"/>
<rect x="168" y="432" width="19" height="7" fill="#32fadd"/>
<rect x="186" y="432" width="13" height="7" fill="#32fadc"/>
<rect x="198" y="432" width="13" height="7" fill="#32fadb"/>
<rect x="210" y="432" width="13" height="7" fill="#32fada"/>
<rect x="222" y="432" width="13" height="7" fill="#32fad9"/>
<rect x="234" y="432" width="7" height="7" fill="#32fad8"/>
<rect x="240" y="432" width="13" height="7" fill="#32fad7"/>
<rect x="252" y="432" width="7" height="7" fill="#37fad6"/>
<rect x="258" y="432" width="7" height="7" fill="#49fad6"/>
<rect x="264" y="432" width="7" height="7" fill="#5afad7"/>
<rect x="270" y="432" width="7" height="7" fill="#6cfad7"/>
<rect x="276" y="432" width="7" height="7" fill="#7dfad6"/>
<rect x="282" y="432" width="7" height="7" fill="#8efad6"/>
<rect x="288" y="432" width="7" height="7" fill="#9efad6"/>
<rect x="294" y="432" width="7" height="7" fill="#aefad5"/>
<rect x="300" y="432" width="7" height="7" fill="#bdfad3"/>
<rect x="306" y="432" width="7" height="7" fill="#ccfacf"/>
<rect x="312" y="432" width="7" height="7" fill="#e1facd"/>
<rect x="318" y="432" width="7" height="7" fill="#edfacc"/>
<rect x="324" y="432" width="7" height="7" fill="#f6facb"/>
<rect x="330" y="432" width="7" height="7" fill="#faf8c6"/>
<rect x="336" y="432" width="7" height="7" fill="#faf2ba"/>
<rect x="342" y="432" width="7" height="7" fill="#faecaf"/>
<rect x="348" y="432" width="7" height="7" fill="#fae4a5"/>
<rect x="354" y="432" width="7" height="7" fill="#fadd9b"/>
<rect x="360" y="432" width="7" height="7" fill="#fad591"/>
<rect x="366" y="432" width="7" height="7" fill="#face88"/>
<rect x="372" y="432" width="7" height="7" fill="#fac680"/>
<rect x="378" y="432" width="7" height="7" fill="#fabe78"/>
<rect x="384" y="432" width="7" height="7" fill="#fab770"/>
<rect x="390" y="432" width="7" height="7" fill="#fab069"/>
<rect x="396" y="432" width="7" height="7" fill="#faa962"/>
<rect x="402" y="432" width="7" height="7" fill="#faa25c"/>
<rect x="408" y="432" width="7" height="7" fill="#fa9c56"/>
<rect x="414" y="432" width="7" height="7" fill="#fa9550"/>
<rect x="420" y="432" width="7" height="7" fill="#fa8f4b"/>
<rect x="426" y="432" width="7" height="7" fill="#fa8945"/>
<rect x="432" y="432" width="7" height="7" fill="#fa8441"/>
<rect x="438" y="432" width="7" height="7" fill="#fa7f3d"/>
<rect x="444" y="432" width="7" height="7" fill="#fa7b3a"/>
<rect x="450" y="432" width="7" height="7" fill="#fa7636"/>
<rect x="456" y="432" width="7" height="7" fill="#fa7233"/>
<rect x="462" y="432" width="7" height="7" fill="#fa6e30"/>
<rect x="468" y="432" width="7" height="7" fill="#fa6a2d"/>
<rect x="474" y="432" width="7" height="7" fill="#fa662a"/>
<rect x="480" y="432" width="7" height="7" fill="#fa6228"/>
<rect x="486" y="432" width="7" height="7" fill="#fa5f25"/>
<rect x="492" y="432" width="7" height="7" fill="#fa5b23"/>
<rect x="498" y="432" width="7" height="7" fill="#fa5820"/>
<rect x="504" y="432" width="7" height="7" fill="#fa551e"/>
<rect x="510" y="432" width="7" height="7" fill="#fa521c"/>
<rect x="516" y="432" width="7" height="7" fill="#fa4f1a"/>
<rect x="522" y="432" width="7" height="7" fill="#fa4c19"/>
<rect x="528" y="432" width="7" height="7" fill="#fa4819"/>
<rect x="534" y="432" width="7" height="7" fill="#fa4419"/>
<rect x="540" y="432" width="7" height="7" fill="#fa4119"/>
<rect x="546" y="432" width="7" height="7" fill="#fa3d19"/>
<rect x="552" y="432" width="7" height="7" fill="#fa3a19"/>
<rect x="558" y="432" width="7" height="7" fill="#fa3719"/>
<rect x="564" y="432" width="7" height="7" fill="#fa3319"/>
<rect x="570" y="432" width="7" height="7" fill="#fa3019"/>
<rect x="576" y="432" width="7" height="7" fill="#fa2d19"/>
<rect x="72" y="438" width="7" height="7" fill="#32fae7"/>
<rect x="78" y="438" width="31" height="7" fill="#32fae6"/>
<rect x="108" y="438" width="19" height="7" fill="#32fae5"/>
<rect x="126" y="438" width="25" height="7" fill="#32fae4"/>
<rect x="150" y="438" width="19" height="7" fill="#32fae3"/>
<rect x="168" y="438" width="19" height="7" fill="#32fae2"/>
<rect x="186" y="438" width="19" height="7" fill="#32fae1"/>
<rect x="204" y="438" width="13" height="7" fill="#32fae0"/>
<rect x="216" y="438" width="13" height="7" fill="#32fadf"/>
<rect x="228" y="438" width="13" height="7" fill="#32fade"/>
<rect x="240" y="438" width="13" height="7" fill="#32fadd"/>
<rect x="252" y="438" width="7" height="7" fill="#3cfadd"/>
<rect x="258" y="438" width="7" height="7" fill="#4efadd"/>
<rect x="264" y="438" width="7" height="7" fill="#60fadd"/>
<rect x="270" y="438" width="7" height="7" fill="#72fadd"/>
<rect x="276" y="438" width="7" height="7" fill="#84fadd"/>
<rect x="282" y="438" width="7" height="7" fill="#95fadd"/>
<rect x="288" y="438" width="7" height="7" fill="#a5fadd"/>
<rect x="294" y="438" width="7" height="7" fill="#b5fadc"/>
<rect x="300" y="438" width="7" height="7" fill="#c5fadb"/>
<rect x="306" y="438" width="7" height="7" fill="#d3fad7"/>
<rect x="312" y="438" width="7" height="7" fill="#e7fad5"/>
<rect x="318" y="438" width="7" height="7" fill="#f2fad4"/>
<rect x="324" y="438" width="7" height="7" fill="#f9fad3"/>
<rect x="330" y="438" width="7" height="7" fill="#faf5c8"/>
<rect x="336" y="438" width="7" height="7" fill="#faeebc"/>
<rect x="342" y="438" width="7" height="7" fill="#fae7b1"/>
<rect x="348" y="438" width="7" height="7" fill="#fadfa7"/>
<rect x="354" y="438" width="7" height="7" fill="#fad79d"/>
<rect x="360" y="438" width="7" height="7" fill="#face93"/>
<rect x="366" y="438" width="7" height="7" fill="#fac68a"/>
<rect x="372" y="438" width="7" height="7" fill="#fabe82"/>
<rect x="378" y="438" width="7" height="7" fill="#fab77a"/>
<rect x="384" y="438" width="7" height="7" fill="#faaf72"/>
<rect x="390" y="438" width="7" height="7" fill="#faa86b"/>
<rect x="396" y="438" width="7" height="7" fill="#faa164"/>
<rect x="402" y="438" width="7" height="7" fill="#fa9a5e"/>
<rect x="408" y="438" width="7" height="7" fill="#fa9358"/>
<rect x="414" y="438" width="7" height="7" fill="#fa8d52"/>
<rect x="420" y="438" width="7" height="7" fill="#fa874d"/>
<rect x="426" y="438" width="7" height="7" fill="#fa8148"/>
<rect x="432" y="438" width="7" height="7" fill="#fa7c44"/>
<rect x="438" y="438" width="7" height="7" fill="#fa7740"/>
<rect x="444" y="438" width="7" height="7" fill="#fa733d"/>
<rect x="450" y="438" width="7" height="7" fill="#fa6e39"/>
<rect x="456" y="438" width="7" height="7" fill="#fa6a36"/>
<rect x="462" y="438" width="7" height="7" fill="#fa6633"/>
<rect x="468" y="438" width="7" height="7" fill="#fa6230"/>
<rect x="474" y="438" width="7" height="7" fill="#fa5f2d"/>
<rect x="480" y="438" width="7" height="7" fill="#fa5b2a"/>
<rect x="486" y="438" width="7" height="7" fill="#fa5828"/>
<rect x="492" y="438" width="7" height="7" fill="#fa5425"/>
<rect x="498" y="438" width="7" height="7" fill="#fa5123"/>
<rect x="504" y="438" width="7" height="7" fill="#fa4e21"/>
<rect x="510" y="438" width="7" height="7" fill="#fa4b1e"/>
<rect x="516" y="438" width="7" height="7" fill="#fa481c"/>
<rect x="522" y="438" width="7" height="7" fill="#fa461a"/>
<rect x="528" y="438" width="7" height="7" fill="#fa4319"/>
<rect x="534" y="438" width="7" height="7" fill="#fa3f19"/>
<rect x="540" y="438" width="7" height="7" fill="#fa3b19"/>
<rect x="546" y="438" width="7" height="7" fill="#fa3819"/>
<rect x="552" y="438" width="7" height="7" fill="#fa3519"/>
<rect x="558" y="438" width="7" height="7" fill="#fa3119"/>
<rect x="564" y="438" width="7" height="7" fill="#fa2e19"/>
<rect x="570" y="438" width="7" height="7" fill="#fa2b19"/>
<rect x="576" y="438" width="7" height="7" fill="#fa2819"/>
<rect x="582" y="438" width="7" height="7" fill="#fa2519"/>
<rect x="72" y="444" width="13" height="7" fill="#32faeb"/>
<rect x="84" y="444" width="37" height="7" fill="#32faea"/>
<rect x="120" y="444" width="25" height="7" fill="#32fae9"/>
<rect x="144" y="444" width="25" height="7" fill="#32fae8"/>
<rect x="168" y="444" width="25" height="7" fill="#32fae7"/>
<rect x="192" y="444" width="19" height="7" fill="#32fae6"/>
<rect x="210" y="444" width="19" height="7" fill="#32fae5"/>
<rect x="228" y="444" width="19" height="7" fill="#32fae4"/>
<rect x="246" y="444" width="7" height="7" fill="#32fae3"/>
<rect x="252" y="444" width="7" height="7" fill="#42fae3"/>
<rect x="258" y="444" width="7" height="7" fill="#54fae3"/>
<rect x="264" y="444" width="7" height="7" fill="#67fae4"/>
<rect x="270" y="444" width="7" height="7" fill="#79fae4"/>
<rect x="276" y="444" width="7" height="7" fill="#8afae4"/>
<rect x="282" y="444" width="7" height="7" fill="#9cfae4"/>
<rect x="288" y="444" width="7" height="7" fill="#adfae4"/>
<rect x="294" y="444" width="7" height="7" fill="#bdfae4"/>
<rect x="300" y="444" width="7" height="7" fill="#ccfae3"/>
<rect x="306" y="444" width="7" height="7" fill="#dbfae0"/>
<rect x="312" y="444" width="7" height="7" fill="#edfade"/>
<rect x="318" y="444" width="7" height="7" fill="#f7fadd"/>
<rect x="324" y="444" width="7" height="7" fill="#faf7d6"/>
<rect x="330" y="444" width="7" height="7" fill="#faf1ca"/>
<rect x="336" y="444" width="7" height="7" fill="#fae9be"/>
<rect x="342" y="444" width="7" height="7" fill="#fae0b3"/>
<rect x="348" y="444" width="7" height="7" fill="#fad8a8"/>
<rect x="354" y="444" width="7" height="7" fill="#facf9f"/>
<rect x="360" y="444" width="7" height="7" fill="#fac695"/>
<rect x="366" y="444" width="7" height="7" fill="#fabe8c"/>
<rect x="372" y="444" width="7" height="7" fill="#fab684"/>
<rect x="378" y="444" width="7" height="7" fill="#faae7c"/>
<rect x="384" y="444" width="7" height="7" fill="#faa674"/>
<rect x="390" y="444" width="7" height="7" fill="#fa9e6d"/>
<rect x="396" y="444" width="7" height="7" fill="#fa9766"/>
<rect x="402" y="444" width="7" height="7" fill="#fa9060"/>
<rect x="408" y="444" width="7" height="7" fill="#fa8959"/>
<rect x="414" y="444" width="7" height="7" fill="#fa8454"/>
<rect x="420" y="444" width="7" height="7" fill="#fa7e50"/>
<rect x="426" y="444" width="7" height="7" fill="#fa794b"/>
<rect x="432" y="444" width="7" height="7" fill="#fa7447"/>
<rect x="438" y="444" width="7" height="7" fill="#fa6f43"/>
<rect x="444" y="444" width="7" height="7" fill="#fa6b40"/>
<rect x="450" y="444" width="7" height="7" fill="#fa663c"/>
<rect x="456" y="444" width="7" height="7" fill="#fa6239"/>
<rect x="462" y="444" width="7" height="7" fill="#fa5e36"/>
<rect x="468" y="444" width="7" height="7" fill="#fa5a33"/>
<rect x="474" y="444" width="7" height="7" fill="#fa5730"/>
<rect x="480" y="444" width="7" height="7" fill="#fa532d"/>
<rect x="486" y="444" width="7" height="7" fill="#fa502a"/>
<rect x="492" y="444" width="7" height="7" fill="#fa4d28"/>
<rect x="498" y="444" width="7" height="7" fill="#fa4a25"/>
<rect x="504" y="444" width="7" height="7" fill="#fa4723"/>
<rect x="510" y="444" width="7" height="7" fill="#fa4421"/>
<rect x="516" y="444" width="7" height="7" fill="#fa411f"/>
<rect x="522" y="444" width="7" height="7" fill="#fa3f1d"/>
<rect x="528" y="444" width="7" height="7" fill="#fa3c1b"/>
<rect x="534" y="444" width="7" height="7" fill="#fa3a19"/>
<rect x="540" y="444" width="7" height="7" fill="#fa3619"/>
<rect x="546" y="444" width="7" height="7" fill="#fa3319"/>
<rect x="552" y="444" width="7" height="7" fill="#fa2f19"/>
<rect x="558" y="444" width="7" height="7" fill="#fa2c19"/>
<rect x="564" y="444" width="7" height="7" fill="#fa2919"/>
<rect x="570" y="444" width="7" height="7" fill="#fa2519"/>
<rect x="576" y="444" width="7" height="7" fill="#fa2219"/>
<rect x="582" y="444" width="7" height="7" fill="#fa1f19"/>
<rect x="588" y="444" width="7" height="7" fill="#fa1c19"/>
<rect x="78" y="450" width="19" height="7" fill="#32faef"/>
<rect x="96" y="450" width="43" height="7" fill="#32faee"/>
<rect x="138" y="450" width="37" height="7" fill="#32faed"/>
<rect x="174" y="450" width="31" height="7" fill="#32faec"/>
<rect x="204" y="450" width="25" height="7" fill="#32faeb"/>
<rect x="228" y="450" width="19" height="7" fill="#32faea"/>
<rect x="246" y="450" width="7" height="7" fill="#34faea"/>
<rect x="252" y="450" width="7" height="7" fill="#48faea"/>
<rect x="258" y="450" width="7" height="7" fill="#5bfaea"/>
<rect x="264" y="450" width="7" height="7" fill="#6dfaea"/>
<rect x="270" y="450" width="7" height="7" fill="#80faea"/>
<rect x="276" y="450" width="7" height="7" fill="#92faeb"/>
<rect x="282" y="450" width="7" height="7" fill="#a3faeb"/>
<rect x="288" y="450" width="7" height="7" fill="#b4faeb"/>
<rect x="294" y="450" width="7" height="7" fill="#c5faeb"/>
<rect x="300" y="450" width="7" height="7" fill="#d4faea"/>
<rect x="306" y="450" width="7" height="7" fill="#e2fae8"/>
<rect x="312" y="450" width="7" height="7" fill="#f3fae6"/>
<rect x="318" y="450" width="7" height="7" fill="#faf9e4"/>
<rect x="324" y="450" width="7" height="7" fill="#faf3d7"/>
<rect x="330" y="450" width="7" height="7" fill="#faebcb"/>
<rect x="336" y="450" width="7" height="7" fill="#fae2c0"/>
<rect x="342" y="450" width="7" height="7" fill="#fad9b5"/>
<rect x="348" y="450" width="7" height="7" fill="#facfaa"/>
<rect x="354" y="450" width="7" height="7" fill="#fac6a0"/>
<rect x="360" y="450" width="7" height="7" fill="#fabd97"/>
<rect x="366" y="450" width="7" height="7" fill="#fab48e"/>
<rect x="372" y="450" width="7" height="7" fill="#faab85"/>
<rect x="378" y="450" width="7" height="7" fill="#faa37d"/>
<rect x="384" y="450" width="7" height="7" fill="#fa9b76"/>
<rect x="390" y="450" width="7" height="7" fill="#fa936e"/>
<rect x="396" y="450" width="7" height="7" fill="#fa8c67"/>
<rect x="402" y="450" width="7" height="7" fill="#fa8662"/>
<rect x="408" y="450" width="7" height="7" fill="#fa805c"/>
<rect x="414" y="450" width="7" height="7" fill="#fa7a57"/>
<rect x="420" y="450" width="7" height="7" fill="#fa7553"/>
<rect x="426" y="450" width="7" height="7" fill="#fa6f4e"/>
<rect x="432" y="450" width="7" height="7" fill="#fa6b4a"/>
<rect x="438" y="450" width="7" height="7" fill="#fa6646"/>
<rect x="444" y="450" width="7" height="7" fill="#fa6242"/>
<rect x="450" y="450" width="7" height="7" fill="#fa5d3f"/>
<rect x="456" y="450" width="7" height="7" fill="#fa593b"/>
<rect x="462" y="450" width="7" height="7" fill="#fa5638"/>
<rect x="468" y="450" width="7" height="7" fill="#fa5235"/>
<rect x="474" y="450" width="7" height="7" fill="#fa4e32"/>
<rect x="480" y="450" width="7" height="7" fill="#fa4b2f"/>
<rect x="486" y="450" width="7" height="7" fill="#fa482d"/>
<rect x="492" y="450" width="7" height="7" fill="#fa452a"/>
<rect x="498" y="450" width="7" height="7" fill="#fa4228"/>
<rect x="504" y="450" width="7" height="7" fill="#fa3f25"/>
<rect x="510" y="450" width="7" height="7" fill="#fa3c23"/>
<rect x="516" y="450" width="7" height="7" fill="#fa3a21"/>
<rect x="522" y="450" width="7" height="7" fill="#fa371f"/>
<rect x="528" y="450" width="7" height="7" fill="#fa351d"/>
<rect x="534" y="450" width="7" height="7" fill="#fa331b"/>
<rect x="540" y="450" width="7" height="7" fill="#fa3019"/>
<rect x="546" y="450" width="7" height="7" fill="#fa2d19"/>
<rect x="552" y="450" width="7" height="7" fill="#fa2a19"/>
<rect x="558" y="450" width="7" height="7" fill="#fa2619"/>
<rect x="564" y="450" width="7" height="7" fill="#fa2319"/>
<rect x="570" y="450" width="7" height="7" fill="#fa2019"/>
<rect x="576" y="450" width="7" height="7" fill="#fa1d19"/>
<rect x="582" y="450" width="7" height="7" fill="#fa1a19"/>
<rect x="588" y="450" width="13" height="7" fill="#fa1919"/>
<rect x="78" y="456" width="55" height="7" fill="#32faf3"/>
<rect x="132" y="456" width="61" height="7" fill="#32faf2"/>
<rect x="192" y="456" width="43" height="7" fill="#32faf1"/>
<rect x="234" y="456" width="13" height="7" fill="#32faf0"/>
<rect x="246" y="456" width="7" height="7" fill="#3afaf0"/>
<rect x="252" y="456" width="7" height="7" fill="#4efaf0"/>
<rect x="258" y="456" width="7" height="7" fill="#61faf1"/>
<rect x="264" y="456" width="7" height="7" fill="#74faf1"/>
<rect x="270" y="456" width="7" height="7" fill="#87faf1"/>
<rect x="276" y="456" width="7" height="7" fill="#99faf1"/>
<rect x="282" y="456" width="7" height="7" fill="#abfaf1"/>
<rect x="288" y="456" width="7" height="7" fill="#bcfaf1"/>
<rect x="294" y="456" width="7" height="7" fill="#cdfaf1"/>
<rect x="300" y="456" width="7" height="7" fill="#dcfaf1"/>
<rect x="306" y="456" width="7" height="7" fill="#eafaf0"/>
<rect x="312" y="456" width="7" height="7" fill="#f8faee"/>
<rect x="318" y="456" width="7" height="7" fill="#faf5e5"/>
<rect x="324" y="456" width="7" height="7" fill="#faedd9"/>
<rect x="330" y="456" width="7" height="7" fill="#fae3cd"/>
<rect x="336" y="456" width="7" height="7" fill="#fad8c1"/>
<rect x="342" y="456" width="7" height="7" fill="#faceb6"/>
<rect x="348" y="456" width="7" height="7" fill="#fac4ac"/>
<rect x="354" y="456" width="7" height="7" fill="#fabaa2"/>
<rect x="360" y="456" width="7" height="7" fill="#fab198"/>
<rect x="366" y="456" width="7" height="7" fill="#faa78f"/>
<rect x="372" y="456" width="7" height="7" fill="#fa9f87"/>
<rect x="378" y="456" width="7" height="7" fill="#fa967f"/>
<rect x="384" y="456" width="7" height="7" fill="#fa8e77"/>
<rect x="390" y="456" width="7" height="7" fill="#fa8770"/>
<rect x="396" y="456" width="7" height="7" fill="#fa816a"/>
<rect x="402" y="456" width="7" height="7" fill="#fa7a64"/>
<rect x="408" y="456" width="7" height="7" fill="#fa755f"/>
<rect x="414" y="456" width="7" height="7" fill="#fa6f5a"/>
<rect x="420" y="456" width="7" height="7" fill="#fa6a55"/>
<rect x="426" y="456" width="7" height="7" fill="#fa6551"/>
<rect x="432" y="456" width="7" height="7" fill="#fa604d"/>
<rect x="438" y="456" width="7" height="7" fill="#fa5c49"/>
<rect x="444" y="456" width="7" height="7" fill="#fa5845"/>
<rect x="450" y="456" width="7" height="7" fill="#fa5442"/>
<rect x="456" y="456" width="7" height="7" fill="#fa503e"/>
<rect x="462" y="456" width="7" height="7" fill="#fa4c3b"/>
<rect x="468" y="456" width="7" height="7" fill="#fa4938"/>
<rect x="474" y="456" width="7" height="7" fill="#fa4635"/>
<rect x="480" y="456" width="7" height="7" fill="#fa4232"/>
<rect x="486" y="456" width="7" height="7" fill="#fa3f2f"/>
<rect x="492" y="456" width="7" height="7" fill="#fa3c2d"/>
<rect x="498" y="456" width="7" height="7" fill="#fa3a2a"/>
<rect x="504" y="456" width="7" height="7" fill="#fa3728"/>
<rect x="510" y="456" width="7" height="7" fill="#fa3426"/>
<rect x="516" y="456" width="7" height="7" fill="#fa3223"/>
<rect x="522" y="456" width="7" height="7" fill="#fa3021"/>
<rect x="528" y="456" width="7" height="7" fill="#fa2d1f"/>
<rect x="534" y="456" width="7" height="7" fill="#fa2b1d"/>
<rect x="540" y="456" width="7" height="7" fill="#fa291c"/>
<rect x="546" y="456" width="7" height="7" fill="#fa271a"/>
<rect x="552" y="456" width="7" height="7" fill="#fa2419"/>
<rect x="558" y="456" width="7" height="7" fill="#fa2119"/>
<rect x="564" y="456" width="7" height="7" fill="#fa1e19"/>
<rect x="570" y="456" width="7" height="7" fill="#fa1a19"/>
<rect x="576" y="456" width="31" height="7" fill="#fa1919"/>
<rect x="78" y="462" width="169" height="7" fill="#32faf7"/>
<rect x="246" y="462" width="7" height="7" fill="#40faf7"/>
<rect x="252" y="462" width="7" height="7" fill="#54faf7"/>
<rect x="258" y="462" width="7" height="7" fill="#68faf7"/>
<rect x="264" y="462" width="7" height="7" fill="#7bfaf7"/>
<rect x="270" y="462" width="7" height="7" fill="#8ffaf7"/>
<rect x="276" y="462" width="7" height="7" fill="#a1faf7"/>
<rect x="282" y="462" width="7" height="7" fill="#b3faf7"/>
<rect x="288" y="462" width="7" height="7" fill="#c4faf7"/>
<rect x="294" y="462" width="7" height="7" fill="#d5faf7"/>
<rect x="300" y="462" width="7" height="7" fill="#e4faf8"/>
<rect x="306" y="462" width="7" height="7" fill="#f2faf7"/>
<rect x="312" y="462" width="7" height="7" fill="#faf8f2"/>
<rect x="318" y="462" width="7" height="7" fill="#faede6"/>
<rect x="324" y="462" width="7" height="7" fill="#fae2da"/>
<rect x="330" y="462" width="7" height="7" fill="#fad6ce"/>
<rect x="336" y="462" width="7" height="7" fill="#facbc2"/>
<rect x="342" y="462" width="7" height="7" fill="#fac0b7"/>
<rect x="348" y="462" width="7" height="7" fill="#fab5ad"/>
<rect x="354" y="462" width="7" height="7" fill="#faaba3"/>
<rect x="360" y="462" width="7" height="7" fill="#faa199"/>
<rect x="366" y="462" width="7" height="7" fill="#fa9890"/>
<rect x="372" y="462" width="7" height="7" fill="#fa8f88"/>
<rect x="378" y="462" width="7" height="7" fill="#fa8780"/>
<rect x="384" y="462" width="7" height="7" fill="#fa8079"/>
<rect x="390" y="462" width="7" height="7" fill="#fa7a73"/>
<rect x="396" y="462" width="7" height="7" fill="#fa746d"/>
<rect x="402" y="462" width="7" height="7" fill="#fa6e67"/>
<rect x="408" y="462" width="7" height="7" fill="#fa6862"/>
<rect x="414" y="462" width="7" height="7" fill="#fa635d"/>
<rect x="420" y="462" width="7" height="7" fill="#fa5e58"/>
<rect x="426" y="462" width="7" height="7" fill="#fa5a54"/>
<rect x="432" y="462" width="7" height="7" fill="#fa5550"/>
<rect x="438" y="462" width="7" height="7" fill="#fa514c"/>
<rect x="444" y="462" width="7" height="7" fill="#fa4d48"/>
<rect x="450" y="462" width="7" height="7" fill="#fa4944"/>
<rect x="456" y="462" width="7" height="7" fill="#fa4641"/>
<rect x="462" y="462" width="7" height="7" fill="#fa423d"/>
<rect x="468" y="462" width="7" height="7" fill="#fa3f3a"/>
<rect x="474" y="462" width="7" height="7" fill="#fa3c37"/>
<rect x="480" y="462" width="7" height="7" fill="#fa3935"/>
<rect x="486" y="462" width="7" height="7" fill="#fa3632"/>
<rect x="492" y="462" width="7" height="7" fill="#fa332f"/>
<rect x="498" y="462" width="7" height="7" fill="#fa312d"/>
<rect x="504" y="462" width="7" height="7" fill="#fa2e2a"/>
<rect x="510" y="462" width="7" height="7" fill="#fa2c28"/>
<rect x="516" y="462" width="7" height="7" fill="#fa2926"/>
<rect x="522" y="462" width="7" height="7" fill="#fa2724"/>
<rect x="528" y="462" width="7" height="7" fill="#fa2522"/>
<rect x="534" y="462" width="7" height="7" fill="#fa2320"/>
<rect x="540" y="462" width="7" height="7" fill="#fa211e"/>
<rect x="546" y="462" width="7" height="7" fill="#fa1f1c"/>
<rect x="552" y="462" width="7" height="7" fill="#fa1d1a"/>
<rect x="558" y="462" width="7" height="7" fill="#fa1b19"/>
<rect x="564" y="462" width="49" height="7" fill="#fa1919"/>
<rect x="78" y="468" width="37" height="7" fill="#32f8fa"/>
<rect x="114" y="468" width="67" height="7" fill="#31f8fa"/>
<rect x="180" y="468" width="67" height="7" fill="#31f7fa"/>
<rect x="246" y="468" width="7" height="7" fill="#45f7fa"/>
<rect x="252" y="468" width="7" height="7" fill="#59f7fa"/>
<rect x="258" y="468" width="7" height="7" fill="#6df7fa"/>
<rect x="264" y="468" width="7" height="7" fill="#80f7fa"/>
<rect x="270" y="468" width="7" height="7" fill="#93f7fa"/>
<rect x="276" y="468" width="7" height="7" fill="#a6f7fa"/>
<rect x="282" y="468" width="7" height="7" fill="#b8f7fa"/>
<rect x="288" y="468" width="7" height="7" fill="#c9f7fa"/>
<rect x="294" y="468" width="7" height="7" fill="#d9f7fa"/>
<rect x="300" y="468" width="7" height="7" fill="#e7f7fa"/>
<rect x="306" y="468" width="7" height="7" fill="#f5f6fa"/>
<rect x="312" y="468" width="7" height="7" fill="#faeef6"/>
<rect x="318" y="468" width="7" height="7" fill="#fae2eb"/>
<rect x="324" y="468" width="7" height="7" fill="#fad5e0"/>
<rect x="330" y="468" width="7" height="7" fill="#fac9d4"/>
<rect x="336" y="468" width="7" height="7" fill="#fabec9"/>
<rect x="342" y="468" width="7" height="7" fill="#fab3be"/>
<rect x="348" y="468" width="7" height="7" fill="#faa8b4"/>
<rect x="354" y="468" width="7" height="7" fill="#fa9eaa"/>
<rect x="360" y="468" width="7" height="7" fill="#fa95a0"/>
<rect x="366" y="468" width="7" height="7" fill="#fa8c97"/>
<rect x="372" y="468" width="7" height="7" fill="#fa848f"/>
<rect x="378" y="468" width="7" height="7" fill="#fa7d88"/>
<rect x="384" y="468" width="7" height="7" fill="#fa7681"/>
<rect x="390" y="468" width="7" height="7" fill="#fa707a"/>
<rect x="396" y="468" width="7" height="7" fill="#fa6a74"/>
<rect x="402" y="468" width="7" height="7" fill="#fa656f"/>
<rect x="408" y="468" width="7" height="7" fill="#fa6069"/>
<rect x="414" y="468" width="7" height="7" fill="#fa5b64"/>
<rect x="420" y="468" width="7" height="7" fill="#fa565f"/>
<rect x="426" y="468" width="7" height="7" fill="#fa525b"/>
<rect x="432" y="468" width="7" height="7" fill="#fa4d57"/>
<rect x="438" y="468" width="7" height="7" fill="#fa4a52"/>
<rect x="444" y="468" width="7" height="7" fill="#fa464f"/>
<rect x="450" y="468" width="7" height="7" fill="#fa424b"/>
<rect x="456" y="468" width="7" height="7" fill="#fa3f47"/>
<rect x="462" y="468" width="7" height="7" fill="#fa3c44"/>
<rect x="468" y="468" width="7" height="7" fill="#fa3941"/>
<rect x="474" y="468" width="7" height="7" fill="#fa363e"/>
<rect x="480" y="468" width="7" height="7" fill="#fa333b"/>
<rect x="486" y="468" width="7" height="7" fill="#fa3038"/>
<rect x="492" y="468" width="7" height="7" fill="#fa2e35"/>
<rect x="498" y="468" width="7" height="7" fill="#fa2b33"/>
<rect x="504" y="468" width="7" height="7" fill="#fa2930"/>
<rect x="510" y="468" width="7" height="7" fill="#fa262e"/>
<rect x="516" y="468" width="7" height="7" fill="#fa242b"/>
<rect x="522" y="468" width="7" height="7" fill="#fa2229"/>
<rect x="528" y="468" width="7" height="7" fill="#fa2027"/>
<rect x="534" y="468" width="7" height="7" fill="#fa1e25"/>
<rect x="540" y="468" width="7" height="7" fill="#fa1c23"/>
<rect x="546" y="468" width="7" height="7" fill="#fa1a21"/>
<rect x="552" y="468" width="7" height="7" fill="#fa191f"/>
<rect x="558" y="468" width="7" height="7" fill="#fa191c"/>
<rect x="564" y="468" width="55" height="7" fill="#fa1919"/>
<rect x="78" y="474" width="25" height="7" fill="#31f4fa"/>
<rect x="102" y="474" width="31" height="7" fill="#30f4fa"/>
<rect x="132" y="474" width="49" height="7" fill="#30f3fa"/>
<rect x="180" y="474" width="43" height="7" fill="#30f2fa"/>
<rect x="222" y="474" width="19" height="7" fill="#30f1fa"/>
<rect x="240" y="474" width="7" height="7" fill="#34f1fa"/>
<rect x="246" y="474" width="7" height="7" fill="#48f1fa"/>
<rect x="252" y="474" width="7" height="7" fill="#5cf1fa"/>
<rect x="258" y="474" width="7" height="7" fill="#6ff1fa"/>
<rect x="264" y="474" width="7" height="7" fill="#83f1fa"/>
<rect x="270" y="474" width="7" height="7" fill="#95f1fa"/>
<rect x="276" y="474" width="7" height="7" fill="#a7f1fa"/>
<rect x="282" y="474" width="7" height="7" fill="#b8f2fa"/>
<rect x="288" y="474" width="7" height="7" fill="#c9f2fa"/>
<rect x="294" y="474" width="7" height="7" fill="#d9f1fa"/>
<rect x="300" y="474" width="7" height="7" fill="#e7f0fa"/>
<rect x="306" y="474" width="7" height="7" fill="#f5edfa"/>
<rect x="312" y="474" width="7" height="7" fill="#fae6f7"/>
<rect x="318" y="474" width="7" height="7" fill="#fad9ef"/>
<rect x="324" y="474" width="7" height="7" fill="#facde5"/>
<rect x="330" y="474" width="7" height="7" fill="#fac1db"/>
<rect x="336" y="474" width="7" height="7" fill="#fab6d0"/>
<rect x="342" y="474" width="7" height="7" fill="#faabc6"/>
<rect x="348" y="474" width="7" height="7" fill="#faa1bc"/>
<rect x="354" y="474" width="7" height="7" fill="#fa97b3"/>
<rect x="360" y="474" width="7" height="7" fill="#fa8eaa"/>
<rect x="366" y="474" width="7" height="7" fill="#fa86a1"/>
<rect x="372" y="474" width="7" height="7" fill="#fa7e99"/>
<rect x="378" y="474" width="7" height="7" fill="#fa7691"/>
<rect x="384" y="474" width="7" height="7" fill="#fa708a"/>
<rect x="390" y="474" width="7" height="7" fill="#fa6a84"/>
<rect x="396" y="474" width="7" height="7" fill="#fa647d"/>
<rect x="402" y="474" width="7" height="7" fill="#fa5f78"/>
<rect x="408" y="474" width="7" height="7" fill="#fa5a72"/>
<rect x="414" y="474" width="7" height="7" fill="#fa556d"/>
<rect x="420" y="474" width="7" height="7" fill="#fa5168"/>
<rect x="426" y="474" width="7" height="7" fill="#fa4d63"/>
<rect x="432" y="474" width="7" height="7" fill="#fa495f"/>
<rect x="438" y="474" width="7" height="7" fill="#fa455b"/>
<rect x="444" y="474" width="7" height="7" fill="#fa4157"/>
<rect x="450" y="474" width="7" height="7" fill="#fa3e53"/>
<rect x="456" y="474" width="7" height="7" fill="#fa3a4f"/>
<rect x="462" y="474" width="7" height="7" fill="#fa374c"/>
<rect x="468" y="474" width="7" height="7" fill="#fa3448"/>
<rect x="474" y="474" width="7" height="7" fill="#fa3145"/>
<rect x="480" y="474" width="7" height="7" fill="#fa2f42"/>
<rect x="486" y="474" width="7" height="7" fill="#fa2c3f"/>
<rect x="492" y="474" width="7" height="7" fill="#fa2a3c"/>
<rect x="498" y="474" width="7" height="7" fill="#fa273a"/>
<rect x="504" y="474" width="7" height="7" fill="#fa2537"/>
<rect x="510" y="474" width="7" height="7" fill="#fa2335"/>
<rect x="516" y="474" width="7" height="7" fill="#fa2132"/>
<rect x="522" y="474" width="7" height="7" fill="#fa1f30"/>
<rect x="528" y="474" width="7" height="7" fill="#fa1d2e"/>
<rect x="534" y="474" width="7" height="7" fill="#fa1b2c"/>
<rect x="540" y="474" width="7" height="7" fill="#fa192a"/>
<rect x="546" y="474" width="7" height="7" fill="#fa1926"/>
<rect x="552" y="474" width="7" height="7" fill="#fa1923"/>
<rect x="558" y="474" width="7" height="7" fill="#fa1920"/>
<rect x="564" y="474" width="7" height="7" fill="#fa191d"/>
<rect x="570" y="474" width="7" height="7" fill="#fa191a"/>
<rect x="576" y="474" width="49" height="7" fill="#fa1919"/>
<rect x="84" y="480" width="19" height="7" fill="#30f0fa"/>
<rect x="102" y="480" width="13" height="7" fill="#2ff0fa"/>
<rect x="114" y="480" width="37" height="7" fill="#2feffa"/>
<rect x="150" y="480" width="31" height="7" fill="#2feefa"/>
<rect x="180" y="480" width="25" height="7" fill="#2fedfa"/>
<rect x="204" y="480" width="19" height="7" fill="#2fecfa"/>
<rect x="222" y="480" width="7" height="7" fill="#2eecfa"/>
<rect x="228" y="480" width="13" height="7" fill="#2eebfa"/>
<rect x="240" y="480" width="7" height="7" fill="#38ebfa"/>
<rect x="246" y="480" width="7" height="7" fill="#4cebfa"/>
<rect x="252" y="480" width="7" height="7" fill="#5febfa"/>
<rect x="258" y="480" width="7" height="7" fill="#72ebfa"/>
<rect x="264" y="480" width="7" height="7" fill="#85ebfa"/>
<rect x="270" y="480" width="7" height="7" fill="#97ebfa"/>
<rect x="276" y="480" width="7" height="7" fill="#a8ebfa"/>
<rect x="282" y="480" width="7" height="7" fill="#b9ebfa"/>
<rect x="288" y="480" width="7" height="7" fill="#c9ebfa"/>
<rect x="294" y="480" width="7" height="7" fill="#d9e9fa"/>
<rect x="300" y="480" width="7" height="7" fill="#e7e5fa"/>
<rect x="306" y="480" width="7" height="7" fill="#f4e4fa"/>
<rect x="312" y="480" width="7" height="7" fill="#fadef7"/>
<rect x="318" y="480" width="7" height="7" fill="#fad1f0"/>
<rect x="324" y="480" width="7" height="7" fill="#fac5e8"/>
<rect x="330" y="480" width="7" height="7" fill="#fab9de"/>
<rect x="336" y="480" width="7" height="7" fill="#faaed5"/>
<rect x="342" y="480" width="7" height="7" fill="#faa4cc"/>
<rect x="348" y="480" width="7" height="7" fill="#fa9ac2"/>
<rect x="354" y="480" width="7" height="7" fill="#fa91b9"/>
<rect x="360" y="480" width="7" height="7" fill="#fa88b1"/>
<rect x="366" y="480" width="7" height="7" fill="#fa80a8"/>
<rect x="372" y="480" width="7" height="7" fill="#fa78a0"/>
<rect x="378" y="480" width="7" height="7" fill="#fa7099"/>
<rect x="384" y="480" width="7" height="7" fill="#fa6a91"/>
<rect x="390" y="480" width="7" height="7" fill="#fa648b"/>
<rect x="396" y="480" width="7" height="7" fill="#fa5e85"/>
<rect x="402" y="480" width="7" height="7" fill="#fa597f"/>
<rect x="408" y="480" width="7" height="7" fill="#fa547a"/>
<rect x="414" y="480" width="7" height="7" fill="#fa5074"/>
<rect x="420" y="480" width="7" height="7" fill="#fa4c6f"/>
<rect x="426" y="480" width="7" height="7" fill="#fa476b"/>
<rect x="432" y="480" width="7" height="7" fill="#fa4466"/>
<rect x="438" y="480" width="7" height="7" fill="#fa4062"/>
<rect x="444" y="480" width="7" height="7" fill="#fa3c5e"/>
<rect x="450" y="480" width="7" height="7" fill="#fa395a"/>
<rect x="456" y="480" width="7" height="7" fill="#fa3656"/>
<rect x="462" y="480" width="7" height="7" fill="#fa3353"/>
<rect x="468" y="480" width="7" height="7" fill="#fa304f"/>
<rect x="474" y="480" width="7" height="7" fill="#fa2d4c"/>
<rect x="480" y="480" width="7" height="7" fill="#fa2b49"/>
<rect x="486" y="480" width="7" height="7" fill="#fa2846"/>
<rect x="492" y="480" width="7" height="7" fill="#fa2643"/>
<rect x="498" y="480" width="7" height="7" fill="#fa2440"/>
<rect x="504" y="480" width="7" height="7" fill="#fa213e"/>
<rect x="510" y="480" width="7" height="7" fill="#fa1f3b"/>
<rect x="516" y="480" width="7" height="7" fill="#fa1d39"/>
<rect x="522" y="480" width="7" height="7" fill="#fa1b36"/>
<rect x="528" y="480" width="7" height="7" fill="#fa1934"/>
<rect x="534" y="480" width="7" height="7" fill="#fa1931"/>
<rect x="540" y="480" width="7" height="7" fill="#fa192d"/>
<rect x="546" y="480" width="7" height="7" fill="#fa192a"/>
<rect x="552" y="480" width="7" height="7" fill="#fa1927"/>
<rect x="558" y="480" width="7" height="7" fill="#fa1924"/>
<rect x="564" y="480" width="7" height="7" fill="#fa1920"/>
<rect x="570" y="480" width="7" height="7" fill="#fa191d"/>
<rect x="576" y="480" width="7" height="7" fill="#fa191a"/>
<rect x="582" y="480" width="49" height="7" fill="#fa1919"/>
<rect x="84" y="486" width="13" height="7" fill="#2fecfa"/>
<rect x="96" y="486" width="7" height="7" fill="#2eecfa"/>
<rect x="102" y="486" width="31" height="7" fill="#2eebfa"/>
<rect x="132" y="486" width="25" height="7" fill="#2eeafa"/>
<rect x="156" y="486" width="19" height="7" fill="#2ee9fa"/>
<rect x="174" y="486" width="19" height="7" fill="#2ee8fa"/>
<rect x="192" y="486" width="7" height="7" fill="#2de8fa"/>
<rect x="198" y="486" width="19" height="7" fill="#2de7fa"/>
<rect x="216" y="486" width="13" height="7" fill="#2de6fa"/>
<rect x="228" y="486" width="13" height="7" fill="#2de5fa"/>
<rect x="240" y="486" width="7" height="7" fill="#3ce5fa"/>
<rect x="246" y="486" width="7" height="7" fill="#4fe5fa"/>
<rect x="252" y="486" width="7" height="7" fill="#62e5fa"/>
<rect x="258" y="486" width="7" height="7" fill="#74e5fa"/>
<rect x="264" y="486" width="7" height="7" fill="#87e5fa"/>
<rect x="270" y="486" width="7" height="7" fill="#98e5fa"/>
<rect x="276" y="486" width="7" height="7" fill="#a9e5fa"/>
<rect x="282" y="486" width="7" height="7" fill="#bae4fa"/>
<rect x="288" y="486" width="7" height="7" fill="#cae3fa"/>
<rect x="294" y="486" width="7" height="7" fill="#d9dffa"/>
<rect x="300" y="486" width="7" height="7" fill="#e8dcfa"/>
<rect x="306" y="486" width="7" height="7" fill="#f4dbfa"/>
<rect x="312" y="486" width="7" height="7" fill="#fad5f8"/>
<rect x="318" y="486" width="7" height="7" fill="#fac8f1"/>
<rect x="324" y="486" width="7" height="7" fill="#fabce9"/>
<rect x="330" y="486" width="7" height="7" fill="#fab1e1"/>
<rect x="336" y="486" width="7" height="7" fill="#faa6d8"/>
<rect x="342" y="486" width="7" height="7" fill="#fa9cd0"/>
<rect x="348" y="486" width="7" height="7" fill="#fa93c7"/>
<rect x="354" y="486" width="7" height="7" fill="#fa8abe"/>
<rect x="360" y="486" width="7" height="7" fill="#fa81b6"/>
<rect x="366" y="486" width="7" height="7" fill="#fa79ae"/>
<rect x="372" y="486" width="7" height="7" fill="#fa72a6"/>
<rect x="378" y="486" width="7" height="7" fill="#fa6a9f"/>
<rect x="384" y="486" width="7" height="7" fill="#fa6498"/>
<rect x="390" y="486" width="7" height="7" fill="#fa5e91"/>
<rect x="396" y="486" width="7" height="7" fill="#fa598b"/>
<rect x="402" y="486" width="7" height="7" fill="#fa5485"/>
<rect x="408" y="486" width="7" height="7" fill="#fa4f80"/>
<rect x="414" y="486" width="7" height="7" fill="#fa4b7b"/>
<rect x="420" y="486" width="7" height="7" fill="#fa4676"/>
<rect x="426" y="486" width="7" height="7" fill="#fa4271"/>
<rect x="432" y="486" width="7" height="7" fill="#fa3f6d"/>
<rect x="438" y="486" width="7" height="7" fill="#fa3b68"/>
<rect x="444" y="486" width="7" height="7" fill="#fa3864"/>
<rect x="450" y="486" width="7" height="7" fill="#fa3560"/>
<rect x="456" y="486" width="7" height="7" fill="#fa325c"/>
<rect x="462" y="486" width="7" height="7" fill="#fa2f59"/>
<rect x="468" y="486" width="7" height="7" fill="#fa2c55"/>
<rect x="474" y="486" width="7" height="7" fill="#fa2952"/>
<rect x="480" y="486" width="7" height="7" fill="#fa274f"/>
<rect x="486" y="486" width="7" height="7" fill="#fa244c"/>
<rect x="492" y="486" width="7" height="7" fill="#fa2249"/>
<rect x="498" y="486" width="7" height="7" fill="#fa2046"/>
<rect x="504" y="486" width="7" height="7" fill="#fa1e43"/>
<rect x="510" y="486" width="7" height="7" fill="#fa1c41"/>
<rect x="516" y="486" width="7" height="7" fill="#fa1a3e"/>
<rect x="522" y="486" width="7" height="7" fill="#fa193b"/>
<rect x="528" y="486" width="7" height="7" fill="#fa1938"/>
<rect x="534" y="486" width="7" height="7" fill="#fa1934"/>
<rect x="540" y="486" width="7" height="7" fill="#fa1931"/>
<rect x="546" y="486" width="7" height="7" fill="#fa192e"/>
<rect x="552" y="486" width="7" height="7" fill="#fa192a"/>
<rect x="558" y="486" width="7" height="7" fill="#fa1927"/>
<rect x="564" y="486" width="7" height="7" fill="#fa1924"/>
<rect x="570" y="486" width="7" height="7" fill="#fa1921"/>
<rect x="576" y="486" width="7" height="7" fill="#fa191e"/>
<rect x="582" y="486" width="7" height="7" fill="#fa191b"/>
<rect x="588" y="486" width="49" height="7" fill="#fa1919"/>
<rect x="84" y="492" width="13" height="7" fill="#2ee8fa"/>
<rect x="96" y="492" width="25" height="7" fill="#2de7fa"/>
<rect x="120" y="492" width="19" height="7" fill="#2de6fa"/>
<rect x="138" y="492" width="19" height="7" fill="#2de5fa"/>
<rect x="156" y="492" width="19" height="7" fill="#2de4fa"/>
<rect x="174" y="492" width="19" height="7" fill="#2de3fa"/>
<rect x="192" y="492" width="13" height="7" fill="#2de2fa"/>
<rect x="204" y="492" width="13" height="7" fill="#2de1fa"/>
<rect x="216" y="492" width="13" height="7" fill="#2de0fa"/>
<rect x="228" y="492" width="7" height="7" fill="#2ddffa"/>
<rect x="234" y="492" width="7" height="7" fill="#2edffa"/>
<rect x="240" y="492" width="7" height="7" fill="#41dffa"/>
<rect x="246" y="492" width="7" height="7" fill="#53dffa"/>
<rect x="252" y="492" width="7" height="7" fill="#66dffa"/>
<rect x="258" y="492" width="7" height="7" fill="#78dffa"/>
<rect x="264" y="492" width="7" height="7" fill="#89dffa"/>
<rect x="270" y="492" width="7" height="7" fill="#9adefa"/>
<rect x="276" y="492" width="7" height="7" fill="#abdefa"/>
<rect x="282" y="492" width="7" height="7" fill="#bbdcfa"/>
<rect x="288" y="492" width="7" height="7" fill="#cbd9fa"/>
<rect x="294" y="492" width="7" height="7" fill="#dad4fa"/>
<rect x="300" y="492" width="7" height="7" fill="#e8d3fa"/>
<rect x="306" y="492" width="7" height="7" fill="#f3d2fa"/>
<rect x="312" y="492" width="7" height="7" fill="#faccf8"/>
<rect x="318" y="492" width="7" height="7" fill="#fac0f2"/>
<rect x="324" y="492" width="7" height="7" fill="#fab4ea"/>
<rect x="330" y="492" width="7" height="7" fill="#faa9e3"/>
<rect x="336" y="492" width="7" height="7" fill="#fa9fdb"/>
<rect x="342" y="492" width="7" height="7" fill="#fa95d2"/>
<rect x="348" y="492" width="7" height="7" fill="#fa8cca"/>
<rect x="354" y="492" width="7" height="7" fill="#fa83c2"/>
<rect x="360" y="492" width="7" height="7" fill="#fa7bba"/>
<rect x="366" y="492" width="7" height="7" fill="#fa73b3"/>
<rect x="372" y="492" width="7" height="7" fill="#fa6cab"/>
<rect x="378" y="492" width="7" height="7" fill="#fa65a4"/>
<rect x="384" y="492" width="7" height="7" fill="#fa5e9d"/>
<rect x="390" y="492" width="7" height="7" fill="#fa5896"/>
<rect x="396" y="492" width="7" height="7" fill="#fa5390"/>
<rect x="402" y="492" width="7" height="7" fill="#fa4e8b"/>
<rect x="408" y="492" width="7" height="7" fill="#fa4985"/>
<rect x="414" y="492" width="7" height="7" fill="#fa4580"/>
<rect x="420" y="492" width="7" height="7" fill="#fa417b"/>
<rect x="426" y="492" width="7" height="7" fill="#fa3d77"/>
<rect x="432" y="492" width="7" height="7" fill="#fa3a72"/>
<rect x="438" y="492" width="7" height="7" fill="#fa366e"/>
<rect x="444" y="492" width="7" height="7" fill="#fa336a"/>
<rect x="450" y="492" width="7" height="7" fill="#fa3066"/>
<rect x="456" y="492" width="7" height="7" fill="#fa2d62"/>
<rect x="462" y="492" width="7" height="7" fill="#fa2a5e"/>
<rect x="468" y="492" width="7" height="7" fill="#fa285b"/>
<rect x="474" y="492" width="7" height="7" fill="#fa2558"/>
<rect x="480" y="492" width="7" height="7" fill="#fa2354"/>
<rect x="486" y="492" width="7" height="7" fill="#fa2151"/>
<rect x="492" y="492" width="7" height="7" fill="#fa1e4e"/>
<rect x="498" y="492" width="7" height="7" fill="#fa1c4b"/>
<rect x="504" y="492" width="7" height="7" fill="#fa1a49"/>
<rect x="510" y="492" width="7" height="7" fill="#fa1946"/>
<rect x="516" y="492" width="7" height="7" fill="#fa1942"/>
<rect x="522" y="492" width="7" height="7" fill="#fa193f"/>
<rect x="528" y="492" width="7" height="7" fill="#fa193b"/>
<rect x="534" y="492" width="7" height="7" fill="#fa1938"/>
<rect x="540" y="492" width="7" height="7" fill="#fa1934"/>
<rect x="546" y="492" width="7" height="7" fill="#fa1931"/>
<rect x="552" y="492" width="7" height="7" fill="#fa192e"/>
<rect x="558" y="492" width="7" height="7" fill="#fa192b"/>
<rect x="564" y="492" width="7" height="7" fill="#fa1928"/>
<rect x="570" y="492" width="7" height="7" fill="#fa1925"/>
<rect x="576" y="492" width="7" height="7" fill="#fa1922"/>
<rect x="582" y="492" width="7" height="7" fill="#fa191f"/>
<rect x="588" y="492" width="7" height="7" fill="#fa191c"/>
<rect x="594" y="492" width="49" height="7" fill="#fa1919"/>
<rect x="84" y="498" width="7" height="7" fill="#2de4fa"/>
<rect x="90" y="498" width="19" height="7" fill="#2de3fa"/>
<rect x="108" y="498" width="19" height="7" fill="#2de2fa"/>
<rect x="126" y="498" width="19" height="7" fill="#2de1fa"/>
<rect x="144" y="498" width="13" height="7" fill="#2de0fa"/>
<rect x="156" y="498" width="19" height="7" fill="#2ddffa"/>
<rect x="174" y="498" width="13" height="7" fill="#2ddefa"/>
<rect x="186" y="498" width="13" height="7" fill="#2dddfa"/>
<rect x="198" y="498" width="13" height="7" fill="#2ddcfa"/>
<rect x="210" y="498" width="13" height="7" fill="#2ddbfa"/>
<rect x="222" y="498" width="7" height="7" fill="#2ddafa"/>
<rect x="228" y="498" width="7" height="7" fill="#2dd9fa"/>
<rect x="234" y="498" width="7" height="7" fill="#33d9fa"/>
<rect x="240" y="498" width="7" height="7" fill="#45d9fa"/>
<rect x="246" y="498" width="7" height="7" fill="#57d9fa"/>
<rect x="252" y="498" width="7" height="7" fill="#69d9fa"/>
<rect x="258" y="498" width="7" height="7" fill="#7bd8fa"/>
<rect x="264" y="498" width="7" height="7" fill="#8cd8fa"/>
<rect x="270" y="498" width="7" height="7" fill="#9cd7fa"/>
<rect x="276" y="498" width="7" height="7" fill="#add6fa"/>
<rect x="282" y="498" width="7" height="7" fill="#bcd3fa"/>
<rect x="288" y="498" width="7" height="7" fill="#cbccfa"/>
<rect x="294" y="498" width="7" height="7" fill="#dacbfa"/>
<rect x="300" y="498" width="7" height="7" fill="#e7c9fa"/>
<rect x="306" y="498" width="7" height="7" fill="#f3c8fa"/>
<rect x="312" y="498" width="7" height="7" fill="#fac3f8"/>
<rect x="318" y="498" width="7" height="7" fill="#fab7f2"/>
<rect x="324" y="498" width="7" height="7" fill="#faaceb"/>
<rect x="330" y="498" width="7" height="7" fill="#faa1e4"/>
<rect x="336" y="498" width="7" height="7" fill="#fa97dc"/>
<rect x="342" y="498" width="7" height="7" fill="#fa8dd5"/>
<rect x="348" y="498" width="7" height="7" fill="#fa84cd"/>
<rect x="354" y="498" width="7" height="7" fill="#fa7cc5"/>
<rect x="360" y="498" width="7" height="7" fill="#fa74be"/>
<rect x="366" y="498" width="7" height="7" fill="#fa6db6"/>
<rect x="372" y="498" width="7" height="7" fill="#fa66af"/>
<rect x="378" y="498" width="7" height="7" fill="#fa5fa8"/>
<rect x="384" y="498" width="7" height="7" fill="#fa58a2"/>
<rect x="390" y="498" width="7" height="7" fill="#fa529b"/>
<rect x="396" y="498" width="7" height="7" fill="#fa4d95"/>
<rect x="402" y="498" width="7" height="7" fill="#fa488f"/>
<rect x="408" y="498" width="7" height="7" fill="#fa448a"/>
<rect x="414" y="498" width="7" height="7" fill="#fa4085"/>
<rect x="420" y="498" width="7" height="7" fill="#fa3c80"/>
<rect x="426" y="498" width="7" height="7" fill="#fa387c"/>
<rect x="432" y="498" width="7" height="7" fill="#fa3577"/>
<rect x="438" y="498" width="7" height="7" fill="#fa3273"/>
<rect x="444" y="498" width="7" height="7" fill="#fa2f6f"/>
<rect x="450" y="498" width="7" height="7" fill="#fa2c6b"/>
<rect x="456" y="498" width="7" height="7" fill="#fa2967"/>
<rect x="462" y="498" width="7" height="7" fill="#fa2663"/>
<rect x="468" y="498" width="7" height="7" fill="#fa2460"/>
<rect x="474" y="498" width="7" height="7" fill="#fa215d"/>
<rect x="480" y="498" width="7" height="7" fill="#fa1f59"/>
<rect x="486" y="498" width="7" height="7" fill="#fa1d56"/>
<rect x="492" y="498" width="7" height="7" fill="#fa1b53"/>
<rect x="498" y="498" width="7" height="7" fill="#fa1950"/>
<rect x="504" y="498" width="7" height="7" fill="#fa194d"/>
<rect x="510" y="498" width="7" height="7" fill="#fa1949"/>
<rect x="516" y="498" width="7" height="7" fill="#fa1945"/>
<rect x="522" y="498" width="7" height="7" fill="#fa1942"/>
<rect x="528" y="498" width="7" height="7" fill="#fa193e"/>
<rect x="534" y="498" width="7" height="7" fill="#fa193b"/>
<rect x="540" y="498" width="7" height="7" fill="#fa1938"/>
<rect x="546" y="498" width="7" height="7" fill="#fa1934"/>
<rect x="552" y="498" width="7" height="7" fill="#fa1931"/>
<rect x="558" y="498" width="7" height="7" fill="#fa192e"/>
<rect x="564" y="498" width="7" height="7" fill="#fa192b"/>
<rect x="570" y="498" width="7" height="7" fill="#fa1928"/>
<rect x="576" y="498" width="7" height="7" fill="#fa1925"/>
<rect x="582" y="498" width="7" height="7" fill="#fa1922"/>
<rect x="588" y="498" width="7" height="7" fill="#fa191f"/>
<rect x="594" y="498" width="7" height="7" fill="#fa191c"/>
<rect x="600" y="498" width="7" height="7" fill="#fa191a"/>
<rect x="606" y="498" width="43" height="7" fill="#fa1919"/>
<rect x="84" y="504" width="7" height="7" fill="#2de0fa"/>
<rect x="90" y="504" width="13" height="7" fill="#2ddffa"/>
<rect x="102" y="504" width="19" height="7" fill="#2ddefa"/>
<rect x="120" y="504" width="13" height="7" fill="#2dddfa"/>
<rect x="132" y="504" width="13" height="7" fill="#2ddcfa"/>
<rect x="144" y="504" width="19" height="7" fill="#2ddbfa"/>
<rect x="162" y="504" width="13" height="7" fill="#2ddafa"/>
<rect x="174" y="504" width="7" height="7" fill="#2dd9fa"/>
<rect x="180" y="504" width="13" height="7" fill="#2dd8fa"/>
<rect x="192" y="504" width="13" height="7" fill="#2dd7fa"/>
<rect x="204" y="504" width="7" height="7" fill="#2dd6fa"/>
<rect x="210" y="504" width="13" height="7" fill="#2dd5fa"/>
<rect x="222" y="504" width="7" height="7" fill="#2dd4fa"/>
<rect x="228" y="504" width="7" height="7" fill="#2dd3fa"/>
<rect x="234" y="504" width="7" height="7" fill="#38d3fa"/>
<rect x="240" y="504" width="7" height="7" fill="#4ad3fa"/>
<rect x="246" y="504" width="7" height="7" fill="#5bd2fa"/>
<rect x="252" y="504" width="7" height="7" fill="#6cd2fa"/>
<rect x="258" y="504" width="7" height="7" fill="#7dd2fa"/>
<rect x="264" y="504" width="7" height="7" fill="#8ed1fa"/>
<rect x="270" y="504" width="7" height="7" fill="#9ecffa"/>
<rect x="276" y="504" width="7" height="7" fill="#aecdfa"/>
<rect x="282" y="504" width="7" height="7" fill="#bdc8fa"/>
<rect x="288" y="504" width="7" height="7" fill="#ccc3fa"/>
<rect x="294" y="504" width="7" height="7" fill="#dbc2fa"/>
<rect x="300" y="504" width="7" height="7" fill="#e7c0fa"/>
<rect x="306" y="504" width="7" height="7" fill="#f2bffa"/>
<rect x="312" y="504" width="7" height="7" fill="#fabaf8"/>
<rect x="318" y="504" width="7" height="7" fill="#faaef3"/>
<rect x="324" y="504" width="7" height="7" fill="#faa3ec"/>
<rect x="330" y="504" width="7" height="7" fill="#fa99e5"/>
<rect x="336" y="504" width="7" height="7" fill="#fa8fde"/>
<rect x="342" y="504" width="7" height="7" fill="#fa86d6"/>
<rect x="348" y="504" width="7" height="7" fill="#fa7dcf"/>
<rect x="354" y="504" width="7" height="7" fill="#fa75c8"/>
<rect x="360" y="504" width="7" height="7" fill="#fa6ec1"/>
<rect x="366" y="504" width="7" height="7" fill="#fa66ba"/>
<rect x="372" y="504" width="7" height="7" fill="#fa60b3"/>
<rect x="378" y="504" width="7" height="7" fill="#fa59ac"/>
<rect x="384" y="504" width="7" height="7" fill="#fa53a6"/>
<rect x="390" y="504" width="7" height="7" fill="#fa4d9f"/>
<rect x="396" y="504" width="7" height="7" fill="#fa4899"/>
<rect x="402" y="504" width="7" height="7" fill="#fa4394"/>
<rect x="408" y="504" width="7" height="7" fill="#fa3f8e"/>
<rect x="414" y="504" width="7" height="7" fill="#fa3b89"/>
<rect x="420" y="504" width="7" height="7" fill="#fa3785"/>
<rect x="426" y="504" width="7" height="7" fill="#fa3480"/>
<rect x="432" y="504" width="7" height="7" fill="#fa307c"/>
<rect x="438" y="504" width="7" height="7" fill="#fa2d77"/>
<rect x="444" y="504" width="7" height="7" fill="#fa2a73"/>
<rect x="450" y="504" width="7" height="7" fill="#fa276f"/>
<rect x="456" y="504" width="7" height="7" fill="#fa256c"/>
<rect x="462" y="504" width="7" height="7" fill="#fa2268"/>
<rect x="468" y="504" width="7" height="7" fill="#fa2065"/>
<rect x="474" y="504" width="7" height="7" fill="#fa1d61"/>
<rect x="480" y="504" width="7" height="7" fill="#fa1b5e"/>
<rect x="486" y="504" width="7" height="7" fill="#fa195b"/>
<rect x="492" y="504" width="7" height="7" fill="#fa1957"/>
<rect x="498" y="504" width="7" height="7" fill="#fa1953"/>
<rect x="504" y="504" width="7" height="7" fill="#fa1950"/>
<rect x="510" y="504" width="7" height="7" fill="#fa194c"/>
<rect x="516" y="504" width="7" height="7" fill="#fa1948"/>
<rect x="522" y="504" width="7" height="7" fill="#fa1945"/>
<rect x="528" y="504" width="7" height="7" fill="#fa1942"/>
<rect x="534" y="504" width="7" height="7" fill="#fa193e"/>
<rect x="540" y="504" width="7" height="7" fill="#fa193b"/>
<rect x="546" y="504" width="7" height="7" fill="#fa1938"/>
<rect x="552" y="504" width="7" height="7" fill="#fa1935"/>
<rect x="558" y="504" width="7" height="7" fill="#fa1931"/>
<rect x="564" y="504" width="7" height="7" fill="#fa192e"/>
<rect x="570" y="504" width="7" height="7" fill="#fa192b"/>
<rect x="576" y="504" width="7" height="7" fill="#fa1928"/>
<rect x="582" y="504" width="7" height="7" fill="#fa1925"/>
<rect x="588" y="504" width="7" height="7" fill="#fa1923"/>
<rect x="594" y="504" width="7" height="7" fill="#fa1920"/>
<rect x="600" y="504" width="7" height="7" fill="#fa191d"/>
<rect x="606" y="504" width="7" height="7" fill="#fa191a"/>
<rect x="612" y="504" width="43" height="7" fill="#fa1919"/>
<rect x="90" y="510" width="13" height="7" fill="#2ddbfa"/>
<rect x="102" y="510" width="13" height="7" fill="#2ddafa"/>
<rect x="114" y="510" width="13" height="7" fill="#2dd9fa"/>
<rect x="126" y="510" width="13" height="7" fill="#2dd8fa"/>
<rect x="138" y="510" width="13" height="7" fill="#2dd7fa"/>
<rect x="150" y="510" width="13" height="7" fill="#2dd6fa"/>
<rect x="162" y="510" width="7" height="7" fill="#2dd5fa"/>
<rect x="168" y="510" width="13" height="7" fill="#2dd4fa"/>
<rect x="180" y="510" width="7" height="7" fill="#2dd3fa"/>
<rect x="186" y="510" width="13" height="7" fill="#2dd2fa"/>
<rect x="198" y="510" width="7" height="7" fill="#2dd1fa"/>
<rect x="204" y="510" width="13" height="7" fill="#2dd0fa"/>
<rect x="216" y="510" width="7" height="7" fill="#2dcffa"/>
<rect x="222" y="510" width="7" height="7" fill="#2dcefa"/>
<rect x="228" y="510" width="7" height="7" fill="#2dcdfa"/>
<rect x="234" y="510" width="7" height="7" fill="#3dcdfa"/>
<rect x="240" y="510" width="7" height="7" fill="#4eccfa"/>
<rect x="246" y="510" width="7" height="7" fill="#5fccfa"/>
<rect x="252" y="510" width="7" height="7" fill="#70cbfa"/>
<rect x="258" y="510" width="7" height="7" fill="#80cafa"/>
<rect x="264" y="510" width="7" height="7" fill="#90c9fa"/>
<rect x="270" y="510" width="7" height="7" fill="#a0c6fa"/>
<rect x="276" y="510" width="7" height="7" fill="#b0c2fa"/>
<rect x="282" y="510" width="7" height="7" fill="#bfbcfa"/>
<rect x="288" y="510" width="7" height="7" fill="#cdbafa"/>
<rect x="294" y="510" width="7" height="7" fill="#dab9fa"/>
<rect x="300" y="510" width="7" height="7" fill="#e7b7fa"/>
<rect x="306" y="510" width="7" height="7" fill="#f2b5fa"/>
<rect x="312" y="510" width="7" height="7" fill="#fab1f9"/>
<rect x="318" y="510" width="7" height="7" fill="#faa6f3"/>
<rect x="324" y="510" width="7" height="7" fill="#fa9bed"/>
<rect x="330" y="510" width="7" height="7" fill="#fa91e6"/>
<rect x="336" y="510" width="7" height="7" fill="#fa87df"/>
<rect x="342" y="510" width="7" height="7" fill="#fa7ed8"/>
<rect x="348" y="510" width="7" height="7" fill="#fa76d1"/>
<rect x="354" y="510" width="7" height="7" fill="#fa6eca"/>
<rect x="360" y="510" width="7" height="7" fill="#fa67c3"/>
<rect x="366" y="510" width="7" height="7" fill="#fa60bc"/>
<rect x="372" y="510" width="7" height="7" fill="#fa59b6"/>
<rect x="378" y="510" width="7" height="7" fill="#fa53af"/>
<rect x="384" y="510" width="7" height="7" fill="#fa4da9"/>
<rect x="390" y="510" width="7" height="7" fill="#fa48a3"/>
<rect x="396" y="510" width="7" height="7" fill="#fa429d"/>
<rect x="402" y="510" width="7" height="7" fill="#fa3d97"/>
<rect x="408" y="510" width="7" height="7" fill="#fa3992"/>
<rect x="414" y="510" width="7" height="7" fill="#fa358d"/>
<rect x="420" y="510" width="7" height="7" fill="#fa3289"/>
<rect x="426" y="510" width="7" height="7" fill="#fa2f84"/>
<rect x="432" y="510" width="7" height="7" fill="#fa2b80"/>
<rect x="438" y="510" width="7" height="7" fill="#fa287b"/>
<rect x="444" y="510" width="7" height="7" fill="#fa2677"/>
<rect x="450" y="510" width="7" height="7" fill="#fa2374"/>
<rect x="456" y="510" width="7" height="7" fill="#fa2070"/>
<rect x="462" y="510" width="7" height="7" fill="#fa1e6c"/>
<rect x="468" y="510" width="7" height="7" fill="#fa1c69"/>
<rect x="474" y="510" width="7" height="7" fill="#fa1965"/>
<rect x="480" y="510" width="7" height="7" fill="#fa1962"/>
<rect x="486" y="510" width="7" height="7" fill="#fa195e"/>
<rect x="492" y="510" width="7" height="7" fill="#fa195a"/>
<rect x="498" y="510" width="7" height="7" fill="#fa1956"/>
<rect x="504" y="510" width="7" height="7" fill="#fa1953"/>
<rect x="510" y="510" width="7" height="7" fill="#fa194f"/>
<rect x="516" y="510" width="7" height="7" fill="#fa194b"/>
<rect x="522" y="510" width="7" height="7" fill="#fa1948"/>
<rect x="528" y="510" width="7" height="7" fill="#fa1945"/>
<rect x="534" y="510" width="7" height="7" fill="#fa1941"/>
<rect x="540" y="510" width="7" height="7" fill="#fa193e"/>
<rect x="546" y="510" width="7" height="7" fill="#fa193b"/>
<rect x="552" y="510" width="7" height="7" fill="#fa1938"/>
<rect x="558" y="510" width="7" height="7" fill="#fa1935"/>
<rect x="564" y="510" width="7" height="7" fill="#fa1932"/>
<rect x="570" y="510" width="7" height="7" fill="#fa192f"/>
<rect x="576" y="510" width="7" height="7" fill="#fa192c"/>
<rect x="582" y="510" width="7" height="7" fill="#fa1929"/>
<rect x="588" y="510" width="7" height="7" fill="#fa1926"/>
<rect x="594" y="510" width="7" height="7" fill="#fa1923"/>
<rect x="600" y="510" width="7" height="7" fill="#fa1920"/>
<rect x="606" y="510" width="7" height="7" fill="#fa191e"/>
<rect x="612" y="510" width="7" height="7" fill="#fa191b"/>
<rect x="618" y="510" width="43" height="7" fill="#fa1919"/>
<rect x="90" y="516" width="7" height="7" fill="#2dd7fa"/>
<rect x="96" y="516" width="13" height="7" fill="#2dd6fa"/>
<rect x="108" y="516" width="13" height="7" fill="#2dd5fa"/>
<rect x="120" y="516" width="13" height="7" fill="#2dd4fa"/>
<rect x="132" y="516" width="7" height="7" fill="#2dd3fa"/>
<rect x="138" y="516" width="13" height="7" fill="#2dd2fa"/>
<rect x="150" y="516" width="7" height="7" fill="#2dd1fa"/>
<rect x="156" y="516" width="13" height="7" fill="#2dd0fa"/>
<rect x="168" y="516" width="7" height="7" fill="#2dcffa"/>
<rect x="174" y="516" width="13" height="7" fill="#2dcefa"/>
<rect x="186" y="516" width="7" height="7" fill="#2dcdfa"/>
<rect x="192" y="516" width="7" height="7" fill="#2dccfa"/>
<rect x="198" y="516" width="13" height="7" fill="#2dcbfa"/>
<rect x="210" y="516" width="7" height="7" fill="#2dcafa"/>
<rect x="216" y="516" width="7" height="7" fill="#2dc9fa"/>
<rect x="222" y="516" width="7" height="7" fill="#2dc8fa"/>
<rect x="228" y="516" width="7" height="7" fill="#30c7fa"/>
<rect x="234" y="516" width="7" height="7" fill="#41c7fa"/>
<rect x="240" y="516" width="7" height="7" fill="#52c6fa"/>
<rect x="246" y="516" width="7" height="7" fill="#62c5fa"/>
<rect x="252" y="516" width="7" height="7" fill="#73c4fa"/>
<rect x="258" y="516" width="7" height="7" fill="#83c3fa"/>
<rect x="264" y="516" width="7" height="7" fill="#93c0fa"/>
<rect x="270" y="516" width="7" height="7" fill="#a2bdfa"/>
<rect x="276" y="516" width="7" height="7" fill="#b1b6fa"/>
<rect x="282" y="516" width="7" height="7" fill="#c0b3fa"/>
<rect x="288" y="516" width="7" height="7" fill="#ceb1fa"/>
<rect x="294" y="516" width="7" height="7" fill="#daaffa"/>
<rect x="300" y="516" width="7" height="7" fill="#e6aefa"/>
<rect x="306" y="516" width="7" height="7" fill="#f1acfa"/>
<rect x="312" y="516" width="7" height="7" fill="#faa8f9"/>
<rect x="318" y="516" width="7" height="7" fill="#fa9df3"/>
<rect x="324" y="516" width="7" height="7" fill="#fa92ed"/>
<rect x="330" y="516" width="7" height="7" fill="#fa89e7"/>
<rect x="336" y="516" width="7" height="7" fill="#fa80e0"/>
<rect x="342" y="516" width="7" height="7" fill="#fa77d9"/>
<rect x="348" y="516" width="7" height="7" fill="#fa6fd3"/>
<rect x="354" y="516" width="7" height="7" fill="#fa68cc"/>
<rect x="360" y="516" width="7" height="7" fill="#fa60c5"/>
<rect x="366" y="516" width="7" height="7" fill="#fa5abf"/>
<rect x="372" y="516" width="7" height="7" fill="#fa53b8"/>
<rect x="378" y="516" width="7" height="7" fill="#fa4db2"/>
<rect x="384" y="516" width="7" height="7" fill="#fa48ac"/>
<rect x="390" y="516" width="7" height="7" fill="#fa42a6"/>
<rect x="396" y="516" width="7" height="7" fill="#fa3da0"/>
<rect x="402" y="516" width="7" height="7" fill="#fa389b"/>
<rect x="408" y="516" width="7" height="7" fill="#fa3495"/>
<rect x="414" y="516" width="7" height="7" fill="#fa3091"/>
<rect x="420" y="516" width="7" height="7" fill="#fa2d8c"/>
<rect x="426" y="516" width="7" height="7" fill="#fa2a88"/>
<rect x="432" y="516" width="7" height="7" fill="#fa2783"/>
<rect x="438" y="516" width="7" height="7" fill="#fa247f"/>
<rect x="444" y="516" width="7" height="7" fill="#fa217b"/>
<rect x="450" y="516" width="7" height="7" fill="#fa1f77"/>
<rect x="456" y="516" width="7" height="7" fill="#fa1c74"/>
<rect x="462" y="516" width="7" height="7" fill="#fa1a70"/>
<rect x="468" y="516" width="7" height="7" fill="#fa196c"/>
<rect x="474" y="516" width="7" height="7" fill="#fa1968"/>
<rect x="480" y="516" width="7" height="7" fill="#fa1964"/>
<rect x="486" y="516" width="7" height="7" fill="#fa1961"/>
<rect x="492" y="516" width="7" height="7" fill="#fa195d"/>
<rect x="498" y="516" width="7" height="7" fill="#fa1959"/>
<rect x="504" y="516" width="7" height="7" fill="#fa1955"/>
<rect x="510" y="516" width="7" height="7" fill="#fa1952"/>
<rect x="516" y="516" width="7" height="7" fill="#fa194e"/>
<rect x="522" y="516" width="7" height="7" fill="#fa194b"/>
<rect x="528" y="516" width="7" height="7" fill="#fa1948"/>
<rect x="534" y="516" width="7" height="7" fill="#fa1944"/>
<rect x="540" y="516" width="7" height="7" fill="#fa1941"/>
<rect x="546" y="516" width="7" height="7" fill="#fa193e"/>
<rect x="552" y="516" width="7" height="7" fill="#fa193b"/>
<rect x="558" y="516" width="7" height="7" fill="#fa1938"/>
<rect x="564" y="516" width="7" height="7" fill="#fa1935"/>
<rect x="570" y="516" width="7" height="7" fill="#fa1932"/>
<rect x="576" y="516" width="7" height="7" fill="#fa192f"/>
<rect x="582" y="516" width="7" height="7" fill="#fa192c"/>
<rect x="588" y="516" width="7" height="7" fill="#fa1929"/>
<rect x="594" y="516" width="7" height="7" fill="#fa1926"/>
<rect x="600" y="516" width="7" height="7" fill="#fa1924"/>
<rect x="606" y="516" width="7" height="7" fill="#fa1921"/>
<rect x="612" y="516" width="7" height="7" fill="#fa191e"/>
<rect x="618" y="516" width="7" height="7" fill="#fa191c"/>
<rect x="624" y="516" width="37" height="7" fill="#fa1919"/>
<rect x="90" y="522" width="13" height="7" fill="#2dd2fa"/>
<rect x="102" y="522" width="13" height="7" fill="#2dd1fa"/>
<rect x="114" y="522" width="7" height="7" fill="#2dd0fa"/>
<rect x="120" y="522" width="13" height="7" fill="#2dcffa"/>
<rect x="132" y="522" width="13" height="7" fill="#2dcefa"/>
<rect x="144" y="522" width="7" height="7" fill="#2dcdfa"/>
<rect x="150" y="522" width="7" height="7" fill="#2dccfa"/>
<rect x="156" y="522" width="13" height="7" fill="#2dcbfa"/>
<rect x="168" y="522" width="7" height="7" fill="#2dcafa"/>
<rect x="174" y="522" width="7" height="7" fill="#2dc9fa"/>
<rect x="180" y="522" width="7" height="7" fill="#2dc8fa"/>
<rect x="186" y="522" width="13" height="7" fill="#2dc7fa"/>
<rect x="198" y="522" width="7" height="7" fill="#2dc6fa"/>
<rect x="204" y="522" width="7" height="7" fill="#2dc5fa"/>
<rect x="210" y="522" width="7" height="7" fill="#2dc4fa"/>
<rect x="216" y="522" width="7" height="7" fill="#2dc3fa"/>
<rect x="222" y="522" width="7" height="7" fill="#2dc2fa"/>
<rect x="228" y="522" width="7" height="7" fill="#35c1fa"/>
<rect x="234" y="522" width="7" height="7" fill="#45c0fa"/>
<rect x="240" y="522" width="7" height="7" fill="#55bffa"/>
<rect x="246" y="522" width="7" height="7" fill="#66befa"/>
<rect x="252" y="522" width="7" height="7" fill="#76bdfa"/>
<rect x="258" y="522" width="7" height="7" fill="#85bbfa"/>
<rect x="264" y="522" width="7" height="7" fill="#95b7fa"/>
<rect x="270" y="522" width="7" height="7" fill="#a4b2fa"/>
<rect x="276" y="522" width="7" height="7" fill="#b2acfa"/>
<rect x="282" y="522" width="7" height="7" fill="#c1aafa"/>
<rect x="288" y="522" width="7" height="7" fill="#cea8fa"/>
<rect x="294" y="522" width="7" height="7" fill="#daa6fa"/>
<rect x="300" y="522" width="7" height="7" fill="#e6a4fa"/>
<rect x="306" y="522" width="7" height="7" fill="#f1a2fa"/>
<rect x="312" y="522" width="7" height="7" fill="#fa9ff9"/>
<rect x="318" y="522" width="7" height="7" fill="#fa94f4"/>
<rect x="324" y="522" width="7" height="7" fill="#fa8aee"/>
<rect x="330" y="522" width="7" height="7" fill="#fa81e7"/>
<rect x="336" y="522" width="7" height="7" fill="#fa78e1"/>
<rect x="342" y="522" width="7" height="7" fill="#fa70db"/>
<rect x="348" y="522" width="7" height="7" fill="#fa68d4"/>
<rect x="354" y="522" width="7" height="7" fill="#fa61ce"/>
<rect x="360" y="522" width="7" height="7" fill="#fa5ac7"/>
<rect x="366" y="522" width="7" height="7" fill="#fa54c1"/>
<rect x="372" y="522" width="7" height="7" fill="#fa4dbb"/>
<rect x="378" y="522" width="7" height="7" fill="#fa48b5"/>
<rect x="384" y="522" width="7" height="7" fill="#fa42af"/>
<rect x="390" y="522" width="7" height="7" fill="#fa3da9"/>
<rect x="396" y="522" width="7" height="7" fill="#fa38a3"/>
<rect x="402" y="522" width="7" height="7" fill="#fa339e"/>
<rect x="408" y="522" width="7" height="7" fill="#fa2f99"/>
<rect x="414" y="522" width="7" height="7" fill="#fa2b94"/>
<rect x="420" y="522" width="7" height="7" fill="#fa288f"/>
<rect x="426" y="522" width="7" height="7" fill="#fa258b"/>
<rect x="432" y="522" width="7" height="7" fill="#fa2287"/>
<rect x="438" y="522" width="7" height="7" fill="#fa1f83"/>
<rect x="444" y="522" width="7" height="7" fill="#fa1d7f"/>
<rect x="450" y="522" width="7" height="7" fill="#fa1a7b"/>
<rect x="456" y="522" width="7" height="7" fill="#fa1977"/>
<rect x="462" y="522" width="7" height="7" fill="#fa1973"/>
<rect x="468" y="522" width="7" height="7" fill="#fa196f"/>
<rect x="474" y="522" width="7" height="7" fill="#fa196b"/>
<rect x="480" y="522" width="7" height="7" fill="#fa1967"/>
<rect x="486" y="522" width="7" height="7" fill="#fa1963"/>
<rect x="492" y="522" width="7" height="7" fill="#fa1960"/>
<rect x="498" y="522" width="7" height="7" fill="#fa195c"/>
<rect x="504" y="522" width="7" height="7" fill="#fa1958"/>
<rect x="510" y="522" width="7" height="7" fill="#fa1955"/>
<rect x="516" y="522" width="7" height="7" fill="#fa1951"/>
<rect x="522" y="522" width="7" height="7" fill="#fa194e"/>
<rect x="528" y="522" width="7" height="7" fill="#fa194b"/>
<rect x="534" y="522" width="7" height="7" fill="#fa1947"/>
<rect x="540" y="522" width="7" height="7" fill="#fa1944"/>
<rect x="546" y="522" width="7" height="7" fill="#fa1941"/>
<rect x="552" y="522" width="7" height="7" fill="#fa193e"/>
<rect x="558" y="522" width="7" height="7" fill="#fa193b"/>
<rect x="564" y="522" width="7" height="7" fill="#fa1938"/>
<rect x="570" y="522" width="7" height="7" fill="#fa1935"/>
<rect x="576" y="522" width="7" height="7" fill="#fa1932"/>
<rect x="582" y="522" width="7" height="7" fill="#fa192f"/>
<rect x="588" y="522" width="7" height="7" fill="#fa192c"/>
<rect x="594" y="522" width="7" height="7" fill="#fa1929"/>
<rect x="600" y="522" width="7" height="7" fill="#fa1927"/>
<rect x="606" y="522" width="7" height="7" fill="#fa1924"/>
<rect x="612" y="522" width="7" height="7" fill="#fa1921"/>
<rect x="618" y="522" width="7" height="7" fill="#fa191f"/>
<rect x="624" y="522" width="7" height="7" fill="#fa191c"/>
<rect x="630" y="522" width="7" height="7" fill="#fa191a"/>
<rect x="636" y="522" width="25" height="7" fill="#fa1919"/>
<rect x="90" y="528" width="7" height="7" fill="#2dcefa"/>
<rect x="96" y="528" width="13" height="7" fill="#2dcdfa"/>
<rect x="108" y="528" width="7" height="7" fill="#2dccfa"/>
<rect x="114" y="528" width="13" height="7" fill="#2dcbfa"/>
<rect x="126" y="528" width="7" height="7" fill="#2dcafa"/>
<rect x="132" y="528" width="13" height="7" fill="#2dc9fa"/>
<rect x="144" y="528" width="7" height="7" fill="#2dc8fa"/>
<rect x="150" y="528" width="7" height="7" fill="#2dc7fa"/>
<rect x="156" y="528" width="7" height="7" fill="#2dc6fa"/>
<rect x="162" y="528" width="13" height="7" fill="#2dc5fa"/>
<rect x="174" y="528" width="7" height="7" fill="#2dc4fa"/>
<rect x="180" y="528" width="7" height="7" fill="#2dc3fa"/>
<rect x="186" y="528" width="7" height="7" fill="#2dc2fa"/>
<rect x="192" y="528" width="7" height="7" fill="#2dc1fa"/>
<rect x="198" y="528" width="7" height="7" fill="#2dc0fa"/>
<rect x="204" y="528" width="7" height="7" fill="#2dbffa"/>
<rect x="210" y="528" width="7" height="7" fill="#2dbefa"/>
<rect x="216" y="528" width="7" height="7" fill="#2dbdfa"/>
<rect x="222" y="528" width="7" height="7" fill="#2dbbfa"/>
<rect x="228" y="528" width="7" height="7" fill="#39bbfa"/>
<rect x="234" y="528" width="7" height="7" fill="#49bafa"/>
<rect x="240" y="528" width="7" height="7" fill="#59b9fa"/>
<rect x="246" y="528" width="7" height="7" fill="#69b7fa"/>
<rect x="252" y="528" width="7" height="7" fill="#78b5fa"/>
<rect x="258" y="528" width="7" height="7" fill="#88b2fa"/>
<rect x="264" y="528" width="7" height="7" fill="#97adfa"/>
<rect x="270" y="528" width="7" height="7" fill="#a5a5fa"/>
<rect x="276" y="528" width="7" height="7" fill="#b4a3fa"/>
<rect x="282" y="528" width="7" height="7" fill="#c1a2fa"/>
<rect x="288" y="528" width="7" height="7" fill="#ce9ffa"/>
<rect x="294" y="528" width="7" height="7" fill="#da9dfa"/>
<rect x="300" y="528" width="7" height="7" fill="#e59bfa"/>
<rect x="306" y="528" width="7" height="7" fill="#f099fa"/>
<rect x="312" y="528" width="7" height="7" fill="#fa96f9"/>
<rect x="318" y="528" width="7" height="7" fill="#fa8bf4"/>
<rect x="324" y="528" width="7" height="7" fill="#fa82ee"/>
<rect x="330" y="528" width="7" height="7" fill="#fa79e8"/>
<rect x="336" y="528" width="7" height="7" fill="#fa70e2"/>
<rect x="342" y="528" width="7" height="7" fill="#fa68dc"/>
<rect x="348" y="528" width="7" height="7" fill="#fa61d5"/>
<rect x="354" y="528" width="7" height="7" fill="#fa5acf"/>
<rect x="360" y="528" width="7" height="7" fill="#fa54c9"/>
<rect x="366" y="528" width="7" height="7" fill="#fa4dc3"/>
<rect x="372" y="528" width="7" height="7" fill="#fa48bd"/>
<rect x="378" y="528" width="7" height="7" fill="#fa42b7"/>
<rect x="384" y="528" width="7" height="7" fill="#fa3db1"/>
<rect x="390" y="528" width="7" height="7" fill="#fa38ac"/>
<rect x="396" y="528" width="7" height="7" fill="#fa33a6"/>
<rect x="402" y="528" width="7" height="7" fill="#fa2fa1"/>
<rect x="408" y="528" width="7" height="7" fill="#fa2a9c"/>
<rect x="414" y="528" width="7" height="7" fill="#fa2697"/>
<rect x="420" y="528" width="7" height="7" fill="#fa2392"/>
<rect x="426" y="528" width="7" height="7" fill="#fa208e"/>
<rect x="432" y="528" width="7" height="7" fill="#fa1d8a"/>
<rect x="438" y="528" width="7" height="7" fill="#fa1b86"/>
<rect x="444" y="528" width="7" height="7" fill="#fa1982"/>
<rect x="450" y="528" width="7" height="7" fill="#fa197d"/>
<rect x="456" y="528" width="7" height="7" fill="#fa1979"/>
<rect x="462" y="528" width="7" height="7" fill="#fa1975"/>
<rect x="468" y="528" width="7" height="7" fill="#fa1971"/>
<rect x="474" y="528" width="7" height="7" fill="#fa196d"/>
<rect x="480" y="528" width="7" height="7" fill="#fa196a"/>
<rect x="486" y="528" width="7" height="7" fill="#fa1966"/>
<rect x="492" y="528" width="7" height="7" fill="#fa1962"/>
<rect x="498" y="528" width="7" height="7" fill="#fa195f"/>
<rect x="504" y="528" width="7" height="7" fill="#fa195b"/>
<rect x="510" y="528" width="7" height="7" fill="#fa1957"/>
<rect x="516" y="528" width="7" height="7" fill="#fa1954"/>
<rect x="522" y="528" width="7" height="7" fill="#fa1951"/>
<rect x="528" y="528" width="7" height="7" fill="#fa194d"/>
<rect x="534" y="528" width="7" height="7" fill="#fa194a"/>
<rect x="540" y="528" width="7" height="7" fill="#fa1947"/>
<rect x="546" y="528" width="7" height="7" fill="#fa1944"/>
<rect x="552" y="528" width="7" height="7" fill="#fa1941"/>
<rect x="558" y="528" width="7" height="7" fill="#fa193e"/>
<rect x="564" y="528" width="7" height="7" fill="#fa193b"/>
<rect x="570" y="528" width="7" height="7" fill="#fa1938"/>
<rect x="576" y="528" width="7" height="7" fill="#fa1935"/>
<rect x="582" y="528" width="7" height="7" fill="#fa1932"/>
<rect x="588" y="528" width="7" height="7" fill="#fa192f"/>
<rect x="594" y="528" width="7" height="7" fill="#fa192c"/>
<rect x="600" y="528" width="7" height="7" fill="#fa192a"/>
<rect x="606" y="528" width="7" height="7" fill="#fa1927"/>
<rect x="612" y="528" width="7" height="7" fill="#fa1924"/>
<rect x="618" y="528" width="7" height="7" fill="#fa1922"/>
<rect x="624" y="528" width="7" height="7" fill="#fa191f"/>
<rect x="630" y="528" width="7" height="7" fill="#fa191d"/>
<rect x="636" y="528" width="7" height="7" fill="#fa191a"/>
<rect x="642" y="528" width="13" height="7" fill="#fa1919"/>
<rect x="96" y="534" width="7" height="7" fill="#2dc9fa"/>
<rect x="102" y="534" width="13" height="7" fill="#2dc8fa"/>
<rect x="114" y="534" width="7" height="7" fill="#2dc7fa"/>
<rect x="120" y="534" width="7" height="7" fill="#2dc6fa"/>
<rect x="126" y="534" width="13" height="7" fill="#2dc5fa"/>
<rect x="138" y="534" width="7" height="7" fill="#2dc4fa"/>
<rect x="144" y="534" width="7" height="7" fill="#2dc3fa"/>
<rect x="150" y="534" width="7" height="7" fill="#2dc2fa"/>
<rect x="156" y="534" width="7" height="7" fill="#2dc1fa"/>
<rect x="162" y="534" width="7" height="7" fill="#2dc0fa"/>
<rect x="168" y="534" width="7" height="7" fill="#2dbffa"/>
<rect x="174" y="534" width="7" height="7" fill="#2dbefa"/>
<rect x="180" y="534" width="7" height="7" fill="#2dbdfa"/>
<rect x="186" y="534" width="7" height="7" fill="#2dbcfa"/>
<rect x="192" y="534" width="7" height="7" fill="#2dbbfa"/>
<rect x="198" y="534" width="7" height="7" fill="#2dbafa"/>
<rect x="204" y="534" width="7" height="7" fill="#2db9fa"/>
<rect x="210" y="534" width="7" height="7" fill="#2db8fa"/>
<rect x="216" y="534" width="7" height="7" fill="#2db6fa"/>
<rect x="222" y="534" width="7" height="7" fill="#2db5fa"/>
<rect x="228" y="534" width="7" height="7" fill="#3db4fa"/>
<rect x="234" y="534" width="7" height="7" fill="#4db3fa"/>
<rect x="240" y="534" width="7" height="7" fill="#5cb1fa"/>
<rect x="246" y="534" width="7" height="7" fill="#6caffa"/>
<rect x="252" y="534" width="7" height="7" fill="#7bacfa"/>
<rect x="258" y="534" width="7" height="7" fill="#8aa8fa"/>
<rect x="264" y="534" width="7" height="7" fill="#98a2fa"/>
<rect x="270" y="534" width="7" height="7" fill="#a79dfa"/>
<rect x="276" y="534" width="7" height="7" fill="#b59bfa"/>
<rect x="282" y="534" width="7" height="7" fill="#c199fa"/>
<rect x="288" y="534" width="7" height="7" fill="#ce97fa"/>
<rect x="294" y="534" width="7" height="7" fill="#da94fa"/>
<rect x="300" y="534" width="7" height="7" fill="#e592fa"/>
<rect x="306" y="534" width="7" height="7" fill="#f08ffa"/>
<rect x="312" y="534" width="7" height="7" fill="#fa8cfa"/>
<rect x="318" y="534" width="7" height="7" fill="#fa82f4"/>
<rect x="324" y="534" width="7" height="7" fill="#fa79ef"/>
<rect x="330" y="534" width="7" height="7" fill="#fa71e9"/>
<rect x="336" y="534" width="7" height="7" fill="#fa69e3"/>
<rect x="342" y="534" width="7" height="7" fill="#fa61dc"/>
<rect x="348" y="534" width="7" height="7" fill="#fa5ad6"/>
<rect x="354" y="534" width="7" height="7" fill="#fa53d0"/>
<rect x="360" y="534" width="7" height="7" fill="#fa4dca"/>
<rect x="366" y="534" width="7" height="7" fill="#fa47c4"/>
<rect x="372" y="534" width="7" height="7" fill="#fa42bf"/>
<rect x="378" y="534" width="7" height="7" fill="#fa3cb9"/>
<rect x="384" y="534" width="7" height="7" fill="#fa37b3"/>
<rect x="390" y="534" width="7" height="7" fill="#fa33ae"/>
<rect x="396" y="534" width="7" height="7" fill="#fa2ea9"/>
<rect x="402" y="534" width="7" height="7" fill="#fa2aa3"/>
<rect x="408" y="534" width="7" height="7" fill="#fa269e"/>
<rect x="414" y="534" width="7" height="7" fill="#fa229a"/>
<rect x="420" y="534" width="7" height="7" fill="#fa1e95"/>
<rect x="426" y="534" width="7" height="7" fill="#fa1b91"/>
<rect x="432" y="534" width="7" height="7" fill="#fa198d"/>
<rect x="438" y="534" width="7" height="7" fill="#fa1988"/>
<rect x="444" y="534" width="7" height="7" fill="#fa1984"/>
<rect x="450" y="534" width="7" height="7" fill="#fa1980"/>
<rect x="456" y="534" width="7" height="7" fill="#fa197c"/>
<rect x="462" y="534" width="7" height="7" fill="#fa1978"/>
<rect x="468" y="534" width="7" height="7" fill="#fa1974"/>
<rect x="474" y="534" width="7" height="7" fill="#fa1970"/>
<rect x="480" y="534" width="7" height="7" fill="#fa196c"/>
<rect x="486" y="534" width="7" height="7" fill="#fa1968"/>
<rect x="492" y="534" width="7" height="7" fill="#fa1965"/>
<rect x="498" y="534" width="7" height="7" fill="#fa1961"/>
<rect x="504" y="534" width="7" height="7" fill="#fa195e"/>
<rect x="510" y="534" width="7" height="7" fill="#fa195a"/>
<rect x="516" y="534" width="7" height="7" fill="#fa1957"/>
<rect x="522" y="534" width="7" height="7" fill="#fa1953"/>
<rect x="528" y="534" width="7" height="7" fill="#fa1950"/>
<rect x="534" y="534" width="7" height="7" fill="#fa194d"/>
<rect x="540" y="534" width="7" height="7" fill="#fa194a"/>
<rect x="546" y="534" width="7" height="7" fill="#fa1947"/>
<rect x="552" y="534" width="7" height="7" fill="#fa1944"/>
<rect x="558" y="534" width="7" height="7" fill="#fa1941"/>
<rect x="564" y="534" width="7" height="7" fill="#fa193e"/>
<rect x="570" y="534" width="7" height="7" fill="#fa193b"/>
<rect x="576" y="534" width="7" height="7" fill="#fa1938"/>
<rect x="582" y="534" width="7" height="7" fill="#fa1935"/>
<rect x="588" y="534" width="7" height="7" fill="#fa1932"/>
<rect x="594" y="534" width="7" height="7" fill="#fa192f"/>
<rect x="600" y="534" width="7" height="7" fill="#fa192d"/>
<rect x="606" y="534" width="7" height="7" fill="#fa192a"/>
<rect x="612" y="534" width="7" height="7" fill="#fa1927"/>
<rect x="618" y="534" width="7" height="7" fill="#fa1925"/>
<rect x="624" y="534" width="7" height="7" fill="#fa1922"/>
<rect x="630" y="534" width="7" height="7" fill="#fa1920"/>
<rect x="636" y="534" width="7" height="7" fill="#fa191d"/>
<rect x="642" y="534" width="7" height="7" fill="#fa191b"/>
<rect x="96" y="540" width="13" height="7" fill="#2dc4fa"/>
<rect x="108" y="540" width="7" height="7" fill="#2dc3fa"/>
<rect x="114" y="540" width="7" height="7" fill="#2dc2fa"/>
<rect x="120" y="540" width="7" height="7" fill="#2dc1fa"/>
<rect x="126" y="540" width="13" height="7" fill="#2dc0fa"/>
<rect x="138" y="540" width="7" height="7" fill="#2dbffa"/>
<rect x="144" y="540" width="7" height="7" fill="#2dbefa"/>
<rect x="150" y="540" width="7" height="7" fill="#2dbdfa"/>
<rect x="156" y="540" width="7" height="7" fill="#2dbcfa"/>
<rect x="162" y="540" width="7" height="7" fill="#2dbbfa"/>
<rect x="168" y="540" width="7" height="7" fill="#2dbafa"/>
<rect x="174" y="540" width="7" height="7" fill="#2db9fa"/>
<rect x="180" y="540" width="7" height="7" fill="#2db8fa"/>
<rect x="186" y="540" width="7" height="7" fill="#2db6fa"/>
<rect x="192" y="540" width="7" height="7" fill="#2db5fa"/>
<rect x="198" y="540" width="7" height="7" fill="#2db4fa"/>
<rect x="204" y="540" width="7" height="7" fill="#2db3fa"/>
<rect x="210" y="540" width="7" height="7" fill="#2db1fa"/>
<rect x="216" y="540" width="7" height="7" fill="#2db0fa"/>
<rect x="222" y="540" width="7" height="7" fill="#31affa"/>
<rect x="228" y="540" width="7" height="7" fill="#41aefa"/>
<rect x="234" y="540" width="7" height="7" fill="#50acfa"/>
<rect x="240" y="540" width="7" height="7" fill="#60aafa"/>
<rect x="246" y="540" width="7" height="7" fill="#6fa7fa"/>
<rect x="252" y="540" width="7" height="7" fill="#7da4fa"/>
<rect x="258" y="540" width="7" height="7" fill="#8c9efa"/>
<rect x="264" y="540" width="7" height="7" fill="#9a97fa"/>
<rect x="270" y="540" width="7" height="7" fill="#a895fa"/>
<rect x="276" y="540" width="7" height="7" fill="#b593fa"/>
<rect x="282" y="540" width="7" height="7" fill="#c290fa"/>
<rect x="288" y="540" width="7" height="7" fill="#ce8efa"/>
<rect x="294" y="540" width="7" height="7" fill="#d98cfa"/>
<rect x="300" y="540" width="7" height="7" fill="#e489fa"/>
<rect x="306" y="540" width="7" height="7" fill="#ef86fa"/>
<rect x="312" y="540" width="7" height="7" fill="#fa83fa"/>
<rect x="318" y="540" width="7" height="7" fill="#fa7af5"/>
<rect x="324" y="540" width="7" height="7" fill="#fa71ef"/>
<rect x="330" y="540" width="7" height="7" fill="#fa69e9"/>
<rect x="336" y="540" width="7" height="7" fill="#fa61e3"/>
<rect x="342" y="540" width="7" height="7" fill="#fa5add"/>
<rect x="348" y="540" width="7" height="7" fill="#fa53d7"/>
<rect x="354" y="540" width="7" height="7" fill="#fa4dd1"/>
<rect x="360" y="540" width="7" height="7" fill="#fa47cc"/>
<rect x="366" y="540" width="7" height="7" fill="#fa41c6"/>
<rect x="372" y="540" width="7" height="7" fill="#fa3cc0"/>
<rect x="378" y="540" width="7" height="7" fill="#fa37bb"/>
<rect x="384" y="540" width="7" height="7" fill="#fa32b5"/>
<rect x="390" y="540" width="7" height="7" fill="#fa2db0"/>
<rect x="396" y="540" width="7" height="7" fill="#fa29ab"/>
<rect x="402" y="540" width="7" height="7" fill="#fa25a6"/>
<rect x="408" y="540" width="7" height="7" fill="#fa21a1"/>
<rect x="414" y="540" width="7" height="7" fill="#fa1d9c"/>
<rect x="420" y="540" width="7" height="7" fill="#fa1997"/>
<rect x="426" y="540" width="7" height="7" fill="#fa1993"/>
<rect x="432" y="540" width="7" height="7" fill="#fa198f"/>
<rect x="438" y="540" width="7" height="7" fill="#fa198a"/>
<rect x="444" y="540" width="7" height="7" fill="#fa1986"/>
<rect x="450" y="540" width="7" height="7" fill="#fa1982"/>
<rect x="456" y="540" width="7" height="7" fill="#fa197e"/>
<rect x="462" y="540" width="7" height="7" fill="#fa197a"/>
<rect x="468" y="540" width="7" height="7" fill="#fa1976"/>
<rect x="474" y="540" width="7" height="7" fill="#fa1972"/>
<rect x="480" y="540" width="7" height="7" fill="#fa196f"/>
<rect x="486" y="540" width="7" height="7" fill="#fa196b"/>
<rect x="492" y="540" width="7" height="7" fill="#fa1967"/>
<rect x="498" y="540" width="7" height="7" fill="#fa1964"/>
<rect x="504" y="540" width="7" height="7" fill="#fa1960"/>
<rect x="510" y="540" width="7" height="7" fill="#fa195d"/>
<rect x="516" y="540" width="7" height="7" fill="#fa1959"/>
<rect x="522" y="540" width="7" height="7" fill="#fa1956"/>
<rect x="528" y="540" width="7" height="7" fill="#fa1953"/>
<rect x="534" y="540" width="7" height="7" fill="#fa1950"/>
<rect x="540" y="540" width="7" height="7" fill="#fa194c"/>
<rect x="546" y="540" width="7" height="7" fill="#fa1949"/>
<rect x="552" y="540" width="7" height="7" fill="#fa1946"/>
<rect x="558" y="540" width="7" height="7" fill="#fa1943"/>
<rect x="564" y="540" width="7" height="7" fill="#fa1940"/>
<rect x="570" y="540" width="7" height="7" fill="#fa193d"/>
<rect x="576" y="540" width="7" height="7" fill="#fa193b"/>
<rect x="582" y="540" width="7" height="7" fill="#fa1938"/>
<rect x="588" y="540" width="7" height="7" fill="#fa1935"/>
<rect x="594" y="540" width="7" height="7" fill="#fa1932"/>
<rect x="600" y="540" width="7" height="7" fill="#fa1930"/>
<rect x="606" y="540" width="7" height="7" fill="#fa192d"/>
<rect x="612" y="540" width="7" height="7" fill="#fa192a"/>
<rect x="618" y="540" width="7" height="7" fill="#fa1928"/>
<rect x="624" y="540" width="7" height="7" fill="#fa1925"/>
<rect x="630" y="540" width="7" height="7" fill="#fa1923"/>
<rect x="96" y="546" width="7" height="7" fill="#2dc0fa"/>
<rect x="102" y="546" width="7" height="7" fill="#2dbffa"/>
<rect x="108" y="546" width="7" height="7" fill="#2dbefa"/>
<rect x="114" y="546" width="13" height="7" fill="#2dbdfa"/>
<rect x="126" y="546" width="7" height="7" fill="#2dbcfa"/>
<rect x="132" y="546" width="7" height="7" fill="#2dbbfa"/>
<rect x="138" y="546" width="7" height="7" fill="#2dbafa"/>
<rect x="144" y="546" width="7" height="7" fill="#2db9fa"/>
<rect x="150" y="546" width="7" height="7" fill="#2db8fa"/>
<rect x="156" y="546" width="7" height="7" fill="#2db7fa"/>
<rect x="162" y="546" width="7" height="7" fill="#2db6fa"/>
<rect x="168" y="546" width="7" height="7" fill="#2db4fa"/>
<rect x="174" y="546" width="7" height="7" fill="#2db3fa"/>
<rect x="180" y="546" width="7" height="7" fill="#2db2fa"/>
<rect x="186" y="546" width="7" height="7" fill="#2db1fa"/>
<rect x="192" y="546" width="7" height="7" fill="#2daffa"/>
<rect x="198" y="546" width="7" height="7" fill="#2daefa"/>
<rect x="204" y="546" width="7" height="7" fill="#2dadfa"/>
<rect x="210" y="546" width="7" height="7" fill="#2dabfa"/>
<rect x="216" y="546" width="7" height="7" fill="#2daafa"/>
<rect x="222" y="546" width="7" height="7" fill="#36a8fa"/>
<rect x="228" y="546" width="7" height="7" fill="#45a7fa"/>
<rect x="234" y="546" width="7" height="7" fill="#54a5fa"/>
<rect x="240" y="546" width="7" height="7" fill="#63a2fa"/>
<rect x="246" y="546" width="7" height="7" fill="#719ffa"/>
<rect x="252" y="546" width="7" height="7" fill="#809afa"/>
<rect x="258" y="546" width="7" height="7" fill="#8e93fa"/>
<rect x="264" y="546" width="7" height="7" fill="#9c8ffa"/>
<rect x="270" y="546" width="7" height="7" fill="#a98dfa"/>
<rect x="276" y="546" width="7" height="7" fill="#b68afa"/>
<rect x="282" y="546" width="7" height="7" fill="#c288fa"/>
<rect x="288" y="546" width="7" height="7" fill="#ce85fa"/>
<rect x="294" y="546" width="7" height="7" fill="#d983fa"/>
<rect x="300" y="546" width="7" height="7" fill="#e480fa"/>
<rect x="306" y="546" width="7" height="7" fill="#ef7dfa"/>
<rect x="312" y="546" width="7" height="7" fill="#f97afa"/>
<rect x="318" y="546" width="7" height="7" fill="#fa71f5"/>
<rect x="324" y="546" width="7" height="7" fill="#fa69ef"/>
<rect x="330" y="546" width="7" height="7" fill="#fa61ea"/>
<rect x="336" y="546" width="7" height="7" fill="#fa5ae4"/>
<rect x="342" y="546" width="7" height="7" fill="#fa53de"/>
<rect x="348" y="546" width="7" height="7" fill="#fa4cd8"/>
<rect x="354" y="546" width="7" height="7" fill="#fa46d3"/>
<rect x="360" y="546" width="7" height="7" fill="#fa40cd"/>
<rect x="366" y="546" width="7" height="7" fill="#fa3bc7"/>
<rect x="372" y="546" width="7" height="7" fill="#fa36c2"/>
<rect x="378" y="546" width="7" height="7" fill="#fa31bc"/>
<rect x="384" y="546" width="7" height="7" fill="#fa2cb7"/>
<rect x="390" y="546" width="7" height="7" fill="#fa28b2"/>
<rect x="396" y="546" width="7" height="7" fill="#fa24ad"/>
<rect x="402" y="546" width="7" height="7" fill="#fa20a8"/>
<rect x="408" y="546" width="7" height="7" fill="#fa1ca3"/>
<rect x="414" y="546" width="7" height="7" fill="#fa1b9e"/>
<rect x="420" y="546" width="7" height="7" fill="#fa1a9a"/>
<rect x="426" y="546" width="7" height="7" fill="#fa1995"/>
<rect x="432" y="546" width="7" height="7" fill="#fa1991"/>
<rect x="438" y="546" width="7" height="7" fill="#fa198c"/>
<rect x="444" y="546" width="7" height="7" fill="#fa1988"/>
<rect x="450" y="546" width="7" height="7" fill="#fa1984"/>
<rect x="456" y="546" width="7" height="7" fill="#fa1980"/>
<rect x="462" y="546" width="7" height="7" fill="#fa197c"/>
<rect x="468" y="546" width="7" height="7" fill="#fa1978"/>
<rect x="474" y="546" width="7" height="7" fill="#fa1975"/>
<rect x="480" y="546" width="7" height="7" fill="#fa1971"/>
<rect x="486" y="546" width="7" height="7" fill="#fa196d"/>
<rect x="492" y="546" width="7" height="7" fill="#fa196a"/>
<rect x="498" y="546" width="7" height="7" fill="#fa1966"/>
<rect x="504" y="546" width="7" height="7" fill="#fa1963"/>
<rect x="510" y="546" width="7" height="7" fill="#fa195f"/>
<rect x="516" y="546" width="7" height="7" fill="#fa195c"/>
<rect x="522" y="546" width="7" height="7" fill="#fa1959"/>
<rect x="528" y="546" width="7" height="7" fill="#fa1955"/>
<rect x="534" y="546" width="7" height="7" fill="#fa1952"/>
<rect x="540" y="546" width="7" height="7" fill="#fa194f"/>
<rect x="546" y="546" width="7" height="7" fill="#fa194c"/>
<rect x="552" y="546" width="7" height="7" fill="#fa1949"/>
<rect x="558" y="546" width="7" height="7" fill="#fa1946"/>
<rect x="564" y="546" width="7" height="7" fill="#fa1943"/>
<rect x="570" y="546" width="7" height="7" fill="#fa1940"/>
<rect x="576" y="546" width="7" height="7" fill="#fa193d"/>
<rect x="582" y="546" width="7" height="7" fill="#fa193b"/>
<rect x="588" y="546" width="7" height="7" fill="#fa1938"/>
<rect x="594" y="546" width="7" height="7" fill="#fa1935"/>
<rect x="600" y="546" width="7" height="7" fill="#fa1932"/>
<rect x="606" y="546" width="7" height="7" fill="#fa1930"/>
<rect x="612" y="546" width="7" height="7" fill="#fa192d"/>
<rect x="618" y="546" width="7" height="7" fill="#fa192b"/>
<rect x="96" y="552" width="7" height="7" fill="#2dbbfa"/>
<rect x="102" y="552" width="13" height="7" fill="#2dbafa"/>
<rect x="114" y="552" width="7" height="7" fill="#2db9fa"/>
<rect x="120" y="552" width="7" height="7" fill="#2db8fa"/>
<rect x="126" y="552" width="7" height="7" fill="#2db7fa"/>
<rect x="132" y="552" width="7" height="7" fill="#2db6fa"/>
<rect x="138" y="552" width="7" height="7" fill="#2db5fa"/>
<rect x="144" y="552" width="7" height="7" fill="#2db4fa"/>
<rect x="150" y="552" width="7" height="7" fill="#2db2fa"/>
<rect x="156" y="552" width="7" height="7" fill="#2db1fa"/>
<rect x="162" y="552" width="7" height="7" fill="#2db0fa"/>
<rect x="168" y="552" width="7" height="7" fill="#2daffa"/>
<rect x="174" y="552" width="7" height="7" fill="#2daefa"/>
<rect x="180" y="552" width="7" height="7" fill="#2dacfa"/>
<rect x="186" y="552" width="7" height="7" fill="#2dabfa"/>
<rect x="192" y="552" width="7" height="7" fill="#2daafa"/>
<rect x="198" y="552" width="7" height="7" fill="#2da8fa"/>
<rect x="204" y="552" width="7" height="7" fill="#2da7fa"/>
<rect x="210" y="552" width="7" height="7" fill="#2da5fa"/>
<rect x="216" y="552" width="7" height="7" fill="#2da3fa"/>
<rect x="222" y="552" width="7" height="7" fill="#3aa2fa"/>
<rect x="228" y="552" width="7" height="7" fill="#48a0fa"/>
<rect x="234" y="552" width="7" height="7" fill="#579dfa"/>
<rect x="240" y="552" width="7" height="7" fill="#669afa"/>
<rect x="246" y="552" width="7" height="7" fill="#7496fa"/>
<rect x="252" y="552" width="7" height="7" fill="#828ffa"/>
<rect x="258" y="552" width="7" height="7" fill="#9089fa"/>
<rect x="264" y="552" width="7" height="7" fill="#9d87fa"/>
<rect x="270" y="552" width="7" height="7" fill="#aa85fa"/>
<rect x="276" y="552" width="7" height="7" fill="#b682fa"/>
<rect x="282" y="552" width="7" height="7" fill="#c280fa"/>
<rect x="288" y="552" width="7" height="7" fill="#cd7dfa"/>
<rect x="294" y="552" width="7" height="7" fill="#d97afa"/>
<rect x="300" y="552" width="7" height="7" fill="#e477fa"/>
<rect x="306" y="552" width="7" height="7" fill="#ee74fa"/>
<rect x="312" y="552" width="7" height="7" fill="#f971fa"/>
<rect x="318" y="552" width="7" height="7" fill="#fa69f5"/>
<rect x="324" y="552" width="7" height="7" fill="#fa61f0"/>
<rect x="330" y="552" width="7" height="7" fill="#fa59ea"/>
<rect x="336" y="552" width="7" height="7" fill="#fa52e4"/>
<rect x="342" y="552" width="7" height="7" fill="#fa4cdf"/>
<rect x="348" y="552" width="7" height="7" fill="#fa45d9"/>
<rect x="354" y="552" width="7" height="7" fill="#fa40d4"/>
<rect x="360" y="552" width="7" height="7" fill="#fa3ace"/>
<rect x="366" y="552" width="7" height="7" fill="#fa35c9"/>
<rect x="372" y="552" width="7" height="7" fill="#fa30c3"/>
<rect x="378" y="552" width="7" height="7" fill="#fa2bbe"/>
<rect x="384" y="552" width="7" height="7" fill="#fa27b9"/>
<rect x="390" y="552" width="7" height="7" fill="#fa23b4"/>
<rect x="396" y="552" width="7" height="7" fill="#fa1faf"/>
<rect x="402" y="552" width="7" height="7" fill="#fa1daa"/>
<rect x="408" y="552" width="7" height="7" fill="#fa1ca5"/>
<rect x="414" y="552" width="7" height="7" fill="#fa1ba0"/>
<rect x="420" y="552" width="7" height="7" fill="#fa1a9c"/>
<rect x="426" y="552" width="7" height="7" fill="#fa1997"/>
<rect x="432" y="552" width="7" height="7" fill="#fa1993"/>
<rect x="438" y="552" width="7" height="7" fill="#fa198e"/>
<rect x="444" y="552" width="7" height="7" fill="#fa198a"/>
<rect x="450" y="552" width="7" height="7" fill="#fa1986"/>
<rect x="456" y="552" width="7" height="7" fill="#fa1982"/>
<rect x="462" y="552" width="7" height="7" fill="#fa197e"/>
<rect x="468" y="552" width="7" height="7" fill="#fa197b"/>
<rect x="474" y="552" width="7" height="7" fill="#fa1977"/>
<rect x="480" y="552" width="7" height="7" fill="#fa1973"/>
<rect x="486" y="552" width="7" height="7" fill="#fa1970"/>
<rect x="492" y="552" width="7" height="7" fill="#fa196c"/>
<rect x="498" y="552" width="7" height="7" fill="#fa1968"/>
<rect x="504" y="552" width="7" height="7" fill="#fa1965"/>
<rect x="510" y="552" width="7" height="7" fill="#fa1962"/>
<rect x="516" y="552" width="7" height="7" fill="#fa195e"/>
<rect x="522" y="552" width="7" height="7" fill="#fa195b"/>
<rect x="528" y="552" width="7" height="7" fill="#fa1958"/>
<rect x="534" y="552" width="7" height="7" fill="#fa1955"/>
<rect x="540" y="552" width="7" height="7" fill="#fa1952"/>
<rect x="546" y="552" width="7" height="7" fill="#fa194f"/>
<rect x="552" y="552" width="7" height="7" fill="#fa194c"/>
<rect x="558" y="552" width="7" height="7" fill="#fa1949"/>
<rect x="564" y="552" width="7" height="7" fill="#fa1946"/>
<rect x="570" y="552" width="7" height="7" fill="#fa1943"/>
<rect x="576" y="552" width="7" height="7" fill="#fa1940"/>
<rect x="582" y="552" width="7" height="7" fill="#fa193d"/>
<rect x="588" y="552" width="7" height="7" fill="#fa193a"/>
<rect x="594" y="552" width="7" height="7" fill="#fa1938"/>
<rect x="600" y="552" width="7" height="7" fill="#fa1935"/>
<rect x="606" y="552" width="7" height="7" fill="#fa1932"/>
<rect x="102" y="558" width="7" height="7" fill="#2db6fa"/>
<rect x="108" y="558" width="7" height="7" fill="#2db5fa"/>
<rect x="114" y="558" width="7" height="7" fill="#2db4fa"/>
<rect x="120" y="558" width="7" height="7" fill="#2db3fa"/>
<rect x="126" y="558" width="7" height="7" fill="#2db2fa"/>
<rect x="132" y="558" width="7" height="7" fill="#2db1fa"/>
<rect x="138" y="558" width="7" height="7" fill="#2db0fa"/>
<rect x="144" y="558" width="7" height="7" fill="#2daefa"/>
<rect x="150" y="558" width="7" height="7" fill="#2dadfa"/>
<rect x="156" y="558" width="7" height="7" fill="#2dacfa"/>
<rect x="162" y="558" width="7" height="7" fill="#2dabfa"/>
<rect x="168" y="558" width="7" height="7" fill="#2da9fa"/>
<rect x="174" y="558" width="7" height="7" fill="#2da8fa"/>
<rect x="180" y="558" width="7" height="7" fill="#2da7fa"/>
<rect x="186" y="558" width="7" height="7" fill="#2da5fa"/>
<rect x="192" y="558" width="7" height="7" fill="#2da4fa"/>
<rect x="198" y="558" width="7" height="7" fill="#2da2fa"/>
<rect x="204" y="558" width="7" height="7" fill="#2da0fa"/>
<rect x="210" y="558" width="7" height="7" fill="#2d9ffa"/>
<rect x="216" y="558" width="7" height="7" fill="#2f9dfa"/>
<rect x="222" y="558" width="7" height="7" fill="#3d9bfa"/>
<rect x="228" y="558" width="7" height="7" fill="#4c99fa"/>
<rect x="234" y="558" width="7" height="7" fill="#5a96fa"/>
<rect x="240" y="558" width="7" height="7" fill="#6891fa"/>
<rect x="246" y="558" width="7" height="7" fill="#768cfa"/>
<rect x="252" y="558" width="7" height="7" fill="#8484fa"/>
<rect x="258" y="558" width="7" height="7" fill="#9182fa"/>
<rect x="264" y="558" width="7" height="7" fill="#9e7ffa"/>
<rect x="270" y="558" width="7" height="7" fill="#ab7dfa"/>
<rect x="276" y="558" width="7" height="7" fill="#b67afa"/>
<rect x="282" y="558" width="7" height="7" fill="#c277fa"/>
<rect x="288" y="558" width="7" height="7" fill="#cd74fa"/>
<rect x="294" y="558" width="7" height="7" fill="#d871fa"/>
<rect x="300" y="558" width="7" height="7" fill="#e36efa"/>
<rect x="306" y="558" width="7" height="7" fill="#ee6bfa"/>
<rect x="312" y="558" width="7" height="7" fill="#f868fa"/>
<rect x="318" y="558" width="7" height="7" fill="#fa60f5"/>
<rect x="324" y="558" width="7" height="7" fill="#fa59f0"/>
<rect x="330" y="558" width="7" height="7" fill="#fa51ea"/>
<rect x="336" y="558" width="7" height="7" fill="#fa4be5"/>
<rect x="342" y="558" width="7" height="7" fill="#fa45df"/>
<rect x="348" y="558" width="7" height="7" fill="#fa3fda"/>
<rect x="354" y="558" width="7" height="7" fill="#fa39d4"/>
<rect x="360" y="558" width="7" height="7" fill="#fa34cf"/>
<rect x="366" y="558" width="7" height="7" fill="#fa2fca"/>
<rect x="372" y="558" width="7" height="7" fill="#fa2ac5"/>
<rect x="378" y="558" width="7" height="7" fill="#fa26bf"/>
<rect x="384" y="558" width="7" height="7" fill="#fa22ba"/>
<rect x="390" y="558" width="7" height="7" fill="#fa1fb5"/>
<rect x="396" y="558" width="7" height="7" fill="#fa1eb1"/>
<rect x="402" y="558" width="7" height="7" fill="#fa1dac"/>
<rect x="408" y="558" width="7" height="7" fill="#fa1ca7"/>
<rect x="414" y="558" width="7" height="7" fill="#fa1ba2"/>
<rect x="420" y="558" width="7" height="7" fill="#fa1a9d"/>
<rect x="426" y="558" width="7" height="7" fill="#fa1a99"/>
<rect x="432" y="558" width="7" height="7" fill="#fa1994"/>
<rect x="438" y="558" width="7" height="7" fill="#fa1990"/>
<rect x="444" y="558" width="7" height="7" fill="#fa198c"/>
<rect x="450" y="558" width="7" height="7" fill="#fa1988"/>
<rect x="456" y="558" width="7" height="7" fill="#fa1984"/>
<rect x="462" y="558" width="7" height="7" fill="#fa1980"/>
<rect x="468" y="558" width="7" height="7" fill="#fa197d"/>
<rect x="474" y="558" width="7" height="7" fill="#fa1979"/>
<rect x="480" y="558" width="7" height="7" fill="#fa1975"/>
<rect x="486" y="558" width="7" height="7" fill="#fa1972"/>
<rect x="492" y="558" width="7" height="7" fill="#fa196e"/>
<rect x="498" y="558" width="7" height="7" fill="#fa196b"/>
<rect x="504" y="558" width="7" height="7" fill="#fa1967"/>
<rect x="510" y="558" width="7" height="7" fill="#fa1964"/>
<rect x="516" y="558" width="7" height="7" fill="#fa1961"/>
<rect x="522" y="558" width="7" height="7" fill="#fa195e"/>
<rect x="528" y="558" width="7" height="7" fill="#fa195a"/>
<rect x="534" y="558" width="7" height="7" fill="#fa1957"/>
<rect x="540" y="558" width="7" height="7" fill="#fa1954"/>
<rect x="546" y="558" width="7" height="7" fill="#fa1951"/>
<rect x="552" y="558" width="7" height="7" fill="#fa194e"/>
<rect x="558" y="558" width="7" height="7" fill="#fa194b"/>
<rect x="564" y="558" width="7" height="7" fill="#fa1948"/>
<rect x="570" y="558" width="7" height="7" fill="#fa1945"/>
<rect x="576" y="558" width="7" height="7" fill="#fa1943"/>
<rect x="582" y="558" width="7" height="7" fill="#fa1940"/>
<rect x="588" y="558" width="7" height="7" fill="#fa193d"/>
<rect x="102" y="564" width="7" height="7" fill="#2db1fa"/>
<rect x="108" y="564" width="7" height="7" fill="#2db0fa"/>
<rect x="114" y="564" width="7" height="7" fill="#2daffa"/>
<rect x="120" y="564" width="7" height="7" fill="#2daefa"/>
<rect x="126" y="564" width="7" height="7" fill="#2dadfa"/>
<rect x="132" y="564" width="7" height="7" fill="#2dacfa"/>
<rect x="138" y="564" width="7" height="7" fill="#2daafa"/>
<rect x="144" y="564" width="7" height="7" fill="#2da9fa"/>
<rect x="150" y="564" width="7" height="7" fill="#2da8fa"/>
<rect x="156" y="564" width="7" height="7" fill="#2da7fa"/>
<rect x="162" y="564" width="7" height="7" fill="#2da5fa"/>
<rect x="168" y="564" width="7" height="7" fill="#2da4fa"/>
<rect x="174" y="564" width="7" height="7" fill="#2da2fa"/>
<rect x="180" y="564" width="7" height="7" fill="#2da1fa"/>
<rect x="186" y="564" width="7" height="7" fill="#2d9ffa"/>
<rect x="192" y="564" width="7" height="7" fill="#2d9efa"/>
<rect x="198" y="564" width="7" height="7" fill="#2d9cfa"/>
<rect x="204" y="564" width="7" height="7" fill="#2d9afa"/>
<rect x="210" y="564" width="7" height="7" fill="#2d98fa"/>
<rect x="216" y="564" width="7" height="7" fill="#3396fa"/>
<rect x="222" y="564" width="7" height="7" fill="#4194fa"/>
<rect x="228" y="564" width="7" height="7" fill="#4f91fa"/>
<rect x="234" y="564" width="7" height="7" fill="#5d8dfa"/>
<rect x="240" y="564" width="7" height="7" fill="#6b88fa"/>
<rect x="246" y="564" width="7" height="7" fill="#7981fa"/>
<rect x="252" y="564" width="7" height="7" fill="#867dfa"/>
<rect x="258" y="564" width="7" height="7" fill="#937afa"/>
<rect x="264" y="564" width="7" height="7" fill="#9f77fa"/>
<rect x="270" y="564" width="7" height="7" fill="#ab75fa"/>
<rect x="276" y="564" width="7" height="7" fill="#b772fa"/>
<rect x="282" y="564" width="7" height="7" fill="#c26ffa"/>
<rect x="288" y="564" width="7" height="7" fill="#cd6cfa"/>
<rect x="294" y="564" width="7" height="7" fill="#d869fa"/>
<rect x="300" y="564" width="7" height="7" fill="#e366fa"/>
<rect x="306" y="564" width="7" height="7" fill="#ed62fa"/>
<rect x="312" y="564" width="7" height="7" fill="#f85ffa"/>
<rect x="318" y="564" width="7" height="7" fill="#fa58f6"/>
<rect x="324" y="564" width="7" height="7" fill="#fa51f0"/>
<rect x="330" y="564" width="7" height="7" fill="#fa4aeb"/>
<rect x="336" y="564" width="7" height="7" fill="#fa43e5"/>
<rect x="342" y="564" width="7" height="7" fill="#fa3ee0"/>
<rect x="348" y="564" width="7" height="7" fill="#fa38db"/>
<rect x="354" y="564" width="7" height="7" fill="#fa33d5"/>
<rect x="360" y="564" width="7" height="7" fill="#fa2ed0"/>
<rect x="366" y="564" width="7" height="7" fill="#fa29cb"/>
<rect x="372" y="564" width="7" height="7" fill="#fa25c6"/>
<rect x="378" y="564" width="7" height="7" fill="#fa21c1"/>
<rect x="384" y="564" width="7" height="7" fill="#fa20bc"/>
<rect x="390" y="564" width="7" height="7" fill="#fa1fb7"/>
<rect x="396" y="564" width="7" height="7" fill="#fa1eb2"/>
<rect x="402" y="564" width="7" height="7" fill="#fa1dad"/>
<rect x="408" y="564" width="7" height="7" fill="#fa1ca9"/>
<rect x="414" y="564" width="7" height="7" fill="#fa1ca4"/>
<rect x="420" y="564" width="7" height="7" fill="#fa1b9f"/>
<rect x="426" y="564" width="7" height="7" fill="#fa1a9b"/>
<rect x="432" y="564" width="7" height="7" fill="#fa1996"/>
<rect x="438" y="564" width="7" height="7" fill="#fa1992"/>
<rect x="444" y="564" width="7" height="7" fill="#fa198e"/>
<rect x="450" y="564" width="7" height="7" fill="#fa198a"/>
<rect x="456" y="564" width="7" height="7" fill="#fa1986"/>
<rect x="462" y="564" width="7" height="7" fill="#fa1983"/>
<rect x="468" y="564" width="7" height="7" fill="#fa197f"/>
<rect x="474" y="564" width="7" height="7" fill="#fa197b"/>
<rect x="480" y="564" width="7" height="7" fill="#fa1978"/>
<rect x="486" y="564" width="7" height="7" fill="#fa1974"/>
<rect x="492" y="564" width="7" height="7" fill="#fa1970"/>
<rect x="498" y="564" width="7" height="7" fill="#fa196d"/>
<rect x="504" y="564" width="7" height="7" fill="#fa196a"/>
<rect x="510" y="564" width="7" height="7" fill="#fa1966"/>
<rect x="516" y="564" width="7" height="7" fill="#fa1963"/>
<rect x="522" y="564" width="7" height="7" fill="#fa1960"/>
<rect x="528" y="564" width="7" height="7" fill="#fa195d"/>
<rect x="534" y="564" width="7" height="7" fill="#fa195a"/>
<rect x="540" y="564" width="7" height="7" fill="#fa1957"/>
<rect x="546" y="564" width="7" height="7" fill="#fa1954"/>
<rect x="552" y="564" width="7" height="7" fill="#fa1951"/>
<rect x="558" y="564" width="7" height="7" fill="#fa194e"/>
<rect x="564" y="564" width="7" height="7" fill="#fa194b"/>
<rect x="570" y="564" width="7" height="7" fill="#fa1948"/>
<rect x="576" y="564" width="7" height="7" fill="#fa1945"/>
<rect x="102" y="570" width="7" height="7" fill="#2dacfa"/>
<rect x="108" y="570" width="7" height="7" fill="#2dabfa"/>
<rect x="114" y="570" width="7" height="7" fill="#2daafa"/>
<rect x="120" y="570" width="7" height="7" fill="#2da9fa"/>
<rect x="126" y="570" width="7" height="7" fill="#2da8fa"/>
<rect x="132" y="570" width="7" height="7" fill="#2da6fa"/>
<rect x="138" y="570" width="7" height="7" fill="#2da5fa"/>
<rect x="144" y="570" width="7" height="7" fill="#2da4fa"/>
<rect x="150" y="570" width="7" height="7" fill="#2da2fa"/>
<rect x="156" y="570" width="7" height="7" fill="#2da1fa"/>
<rect x="162" y="570" width="7" height="7" fill="#2da0fa"/>
<rect x="168" y="570" width="7" height="7" fill="#2d9efa"/>
<rect x="174" y="570" width="7" height="7" fill="#2d9cfa"/>
<rect x="180" y="570" width="7" height="7" fill="#2d9bfa"/>
<rect x="186" y="570" width="7" height="7" fill="#2d99fa"/>
<rect x="192" y="570" width="7" height="7" fill="#2d97fa"/>
<rect x="198" y="570" width="7" height="7" fill="#2d96fa"/>
<rect x="204" y="570" width="7" height="7" fill="#2d94fa"/>
<rect x="210" y="570" width="7" height="7" fill="#2d92fa"/>
<rect x="216" y="570" width="7" height="7" fill="#3790fa"/>
<rect x="222" y="570" width="7" height="7" fill="#448dfa"/>
<rect x="228" y="570" width="7" height="7" fill="#5289fa"/>
<rect x="234" y="570" width="7" height="7" fill="#6085fa"/>
<rect x="240" y="570" width="7" height="7" fill="#6e7ffa"/>
<rect x="246" y="570" width="7" height="7" fill="#7b78fa"/>
<rect x="252" y="570" width="7" height="7" fill="#8875fa"/>
<rect x="258" y="570" width="7" height="7" fill="#9472fa"/>
<rect x="264" y="570" width="7" height="7" fill="#a070fa"/>
<rect x="270" y="570" width="7" height="7" fill="#ac6dfa"/>
<rect x="276" y="570" width="7" height="7" fill="#b76afa"/>
<rect x="282" y="570" width="7" height="7" fill="#c267fa"/>
<rect x="288" y="570" width="7" height="7" fill="#cd64fa"/>
<rect x="294" y="570" width="7" height="7" fill="#d861fa"/>
<rect x="300" y="570" width="7" height="7" fill="#e25dfa"/>
<rect x="306" y="570" width="7" height="7" fill="#ed5afa"/>
<rect x="312" y="570" width="7" height="7" fill="#f856fa"/>
<rect x="318" y="570" width="7" height="7" fill="#fa50f6"/>
<rect x="324" y="570" width="7" height="7" fill="#fa49f1"/>
<rect x="330" y="570" width="7" height="7" fill="#fa42eb"/>
<rect x="336" y="570" width="7" height="7" fill="#fa3ce6"/>
<rect x="342" y="570" width="7" height="7" fill="#fa37e1"/>
<rect x="348" y="570" width="7" height="7" fill="#fa31db"/>
<rect x="354" y="570" width="7" height="7" fill="#fa2cd6"/>
<rect x="360" y="570" width="7" height="7" fill="#fa28d1"/>
<rect x="366" y="570" width="7" height="7" fill="#fa23cc"/>
<rect x="372" y="570" width="7" height="7" fill="#fa22c7"/>
<rect x="378" y="570" width="7" height="7" fill="#fa21c2"/>
<rect x="384" y="570" width="7" height="7" fill="#fa20bd"/>
<rect x="390" y="570" width="7" height="7" fill="#fa1fb8"/>
<rect x="396" y="570" width="7" height="7" fill="#fa1fb4"/>
<rect x="402" y="570" width="7" height="7" fill="#fa1eaf"/>
<rect x="408" y="570" width="7" height="7" fill="#fa1daa"/>
<rect x="414" y="570" width="7" height="7" fill="#fa1ca6"/>
<rect x="420" y="570" width="7" height="7" fill="#fa1ba1"/>
<rect x="426" y="570" width="7" height="7" fill="#fa1a9d"/>
<rect x="432" y="570" width="7" height="7" fill="#fa1998"/>
<rect x="438" y="570" width="7" height="7" fill="#fa1994"/>
<rect x="444" y="570" width="7" height="7" fill="#fa1990"/>
<rect x="450" y="570" width="7" height="7" fill="#fa198c"/>
<rect x="456" y="570" width="7" height="7" fill="#fa1988"/>
<rect x="462" y="570" width="7" height="7" fill="#fa1985"/>
<rect x="468" y="570" width="7" height="7" fill="#fa1981"/>
<rect x="474" y="570" width="7" height="7" fill="#fa197d"/>
<rect x="480" y="570" width="7" height="7" fill="#fa197a"/>
<rect x="486" y="570" width="7" height="7" fill="#fa1976"/>
<rect x="492" y="570" width="7" height="7" fill="#fa1973"/>
<rect x="498" y="570" width="7" height="7" fill="#fa196f"/>
<rect x="504" y="570" width="7" height="7" fill="#fa196c"/>
<rect x="510" y="570" width="7" height="7" fill="#fa1969"/>
<rect x="516" y="570" width="7" height="7" fill="#fa1965"/>
<rect x="522" y="570" width="7" height="7" fill="#fa1962"/>
<rect x="528" y="570" width="7" height="7" fill="#fa195f"/>
<rect x="534" y="570" width="7" height="7" fill="#fa195c"/>
<rect x="540" y="570" width="7" height="7" fill="#fa1959"/>
<rect x="546" y="570" width="7" height="7" fill="#fa1956"/>
<rect x="552" y="570" width="7" height="7" fill="#fa1953"/>
<rect x="558" y="570" width="7" height="7" fill="#fa1950"/>
<rect x="564" y="570" width="7" height="7" fill="#fa194d"/>
<rect x="108" y="576" width="7" height="7" fill="#2da6fa"/>
<rect x="114" y="576" width="7" height="7" fill="#2da5fa"/>
<rect x="120" y="576" width="7" height="7" fill="#2da4fa"/>
<rect x="126" y="576" width="7" height="7" fill="#2da3fa"/>
<rect x="132" y="576" width="7" height="7" fill="#2da1fa"/>
<rect x="138" y="576" width="7" height="7" fill="#2da0fa"/>
<rect x="144" y="576" width="7" height="7" fill="#2d9ffa"/>
<rect x="150" y="576" width="7" height="7" fill="#2d9dfa"/>
<rect x="156" y="576" width="7" height="7" fill="#2d9cfa"/>
<rect x="162" y="576" width="7" height="7" fill="#2d9afa"/>
<rect x="168" y="576" width="7" height="7" fill="#2d98fa"/>
<rect x="174" y="576" width="7" height="7" fill="#2d97fa"/>
<rect x="180" y="576" width="7" height="7" fill="#2d95fa"/>
<rect x="186" y="576" width="7" height="7" fill="#2d93fa"/>
<rect x="192" y="576" width="7" height="7" fill="#2d91fa"/>
<rect x="198" y="576" width="7" height="7" fill="#2d8ffa"/>
<rect x="204" y="576" width="7" height="7" fill="#2d8dfa"/>
<rect x="210" y="576" width="7" height="7" fill="#2d8bfa"/>
<rect x="216" y="576" width="7" height="7" fill="#3a89fa"/>
<rect x="222" y="576" width="7" height="7" fill="#4885fa"/>
<rect x="228" y="576" width="7" height="7" fill="#5581fa"/>
<rect x="234" y="576" width="7" height="7" fill="#637bfa"/>
<rect x="240" y="576" width="7" height="7" fill="#7074fa"/>
<rect x="246" y="576" width="7" height="7" fill="#7d70fa"/>
<rect x="252" y="576" width="7" height="7" fill="#896efa"/>
<rect x="258" y="576" width="7" height="7" fill="#956bfa"/>
<rect x="264" y="576" width="7" height="7" fill="#a168fa"/>
<rect x="270" y="576" width="7" height="7" fill="#ac65fa"/>
<rect x="276" y="576" width="7" height="7" fill="#b762fa"/>
<rect x="282" y="576" width="7" height="7" fill="#c25ffa"/>
<rect x="288" y="576" width="7" height="7" fill="#cd5cfa"/>
<rect x="294" y="576" width="7" height="7" fill="#d858fa"/>
<rect x="300" y="576" width="7" height="7" fill="#e255fa"/>
<rect x="306" y="576" width="7" height="7" fill="#ed51fa"/>
<rect x="312" y="576" width="7" height="7" fill="#f74dfa"/>
<rect x="318" y="576" width="7" height="7" fill="#fa47f6"/>
<rect x="324" y="576" width="7" height="7" fill="#fa41f1"/>
<rect x="330" y="576" width="7" height="7" fill="#fa3bec"/>
<rect x="336" y="576" width="7" height="7" fill="#fa35e6"/>
<rect x="342" y="576" width="7" height="7" fill="#fa30e1"/>
<rect x="348" y="576" width="7" height="7" fill="#fa2bdc"/>
<rect x="354" y="576" width="7" height="7" fill="#fa26d7"/>
<rect x="360" y="576" width="7" height="7" fill="#fa25d2"/>
<rect x="366" y="576" width="7" height="7" fill="#fa24cd"/>
<rect x="372" y="576" width="7" height="7" fill="#fa23c8"/>
<rect x="378" y="576" width="7" height="7" fill="#fa22c3"/>
<rect x="384" y="576" width="7" height="7" fill="#fa21be"/>
<rect x="390" y="576" width="7" height="7" fill="#fa20ba"/>
<rect x="396" y="576" width="7" height="7" fill="#fa1fb5"/>
<rect x="402" y="576" width="7" height="7" fill="#fa1eb0"/>
<rect x="408" y="576" width="7" height="7" fill="#fa1dac"/>
<rect x="414" y="576" width="7" height="7" fill="#fa1ca7"/>
<rect x="420" y="576" width="7" height="7" fill="#fa1ba3"/>
<rect x="426" y="576" width="7" height="7" fill="#fa1b9e"/>
<rect x="432" y="576" width="7" height="7" fill="#fa1a9a"/>
<rect x="438" y="576" width="7" height="7" fill="#fa1996"/>
<rect x="444" y="576" width="7" height="7" fill="#fa1992"/>
<rect x="450" y="576" width="7" height="7" fill="#fa198e"/>
<rect x="456" y="576" width="7" height="7" fill="#fa198a"/>
<rect x="462" y="576" width="7" height="7" fill="#fa1986"/>
<rect x="468" y="576" width="7" height="7" fill="#fa1983"/>
<rect x="474" y="576" width="7" height="7" fill="#fa197f"/>
<rect x="480" y="576" width="7" height="7" fill="#fa197c"/>
<rect x="486" y="576" width="7" height="7" fill="#fa1978"/>
<rect x="492" y="576" width="7" height="7" fill="#fa1975"/>
<rect x="498" y="576" width="7" height="7" fill="#fa1971"/>
<rect x="504" y="576" width="7" height="7" fill="#fa196e"/>
<rect x="510" y="576" width="7" height="7" fill="#fa196b"/>
<rect x="516" y="576" width="7" height="7" fill="#fa1968"/>
<rect x="522" y="576" width="7" height="7" fill="#fa1964"/>
<rect x="528" y="576" width="7" height="7" fill="#fa1961"/>
<rect x="534" y="576" width="7" height="7" fill="#fa195e"/>
<rect x="540" y="576" width="7" height="7" fill="#fa195b"/>
<rect x="546" y="576" width="7" height="7" fill="#fa1958"/>
<rect x="552" y="576" width="7" height="7" fill="#fa1955"/>
<rect x="108" y="582" width="7" height="7" fill="#2da2fa"/>
<rect x="114" y="582" width="7" height="7" fill="#2da0fa"/>
<rect x="120" y="582" width="7" height="7" fill="#2d9ffa"/>
<rect x="126" y="582" width="7" height="7" fill="#2d9efa"/>
<rect x="132" y="582" width="7" height="7" fill="#2d9cfa"/>
<rect x="138" y="582" width="7" height="7" fill="#2d9bfa"/>
<rect x="144" y="582" width="7" height="7" fill="#2d99fa"/>
<rect x="150" y="582" width="7" height="7" fill="#2d98fa"/>
<rect x="156" y="582" width="7" height="7" fill="#2d96fa"/>
<rect x="162" y="582" width="7" height="7" fill="#2d94fa"/>
<rect x="168" y="582" width="7" height="7" fill="#2d93fa"/>
<rect x="174" y="582" width="7" height="7" fill="#2d91fa"/>
<rect x="180" y="582" width="7" height="7" fill="#2d8ffa"/>
<rect x="186" y="582" width="7" height="7" fill="#2d8dfa"/>
<rect x="192" y="582" width="7" height="7" fill="#2d8bfa"/>
<rect x="198" y="582" width="7" height="7" fill="#2d89fa"/>
<rect x="204" y="582" width="7" height="7" fill="#2d87fa"/>
<rect x="210" y="582" width="7" height="7" fill="#3085fa"/>
<rect x="216" y="582" width="7" height="7" fill="#3e81fa"/>
<rect x="222" y="582" width="7" height="7" fill="#4b7dfa"/>
<rect x="228" y="582" width="7" height="7" fill="#5878fa"/>
<rect x="234" y="582" width="7" height="7" fill="#6572fa"/>
<rect x="240" y="582" width="7" height="7" fill="#726cfa"/>
<rect x="246" y="582" width="7" height="7" fill="#7f69fa"/>
<rect x="252" y="582" width="7" height="7" fill="#8a66fa"/>
<rect x="258" y="582" width="7" height="7" fill="#9664fa"/>
<rect x="264" y="582" width="7" height="7" fill="#a161fa"/>
<rect x="270" y="582" width="7" height="7" fill="#ac5efa"/>
<rect x="276" y="582" width="7" height="7" fill="#b75bfa"/>
<rect x="282" y="582" width="7" height="7" fill="#c257fa"/>
<rect x="288" y="582" width="7" height="7" fill="#cd54fa"/>
<rect x="294" y="582" width="7" height="7" fill="#d750fa"/>
<rect x="300" y="582" width="7" height="7" fill="#e24dfa"/>
<rect x="306" y="582" width="7" height="7" fill="#ec49fa"/>
<rect x="312" y="582" width="7" height="7" fill="#f745fa"/>
<rect x="318" y="582" width="7" height="7" fill="#fa3ff6"/>
<rect x="324" y="582" width="7" height="7" fill="#fa39f1"/>
<rect x="330" y="582" width="7" height="7" fill="#fa33ec"/>
<rect x="336" y="582" width="7" height="7" fill="#fa2ee7"/>
<rect x="342" y="582" width="7" height="7" fill="#fa29e2"/>
<rect x="348" y="582" width="7" height="7" fill="#fa27dd"/>
<rect x="354" y="582" width="7" height="7" fill="#fa26d8"/>
<rect x="360" y="582" width="7" height="7" fill="#fa25d3"/>
<rect x="366" y="582" width="7" height="7" fill="#fa24ce"/>
<rect x="372" y="582" width="7" height="7" fill="#fa23c9"/>
<rect x="378" y="582" width="7" height="7" fill="#fa22c4"/>
<rect x="384" y="582" width="7" height="7" fill="#fa21c0"/>
<rect x="390" y="582" width="7" height="7" fill="#fa20bb"/>
<rect x="396" y="582" width="7" height="7" fill="#fa1fb6"/>
<rect x="402" y="582" width="7" height="7" fill="#fa1eb2"/>
<rect x="408" y="582" width="7" height="7" fill="#fa1dad"/>
<rect x="414" y="582" width="7" height="7" fill="#fa1da9"/>
<rect x="420" y="582" width="7" height="7" fill="#fa1ca4"/>
<rect x="426" y="582" width="7" height="7" fill="#fa1ba0"/>
<rect x="432" y="582" width="7" height="7" fill="#fa1a9c"/>
<rect x="438" y="582" width="7" height="7" fill="#fa1998"/>
<rect x="444" y="582" width="7" height="7" fill="#fa1994"/>
<rect x="450" y="582" width="7" height="7" fill="#fa1990"/>
<rect x="456" y="582" width="7" height="7" fill="#fa198c"/>
<rect x="462" y="582" width="7" height="7" fill="#fa1988"/>
<rect x="468" y="582" width="7" height="7" fill="#fa1985"/>
<rect x="474" y="582" width="7" height="7" fill="#fa1981"/>
<rect x="480" y="582" width="7" height="7" fill="#fa197e"/>
<rect x="486" y="582" width="7" height="7" fill="#fa197a"/>
<rect x="492" y="582" width="7" height="7" fill="#fa1977"/>
<rect x="498" y="582" width="7" height="7" fill="#fa1973"/>
<rect x="504" y="582" width="7" height="7" fill="#fa1970"/>
<rect x="510" y="582" width="7" height="7" fill="#fa196d"/>
<rect x="516" y="582" width="7" height="7" fill="#fa196a"/>
<rect x="522" y="582" width="7" height="7" fill="#fa1967"/>
<rect x="528" y="582" width="7" height="7" fill="#fa1963"/>
<rect x="534" y="582" width="7" height="7" fill="#fa1960"/>
<rect x="540" y="582" width="7" height="7" fill="#fa195d"/>
<rect x="108" y="588" width="7" height="7" fill="#2d9dfa"/>
<rect x="114" y="588" width="7" height="7" fill="#2d9bfa"/>
<rect x="120" y="588" width="7" height="7" fill="#2d9afa"/>
<rect x="126" y="588" width="7" height="7" fill="#2d98fa"/>
<rect x="132" y="588" width="7" height="7" fill="#2d97fa"/>
<rect x="138" y="588" width="7" height="7" fill="#2d95fa"/>
<rect x="144" y="588" width="7" height="7" fill="#2d94fa"/>
<rect x="150" y="588" width="7" height="7" fill="#2d92fa"/>
<rect x="156" y="588" width="7" height="7" fill="#2d90fa"/>
<rect x="162" y="588" width="7" height="7" fill="#2d8ffa"/>
<rect x="168" y="588" width="7" height="7" fill="#2d8dfa"/>
<rect x="174" y="588" width="7" height="7" fill="#2d8bfa"/>
<rect x="180" y="588" width="7" height="7" fill="#2d89fa"/>
<rect x="186" y="588" width="7" height="7" fill="#2d87fa"/>
<rect x="192" y="588" width="7" height="7" fill="#2d85fa"/>
<rect x="198" y="588" width="7" height="7" fill="#2d83fa"/>
<rect x="204" y="588" width="7" height="7" fill="#2d80fa"/>
<rect x="210" y="588" width="7" height="7" fill="#347efa"/>
<rect x="216" y="588" width="7" height="7" fill="#417afa"/>
<rect x="222" y="588" width="7" height="7" fill="#4e75fa"/>
<rect x="228" y="588" width="7" height="7" fill="#5b6ffa"/>
<rect x="234" y="588" width="7" height="7" fill="#6868fa"/>
<rect x="240" y="588" width="7" height="7" fill="#7465fa"/>
<rect x="246" y="588" width="7" height="7" fill="#8062fa"/>
<rect x="252" y="588" width="7" height="7" fill="#8c5ffa"/>
<rect x="258" y="588" width="7" height="7" fill="#975cfa"/>
<rect x="264" y="588" width="7" height="7" fill="#a259fa"/>
<rect x="270" y="588" width="7" height="7" fill="#ad56fa"/>
<rect x="276" y="588" width="7" height="7" fill="#b853fa"/>
<rect x="282" y="588" width="7" height="7" fill="#c250fa"/>
<rect x="288" y="588" width="7" height="7" fill="#cd4cfa"/>
<rect x="294" y="588" width="7" height="7" fill="#d748fa"/>
<rect x="300" y="588" width="7" height="7" fill="#e145fa"/>
<rect x="306" y="588" width="7" height="7" fill="#ec41fa"/>
<rect x="312" y="588" width="7" height="7" fill="#f63dfa"/>
<rect x="318" y="588" width="7" height="7" fill="#fa37f7"/>
<rect x="324" y="588" width="7" height="7" fill="#fa32f2"/>
<rect x="330" y="588" width="7" height="7" fill="#fa2cec"/>
<rect x="336" y="588" width="7" height="7" fill="#fa29e7"/>
<rect x="342" y="588" width="7" height="7" fill="#fa28e2"/>
<rect x="348" y="588" width="7" height="7" fill="#fa27dd"/>
<rect x="354" y="588" width="7" height="7" fill="#fa26d9"/>
<rect x="360" y="588" width="7" height="7" fill="#fa25d4"/>
<rect x="366" y="588" width="7" height="7" fill="#fa24cf"/>
<rect x="372" y="588" width="7" height="7" fill="#fa23ca"/>
<rect x="378" y="588" width="7" height="7" fill="#fa22c6"/>
<rect x="384" y="588" width="7" height="7" fill="#fa21c1"/>
<rect x="390" y="588" width="7" height="7" fill="#fa20bc"/>
<rect x="396" y="588" width="7" height="7" fill="#fa1fb8"/>
<rect x="402" y="588" width="7" height="7" fill="#fa1fb3"/>
<rect x="408" y="588" width="7" height="7" fill="#fa1eaf"/>
<rect x="414" y="588" width="7" height="7" fill="#fa1daa"/>
<rect x="420" y="588" width="7" height="7" fill="#fa1ca6"/>
<rect x="426" y="588" width="7" height="7" fill="#fa1ba2"/>
<rect x="432" y="588" width="7" height="7" fill="#fa1a9e"/>
<rect x="438" y="588" width="7" height="7" fill="#fa1a99"/>
<rect x="444" y="588" width="7" height="7" fill="#fa1995"/>
<rect x="450" y="588" width="7" height="7" fill="#fa1991"/>
<rect x="456" y="588" width="7" height="7" fill="#fa198e"/>
<rect x="462" y="588" width="7" height="7" fill="#fa198a"/>
<rect x="468" y="588" width="7" height="7" fill="#fa1987"/>
<rect x="474" y="588" width="7" height="7" fill="#fa1983"/>
<rect x="480" y="588" width="7" height="7" fill="#fa1980"/>
<rect x="486" y="588" width="7" height="7" fill="#fa197c"/>
<rect x="492" y="588" width="7" height="7" fill="#fa1979"/>
<rect x="498" y="588" width="7" height="7" fill="#fa1975"/>
<rect x="504" y="588" width="7" height="7" fill="#fa1972"/>
<rect x="510" y="588" width="7" height="7" fill="#fa196f"/>
<rect x="516" y="588" width="7" height="7" fill="#fa196c"/>
<rect x="522" y="588" width="7" height="7" fill="#fa1969"/>
<rect x="528" y="588" width="7" height="7" fill="#fa1966"/>
<rect x="108" y="594" width="7" height="7" fill="#2d98fa"/>
<rect x="114" y="594" width="7" height="7" fill="#2d96fa"/>
<rect x="120" y="594" width="7" height="7" fill="#2d95fa"/>
<rect x="126" y="594" width="7" height="7" fill="#2d93fa"/>
<rect x="132" y="594" width="7" height="7" fill="#2d92fa"/>
<rect x="138" y="594" width="7" height="7" fill="#2d90fa"/>
<rect x="144" y="594" width="7" height="7" fill="#2d8efa"/>
<rect x="150" y="594" width="7" height="7" fill="#2d8cfa"/>
<rect x="156" y="594" width="7" height="7" fill="#2d8bfa"/>
<rect x="162" y="594" width="7" height="7" fill="#2d89fa"/>
<rect x="168" y="594" width="7" height="7" fill="#2d87fa"/>
<rect x="174" y="594" width="7" height="7" fill="#2d85fa"/>
<rect x="180" y="594" width="7" height="7" fill="#2d83fa"/>
<rect x="186" y="594" width="7" height="7" fill="#2d81fa"/>
<rect x="192" y="594" width="7" height="7" fill="#2d7efa"/>
<rect x="198" y="594" width="7" height="7" fill="#2d7cfa"/>
<rect x="204" y="594" width="7" height="7" fill="#2d7afa"/>
<rect x="210" y="594" width="7" height="7" fill="#3776fa"/>
<rect x="216" y="594" width="7" height="7" fill="#4472fa"/>
<rect x="222" y="594" width="7" height="7" fill="#516dfa"/>
<rect x="228" y="594" width="7" height="7" fill="#5e66fa"/>
<rect x="234" y="594" width="7" height="7" fill="#6a61fa"/>
<rect x="240" y="594" width="7" height="7" fill="#765efa"/>
<rect x="246" y="594" width="7" height="7" fill="#815bfa"/>
<rect x="252" y="594" width="7" height="7" fill="#8d58fa"/>
<rect x="258" y="594" width="7" height="7" fill="#9855fa"/>
<rect x="264" y="594" width="7" height="7" fill="#a252fa"/>
<rect x="270" y="594" width="7" height="7" fill="#ad4ffa"/>
<rect x="276" y="594" width="7" height="7" fill="#b84bfa"/>
<rect x="282" y="594" width="7" height="7" fill="#c248fa"/>
<rect x="288" y="594" width="7" height="7" fill="#cc44fa"/>
<rect x="294" y="594" width="7" height="7" fill="#d741fa"/>
<rect x="300" y="594" width="7" height="7" fill="#e13dfa"/>
<rect x="306" y="594" width="7" height="7" fill="#eb39fa"/>
<rect x="312" y="594" width="7" height="7" fill="#f635fa"/>
<rect x="318" y="594" width="7" height="7" fill="#fa2ff7"/>
<rect x="324" y="594" width="7" height="7" fill="#fa2bf2"/>
<rect x="330" y="594" width="7" height="7" fill="#fa2aed"/>
<rect x="336" y="594" width="7" height="7" fill="#fa29e8"/>
<rect x="342" y="594" width="7" height="7" fill="#fa28e3"/>
<rect x="348" y="594" width="7" height="7" fill="#fa27de"/>
<rect x="354" y="594" width="7" height="7" fill="#fa26d9"/>
<rect x="360" y="594" width="7" height="7" fill="#fa25d5"/>
<rect x="366" y="594" width="7" height="7" fill="#fa24d0"/>
<rect x="372" y="594" width="7" height="7" fill="#fa23cb"/>
<rect x="378" y="594" width="7" height="7" fill="#fa22c7"/>
<rect x="384" y="594" width="7" height="7" fill="#fa21c2"/>
<rect x="390" y="594" width="7" height="7" fill="#fa21be"/>
<rect x="396" y="594" width="7" height="7" fill="#fa20b9"/>
<rect x="402" y="594" width="7" height="7" fill="#fa1fb5"/>
<rect x="408" y="594" width="7" height="7" fill="#fa1eb0"/>
<rect x="414" y="594" width="7" height="7" fill="#fa1dac"/>
<rect x="420" y="594" width="7" height="7" fill="#fa1ca8"/>
<rect x="426" y="594" width="7" height="7" fill="#fa1ba3"/>
<rect x="432" y="594" width="7" height="7" fill="#fa1b9f"/>
<rect x="438" y="594" width="7" height="7" fill="#fa1a9b"/>
<rect x="444" y="594" width="7" height="7" fill="#fa1997"/>
<rect x="450" y="594" width="7" height="7" fill="#fa1993"/>
<rect x="456" y="594" width="7" height="7" fill="#fa198f"/>
<rect x="462" y="594" width="7" height="7" fill="#fa198c"/>
<rect x="468" y="594" width="7" height="7" fill="#fa1988"/>
<rect x="474" y="594" width="7" height="7" fill="#fa1985"/>
<rect x="480" y="594" width="7" height="7" fill="#fa1981"/>
<rect x="486" y="594" width="7" height="7" fill="#fa197e"/>
<rect x="492" y="594" width="7" height="7" fill="#fa197b"/>
<rect x="498" y="594" width="7" height="7" fill="#fa1977"/>
<rect x="504" y="594" width="7" height="7" fill="#fa1974"/>
<rect x="510" y="594" width="7" height="7" fill="#fa1971"/>
<rect x="114" y="600" width="7" height="7" fill="#2d91fa"/>
<rect x="120" y="600" width="7" height="7" fill="#2d90fa"/>
<rect x="126" y="600" width="7" height="7" fill="#2d8efa"/>
<rect x="132" y="600" width="7" height="7" fill="#2d8cfa"/>
<rect x="138" y="600" width="7" height="7" fill="#2d8bfa"/>
<rect x="144" y="600" width="7" height="7" fill="#2d89fa"/>
<rect x="150" y="600" width="7" height="7" fill="#2d87fa"/>
<rect x="156" y="600" width="7" height="7" fill="#2d85fa"/>
<rect x="162" y="600" width="7" height="7" fill="#2d83fa"/>
<rect x="168" y="600" width="7" height="7" fill="#2d81fa"/>
<rect x="174" y="600" width="7" height="7" fill="#2d7ffa"/>
<rect x="180" y="600" width="7" height="7" fill="#2d7dfa"/>
<rect x="186" y="600" width="7" height="7" fill="#2d7afa"/>
<rect x="192" y="600" width="7" height="7" fill="#2d78fa"/>
<rect x="198" y="600" width="7" height="7" fill="#2d76fa"/>
<rect x="204" y="600" width="7" height="7" fill="#2e73fa"/>
<rect x="210" y="600" width="7" height="7" fill="#3b6ffa"/>
<rect x="216" y="600" width="7" height="7" fill="#476afa"/>
<rect x="222" y="600" width="7" height="7" fill="#5463fa"/>
<rect x="228" y="600" width="7" height="7" fill="#605dfa"/>
<rect x="234" y="600" width="7" height="7" fill="#6c5afa"/>
<rect x="240" y="600" width="7" height="7" fill="#7757fa"/>
<rect x="246" y="600" width="7" height="7" fill="#8354fa"/>
<rect x="252" y="600" width="7" height="7" fill="#8e51fa"/>
<rect x="258" y="600" width="7" height="7" fill="#984efa"/>
<rect x="264" y="600" width="7" height="7" fill="#a34bfa"/>
<rect x="270" y="600" width="7" height="7" fill="#ad48fa"/>
<rect x="276" y="600" width="7" height="7" fill="#b844fa"/>
<rect x="282" y="600" width="7" height="7" fill="#c241fa"/>
<rect x="288" y="600" width="7" height="7" fill="#cc3dfa"/>
<rect x="294" y="600" width="7" height="7" fill="#d739fa"/>
<rect x="300" y="600" width="7" height="7" fill="#e135fa"/>
<rect x="306" y="600" width="7" height="7" fill="#eb31fa"/>
<rect x="312" y="600" width="7" height="7" fill="#f52dfa"/>
<rect x="318" y="600" width="7" height="7" fill="#fa2cf7"/>
<rect x="324" y="600" width="7" height="7" fill="#fa2bf2"/>
<rect x="330" y="600" width="7" height="7" fill="#fa2aed"/>
<rect x="336" y="600" width="7" height="7" fill="#fa29e8"/>
<rect x="342" y="600" width="7" height="7" fill="#fa28e4"/>
<rect x="348" y="600" width="7" height="7" fill="#fa27df"/>
<rect x="354" y="600" width="7" height="7" fill="#fa26da"/>
<rect x="360" y="600" width="7" height="7" fill="#fa25d5"/>
<rect x="366" y="600" width="7" height="7" fill="#fa24d1"/>
<rect x="372" y="600" width="7" height="7" fill="#fa23cc"/>
<rect x="378" y="600" width="7" height="7" fill="#fa23c8"/>
<rect x="384" y="600" width="7" height="7" fill="#fa22c3"/>
<rect x="390" y="600" width="7" height="7" fill="#fa21bf"/>
<rect x="396" y="600" width="7" height="7" fill="#fa20ba"/>
<rect x="402" y="600" width="7" height="7" fill="#fa1fb6"/>
<rect x="408" y="600" width="7" height="7" fill="#fa1eb2"/>
<rect x="414" y="600" width="7" height="7" fill="#fa1dad"/>
<rect x="420" y="600" width="7" height="7" fill="#fa1da9"/>
<rect x="426" y="600" width="7" height="7" fill="#fa1ca5"/>
<rect x="432" y="600" width="7" height="7" fill="#fa1ba1"/>
<rect x="438" y="600" width="7" height="7" fill="#fa1a9d"/>
<rect x="444" y="600" width="7" height="7" fill="#fa1999"/>
<rect x="450" y="600" width="7" height="7" fill="#fa1995"/>
<rect x="456" y="600" width="7" height="7" fill="#fa1991"/>
<rect x="462" y="600" width="7" height="7" fill="#fa198e"/>
<rect x="468" y="600" width="7" height="7" fill="#fa198a"/>
<rect x="474" y="600" width="7" height="7" fill="#fa1987"/>
<rect x="480" y="600" width="7" height="7" fill="#fa1983"/>
<rect x="486" y="600" width="7" height="7" fill="#fa1980"/>
<rect x="492" y="600" width="7" height="7" fill="#fa197d"/>
<rect x="498" y="600" width="7" height="7" fill="#fa1979"/>
<rect x="114" y="606" width="7" height="7" fill="#2d8cfa"/>
<rect x="120" y="606" width="7" height="7" fill="#2d8afa"/>
<rect x="126" y="606" width="7" height="7" fill="#2d89fa"/>
<rect x="132" y="606" width="7" height="7" fill="#2d87fa"/>
<rect x="138" y="606" width="7" height="7" fill="#2d85fa"/>
<rect x="144" y="606" width="7" height="7" fill="#2d83fa"/>
<rect x="150" y="606" width="7" height="7" fill="#2d81fa"/>
<rect x="156" y="606" width="7" height="7" fill="#2d7ffa"/>
<rect x="162" y="606" width="7" height="7" fill="#2d7dfa"/>
<rect x="168" y="606" width="7" height="7" fill="#2d7bfa"/>
<rect x="174" y="606" width="7" height="7" fill="#2d79fa"/>
<rect x="180" y="606" width="7" height="7" fill="#2d76fa"/>
<rect x="186" y="606" width="7" height="7" fill="#2d74fa"/>
<rect x="192" y="606" width="7" height="7" fill="#2d72fa"/>
<rect x="198" y="606" width="7" height="7" fill="#2d6ffa"/>
<rect x="204" y="606" width="7" height="7" fill="#316cfa"/>
<rect x="210" y="606" width="7" height="7" fill="#3e67fa"/>
<rect x="216" y="606" width="7" height="7" fill="#4a61fa"/>
<rect x="222" y="606" width="7" height="7" fill="#575afa"/>
<rect x="228" y="606" width="7" height="7" fill="#6256fa"/>
<rect x="234" y="606" width="7" height="7" fill="#6e53fa"/>
<rect x="240" y="606" width="7" height="7" fill="#7951fa"/>
<rect x="246" y="606" width="7" height="7" fill="#844efa"/>
<rect x="252" y="606" width="7" height="7" fill="#8e4afa"/>
<rect x="258" y="606" width="7" height="7" fill="#9947fa"/>
<rect x="264" y="606" width="7" height="7" fill="#a344fa"/>
<rect x="270" y="606" width="7" height="7" fill="#ae40fa"/>
<rect x="276" y="606" width="7" height="7" fill="#b83dfa"/>
<rect x="282" y="606" width="7" height="7" fill="#c239fa"/>
<rect x="288" y="606" width="7" height="7" fill="#cc35fa"/>
<rect x="294" y="606" width="7" height="7" fill="#d631fa"/>
<rect x="300" y="606" width="7" height="7" fill="#e02dfa"/>
<rect x="306" y="606" width="7" height="7" fill="#eb2dfa"/>
<rect x="312" y="606" width="7" height="7" fill="#f52dfa"/>
<rect x="318" y="606" width="7" height="7" fill="#fa2cf7"/>
<rect x="324" y="606" width="7" height="7" fill="#fa2bf3"/>
<rect x="330" y="606" width="7" height="7" fill="#fa2aee"/>
<rect x="336" y="606" width="7" height="7" fill="#fa29e9"/>
<rect x="342" y="606" width="7" height="7" fill="#fa28e4"/>
<rect x="348" y="606" width="7" height="7" fill="#fa27e0"/>
<rect x="354" y="606" width="7" height="7" fill="#fa26db"/>
<rect x="360" y="606" width="7" height="7" fill="#fa25d6"/>
<rect x="366" y="606" width="7" height="7" fill="#fa25d2"/>
<rect x="372" y="606" width="7" height="7" fill="#fa24cd"/>
<rect x="378" y="606" width="7" height="7" fill="#fa23c9"/>
<rect x="384" y="606" width="7" height="7" fill="#fa22c4"/>
<rect x="390" y="606" width="7" height="7" fill="#fa21c0"/>
<rect x="396" y="606" width="7" height="7" fill="#fa20bc"/>
<rect x="402" y="606" width="7" height="7" fill="#fa1fb7"/>
<rect x="408" y="606" width="7" height="7" fill="#fa1eb3"/>
<rect x="414" y="606" width="7" height="7" fill="#fa1eaf"/>
<rect x="420" y="606" width="7" height="7" fill="#fa1dab"/>
<rect x="426" y="606" width="7" height="7" fill="#fa1ca7"/>
<rect x="432" y="606" width="7" height="7" fill="#fa1ba2"/>
<rect x="438" y="606" width="7" height="7" fill="#fa1b9e"/>
<rect x="444" y="606" width="7" height="7" fill="#fa1a9a"/>
<rect x="450" y="606" width="7" height="7" fill="#fa1996"/>
<rect x="456" y="606" width="7" height="7" fill="#fa1993"/>
<rect x="462" y="606" width="7" height="7" fill="#fa198f"/>
<rect x="468" y="606" width="7" height="7" fill="#fa198c"/>
<rect x="474" y="606" width="7" height="7" fill="#fa1988"/>
<rect x="480" y="606" width="7" height="7" fill="#fa1985"/>
<rect x="486" y="606" width="7" height="7" fill="#fa1982"/>
<rect x="120" y="612" width="7" height="7" fill="#2d85fa"/>
<rect x="126" y="612" width="7" height="7" fill="#2d83fa"/>
<rect x="132" y="612" width="7" height="7" fill="#2d81fa"/>
<rect x="138" y="612" width="7" height="7" fill="#2d80fa"/>
<rect x="144" y="612" width="7" height="7" fill="#2d7efa"/>
<rect x="150" y="612" width="7" height="7" fill="#2d7bfa"/>
<rect x="156" y="612" width="7" height="7" fill="#2d79fa"/>
<rect x="162" y="612" width="7" height="7" fill="#2d77fa"/>
<rect x="168" y="612" width="7" height="7" fill="#2d75fa"/>
<rect x="174" y="612" width="7" height="7" fill="#2d73fa"/>
<rect x="180" y="612" width="7" height="7" fill="#2d70fa"/>
<rect x="186" y="612" width="7" height="7" fill="#2d6efa"/>
<rect x="192" y="612" width="7" height="7" fill="#2d6bfa"/>
<rect x="198" y="612" width="7" height="7" fill="#2d68fa"/>
<rect x="204" y="612" width="7" height="7" fill="#3564fa"/>
<rect x="210" y="612" width="7" height="7" fill="#415ffa"/>
<rect x="216" y="612" width="7" height="7" fill="#4d58fa"/>
<rect x="222" y="612" width="7" height="7" fill="#5953fa"/>
<rect x="228" y="612" width="7" height="7" fill="#6450fa"/>
<rect x="234" y="612" width="7" height="7" fill="#6f4dfa"/>
<rect x="240" y="612" width="7" height="7" fill="#7a4afa"/>
<rect x="246" y="612" width="7" height="7" fill="#8547fa"/>
<rect x="252" y="612" width="7" height="7" fill="#8f44fa"/>
<rect x="258" y="612" width="7" height="7" fill="#9a40fa"/>
<rect x="264" y="612" width="7" height="7" fill="#a43dfa"/>
<rect x="270" y="612" width="7" height="7" fill="#ae39fa"/>
<rect x="276" y="612" width="7" height="7" fill="#b836fa"/>
<rect x="282" y="612" width="7" height="7" fill="#c232fa"/>
<rect x="288" y="612" width="7" height="7" fill="#cc2efa"/>
<rect x="294" y="612" width="7" height="7" fill="#d62dfa"/>
<rect x="300" y="612" width="7" height="7" fill="#e02dfa"/>
<rect x="306" y="612" width="7" height="7" fill="#ea2dfa"/>
<rect x="312" y="612" width="7" height="7" fill="#f42dfa"/>
<rect x="318" y="612" width="7" height="7" fill="#fa2df8"/>
<rect x="324" y="612" width="7" height="7" fill="#fa2bf3"/>
<rect x="330" y="612" width="7" height="7" fill="#fa2aee"/>
<rect x="336" y="612" width="7" height="7" fill="#fa29ea"/>
<rect x="342" y="612" width="7" height="7" fill="#fa28e5"/>
<rect x="348" y="612" width="7" height="7" fill="#fa27e0"/>
<rect x="354" y="612" width="7" height="7" fill="#fa27dc"/>
<rect x="360" y="612" width="7" height="7" fill="#fa26d7"/>
<rect x="366" y="612" width="7" height="7" fill="#fa25d3"/>
<rect x="372" y="612" width="7" height="7" fill="#fa24ce"/>
<rect x="378" y="612" width="7" height="7" fill="#fa23ca"/>
<rect x="384" y="612" width="7" height="7" fill="#fa22c5"/>
<rect x="390" y="612" width="7" height="7" fill="#fa21c1"/>
<rect x="396" y="612" width="7" height="7" fill="#fa20bd"/>
<rect x="402" y="612" width="7" height="7" fill="#fa20b9"/>
<rect x="408" y="612" width="7" height="7" fill="#fa1fb4"/>
<rect x="414" y="612" width="7" height="7" fill="#fa1eb0"/>
<rect x="420" y="612" width="7" height="7" fill="#fa1dac"/>
<rect x="426" y="612" width="7" height="7" fill="#fa1ca8"/>
<rect x="432" y="612" width="7" height="7" fill="#fa1ca4"/>
<rect x="438" y="612" width="7" height="7" fill="#fa1ba0"/>
<rect x="444" y="612" width="7" height="7" fill="#fa1a9c"/>
<rect x="450" y="612" width="7" height="7" fill="#fa1998"/>
<rect x="456" y="612" width="7" height="7" fill="#fa1994"/>
<rect x="462" y="612" width="7" height="7" fill="#fa1991"/>
<rect x="468" y="612" width="7" height="7" fill="#fa198d"/>
<rect x="474" y="612" width="7" height="7" fill="#fa198a"/>
<rect x="120" y="618" width="7" height="7" fill="#2d80fa"/>
<rect x="126" y="618" width="7" height="7" fill="#2d7efa"/>
<rect x="132" y="618" width="7" height="7" fill="#2d7cfa"/>
<rect x="138" y="618" width="7" height="7" fill="#2d7afa"/>
<rect x="144" y="618" width="7" height="7" fill="#2d78fa"/>
<rect x="150" y="618" width="7" height="7" fill="#2d76fa"/>
<rect x="156" y="618" width="7" height="7" fill="#2d73fa"/>
<rect x="162" y="618" width="7" height="7" fill="#2d71fa"/>
<rect x="168" y="618" width="7" height="7" fill="#2d6ffa"/>
<rect x="174" y="618" width="7" height="7" fill="#2d6cfa"/>
<rect x="180" y="618" width="7" height="7" fill="#2d6afa"/>
<rect x="186" y="618" width="7" height="7" fill="#2d67fa"/>
<rect x="192" y="618" width="7" height="7" fill="#2d64fa"/>
<rect x="198" y="618" width="7" height="7" fill="#2d62fa"/>
<rect x="204" y="618" width="7" height="7" fill="#385dfa"/>
<rect x="210" y="618" width="7" height="7" fill="#4457fa"/>
<rect x="216" y="618" width="7" height="7" fill="#504ffa"/>
<rect x="222" y="618" width="7" height="7" fill="#5b4cfa"/>
<rect x="228" y="618" width="7" height="7" fill="#6649fa"/>
<rect x="234" y="618" width="7" height="7" fill="#7146fa"/>
<rect x="240" y="618" width="7" height="7" fill="#7b43fa"/>
<rect x="246" y="618" width="7" height="7" fill="#8640fa"/>
<rect x="252" y="618" width="7" height="7" fill="#903dfa"/>
<rect x="258" y="618" width="7" height="7" fill="#9a3afa"/>
<rect x="264" y="618" width="7" height="7" fill="#a436fa"/>
<rect x="270" y="618" width="7" height="7" fill="#ae32fa"/>
<rect x="276" y="618" width="7" height="7" fill="#b82ffa"/>
<rect x="282" y="618" width="7" height="7" fill="#c22dfa"/>
<rect x="288" y="618" width="7" height="7" fill="#cc2dfa"/>
<rect x="294" y="618" width="7" height="7" fill="#d62dfa"/>
<rect x="300" y="618" width="7" height="7" fill="#e02dfa"/>
<rect x="306" y="618" width="7" height="7" fill="#ea2dfa"/>
<rect x="312" y="618" width="7" height="7" fill="#f42dfa"/>
<rect x="318" y="618" width="7" height="7" fill="#fa2df8"/>
<rect x="324" y="618" width="7" height="7" fill="#fa2cf3"/>
<rect x="330" y="618" width="7" height="7" fill="#fa2bef"/>
<rect x="336" y="618" width="7" height="7" fill="#fa2aea"/>
<rect x="342" y="618" width="7" height="7" fill="#fa29e5"/>
<rect x="348" y="618" width="7" height="7" fill="#fa28e1"/>
<rect x="354" y="618" width="7" height="7" fill="#fa27dc"/>
<rect x="360" y="618" width="7" height="7" fill="#fa26d8"/>
<rect x="366" y="618" width="7" height="7" fill="#fa25d3"/>
<rect x="372" y="618" width="7" height="7" fill="#fa24cf"/>
<rect x="378" y="618" width="7" height="7" fill="#fa23cb"/>
<rect x="384" y="618" width="7" height="7" fill="#fa22c6"/>
<rect x="390" y="618" width="7" height="7" fill="#fa21c2"/>
<rect x="396" y="618" width="7" height="7" fill="#fa21be"/>
<rect x="402" y="618" width="7" height="7" fill="#fa20ba"/>
<rect x="408" y="618" width="7" height="7" fill="#fa1fb6"/>
<rect x="414" y="618" width="7" height="7" fill="#fa1eb2"/>
<rect x="420" y="618" width="7" height="7" fill="#fa1dad"/>
<rect x="426" y="618" width="7" height="7" fill="#fa1da9"/>
<rect x="432" y="618" width="7" height="7" fill="#fa1ca5"/>
<rect x="438" y="618" width="7" height="7" fill="#fa1ba2"/>
<rect x="444" y="618" width="7" height="7" fill="#fa1a9e"/>
<rect x="450" y="618" width="7" height="7" fill="#fa1a9a"/>
<rect x="456" y="618" width="7" height="7" fill="#fa1996"/>
<rect x="462" y="618" width="7" height="7" fill="#fa1992"/>
<rect x="120" y="624" width="7" height="7" fill="#2d7afa"/>
<rect x="126" y="624" width="7" height="7" fill="#2d78fa"/>
<rect x="132" y="624" width="7" height="7" fill="#2d76fa"/>
<rect x="138" y="624" width="7" height="7" fill="#2d74fa"/>
<rect x="144" y="624" width="7" height="7" fill="#2d72fa"/>
<rect x="150" y="624" width="7" height="7" fill="#2d70fa"/>
<rect x="156" y="624" width="7" height="7" fill="#2d6efa"/>
<rect x="162" y="624" width="7" height="7" fill="#2d6bfa"/>
<rect x="168" y="624" width="7" height="7" fill="#2d69fa"/>
<rect x="174" y="624" width="7" height="7" fill="#2d66fa"/>
<rect x="180" y="624" width="7" height="7" fill="#2d63fa"/>
<rect x="186" y="624" width="7" height="7" fill="#2d61fa"/>
<rect x="192" y="624" width="7" height="7" fill="#2d5efa"/>
<rect x="198" y="624" width="7" height="7" fill="#2f5afa"/>
<rect x="204" y="624" width="7" height="7" fill="#3b55fa"/>
<rect x="210" y="624" width="7" height="7" fill="#474efa"/>
<rect x="216" y="624" width="7" height="7" fill="#5249fa"/>
<rect x="222" y="624" width="7" height="7" fill="#5d46fa"/>
<rect x="228" y="624" width="7" height="7" fill="#6843fa"/>
<rect x="234" y="624" width="7" height="7" fill="#7240fa"/>
<rect x="240" y="624" width="7" height="7" fill="#7c3dfa"/>
<rect x="246" y="624" width="7" height="7" fill="#873afa"/>
<rect x="252" y="624" width="7" height="7" fill="#9136fa"/>
<rect x="258" y="624" width="7" height="7" fill="#9b33fa"/>
<rect x="264" y="624" width="7" height="7" fill="#a52ffa"/>
<rect x="270" y="624" width="7" height="7" fill="#af2dfa"/>
<rect x="276" y="624" width="7" height="7" fill="#b92dfa"/>
<rect x="282" y="624" width="7" height="7" fill="#c32dfa"/>
<rect x="288" y="624" width="7" height="7" fill="#cd2dfa"/>
<rect x="294" y="624" width="7" height="7" fill="#d62dfa"/>
<rect x="300" y="624" width="7" height="7" fill="#e02dfa"/>
<rect x="306" y="624" width="7" height="7" fill="#ea2dfa"/>
<rect x="312" y="624" width="7" height="7" fill="#f42dfa"/>
<rect x="318" y="624" width="7" height="7" fill="#fa2df8"/>
<rect x="324" y="624" width="7" height="7" fill="#fa2cf4"/>
<rect x="330" y="624" width="7" height="7" fill="#fa2bef"/>
<rect x="336" y="624" width="7" height="7" fill="#fa2aea"/>
<rect x="342" y="624" width="7" height="7" fill="#fa29e6"/>
<rect x="348" y="624" width="7" height="7" fill="#fa28e1"/>
<rect x="354" y="624" width="7" height="7" fill="#fa27dd"/>
<rect x="360" y="624" width="7" height="7" fill="#fa26d9"/>
<rect x="366" y="624" width="7" height="7" fill="#fa25d4"/>
<rect x="372" y="624" width="7" height="7" fill="#fa24d0"/>
<rect x="378" y="624" width="7" height="7" fill="#fa23cc"/>
<rect x="384" y="624" width="7" height="7" fill="#fa22c7"/>
<rect x="390" y="624" width="7" height="7" fill="#fa22c3"/>
<rect x="396" y="624" width="7" height="7" fill="#fa21bf"/>
<rect x="402" y="624" width="7" height="7" fill="#fa20bb"/>
<rect x="408" y="624" width="7" height="7" fill="#fa1fb7"/>
<rect x="414" y="624" width="7" height="7" fill="#fa1eb3"/>
<rect x="420" y="624" width="7" height="7" fill="#fa1eaf"/>
<rect x="426" y="624" width="7" height="7" fill="#fa1dab"/>
<rect x="432" y="624" width="7" height="7" fill="#fa1ca7"/>
<rect x="438" y="624" width="7" height="7" fill="#fa1ba3"/>
<rect x="444" y="624" width="7" height="7" fill="#fa1b9f"/>
<rect x="450" y="624" width="7" height="7" fill="#fa1a9b"/>
<rect x="126" y="630" width="7" height="7" fill="#2d73fa"/>
<rect x="132" y="630" width="7" height="7" fill="#2d71fa"/>
<rect x="138" y="630" width="7" height="7" fill="#2d6ffa"/>
<rect x="144" y="630" width="7" height="7" fill="#2d6cfa"/>
<rect x="150" y="630" width="7" height="7" fill="#2d6afa"/>
<rect x="156" y="630" width="7" height="7" fill="#2d68fa"/>
<rect x="162" y="630" width="7" height="7" fill="#2d65fa"/>
<rect x="168" y="630" width="7" height="7" fill="#2d62fa"/>
<rect x="174" y="630" width="7" height="7" fill="#2d60fa"/>
<rect x="180" y="630" width="7" height="7" fill="#2d5dfa"/>
<rect x="186" y="630" width="7" height="7" fill="#2d5afa"/>
<rect x="192" y="630" width="7" height="7" fill="#2d57fa"/>
<rect x="198" y="630" width="7" height="7" fill="#3253fa"/>
<rect x="204" y="630" width="7" height="7" fill="#3e4cfa"/>
<rect x="210" y="630" width="7" height="7" fill="#4a46fa"/>
<rect x="216" y="630" width="7" height="7" fill="#5443fa"/>
<rect x="222" y="630" width="7" height="7" fill="#5f40fa"/>
<rect x="228" y="630" width="7" height="7" fill="#693dfa"/>
<rect x="234" y="630" width="7" height="7" fill="#733afa"/>
<rect x="240" y="630" width="7" height="7" fill="#7e37fa"/>
<rect x="246" y="630" width="7" height="7" fill="#8733fa"/>
<rect x="252" y="630" width="7" height="7" fill="#9130fa"/>
<rect x="258" y="630" width="7" height="7" fill="#9b2dfa"/>
<rect x="264" y="630" width="7" height="7" fill="#a52dfa"/>
<rect x="270" y="630" width="7" height="7" fill="#af2dfa"/>
<rect x="276" y="630" width="7" height="7" fill="#b92dfa"/>
<rect x="282" y="630" width="7" height="7" fill="#c32dfa"/>
<rect x="288" y="630" width="7" height="7" fill="#cd2dfa"/>
<rect x="294" y="630" width="7" height="7" fill="#d72dfa"/>
<rect x="300" y="630" width="7" height="7" fill="#e02dfa"/>
<rect x="306" y="630" width="7" height="7" fill="#ea2dfa"/>
<rect x="312" y="630" width="7" height="7" fill="#f32dfa"/>
<rect x="318" y="630" width="7" height="7" fill="#fa2df9"/>
<rect x="324" y="630" width="7" height="7" fill="#fa2cf4"/>
<rect x="330" y="630" width="7" height="7" fill="#fa2bef"/>
<rect x="336" y="630" width="7" height="7" fill="#fa2aeb"/>
<rect x="342" y="630" width="7" height="7" fill="#fa29e6"/>
<rect x="348" y="630" width="7" height="7" fill="#fa28e2"/>
<rect x="354" y="630" width="7" height="7" fill="#fa27de"/>
<rect x="360" y="630" width="7" height="7" fill="#fa26d9"/>
<rect x="366" y="630" width="7" height="7" fill="#fa25d5"/>
<rect x="372" y="630" width="7" height="7" fill="#fa24d1"/>
<rect x="378" y="630" width="7" height="7" fill="#fa23cd"/>
<rect x="384" y="630" width="7" height="7" fill="#fa23c8"/>
<rect x="390" y="630" width="7" height="7" fill="#fa22c4"/>
<rect x="396" y="630" width="7" height="7" fill="#fa21c0"/>
<rect x="402" y="630" width="7" height="7" fill="#fa20bc"/>
<rect x="408" y="630" width="7" height="7" fill="#fa1fb8"/>
<rect x="414" y="630" width="7" height="7" fill="#fa1fb4"/>
<rect x="420" y="630" width="7" height="7" fill="#fa1eb0"/>
<rect x="426" y="630" width="7" height="7" fill="#fa1dac"/>
<rect x="432" y="630" width="7" height="7" fill="#fa1ca8"/>
<rect x="126" y="636" width="7" height="7" fill="#2d6dfa"/>
<rect x="132" y="636" width="7" height="7" fill="#2d6bfa"/>
<rect x="138" y="636" width="7" height="7" fill="#2d69fa"/>
<rect x="144" y="636" width="7" height="7" fill="#2d66fa"/>
<rect x="150" y="636" width="7" height="7" fill="#2d64fa"/>
<rect x="156" y="636" width="7" height="7" fill="#2d61fa"/>
<rect x="162" y="636" width="7" height="7" fill="#2d5ffa"/>
<rect x="168" y="636" width="7" height="7" fill="#2d5cfa"/>
<rect x="174" y="636" width="7" height="7" fill="#2d59fa"/>
<rect x="180" y="636" width="7" height="7" fill="#2d56fa"/>
<rect x="186" y="636" width="7" height="7" fill="#2d53fa"/>
<rect x="192" y="636" width="7" height="7" fill="#2d50fa"/>
<rect x="198" y="636" width="7" height="7" fill="#354bfa"/>
<rect x="204" y="636" width="7" height="7" fill="#4144fa"/>
<rect x="210" y="636" width="7" height="7" fill="#4c40fa"/>
<rect x="216" y="636" width="7" height="7" fill="#563dfa"/>
<rect x="222" y="636" width="7" height="7" fill="#603afa"/>
<rect x="228" y="636" width="7" height="7" fill="#6b37fa"/>
<rect x="234" y="636" width="7" height="7" fill="#7534fa"/>
<rect x="240" y="636" width="7" height="7" fill="#7e30fa"/>
<rect x="246" y="636" width="7" height="7" fill="#882dfa"/>
<rect x="252" y="636" width="7" height="7" fill="#922dfa"/>
<rect x="258" y="636" width="7" height="7" fill="#9c2dfa"/>
<rect x="264" y="636" width="7" height="7" fill="#a62dfa"/>
<rect x="270" y="636" width="7" height="7" fill="#b02dfa"/>
<rect x="276" y="636" width="7" height="7" fill="#ba2dfa"/>
<rect x="282" y="636" width="7" height="7" fill="#c42dfa"/>
<rect x="288" y="636" width="7" height="7" fill="#cd2dfa"/>
<rect x="294" y="636" width="7" height="7" fill="#d72dfa"/>
<rect x="300" y="636" width="7" height="7" fill="#e02dfa"/>
<rect x="306" y="636" width="7" height="7" fill="#ea2dfa"/>
<rect x="312" y="636" width="7" height="7" fill="#f32dfa"/>
<rect x="318" y="636" width="7" height="7" fill="#fa2df9"/>
<rect x="324" y="636" width="7" height="7" fill="#fa2cf4"/>
<rect x="330" y="636" width="7" height="7" fill="#fa2bf0"/>
<rect x="336" y="636" width="7" height="7" fill="#fa2aeb"/>
<rect x="342" y="636" width="7" height="7" fill="#fa29e7"/>
<rect x="348" y="636" width="7" height="7" fill="#fa28e3"/>
<rect x="354" y="636" width="7" height="7" fill="#fa27de"/>
<rect x="360" y="636" width="7" height="7" fill="#fa26da"/>
<rect x="366" y="636" width="7" height="7" fill="#fa25d6"/>
<rect x="372" y="636" width="7" height="7" fill="#fa24d2"/>
<rect x="378" y="636" width="7" height="7" fill="#fa24cd"/>
<rect x="384" y="636" width="7" height="7" fill="#fa23c9"/>
<rect x="390" y="636" width="7" height="7" fill="#fa22c5"/>
<rect x="396" y="636" width="7" height="7" fill="#fa21c1"/>
<rect x="402" y="636" width="7" height="7" fill="#fa20bd"/>
<rect x="408" y="636" width="7" height="7" fill="#fa20b9"/>
<rect x="414" y="636" width="7" height="7" fill="#fa1fb5"/>
<rect x="420" y="636" width="7" height="7" fill="#fa1eb1"/>
<rect x="126" y="642" width="7" height="7" fill="#2d68fa"/>
<rect x="132" y="642" width="7" height="7" fill="#2d66fa"/>
<rect x="138" y="642" width="7" height="7" fill="#2d63fa"/>
<rect x="144" y="642" width="7" height="7" fill="#2d61fa"/>
<rect x="150" y="642" width="7" height="7" fill="#2d5efa"/>
<rect x="156" y="642" width="7" height="7" fill="#2d5bfa"/>
<rect x="162" y="642" width="7" height="7" fill="#2d59fa"/>
<rect x="168" y="642" width="7" height="7" fill="#2d56fa"/>
<rect x="174" y="642" width="7" height="7" fill="#2d53fa"/>
<rect x="180" y="642" width="7" height="7" fill="#2d50fa"/>
<rect x="186" y="642" width="7" height="7" fill="#2d4cfa"/>
<rect x="192" y="642" width="7" height="7" fill="#2d49fa"/>
<rect x="198" y="642" width="7" height="7" fill="#3942fa"/>
<rect x="204" y="642" width="7" height="7" fill="#433dfa"/>
<rect x="210" y="642" width="7" height="7" fill="#4e3afa"/>
<rect x="216" y="642" width="7" height="7" fill="#5837fa"/>
<rect x="222" y="642" width="7" height="7" fill="#6234fa"/>
<rect x="228" y="642" width="7" height="7" fill="#6c31fa"/>
<rect x="234" y="642" width="7" height="7" fill="#762efa"/>
<rect x="240" y="642" width="7" height="7" fill="#802dfa"/>
<rect x="246" y="642" width="7" height="7" fill="#8a2dfa"/>
<rect x="252" y="642" width="7" height="7" fill="#942dfa"/>
<rect x="258" y="642" width="7" height="7" fill="#9d2dfa"/>
<rect x="264" y="642" width="7" height="7" fill="#a72dfa"/>
<rect x="270" y="642" width="7" height="7" fill="#b12dfa"/>
<rect x="276" y="642" width="7" height="7" fill="#ba2dfa"/>
<rect x="282" y="642" width="7" height="7" fill="#c42dfa"/>
<rect x="288" y="642" width="7" height="7" fill="#cd2dfa"/>
<rect x="294" y="642" width="7" height="7" fill="#d72dfa"/>
<rect x="300" y="642" width="7" height="7" fill="#e02dfa"/>
<rect x="306" y="642" width="7" height="7" fill="#e92dfa"/>
<rect x="312" y="642" width="7" height="7" fill="#f32dfa"/>
<rect x="318" y="642" width="7" height="7" fill="#fa2df9"/>
<rect x="324" y="642" width="7" height="7" fill="#fa2cf5"/>
<rect x="330" y="642" width="7" height="7" fill="#fa2bf0"/>
<rect x="336" y="642" width="7" height="7" fill="#fa2aec"/>
<rect x="342" y="642" width="7" height="7" fill="#fa29e7"/>
<rect x="348" y="642" width="7" height="7" fill="#fa28e3"/>
<rect x="354" y="642" width="7" height="7" fill="#fa27df"/>
<rect x="360" y="642" width="7" height="7" fill="#fa26db"/>
<rect x="366" y="642" width="7" height="7" fill="#fa25d7"/>
<rect x="372" y="642" width="7" height="7" fill="#fa25d2"/>
<rect x="378" y="642" width="7" height="7" fill="#fa24ce"/>
<rect x="384" y="642" width="7" height="7" fill="#fa23ca"/>
<rect x="390" y="642" width="7" height="7" fill="#fa22c6"/>
<rect x="396" y="642" width="7" height="7" fill="#fa21c2"/>
<rect x="402" y="642" width="7" height="7" fill="#fa21be"/>
<rect x="408" y="642" width="7" height="7" fill="#fa20ba"/>
<rect x="132" y="648" width="7" height="7" fill="#2d60fa"/>
<rect x="138" y="648" width="7" height="7" fill="#2d5dfa"/>
<rect x="144" y="648" width="7" height="7" fill="#2d5bfa"/>
<rect x="150" y="648" width="7" height="7" fill="#2d58fa"/>
<rect x="156" y="648" width="7" height="7" fill="#2d55fa"/>
<rect x="162" y="648" width="7" height="7" fill="#2d52fa"/>
<rect x="168" y="648" width="7" height="7" fill="#2d4ffa"/>
<rect x="174" y="648" width="7" height="7" fill="#2d4cfa"/>
<rect x="180" y="648" width="7" height="7" fill="#2d49fa"/>
<rect x="186" y="648" width="7" height="7" fill="#2d46fa"/>
<rect x="192" y="648" width="7" height="7" fill="#3041fa"/>
<rect x="198" y="648" width="7" height="7" fill="#3b3afa"/>
<rect x="204" y="648" width="7" height="7" fill="#4637fa"/>
<rect x="210" y="648" width="7" height="7" fill="#5034fa"/>
<rect x="216" y="648" width="7" height="7" fill="#5a31fa"/>
<rect x="222" y="648" width="7" height="7" fill="#632efa"/>
<rect x="228" y="648" width="7" height="7" fill="#6d2dfa"/>
<rect x="234" y="648" width="7" height="7" fill="#772dfa"/>
<rect x="240" y="648" width="7" height="7" fill="#812dfa"/>
<rect x="246" y="648" width="7" height="7" fill="#8b2dfa"/>
<rect x="252" y="648" width="7" height="7" fill="#952dfa"/>
<rect x="258" y="648" width="7" height="7" fill="#9e2dfa"/>
<rect x="264" y="648" width="7" height="7" fill="#a82dfa"/>
<rect x="270" y="648" width="7" height="7" fill="#b22dfa"/>
<rect x="276" y="648" width="7" height="7" fill="#bb2dfa"/>
<rect x="282" y="648" width="7" height="7" fill="#c42dfa"/>
<rect x="288" y="648" width="7" height="7" fill="#ce2dfa"/>
<rect x="294" y="648" width="7" height="7" fill="#d72dfa"/>
<rect x="300" y="648" width="7" height="7" fill="#e02dfa"/>
<rect x="306" y="648" width="7" height="7" fill="#e92dfa"/>
<rect x="312" y="648" width="7" height="7" fill="#f22dfa"/>
<rect x="318" y="648" width="7" height="7" fill="#fa2df9"/>
<rect x="324" y="648" width="7" height="7" fill="#fa2cf5"/>
<rect x="330" y="648" width="7" height="7" fill="#fa2bf0"/>
<rect x="336" y="648" width="7" height="7" fill="#fa2aec"/>
<rect x="342" y="648" width="7" height="7" fill="#fa29e8"/>
<rect x="348" y="648" width="7" height="7" fill="#fa28e4"/>
<rect x="354" y="648" width="7" height="7" fill="#fa27e0"/>
<rect x="360" y="648" width="7" height="7" fill="#fa26db"/>
<rect x="366" y="648" width="7" height="7" fill="#fa26d7"/>
<rect x="372" y="648" width="7" height="7" fill="#fa25d3"/>
<rect x="378" y="648" width="7" height="7" fill="#fa24cf"/>
<rect x="384" y="648" width="7" height="7" fill="#fa23cb"/>
<rect x="390" y="648" width="7" height="7" fill="#fa22c7"/>
<rect x="396" y="648" width="7" height="7" fill="#fa22c3"/>
<rect x="132" y="654" width="7" height="7" fill="#2d5afa"/>
<rect x="138" y="654" width="7" height="7" fill="#2d57fa"/>
<rect x="144" y="654" width="7" height="7" fill="#2d55fa"/>
<rect x="150" y="654" width="7" height="7" fill="#2d52fa"/>
<rect x="156" y="654" width="7" height="7" fill="#2d4ffa"/>
<rect x="162" y="654" width="7" height="7" fill="#2d4cfa"/>
<rect x="168" y="654" width="7" height="7" fill="#2d49fa"/>
<rect x="174" y="654" width="7" height="7" fill="#2d46fa"/>
<rect x="180" y="654" width="7" height="7" fill="#2d42fa"/>
<rect x="186" y="654" width="7" height="7" fill="#2d3ffa"/>
<rect x="192" y="654" width="7" height="7" fill="#3339fa"/>
<rect x="198" y="654" width="7" height="7" fill="#3e35fa"/>
<rect x="204" y="654" width="7" height="7" fill="#4832fa"/>
<rect x="210" y="654" width="7" height="7" fill="#512ffa"/>
<rect x="216" y="654" width="7" height="7" fill="#5b2dfa"/>
<rect x="222" y="654" width="7" height="7" fill="#652dfa"/>
<rect x="228" y="654" width="7" height="7" fill="#6f2dfa"/>
<rect x="234" y="654" width="7" height="7" fill="#792dfa"/>
<rect x="240" y="654" width="7" height="7" fill="#832dfa"/>
<rect x="246" y="654" width="7" height="7" fill="#8c2dfa"/>
<rect x="252" y="654" width="7" height="7" fill="#962dfa"/>
<rect x="258" y="654" width="7" height="7" fill="#9f2dfa"/>
<rect x="264" y="654" width="7" height="7" fill="#a92dfa"/>
<rect x="270" y="654" width="7" height="7" fill="#b22dfa"/>
<rect x="276" y="654" width="7" height="7" fill="#bc2dfa"/>
<rect x="282" y="654" width="7" height="7" fill="#c52dfa"/>
<rect x="288" y="654" width="7" height="7" fill="#ce2dfa"/>
<rect x="294" y="654" width="7" height="7" fill="#d72dfa"/>
<rect x="300" y="654" width="7" height="7" fill="#e02dfa"/>
<rect x="306" y="654" width="7" height="7" fill="#e92dfa"/>
<rect x="312" y="654" width="7" height="7" fill="#f22dfa"/>
<rect x="318" y="654" width="7" height="7" fill="#fa2df9"/>
<rect x="324" y="654" width="7" height="7" fill="#fa2cf5"/>
<rect x="330" y="654" width="7" height="7" fill="#fa2bf1"/>
<rect x="336" y="654" width="7" height="7" fill="#fa2aed"/>
<rect x="342" y="654" width="7" height="7" fill="#fa29e8"/>
<rect x="348" y="654" width="7" height="7" fill="#fa28e4"/>
<rect x="354" y="654" width="7" height="7" fill="#fa27e0"/>
<rect x="360" y="654" width="7" height="7" fill="#fa27dc"/>
<rect x="366" y="654" width="7" height="7" fill="#fa26d8"/>
<rect x="372" y="654" width="7" height="7" fill="#fa25d4"/>
<rect x="378" y="654" width="7" height="7" fill="#fa24d0"/>
<rect x="384" y="654" width="7" height="7" fill="#fa23cc"/>
<rect x="138" y="660" width="7" height="7" fill="#2d51fa"/>
<rect x="144" y="660" width="7" height="7" fill="#2d4ffa"/>
<rect x="150" y="660" width="7" height="7" fill="#2d4cfa"/>
<rect x="156" y="660" width="7" height="7" fill="#2d49fa"/>
<rect x="162" y="660" width="7" height="7" fill="#2d45fa"/>
<rect x="168" y="660" width="7" height="7" fill="#2d42fa"/>
<rect x="174" y="660" width="7" height="7" fill="#2d3ffa"/>
<rect x="180" y="660" width="7" height="7" fill="#2d3bfa"/>
<rect x="186" y="660" width="7" height="7" fill="#2d38fa"/>
<rect x="192" y="660" width="7" height="7" fill="#3632fa"/>
<rect x="198" y="660" width="7" height="7" fill="#402ffa"/>
<rect x="204" y="660" width="7" height="7" fill="#4a2dfa"/>
<rect x="210" y="660" width="7" height="7" fill="#542dfa"/>
<rect x="216" y="660" width="7" height="7" fill="#5d2dfa"/>
<rect x="222" y="660" width="7" height="7" fill="#672dfa"/>
<rect x="228" y="660" width="7" height="7" fill="#712dfa"/>
<rect x="234" y="660" width="7" height="7" fill="#7b2dfa"/>
<rect x="240" y="660" width="7" height="7" fill="#842dfa"/>
<rect x="246" y="660" width="7" height="7" fill="#8e2dfa"/>
<rect x="252" y="660" width="7" height="7" fill="#972dfa"/>
<rect x="258" y="660" width="7" height="7" fill="#a02dfa"/>
<rect x="264" y="660" width="7" height="7" fill="#aa2dfa"/>
<rect x="270" y="660" width="7" height="7" fill="#b32dfa"/>
<rect x="276" y="660" width="7" height="7" fill="#bc2dfa"/>
<rect x="282" y="660" width="7" height="7" fill="#c52dfa"/>
<rect x="288" y="660" width="7" height="7" fill="#ce2dfa"/>
<rect x="294" y="660" width="7" height="7" fill="#d72dfa"/>
<rect x="300" y="660" width="7" height="7" fill="#e02dfa"/>
<rect x="306" y="660" width="7" height="7" fill="#e92dfa"/>
<rect x="312" y="660" width="7" height="7" fill="#f22dfa"/>
<rect x="318" y="660" width="7" height="7" fill="#fa2dfa"/>
<rect x="324" y="660" width="7" height="7" fill="#fa2cf5"/>
<rect x="330" y="660" width="7" height="7" fill="#fa2bf1"/>
<rect x="336" y="660" width="7" height="7" fill="#fa2aed"/>
<rect x="342" y="660" width="7" height="7" fill="#fa29e9"/>
<rect x="348" y="660" width="7" height="7" fill="#fa28e5"/>
<rect x="354" y="660" width="7" height="7" fill="#fa28e1"/>
<rect x="360" y="660" width="7" height="7" fill="#fa27dd"/>
<rect x="366" y="660" width="7" height="7" fill="#fa26d9"/>
<rect x="372" y="660" width="7" height="7" fill="#fa25d5"/>
<rect x="138" y="666" width="7" height="7" fill="#2d4bfa"/>
<rect x="144" y="666" width="7" height="7" fill="#2d48fa"/>
<rect x="150" y="666" width="7" height="7" fill="#2d45fa"/>
<rect x="156" y="666" width="7" height="7" fill="#2d42fa"/>
<rect x="162" y="666" width="7" height="7" fill="#2d3ffa"/>
<rect x="168" y="666" width="7" height="7" fill="#2d3cfa"/>
<rect x="174" y="666" width="7" height="7" fill="#2d38fa"/>
<rect x="180" y="666" width="7" height="7" fill="#2d34fa"/>
<rect x="186" y="666" width="7" height="7" fill="#2e30fa"/>
<rect x="192" y="666" width="7" height="7" fill="#382dfa"/>
<rect x="198" y="666" width="7" height="7" fill="#422dfa"/>
<rect x="204" y="666" width="7" height="7" fill="#4c2dfa"/>
<rect x="210" y="666" width="7" height="7" fill="#562dfa"/>
<rect x="216" y="666" width="7" height="7" fill="#5f2dfa"/>
<rect x="222" y="666" width="7" height="7" fill="#692dfa"/>
<rect x="228" y="666" width="7" height="7" fill="#732dfa"/>
<rect x="234" y="666" width="7" height="7" fill="#7c2dfa"/>
<rect x="240" y="666" width="7" height="7" fill="#852dfa"/>
<rect x="246" y="666" width="7" height="7" fill="#8f2dfa"/>
<rect x="252" y="666" width="7" height="7" fill="#982dfa"/>
<rect x="258" y="666" width="7" height="7" fill="#a12dfa"/>
<rect x="264" y="666" width="7" height="7" fill="#aa2dfa"/>
<rect x="270" y="666" width="7" height="7" fill="#b42dfa"/>
<rect x="276" y="666" width="7" height="7" fill="#bd2dfa"/>
<rect x="282" y="666" width="7" height="7" fill="#c62dfa"/>
<rect x="288" y="666" width="7" height="7" fill="#ce2dfa"/>
<rect x="294" y="666" width="7" height="7" fill="#d72dfa"/>
<rect x="300" y="666" width="7" height="7" fill="#e02dfa"/>
<rect x="306" y="666" width="7" height="7" fill="#e92dfa"/>
<rect x="312" y="666" width="7" height="7" fill="#f12dfa"/>
<rect x="318" y="666" width="7" height="7" fill="#fa2dfa"/>
<rect x="324" y="666" width="7" height="7" fill="#fa2cf6"/>
<rect x="330" y="666" width="7" height="7" fill="#fa2bf1"/>
<rect x="336" y="666" width="7" height="7" fill="#fa2aed"/>
<rect x="342" y="666" width="7" height="7" fill="#fa29e9"/>
<rect x="348" y="666" width="7" height="7" fill="#fa29e5"/>
<rect x="354" y="666" width="7" height="7" fill="#fa28e1"/>
<rect x="360" y="666" width="7" height="7" fill="#fa27dd"/>
<rect x="144" y="672" width="7" height="7" fill="#2d42fa"/>
<rect x="150" y="672" width="7" height="7" fill="#2d3ffa"/>
<rect x="156" y="672" width="7" height="7" fill="#2d3cfa"/>
<rect x="162" y="672" width="7" height="7" fill="#2d38fa"/>
<rect x="168" y="672" width="7" height="7" fill="#2d35fa"/>
<rect x="174" y="672" width="7" height="7" fill="#2d31fa"/>
<rect x="180" y="672" width="7" height="7" fill="#2d2dfa"/>
<rect x="186" y="672" width="7" height="7" fill="#312dfa"/>
<rect x="192" y="672" width="7" height="7" fill="#3b2dfa"/>
<rect x="198" y="672" width="7" height="7" fill="#442dfa"/>
<rect x="204" y="672" width="7" height="7" fill="#4e2dfa"/>
<rect x="210" y="672" width="7" height="7" fill="#582dfa"/>
<rect x="216" y="672" width="7" height="7" fill="#612dfa"/>
<rect x="222" y="672" width="7" height="7" fill="#6b2dfa"/>
<rect x="228" y="672" width="7" height="7" fill="#742dfa"/>
<rect x="234" y="672" width="7" height="7" fill="#7d2dfa"/>
<rect x="240" y="672" width="7" height="7" fill="#872dfa"/>
<rect x="246" y="672" width="7" height="7" fill="#902dfa"/>
<rect x="252" y="672" width="7" height="7" fill="#992dfa"/>
<rect x="258" y="672" width="7" height="7" fill="#a22dfa"/>
<rect x="264" y="672" width="7" height="7" fill="#ab2dfa"/>
<rect x="270" y="672" width="7" height="7" fill="#b42dfa"/>
<rect x="276" y="672" width="7" height="7" fill="#bd2dfa"/>
<rect x="282" y="672" width="7" height="7" fill="#c62dfa"/>
<rect x="288" y="672" width="7" height="7" fill="#cf2dfa"/>
<rect x="294" y="672" width="7" height="7" fill="#d72dfa"/>
<rect x="300" y="672" width="7" height="7" fill="#e02dfa"/>
<rect x="306" y="672" width="7" height="7" fill="#e92dfa"/>
<rect x="312" y="672" width="7" height="7" fill="#f12dfa"/>
<rect x="318" y="672" width="7" height="7" fill="#fa2dfa"/>
<rect x="324" y="672" width="7" height="7" fill="#fa2cf6"/>
<rect x="330" y="672" width="7" height="7" fill="#fa2bf2"/>
<rect x="336" y="672" width="7" height="7" fill="#fa2aee"/>
<rect x="342" y="672" width="7" height="7" fill="#fa29ea"/>
<rect x="144" y="678" width="7" height="7" fill="#2d3cfa"/>
<rect x="150" y="678" width="7" height="7" fill="#2d39fa"/>
<rect x="156" y="678" width="7" height="7" fill="#2d35fa"/>
<rect x="162" y="678" width="7" height="7" fill="#2d32fa"/>
<rect x="168" y="678" width="7" height="7" fill="#2d2efa"/>
<rect x="174" y="678" width="13" height="7" fill="#2d2dfa"/>
<rect x="186" y="678" width="7" height="7" fill="#342dfa"/>
<rect x="192" y="678" width="7" height="7" fill="#3d2dfa"/>
<rect x="198" y="678" width="7" height="7" fill="#472dfa"/>
<rect x="204" y="678" width="7" height="7" fill="#502dfa"/>
<rect x="210" y="678" width="7" height="7" fill="#5a2dfa"/>
<rect x="216" y="678" width="7" height="7" fill="#632dfa"/>
<rect x="222" y="678" width="7" height="7" fill="#6c2dfa"/>
<rect x="228" y="678" width="7" height="7" fill="#762dfa"/>
<rect x="234" y="678" width="7" height="7" fill="#7f2dfa"/>
<rect x="240" y="678" width="7" height="7" fill="#882dfa"/>
<rect x="246" y="678" width="7" height="7" fill="#912dfa"/>
<rect x="252" y="678" width="7" height="7" fill="#9a2dfa"/>
<rect x="258" y="678" width="7" height="7" fill="#a32dfa"/>
<rect x="264" y="678" width="7" height="7" fill="#ac2dfa"/>
<rect x="270" y="678" width="7" height="7" fill="#b52dfa"/>
<rect x="276" y="678" width="7" height="7" fill="#be2dfa"/>
<rect x="282" y="678" width="7" height="7" fill="#c62dfa"/>
<rect x="288" y="678" width="7" height="7" fill="#cf2dfa"/>
<rect x="294" y="678" width="7" height="7" fill="#d72dfa"/>
<rect x="300" y="678" width="7" height="7" fill="#e02dfa"/>
<rect x="306" y="678" width="7" height="7" fill="#e82dfa"/>
<rect x="312" y="678" width="7" height="7" fill="#f12dfa"/>
<rect x="318" y="678" width="7" height="7" fill="#f92dfa"/>
<rect x="324" y="678" width="7" height="7" fill="#fa2cf6"/>
<rect x="330" y="678" width="7" height="7" fill="#fa2bf2"/>
<rect x="150" y="684" width="7" height="7" fill="#2d32fa"/>
<rect x="156" y="684" width="7" height="7" fill="#2d2ffa"/>
<rect x="162" y="684" width="25" height="7" fill="#2d2dfa"/>
<rect x="186" y="684" width="7" height="7" fill="#362dfa"/>
<rect x="192" y="684" width="7" height="7" fill="#402dfa"/>
<rect x="198" y="684" width="7" height="7" fill="#492dfa"/>
<rect x="204" y="684" width="7" height="7" fill="#522dfa"/>
<rect x="210" y="684" width="7" height="7" fill="#5c2dfa"/>
<rect x="216" y="684" width="7" height="7" fill="#652dfa"/>
<rect x="222" y="684" width="7" height="7" fill="#6e2dfa"/>
<rect x="228" y="684" width="7" height="7" fill="#772dfa"/>
<rect x="234" y="684" width="7" height="7" fill="#802dfa"/>
<rect x="240" y="684" width="7" height="7" fill="#892dfa"/>
<rect x="246" y="684" width="7" height="7" fill="#922dfa"/>
<rect x="252" y="684" width="7" height="7" fill="#9b2dfa"/>
<rect x="258" y="684" width="7" height="7" fill="#a42dfa"/>
<rect x="264" y="684" width="7" height="7" fill="#ad2dfa"/>
<rect x="270" y="684" width="7" height="7" fill="#b52dfa"/>
<rect x="276" y="684" width="7" height="7" fill="#be2dfa"/>
<rect x="282" y="684" width="7" height="7" fill="#c72dfa"/>
<rect x="288" y="684" width="7" height="7" fill="#cf2dfa"/>
<rect x="294" y="684" width="7" height="7" fill="#d82dfa"/>
<rect x="300" y="684" width="7" height="7" fill="#e02dfa"/>
<rect x="306" y="684" width="7" height="7" fill="#e82dfa"/>
<rect x="312" y="684" width="7" height="7" fill="#f12dfa"/>
<rect x="318" y="684" width="7" height="7" fill="#f92dfa"/>
<rect x="150" y="690" width="31" height="7" fill="#2d2dfa"/>
<rect x="180" y="690" width="7" height="7" fill="#2f2dfa"/>
<rect x="186" y="690" width="7" height="7" fill="#392dfa"/>
<rect x="192" y="690" width="7" height="7" fill="#422dfa"/>
<rect x="198" y="690" width="7" height="7" fill="#4b2dfa"/>
<rect x="204" y="690" width="7" height="7" fill="#542dfa"/>
<rect x="210" y="690" width="7" height="7" fill="#5e2dfa"/>
<rect x="216" y="690" width="7" height="7" fill="#672dfa"/>
<rect x="222" y="690" width="7" height="7" fill="#702dfa"/>
<rect x="228" y="690" width="7" height="7" fill="#792dfa"/>
<rect x="234" y="690" width="7" height="7" fill="#822dfa"/>
<rect x="240" y="690" width="7" height="7" fill="#8b2dfa"/>
<rect x="246" y="690" width="7" height="7" fill="#932dfa"/>
<rect x="252" y="690" width="7" height="7" fill="#9c2dfa"/>
<rect x="258" y="690" width="7" height="7" fill="#a52dfa"/>
<rect x="264" y="690" width="7" height="7" fill="#ad2dfa"/>
<rect x="270" y="690" width="7" height="7" fill="#b62dfa"/>
<rect x="276" y="690" width="7" height="7" fill="#be2dfa"/>
<rect x="282" y="690" width="7" height="7" fill="#c72dfa"/>
<rect x="288" y="690" width="7" height="7" fill="#cf2dfa"/>
<rect x="294" y="690" width="7" height="7" fill="#d82dfa"/>
<rect x="300" y="690" width="7" height="7" fill="#e02dfa"/>
<rect x="306" y="690" width="7" height="7" fill="#e82dfa"/>
<rect x="156" y="696" width="25" height="7" fill="#2d2dfa"/>
<rect x="180" y="696" width="7" height="7" fill="#322dfa"/>
<rect x="186" y="696" width="7" height="7" fill="#3b2dfa"/>
<rect x="192" y="696" width="7" height="7" fill="#442dfa"/>
<rect x="198" y="696" width="7" height="7" fill="#4d2dfa"/>
<rect x="204" y="696" width="7" height="7" fill="#562dfa"/>
<rect x="210" y="696" width="7" height="7" fill="#5f2dfa"/>
<rect x="216" y="696" width="7" height="7" fill="#682dfa"/>
<rect x="222" y="696" width="7" height="7" fill="#712dfa"/>
<rect x="228" y="696" width="7" height="7" fill="#7a2dfa"/>
<rect x="234" y="696" width="7" height="7" fill="#832dfa"/>
<rect x="240" y="696" width="7" height="7" fill="#8c2dfa"/>
<rect x="246" y="696" width="7" height="7" fill="#942dfa"/>
<rect x="252" y="696" width="7" height="7" fill="#9d2dfa"/>
<rect x="258" y="696" width="7" height="7" fill="#a62dfa"/>
<rect x="264" y="696" width="7" height="7" fill="#ae2dfa"/>
<rect x="270" y="696" width="7" height="7" fill="#b72dfa"/>
<rect x="276" y="696" width="7" height="7" fill="#bf2dfa"/>
<rect x="282" y="696" width="7" height="7" fill="#c72dfa"/>
<rect x="288" y="696" width="7" height="7" fill="#d02dfa"/>
<rect x="294" y="696" width="7" height="7" fill="#d82dfa"/>
<rect x="162" y="702" width="19" height="7" fill="#2d2dfa"/>
<rect x="180" y="702" width="7" height="7" fill="#342dfa"/>
<rect x="186" y="702" width="7" height="7" fill="#3d2dfa"/>
<rect x="192" y="702" width="7" height="7" fill="#462dfa"/>
<rect x="198" y="702" width="7" height="7" fill="#4f2dfa"/>
<rect x="204" y="702" width="7" height="7" fill="#582dfa"/>
<rect x="210" y="702" width="7" height="7" fill="#612dfa"/>
<rect x="216" y="702" width="7" height="7" fill="#6a2dfa"/>
<rect x="222" y="702" width="7" height="7" fill="#732dfa"/>
<rect x="228" y="702" width="7" height="7" fill="#7c2dfa"/>
<rect x="234" y="702" width="7" height="7" fill="#842dfa"/>
<rect x="240" y="702" width="7" height="7" fill="#8d2dfa"/>
<rect x="246" y="702" width="7" height="7" fill="#952dfa"/>
<rect x="252" y="702" width="7" height="7" fill="#9e2dfa"/>
<rect x="258" y="702" width="7" height="7" fill="#a62dfa"/>
<rect x="264" y="702" width="7" height="7" fill="#af2dfa"/>
<rect x="270" y="702" width="7" height="7" fill="#b72dfa"/>
<rect x="276" y="702" width="7" height="7" fill="#bf2dfa"/>
<rect x="282" y="702" width="7" height="7" fill="#c82dfa"/>
<rect x="168" y="708" width="7" height="7" fill="#2d2dfa"/>
<rect x="174" y="708" width="7" height="7" fill="#2e2dfa"/>
<rect x="180" y="708" width="7" height="7" fill="#372dfa"/>
<rect x="186" y="708" width="7" height="7" fill="#402dfa"/>
<rect x="192" y="708" width="7" height="7" fill="#492dfa"/>
<rect x="198" y="708" width="7" height="7" fill="#512dfa"/>
<rect x="204" y="708" width="7" height="7" fill="#5a2dfa"/>
<rect x="210" y="708" width="7" height="7" fill="#632dfa"/>
<rect x="216" y="708" width="7" height="7" fill="#6c2dfa"/>
<rect x="222" y="708" width="7" height="7" fill="#742dfa"/>
<rect x="228" y="708" width="7" height="7" fill="#7d2dfa"/>
<rect x="234" y="708" width="7" height="7" fill="#852dfa"/>
<rect x="240" y="708" width="7" height="7" fill="#8e2dfa"/>
<rect x="246" y="708" width="7" height="7" fill="#962dfa"/>
<rect x="252" y="708" width="7" height="7" fill="#9f2dfa"/>
<rect x="258" y="708" width="7" height="7" fill="#a72dfa"/>
<rect x="264" y="708" width="7" height="7" fill="#af2dfa"/>
<rect x="174" y="714" width="7" height="7" fill="#302dfa"/>
<rect x="180" y="714" width="7" height="7" fill="#392dfa"/>
<rect x="186" y="714" width="7" height="7" fill="#422dfa"/>
<rect x="192" y="714" width="7" height="7" fill="#4b2dfa"/>
<rect x="198" y="714" width="7" height="7" fill="#532dfa"/>
<rect x="204" y="714" width="7" height="7" fill="#5c2dfa"/>
<rect x="210" y="714" width="7" height="7" fill="#652dfa"/>
<rect x="216" y="714" width="7" height="7" fill="#6d2dfa"/>
<rect x="222" y="714" width="7" height="7" fill="#762dfa"/>
<rect x="228" y="714" width="7" height="7" fill="#7e2dfa"/>
<rect x="234" y="714" width="7" height="7" fill="#872dfa"/>
<rect x="240" y="714" width="7" height="7" fill="#8f2dfa"/>
<rect x="246" y="714" width="7" height="7" fill="#972dfa"/>
<rect x="252" y="714" width="7" height="7" fill="#a02dfa"/>
<rect x="180" y="720" width="7" height="7" fill="#3a2dfa"/>
<rect x="186" y="720" width="7" height="7" fill="#432dfa"/>
<rect x="192" y="720" width="7" height="7" fill="#4b2dfa"/>
<rect x="198" y="720" width="7" height="7" fill="#542dfa"/>
<rect x="204" y="720" width="7" height="7" fill="#5d2dfa"/>
<rect x="210" y="720" width="7" height="7" fill="#652dfa"/>
<rect x="216" y="720" width="7" height="7" fill="#6e2dfa"/>
<rect x="222" y="720" width="7" height="7" fill="#762dfa"/>
<rect x="228" y="720" width="7" height="7" fill="#7f2dfa"/>
<rect x="234" y="720" width="7" height="7" fill="#872dfa"/>
<rect x="240" y="720" width="7" height="7" fill="#8f2dfa"/>
<rect x="186" y="726" width="7" height="7" fill="#432dfa"/>
<rect x="192" y="726" width="7" height="7" fill="#4b2dfa"/>
<rect x="198" y="726" width="7" height="7" fill="#542dfa"/>
<rect x="204" y="726" width="7" height="7" fill="#5d2dfa"/>
<rect x="210" y="726" width="7" height="7" fill="#652dfa"/>
<rect x="216" y="726" width="7" height="7" fill="#6e2dfa"/>
<rect x="222" y="726" width="7" height="7" fill="#762dfa"/>
<rect x="228" y="726" width="7" height="7" fill="#7f2dfa"/>
<rect x="192" y="732" width="7" height="7" fill="#4b2dfa"/>
<rect x="198" y="732" width="7" height="7" fill="#542dfa"/>
<rect x="204" y="732" width="7" height="7" fill="#5d2dfa"/>
<rect x="210" y="732" width="7" height="7" fill="#652dfa"/>
<rect x="216" y="732" width="7" height="7" fill="#6e2dfa"/>
</g>
</g>
<g stroke="#111" stroke-width="2" fill="none" stroke-linecap="butt">
<line x1="205.5" y1="715.2" x2="205.6" y2="725.2"/>
<line x1="205.4" y1="715.2" x2="207.4" y2="720.9"/>
<line x1="205.3" y1="715.2" x2="204.3" y2="725.2"/>
<line x1="205.1" y1="715.2" x2="207.7" y2="720.6"/>
<line x1="204.9" y1="715.3" x2="207.9" y2="724.9"/>
<line x1="204.7" y1="715.4" x2="204.4" y2="721.3"/>
<line x1="204.3" y1="715.3" x2="204.7" y2="725.3"/>
<line x1="204.0" y1="715.3" x2="202.8" y2="721.2"/>
<line x1="203.5" y1="715.1" x2="198.8" y2="723.9"/>
<line x1="202.6" y1="714.6" x2="199.1" y2="719.4"/>
<line x1="201.5" y1="713.7" x2="195.3" y2="721.5"/>
<line x1="200.0" y1="712.5" x2="196.0" y2="716.9"/>
<line x1="198.1" y1="710.7" x2="191.4" y2="718.1"/>
<line x1="195.6" y1="708.5" x2="191.6" y2="713.0"/>
<line x1="192.2" y1="705.5" x2="185.6" y2="713.0"/>
<line x1="187.9" y1="701.6" x2="183.8" y2="706.0"/>
<line x1="182.5" y1="696.3" x2="175.2" y2="703.1"/>
<line x1="176.0" y1="688.5" x2="171.2" y2="692.1"/>
<line x1="167.3" y1="674.8" x2="158.6" y2="679.8"/>
<line x1="156.2" y1="652.7" x2="150.8" y2="655.1"/>
<line x1="142.2" y1="617.6" x2="132.9" y2="621.1"/>
<line x1="125.0" y1="565.6" x2="119.2" y2="567.3"/>
<line x1="107.2" y1="493.6" x2="97.4" y2="495.7"/>
<line x1="90.4" y1="403.7" x2="84.5" y2="404.6"/>
<line x1="78.7" y1="307.6" x2="68.8" y2="308.5"/>
<line x1="75.4" y1="218.7" x2="69.4" y2="218.6"/>
<line x1="83.1" y1="145.9" x2="73.3" y2="143.7"/>
<line x1="102.2" y1="98.6" x2="97.4" y2="95.0"/>
<line x1="129.3" y1="82.0" x2="128.1" y2="72.0"/>
<line x1="159.7" y1="87.8" x2="161.9" y2="82.2"/>
<line x1="190.7" y1="103.3" x2="195.7" y2="94.7"/>
<line x1="219.9" y1="121.8" x2="223.3" y2="116.9"/>
<line x1="247.9" y1="142.7" x2="254.1" y2="134.8"/>
<line x1="275.6" y1="165.6" x2="279.5" y2="161.1"/>
<line x1="302.9" y1="190.1" x2="309.7" y2="182.7"/>
<line x1="330.2" y1="215.6" x2="334.4" y2="211.3"/>
<line x1="357.5" y1="241.9" x2="364.5" y2="234.7"/>
<line x1="384.8" y1="268.5" x2="389.0" y2="264.3"/>
<line x1="411.8" y1="295.2" x2="418.8" y2="288.1"/>
<line x1="438.3" y1="321.6" x2="442.5" y2="317.3"/>
<line x1="464.0" y1="347.2" x2="471.1" y2="340.2"/>
<line x1="488.7" y1="371.8" x2="492.9" y2="367.6"/>
<line x1="511.9" y1="394.9" x2="519.0" y2="387.8"/>
<line x1="533.1" y1="416.1" x2="537.4" y2="411.8"/>
<line x1="551.6" y1="434.4" x2="558.6" y2="427.3"/>
<line x1="567.8" y1="450.5" x2="572.0" y2="446.3"/>
<line x1="581.1" y1="463.8" x2="588.2" y2="456.7"/>
<line x1="592.1" y1="474.7" x2="596.3" y2="470.5"/>
<line x1="600.8" y1="483.4" x2="607.9" y2="476.3"/>
<line x1="607.8" y1="490.3" x2="612.0" y2="486.1"/>
<line x1="613.3" y1="495.9" x2="620.4" y2="488.8"/>
<line x1="618.0" y1="500.6" x2="622.3" y2="496.3"/>
<line x1="621.8" y1="504.4" x2="628.9" y2="497.3"/>
<line x1="624.9" y1="507.4" x2="629.1" y2="503.2"/>
<line x1="627.2" y1="509.7" x2="634.2" y2="502.6"/>
<line x1="628.9" y1="511.4" x2="633.1" y2="507.2"/>
<line x1="630.2" y1="512.7" x2="637.3" y2="505.6"/>
<line x1="631.1" y1="513.6" x2="635.3" y2="509.3"/>
<line x1="631.7" y1="514.2" x2="638.8" y2="507.2"/>
<line x1="632.3" y1="514.8" x2="636.5" y2="510.6"/>
<line x1="632.8" y1="515.3" x2="639.9" y2="508.3"/>
<line x1="633.3" y1="515.8" x2="637.6" y2="511.6"/>
<line x1="633.6" y1="516.1" x2="640.6" y2="509.0"/>
<line x1="633.7" y1="516.2" x2="638.0" y2="512.0"/>
<line x1="633.8" y1="516.3" x2="640.9" y2="509.2"/>
</g>
<path d="M208.0 715.5 L205.5 715.2 L205.5 715.2 L205.5 715.2 L205.5 715.2 L205.4 715.2 L205.4 715.2 L205.4 715.2 L205.4 715.2 L205.3 715.2 L205.3 715.2 L205.2 715.2 L205.2 715.2 L205.2 715.2 L205.1 715.2 L205.1 715.2 L205.1 715.3 L205.0 715.3 L205.0 715.3 L205.0 715.3 L204.9 715.3 L204.9 715.3 L204.9 715.3 L204.8 715.4 L204.7 715.4 L204.7 715.4 L204.6 715.3 L204.6 715.3 L204.5 715.3 L204.4 715.3 L204.3 715.3 L204.3 715.3 L204.2 715.3 L204.1 715.3 L204.1 715.3 L204.0 715.3 L203.9 715.3 L203.8 715.3 L203.7 715.2 L203.6 715.2 L203.5 715.1 L203.3 715.0 L203.1 714.9 L203.0 714.8 L202.8 714.7 L202.6 714.6 L202.4 714.4 L202.2 714.3 L202.0 714.1 L201.8 713.9 L201.5 713.7 L201.3 713.5 L201.0 713.3 L200.7 713.0 L200.3 712.8 L200.0 712.5 L199.7 712.2 L199.3 711.8 L198.9 711.5 L198.5 711.1 L198.1 710.7 L197.7 710.3 L197.2 709.9 L196.7 709.4 L196.2 709.0 L195.6 708.5 L195.0 707.9 L194.3 707.4 L193.6 706.8 L192.9 706.1 L192.2 705.5 L191.4 704.8 L190.6 704.1 L189.7 703.3 L188.8 702.5 L187.9 701.6 L186.9 700.7 L185.8 699.7 L184.8 698.7 L183.6 697.5 L182.5 696.3 L181.3 695.0 L180.1 693.6 L178.8 692.1 L177.4 690.4 L176.0 688.5 L174.5 686.4 L172.9 684.0 L171.1 681.2 L169.3 678.2 L167.3 674.8 L165.3 671.2 L163.2 667.2 L161.0 662.8 L158.7 658.0 L156.2 652.7 L153.7 646.8 L151.0 640.4 L148.2 633.4 L145.3 625.8 L142.2 617.6 L139.0 608.7 L135.7 599.2 L132.2 588.8 L128.6 577.6 L125.0 565.6 L121.4 552.9 L117.8 539.3 L114.3 524.9 L110.7 509.7 L107.2 493.6 L103.6 476.8 L100.2 459.3 L96.8 441.2 L93.5 422.6 L90.4 403.7 L87.6 384.6 L84.9 365.3 L82.6 346.0 L80.5 326.8 L78.7 307.6 L77.3 288.8 L76.2 270.4 L75.5 252.6 L75.3 235.4 L75.4 218.7 L76.0 202.6 L77.1 187.2 L78.6 172.5 L80.6 158.7 L83.1 145.9 L86.1 134.1 L89.5 123.4 L93.3 113.8 L97.6 105.6 L102.2 98.6 L107.1 93.0 L112.4 88.6 L117.8 85.3 L123.5 83.1 L129.3 82.0 L135.2 81.8 L141.2 82.4 L147.3 83.7 L153.5 85.5 L159.7 87.8 L166.0 90.4 L172.2 93.3 L178.5 96.5 L184.6 99.9 L190.7 103.3 L196.7 106.9 L202.6 110.5 L208.4 114.2 L214.1 117.9 L219.9 121.8 L225.5 125.8 L231.2 129.9 L236.8 134.1 L242.4 138.3 L247.9 142.7 L253.5 147.1 L259.0 151.6 L264.5 156.2 L270.1 160.9 L275.6 165.6 L281.0 170.4 L286.5 175.2 L292.0 180.1 L297.5 185.1 L302.9 190.1 L308.4 195.1 L313.9 200.2 L319.3 205.3 L324.8 210.5 L330.2 215.6 L335.7 220.9 L341.2 226.1 L346.6 231.3 L352.1 236.6 L357.5 241.9 L363.0 247.2 L368.5 252.5 L373.9 257.9 L379.3 263.2 L384.8 268.5 L390.2 273.9 L395.6 279.2 L401.0 284.6 L406.4 289.9 L411.8 295.2 L417.1 300.5 L422.4 305.8 L427.7 311.1 L433.0 316.3 L438.3 321.6 L443.5 326.8 L448.7 331.9 L453.9 337.1 L459.0 342.2 L464.0 347.2 L469.1 352.3 L474.1 357.2 L479.0 362.1 L483.9 367.0 L488.7 371.8 L493.5 376.6 L498.2 381.2 L502.8 385.9 L507.4 390.4 L511.9 394.9 L516.3 399.3 L520.7 403.7 L525.0 407.9 L529.1 412.1 L533.1 416.1 L537.0 420.0 L540.8 423.7 L544.5 427.4 L548.1 430.9 L551.6 434.4 L555.0 437.8 L558.3 441.2 L561.6 444.4 L564.7 447.5 L567.8 450.5 L570.6 453.4 L573.4 456.2 L576.1 458.8 L578.7 461.4 L581.1 463.8 L583.5 466.2 L585.8 468.4 L588.0 470.6 L590.1 472.7 L592.1 474.7 L594.0 476.6 L595.8 478.4 L597.6 480.2 L599.2 481.8 L600.8 483.4 L602.3 484.9 L603.8 486.4 L605.2 487.8 L606.5 489.1 L607.8 490.3 L609.0 491.5 L610.1 492.7 L611.2 493.8 L612.3 494.9 L613.3 495.9 L614.4 496.9 L615.3 497.9 L616.3 498.8 L617.2 499.7 L618.0 500.6 L618.8 501.4 L619.6 502.2 L620.4 502.9 L621.1 503.7 L621.8 504.4 L622.5 505.0 L623.2 505.7 L623.8 506.3 L624.3 506.9 L624.9 507.4 L625.4 507.9 L625.9 508.4 L626.3 508.8 L626.8 509.3 L627.2 509.7 L627.5 510.0 L627.9 510.4 L628.3 510.8 L628.6 511.1 L628.9 511.4 L629.2 511.7 L629.5 512.0 L629.7 512.2 L630.0 512.5 L630.2 512.7 L630.4 512.9 L630.6 513.1 L630.7 513.2 L630.9 513.4 L631.1 513.6 L631.2 513.7 L631.3 513.8 L631.5 514.0 L631.6 514.1 L631.7 514.2 L631.9 514.4 L632.0 514.5 L632.1 514.6 L632.2 514.7 L632.3 514.8 L632.4 514.9 L632.5 515.0 L632.6 515.1 L632.7 515.2 L632.8 515.3 L632.9 515.4 L633.0 515.5 L633.1 515.6 L633.2 515.7 L633.3 515.8 L633.4 515.9 L633.4 515.9 L633.5 516.0 L633.5 516.0 L633.6 516.1 L633.6 516.1 L633.6 516.1 L633.7 516.2 L633.7 516.2 L633.7 516.2 L633.8 516.3 L633.8 516.3 L633.8 516.3 L633.8 516.3 L633.8 516.3 L635.6 518.1" fill="none" stroke="#0c0c0c" stroke-width="2.4" stroke-linejoin="round" stroke-linecap="round"/>
<line x1="208.0" y1="715.5" x2="635.6" y2="518.1" stroke="#2a0026" stroke-width="1.9" stroke-linecap="round"/>
<g class="serif" font-size="24.5" fill="#3a34b4" stroke="#3a34b4" stroke-width="0.2">
<text x="109.2" y="65.1">520</text>
<text x="253.3" y="127.2">540</text>
<text x="364.5" y="226.6">560</text>
<text x="469.8" y="334.2">580</text>
<text x="559.2" y="422.0">600</text>
<text x="607.3" y="470.2">620</text>
<text x="646.2" y="524.0">700</text>
<text x="27.3" y="315.0">500</text>
<text x="72.9" y="515.8">490</text>
<text x="91.5" y="629.0">480</text>
<text x="119.0" y="686.0">470</text>
<text x="133.0" y="716.8">460</text>
<text x="215.2" y="727.3">380</text>
</g>
<path d="M607.8 495.0 L201.5 111.5 L174.6 681.4 Z" fill="none" stroke="#14141c" stroke-width="4.7" stroke-linejoin="round"/>
<path d="M561.0 467.2 L300.5 261.0 L186.0 673.3 Z" fill="none" stroke="#ffee9f" stroke-opacity="0.8" stroke-width="4.4" stroke-linejoin="round"/>
<g fill="#2e3434">
<circle cx="607.8" cy="495.0" r="4.7"/><circle cx="201.5" cy="111.5" r="4.7"/><circle cx="174.6" cy="681.4" r="4.7"/>
</g>
<g fill="#ffd684" stroke="#e0b060" stroke-opacity="0.5" stroke-width="0.8">
<circle cx="561.0" cy="467.2" r="4.7"/><circle cx="300.5" cy="261.0" r="4.7"/><circle cx="186.0" cy="673.3" r="4.7"/>
</g>
<!-- legend -->
<rect x="343" y="52" width="329" height="85" fill="#000" opacity="0.33" filter="url(#shadow)"/>
<rect x="339" y="45.5" width="329" height="86.5" fill="#ffffff"/>
<g class="sans" font-size="28" fill="#151515" stroke="#151515" stroke-width="0.6">
<text x="349" y="80.5">HDTV (rec.709)</text>
<text x="349" y="118">UHDTV (rec.2020)</text>
</g>
<line x1="597" y1="72.5" x2="644.5" y2="72.5" stroke="#efd98c" stroke-width="3"/>
<line x1="597" y1="110" x2="644.5" y2="110" stroke="#111" stroke-width="3.4"/>
<!-- axis names -->
<text class="sans" x="22" y="378.5" font-size="24" fill="#222">y</text>
<text class="sans" x="372.3" y="772" font-size="23" fill="#222">x</text>
<!-- watermark -->
<text class="serif" x="512" y="767" font-size="41" letter-spacing="8.6" fill="#f8c2ca" opacity="0.9">58codes</text>
<g fill="#ffffff" fill-opacity="0.85" stroke="#ffffff" stroke-width="3" stroke-opacity="0.8"><use href="#wxi"/></g>
<g fill="none" stroke="#9a9a9a" stroke-width="0.9"><use href="#wxi"/></g>
<g id="wm">
<g fill="none" stroke="#ffffff" stroke-width="4" stroke-opacity="0.92" stroke-linecap="round" stroke-linejoin="round">
<use href="#wmg"/>
</g>
<g fill="none" stroke="#3c3c3c" stroke-width="1.15">
<use href="#wmg"/>
</g>
</g>
</svg>
</body></html>
